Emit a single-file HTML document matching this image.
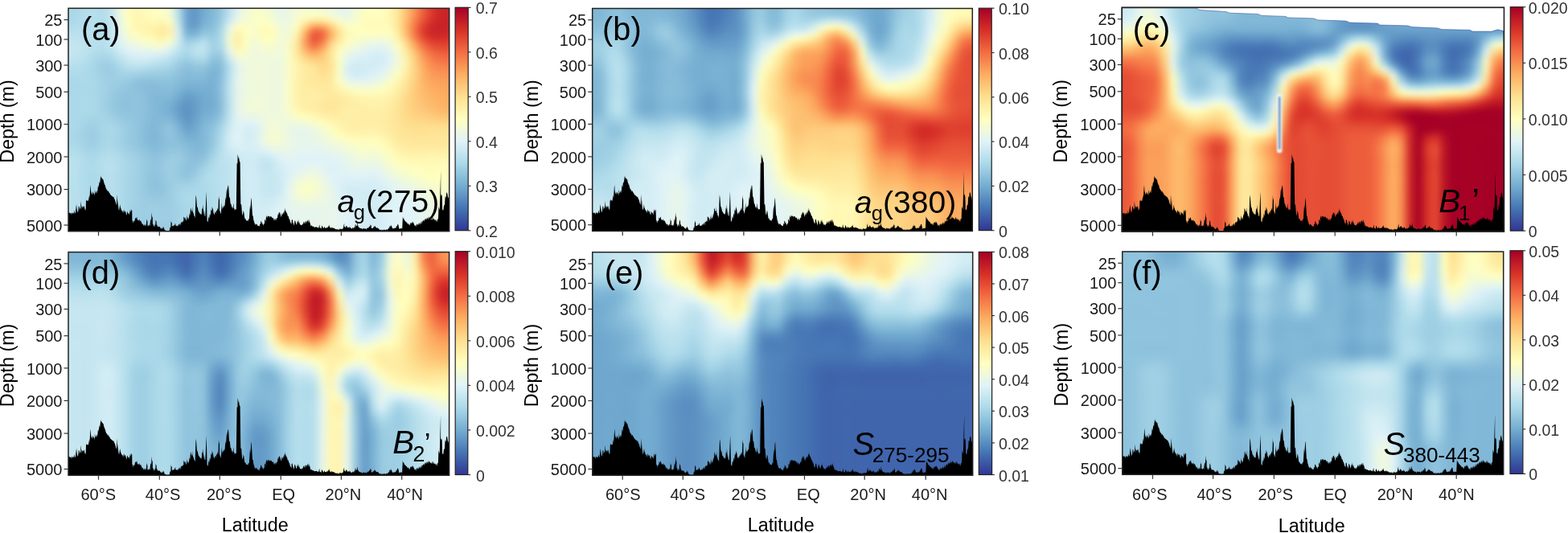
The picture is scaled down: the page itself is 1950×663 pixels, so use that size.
<!DOCTYPE html><html><head><meta charset="utf-8"><style>html,body{margin:0;padding:0;background:#fff;}body{position:relative;width:1950px;height:663px;overflow:hidden}svg{display:block;position:absolute;left:0;top:0}.hm{position:absolute;overflow:hidden}.hm>div{position:absolute;filter:blur(3.0px)}.hm>div>div{width:100%}text{font-family:"Liberation Sans",Arial,sans-serif}</style></head><body><div class="hm" style="left:85.0px;top:10.3px;width:473.7px;height:277.4px"><div style="left:-10px;top:-10px;width:493.7px;height:297.4px"><div style="height:7.43px;background:linear-gradient(90deg,#abd9e9 0.0%,#a9d7e8 2.1%,#abd9e9 4.3%,#b5deec 6.4%,#b7dfed 8.5%,#b2dceb 10.6%,#c3e5f0 12.8%,#eaf7e6 14.9%,#fffebe 17.0%,#fff7b3 19.1%,#fffab8 21.3%,#ffffbf 23.4%,#feffc0 25.5%,#f3fad5 27.7%,#b7dfec 29.8%,#6aa1cb 31.9%,#6197c5 34.0%,#75aed1 36.2%,#81b7d7 38.3%,#95c8df 40.4%,#c0e3ef 42.6%,#e5f5ee 44.7%,#f3fad5 46.8%,#f9fdca 48.9%,#f9fdca 51.1%,#f1fad8 53.2%,#e8f6e9 55.3%,#ebf7e4 57.4%,#f5fbd2 59.6%,#fbfdc7 61.7%,#fbfec6 63.8%,#fafdc9 66.0%,#f4fbd3 68.1%,#e9f7e7 70.2%,#e7f6ea 72.3%,#f5fbd1 74.5%,#fffdbd 76.6%,#fffebe 78.7%,#ffffbf 80.9%,#fff7b2 83.0%,#fee597 85.1%,#fdbe70 87.2%,#f88b51 89.4%,#eb5a3a 91.5%,#da362a 93.6%,#cc2527 95.7%,#c82227 97.9%,#cb2427 100.0%)"></div><div style="height:7.43px;background:linear-gradient(90deg,#aad8e9 0.0%,#a8d7e8 2.1%,#abd9e9 4.3%,#b5deec 6.4%,#b7dfed 8.5%,#b2dceb 10.6%,#c3e5f0 12.8%,#eaf7e5 14.9%,#fffebd 17.0%,#fff7b4 19.1%,#fffbb9 21.3%,#fdfec2 23.4%,#fdfec4 25.5%,#f1fad9 27.7%,#b5deec 29.8%,#6aa1cb 31.9%,#6197c5 34.0%,#74add1 36.2%,#80b7d6 38.3%,#94c7df 40.4%,#bde2ee 42.6%,#e3f4f3 44.7%,#f2fad7 46.8%,#f9fdca 48.9%,#f8fccc 51.1%,#f0f9db 53.2%,#e8f6ea 55.3%,#ebf7e5 57.4%,#f4fbd3 59.6%,#f7fcce 61.7%,#f4fbd2 63.8%,#f3fad5 66.0%,#eff9dd 68.1%,#e6f5ee 70.2%,#e5f5ee 72.3%,#f4fbd2 74.5%,#fffebd 76.6%,#ffffbe 78.7%,#ffffbf 80.9%,#fff7b2 83.0%,#fee597 85.1%,#fdc071 87.2%,#f98e52 89.4%,#ec5d3b 91.5%,#db382b 93.6%,#cc2627 95.7%,#c92227 97.9%,#cb2527 100.0%)"></div><div style="height:7.43px;background:linear-gradient(90deg,#abd9e9 0.0%,#a9d7e8 2.1%,#abd9e9 4.3%,#b5deec 6.4%,#b7dfed 8.5%,#b2dceb 10.6%,#c3e5f0 12.8%,#eaf7e6 14.9%,#fffebe 17.0%,#fff7b3 19.1%,#fffab8 21.3%,#ffffbf 23.4%,#ffffc0 25.5%,#f3fad5 27.7%,#b7dfec 29.8%,#6aa1cb 31.9%,#6197c5 34.0%,#75aed1 36.2%,#81b7d7 38.3%,#95c8e0 40.4%,#c0e3ef 42.6%,#e5f5ee 44.7%,#f3fad5 46.8%,#f9fdca 48.9%,#f9fdca 51.1%,#f1fad8 53.2%,#e8f6e9 55.3%,#ebf7e4 57.4%,#f5fbd2 59.6%,#fbfdc7 61.7%,#fbfec6 63.8%,#fafdc9 66.0%,#f4fbd3 68.1%,#e9f7e7 70.2%,#e8f6ea 72.3%,#f5fbd1 74.5%,#fffdbd 76.6%,#fffebe 78.7%,#ffffbf 80.9%,#fff7b2 83.0%,#fee597 85.1%,#fdbe70 87.2%,#f88b51 89.4%,#eb5a3a 91.5%,#da362a 93.6%,#cc2527 95.7%,#c82227 97.9%,#cb2427 100.0%)"></div><div style="height:7.43px;background:linear-gradient(90deg,#aedaea 0.0%,#acdae9 2.1%,#aedbea 4.3%,#b6deec 6.4%,#b7dfec 8.5%,#b1dceb 10.6%,#c2e4ef 12.8%,#e8f6e9 14.9%,#ffffc0 17.0%,#fff6b2 19.1%,#fff7b2 21.3%,#fffab7 23.4%,#fff6b2 25.5%,#fdfec2 27.7%,#c0e3ef 29.8%,#6aa1cb 31.9%,#6297c6 34.0%,#79b1d3 36.2%,#83b9d8 38.3%,#9bcce2 40.4%,#d0ebf4 42.6%,#f0f9db 44.7%,#f6fccf 46.8%,#fafdc9 48.9%,#fdfec2 51.1%,#f7fccd 53.2%,#ecf8e2 55.3%,#ecf7e3 57.4%,#f9fdca 59.6%,#fff2ab 61.7%,#fee395 63.8%,#fee496 66.0%,#fff2ab 68.1%,#fafdc9 70.2%,#f1fad9 72.3%,#f9fdca 74.5%,#fffcbb 76.6%,#fffcbb 78.7%,#fffdbc 80.9%,#fff7b3 83.0%,#fee597 85.1%,#fdb96c 87.2%,#f67d4b 89.4%,#e44c34 91.5%,#d42d27 93.6%,#c92327 95.7%,#c72127 97.9%,#c92227 100.0%)"></div><div style="height:7.43px;background:linear-gradient(90deg,#b3ddeb 0.0%,#b2dceb 2.1%,#b3ddeb 4.3%,#b8dfed 6.4%,#b7dfec 8.5%,#b1dceb 10.6%,#c1e4ef 12.8%,#e6f5ed 14.9%,#fcfec4 17.0%,#fff6b2 19.1%,#fff4ae 21.3%,#fff3ad 23.4%,#feeca2 25.5%,#fff5b0 27.7%,#cce9f2 29.8%,#6da5cd 31.9%,#679dc9 34.0%,#82b8d7 36.2%,#88bdda 38.3%,#a2d2e5 40.4%,#e4f5f0 42.6%,#ffffbf 44.7%,#fbfec6 46.8%,#fafdc9 48.9%,#fffbb9 51.1%,#ffffbf 53.2%,#f0f9da 55.3%,#edf8e0 57.4%,#ffffbe 59.6%,#fed485 61.7%,#fa9c59 63.8%,#fb9f5a 66.0%,#fecb7c 68.1%,#feefa7 70.2%,#fdfec2 72.3%,#fdfec2 74.5%,#fffcba 76.6%,#fffbb9 78.7%,#fffdbb 80.9%,#fff9b7 83.0%,#fee69a 85.1%,#fdb567 87.2%,#f46f44 89.4%,#dd3c2c 91.5%,#cc2627 93.6%,#c82127 95.7%,#c72127 97.9%,#c72127 100.0%)"></div><div style="height:7.43px;background:linear-gradient(90deg,#b9e0ed 0.0%,#b9e0ed 2.1%,#b9e0ed 4.3%,#bae1ed 6.4%,#b7dfec 8.5%,#b3ddeb 10.6%,#c1e4ef 12.8%,#e3f4f2 14.9%,#f7fccd 17.0%,#fffbb9 19.1%,#fff6b1 21.3%,#fff2ab 23.4%,#feea9f 25.5%,#fff2ac 27.7%,#d3edf4 29.8%,#79b1d3 31.9%,#77b0d2 34.0%,#94c7df 36.2%,#90c3dd 38.3%,#a9d8e8 40.4%,#f0f9db 42.6%,#fff2ac 44.7%,#feffc0 46.8%,#f8fccd 48.9%,#fffab7 51.1%,#fffbb9 53.2%,#f3fad5 55.3%,#f0f9da 57.4%,#fff6b2 59.6%,#fdb164 61.7%,#eb5a3a 63.8%,#f0653f 66.0%,#fdaf62 68.1%,#fee495 70.2%,#fff9b6 72.3%,#feffc0 74.5%,#feffc0 76.6%,#ffffc0 78.7%,#fdfec3 80.9%,#ffffbf 83.0%,#feeba1 85.1%,#fdb96b 87.2%,#f46f44 89.4%,#db392b 91.5%,#cc2627 93.6%,#cc2527 95.7%,#cc2627 97.9%,#cc2527 100.0%)"></div><div style="height:7.43px;background:linear-gradient(90deg,#c0e3ef 0.0%,#c1e4ef 2.1%,#c0e3ef 4.3%,#bde2ee 6.4%,#b8dfed 8.5%,#b5deec 10.6%,#c2e4f0 12.8%,#e1f3f7 14.9%,#f0f9da 17.0%,#f9fdcb 19.1%,#feffc0 21.3%,#fffab7 23.4%,#fff4af 25.5%,#fffebd 27.7%,#d1ecf4 29.8%,#90c4dd 31.9%,#97c9e0 34.0%,#addaea 36.2%,#9acce2 38.3%,#acdae9 40.4%,#f4fbd2 42.6%,#feeda4 44.7%,#ffffc0 46.8%,#f3fad4 48.9%,#ffffbf 51.1%,#fffebe 53.2%,#f3fad6 55.3%,#f4fbd3 57.4%,#feeea5 59.6%,#fb9e5a 61.7%,#e54e35 63.8%,#f26941 66.0%,#fdba6d 68.1%,#fee89c 70.2%,#fffbb9 72.3%,#fafdc9 74.5%,#f6fbd0 76.6%,#f4fbd4 78.7%,#f2fad6 80.9%,#f6fccf 83.0%,#fff4ae 85.1%,#fec87a 87.2%,#f7834d 89.4%,#e44b33 91.5%,#d83328 93.6%,#d73027 95.7%,#d73127 97.9%,#d73127 100.0%)"></div><div style="height:7.43px;background:linear-gradient(90deg,#c5e6f0 0.0%,#c6e6f1 2.1%,#c4e5f0 4.3%,#bfe3ef 6.4%,#b8dfed 8.5%,#b5deec 10.6%,#c1e4ef 12.8%,#daf0f6 14.9%,#e8f6ea 17.0%,#ecf8e2 19.1%,#f1fad9 21.3%,#f7fcce 23.4%,#f8fccd 25.5%,#edf8e1 27.7%,#c8e7f1 29.8%,#a6d5e7 31.9%,#b4deec 34.0%,#c0e3ef 36.2%,#a2d1e5 38.3%,#aad8e8 40.4%,#f1fad8 42.6%,#fff0a8 44.7%,#fcfec5 46.8%,#eff9dd 48.9%,#f8fccc 51.1%,#f9fdca 53.2%,#f0f9da 55.3%,#f7fccd 57.4%,#fee89d 59.6%,#fba25c 61.7%,#f16740 63.8%,#f98f53 66.0%,#fed787 68.1%,#fff5af 70.2%,#fbfdc7 72.3%,#f2fad8 74.5%,#ebf7e4 76.6%,#e7f6ec 78.7%,#e6f5ed 80.9%,#ecf8e1 83.0%,#fffebd 85.1%,#fedd8d 87.2%,#fba25c 89.4%,#f26841 91.5%,#e44c34 93.6%,#e14430 95.7%,#e04430 97.9%,#e14430 100.0%)"></div><div style="height:7.43px;background:linear-gradient(90deg,#c5e6f0 0.0%,#c6e6f1 2.1%,#c4e5f0 4.3%,#bde2ee 6.4%,#b4deec 8.5%,#b0dcea 10.6%,#bae0ed 12.8%,#cfebf3 14.9%,#dff2f8 17.0%,#e2f4f4 19.1%,#e5f5ef 21.3%,#e8f6ea 23.4%,#e5f5ef 25.5%,#d7eff5 27.7%,#bae1ed 29.8%,#abd9e9 31.9%,#bde2ee 34.0%,#c3e5f0 36.2%,#9fd0e4 38.3%,#a1d1e5 40.4%,#e7f6eb 42.6%,#fffab8 44.7%,#f8fccc 46.8%,#edf8e0 48.9%,#f3fad6 51.1%,#f3fad5 53.2%,#eef8de 55.3%,#f9fdc9 57.4%,#fee89d 59.6%,#fdb76a 61.7%,#fa9556 63.8%,#fdb567 66.0%,#fee598 68.1%,#fffebe 70.2%,#f0f9db 72.3%,#e8f6ea 74.5%,#e2f4f4 76.6%,#dbf1f7 78.7%,#daf0f6 80.9%,#e4f5f0 83.0%,#f8fccc 85.1%,#fee99d 87.2%,#fdba6c 89.4%,#f7844e 91.5%,#f0643f 93.6%,#ea593a 95.7%,#e95739 97.9%,#ea5839 100.0%)"></div><div style="height:7.43px;background:linear-gradient(90deg,#c0e3ef 0.0%,#c1e4ef 2.1%,#c0e3ef 4.3%,#b8e0ed 6.4%,#aedbea 8.5%,#a7d6e7 10.6%,#addaea 12.8%,#c0e3ef 14.9%,#d0ebf3 17.0%,#d6eef5 19.1%,#d7eff6 21.3%,#d4edf5 23.4%,#ceeaf3 25.5%,#c0e3ef 27.7%,#abd9e9 29.8%,#a1d1e4 31.9%,#b0dcea 34.0%,#b4deec 36.2%,#94c7df 38.3%,#93c6df 40.4%,#d3edf4 42.6%,#f5fbd2 44.7%,#f3fad5 46.8%,#eef8df 48.9%,#f0f9da 51.1%,#eff9dc 53.2%,#edf8df 55.3%,#fafdc9 57.4%,#feeda3 59.6%,#fed283 61.7%,#fdc072 63.8%,#fec87a 66.0%,#fee598 68.1%,#fcfec4 70.2%,#e5f5ee 72.3%,#ddf1f7 74.5%,#daf0f6 76.6%,#d4edf5 78.7%,#d3edf4 80.9%,#e0f3f8 83.0%,#f2fad6 85.1%,#fff0a8 87.2%,#fec879 89.4%,#fa9857 91.5%,#f57748 93.6%,#f36b42 95.7%,#f26941 97.9%,#f36a42 100.0%)"></div><div style="height:7.43px;background:linear-gradient(90deg,#b9e0ed 0.0%,#bae1ed 2.1%,#b9e0ed 4.3%,#b3ddeb 6.4%,#a9d7e8 8.5%,#9fcfe4 10.6%,#a1d1e5 12.8%,#b1dceb 14.9%,#c1e4ef 17.0%,#c8e7f1 19.1%,#c6e6f1 21.3%,#bee2ee 23.4%,#b8dfed 25.5%,#b0dbea 27.7%,#9dcee3 29.8%,#92c5de 31.9%,#9ccde3 34.0%,#a0d0e4 36.2%,#87bdd9 38.3%,#88bdda 40.4%,#bee2ee 42.6%,#e8f6e9 44.7%,#eff9dc 46.8%,#f0f9db 48.9%,#f0f9da 51.1%,#eef8df 53.2%,#edf8e0 55.3%,#f9fdca 57.4%,#fff2ab 59.6%,#fee698 61.7%,#fedd8e 63.8%,#fed484 66.0%,#fee192 68.1%,#fcfec5 70.2%,#dcf1f7 72.3%,#d1ecf4 74.5%,#d4edf5 76.6%,#d3ecf4 78.7%,#d4edf5 80.9%,#e0f3f8 83.0%,#f2fad7 85.1%,#fff2ab 87.2%,#fece80 89.4%,#fca55d 91.5%,#f8874f 93.6%,#f67b4a 95.7%,#f67949 97.9%,#f67b49 100.0%)"></div><div style="height:7.43px;background:linear-gradient(90deg,#b3ddeb 0.0%,#b3ddeb 2.1%,#b3ddeb 4.3%,#afdbea 6.4%,#a7d6e7 8.5%,#9dcde3 10.6%,#9ccde2 12.8%,#a8d6e7 14.9%,#b2ddeb 17.0%,#b5deec 19.1%,#b1dceb 21.3%,#aad8e9 23.4%,#a7d6e7 25.5%,#a2d2e5 27.7%,#94c6df 29.8%,#89beda 31.9%,#8fc2dd 34.0%,#90c3dd 36.2%,#7fb5d6 38.3%,#84bad8 40.4%,#b6deec 42.6%,#e3f4f2 44.7%,#eef8de 46.8%,#f1f9da 48.9%,#f0f9da 51.1%,#edf8df 53.2%,#edf8e0 55.3%,#f9fdca 57.4%,#fff4ae 59.6%,#feeca2 61.7%,#fee79a 63.8%,#fedb8b 66.0%,#fee292 68.1%,#fbfdc7 70.2%,#d6eef5 72.3%,#cce9f2 74.5%,#d2ecf4 76.6%,#d5edf5 78.7%,#daf0f6 80.9%,#e6f5ed 83.0%,#f7fccd 85.1%,#fff0a8 87.2%,#fed081 89.4%,#fdac60 91.5%,#f99254 93.6%,#f88950 95.7%,#f88850 97.9%,#f88950 100.0%)"></div><div style="height:7.43px;background:linear-gradient(90deg,#aedaea 0.0%,#aedaea 2.1%,#aedaea 4.3%,#addaea 6.4%,#a8d7e8 8.5%,#9fcfe4 10.6%,#9ccde2 12.8%,#a2d1e5 14.9%,#a4d3e6 17.0%,#a0d0e4 19.1%,#9bcce2 21.3%,#99cbe1 23.4%,#99cbe1 25.5%,#97c9e0 27.7%,#8dc1dc 29.8%,#85bbd9 31.9%,#88bdda 34.0%,#87bcd9 36.2%,#7ab2d4 38.3%,#86bbd9 40.4%,#b9e0ed 42.6%,#e4f5f0 44.7%,#eef9de 46.8%,#f0f9da 48.9%,#f0f9da 51.1%,#edf8df 53.2%,#edf8e0 55.3%,#f9fdc9 57.4%,#fff3ad 59.6%,#feeba1 61.7%,#fee89c 63.8%,#fee091 66.0%,#fee598 68.1%,#fafdc8 70.2%,#dbf1f7 72.3%,#d0ebf4 74.5%,#d6eef5 76.6%,#dbf1f7 78.7%,#e4f4f1 80.9%,#f0f9db 83.0%,#fffebe 85.1%,#feeba0 87.2%,#fecf80 89.4%,#fdb063 91.5%,#fa9b58 93.6%,#fa9656 95.7%,#fa9555 97.9%,#fa9556 100.0%)"></div><div style="height:7.43px;background:linear-gradient(90deg,#abd9e9 0.0%,#aad8e9 2.1%,#abd9e9 4.3%,#acdae9 6.4%,#aad8e8 8.5%,#a2d2e5 10.6%,#9dcee3 12.8%,#9dcee3 14.9%,#99cbe1 17.0%,#91c4dd 19.1%,#8cc0db 21.3%,#8dc1dc 23.4%,#90c3dd 25.5%,#8fc3dd 27.7%,#88bdda 29.8%,#81b7d7 31.9%,#82b8d7 34.0%,#80b7d6 36.2%,#78b0d3 38.3%,#89beda 40.4%,#bee2ee 42.6%,#e7f6ec 44.7%,#eff9dd 46.8%,#f0f9db 48.9%,#f0f9da 51.1%,#eef8df 53.2%,#edf8e0 55.3%,#fafdc9 57.4%,#fff2ab 59.6%,#feea9f 61.7%,#fee89d 63.8%,#fee496 66.0%,#fee99d 68.1%,#feffc1 70.2%,#e7f6eb 72.3%,#e1f3f6 74.5%,#e3f4f3 76.6%,#e6f5ed 78.7%,#edf8e0 80.9%,#fafdc9 83.0%,#fff6b1 85.1%,#fee598 87.2%,#fecc7d 89.4%,#fdb366 91.5%,#fca35c 93.6%,#fb9f5a 95.7%,#fb9f5a 97.9%,#fb9f5a 100.0%)"></div><div style="height:7.43px;background:linear-gradient(90deg,#aad8e9 0.0%,#aad8e8 2.1%,#aad8e9 4.3%,#acd9e9 6.4%,#aad8e9 8.5%,#a3d3e6 10.6%,#9ccde3 12.8%,#98cae1 14.9%,#93c6df 17.0%,#8dc1dc 19.1%,#88bdda 21.3%,#86bcd9 23.4%,#89beda 25.5%,#8abfdb 27.7%,#81b8d7 29.8%,#77b0d2 31.9%,#79b1d3 34.0%,#7bb2d4 36.2%,#77afd2 38.3%,#8abfdb 40.4%,#c0e3ef 42.6%,#e7f6eb 44.7%,#eef9de 46.8%,#eff9dc 48.9%,#f0f9da 51.1%,#eef8df 53.2%,#edf8e0 55.3%,#fafdc8 57.4%,#fff2ab 59.6%,#feeba1 61.7%,#feeba1 63.8%,#fee89d 66.0%,#feea9f 68.1%,#fff7b3 70.2%,#f8fccc 72.3%,#f2fad8 74.5%,#f1fad9 76.6%,#f3fad5 78.7%,#f9fdcb 80.9%,#fffcbb 83.0%,#fff0a8 85.1%,#fee192 87.2%,#feca7b 89.4%,#fdb769 91.5%,#fdab60 93.6%,#fca75e 95.7%,#fca65d 97.9%,#fca75e 100.0%)"></div><div style="height:7.43px;background:linear-gradient(90deg,#abd9e9 0.0%,#aad8e9 2.1%,#abd9e9 4.3%,#acd9e9 6.4%,#aad8e9 8.5%,#a3d3e6 10.6%,#9bcce2 12.8%,#94c6df 14.9%,#90c4dd 17.0%,#8fc3dd 19.1%,#8abeda 21.3%,#83b9d8 23.4%,#85bad8 25.5%,#86bbd9 27.7%,#79b1d3 29.8%,#6da5cd 31.9%,#70a8cf 34.0%,#76afd2 36.2%,#75aed2 38.3%,#8abfdb 40.4%,#bfe3ef 42.6%,#e6f5ec 44.7%,#eef8de 46.8%,#f0f9db 48.9%,#f0f9da 51.1%,#edf8df 53.2%,#edf8e0 55.3%,#fafdc8 57.4%,#fff2ab 59.6%,#feeda3 61.7%,#feefa6 63.8%,#feeca2 66.0%,#fee99d 68.1%,#feeea5 70.2%,#fff6b1 72.3%,#fffbba 74.5%,#fffebd 76.6%,#fffdbc 78.7%,#fffbb9 80.9%,#fff6b1 83.0%,#feeba1 85.1%,#fedd8d 87.2%,#fec97a 89.4%,#fdbb6d 91.5%,#fdb264 93.6%,#fdac60 95.7%,#fdab60 97.9%,#fdac60 100.0%)"></div><div style="height:7.43px;background:linear-gradient(90deg,#abd9e9 0.0%,#abd9e9 2.1%,#abd9e9 4.3%,#acdae9 6.4%,#aad9e9 8.5%,#a3d3e6 10.6%,#99cae1 12.8%,#90c4dd 14.9%,#8fc2dd 17.0%,#91c4de 19.1%,#8cc0dc 21.3%,#83b9d7 23.4%,#81b7d7 25.5%,#7fb6d6 27.7%,#70a9cf 29.8%,#649ac7 31.9%,#6aa1cb 34.0%,#73acd0 36.2%,#74acd1 38.3%,#88bdda 40.4%,#bee2ee 42.6%,#e6f5ed 44.7%,#eff9dc 46.8%,#f1fad9 48.9%,#f1f9d9 51.1%,#edf8df 53.2%,#edf8e0 55.3%,#fafdc8 57.4%,#fff2ab 59.6%,#feeda4 61.7%,#feefa7 63.8%,#feeba1 66.0%,#fee79a 68.1%,#fee99d 70.2%,#feeea5 72.3%,#fff1ab 74.5%,#fff4ae 76.6%,#fff4af 78.7%,#fff4ae 80.9%,#fff1a9 83.0%,#fee89c 85.1%,#fed989 87.2%,#fec97a 89.4%,#fdbe70 91.5%,#fdb668 93.6%,#fdb062 95.7%,#fdae61 97.9%,#fdaf62 100.0%)"></div><div style="height:7.43px;background:linear-gradient(90deg,#abd9e9 0.0%,#abd9e9 2.1%,#abd9e9 4.3%,#addaea 6.4%,#abd9e9 8.5%,#a3d2e5 10.6%,#98c9e1 12.8%,#8fc3dd 14.9%,#8ec2dc 17.0%,#91c4de 19.1%,#8dc1dc 21.3%,#83b9d8 23.4%,#7eb5d5 25.5%,#78b0d3 27.7%,#69a0ca 29.8%,#5f94c4 31.9%,#679ec9 34.0%,#72abd0 36.2%,#73abd0 38.3%,#86bcd9 40.4%,#bde2ee 42.6%,#e7f6ec 44.7%,#f1f9d9 46.8%,#f2fad6 48.9%,#f1fad9 51.1%,#edf8df 53.2%,#edf8e0 55.3%,#fafdc9 57.4%,#fff3ad 59.6%,#feeda4 61.7%,#feeda4 63.8%,#fee99e 66.0%,#fee598 68.1%,#fee89d 70.2%,#feeda4 72.3%,#feefa7 74.5%,#fff0a8 76.6%,#fff1a9 78.7%,#fff0a9 80.9%,#feeda4 83.0%,#fee598 85.1%,#fed788 87.2%,#feca7b 89.4%,#fdc274 91.5%,#fdba6c 93.6%,#fdb365 95.7%,#fdb164 97.9%,#fdb265 100.0%)"></div><div style="height:7.43px;background:linear-gradient(90deg,#abd9e9 0.0%,#abd9e9 2.1%,#abd9e9 4.3%,#acdae9 6.4%,#aad9e9 8.5%,#a3d3e6 10.6%,#99cbe1 12.8%,#91c4de 14.9%,#8fc2dd 17.0%,#90c4dd 19.1%,#8cc0dc 21.3%,#84bad8 23.4%,#7eb5d5 25.5%,#76aed2 27.7%,#669dc9 29.8%,#5c91c2 31.9%,#679ec9 34.0%,#74add1 36.2%,#75aed1 38.3%,#88bdda 40.4%,#bee2ee 42.6%,#e6f5ec 44.7%,#eff9dc 46.8%,#f1f9d9 48.9%,#f0f9da 51.1%,#eef8de 53.2%,#eef8df 55.3%,#f8fccd 57.4%,#fff8b4 59.6%,#fff1aa 61.7%,#feefa6 63.8%,#feea9f 66.0%,#fee79b 68.1%,#feeba1 70.2%,#fff0a8 72.3%,#fff0a8 74.5%,#feefa7 76.6%,#fff0a8 78.7%,#feefa7 80.9%,#feeba1 83.0%,#fee495 85.1%,#fed788 87.2%,#fecd7e 89.4%,#fec779 91.5%,#fdc072 93.6%,#fdb96c 95.7%,#fdb86a 97.9%,#fdb96b 100.0%)"></div><div style="height:7.43px;background:linear-gradient(90deg,#abd9e9 0.0%,#abd9e9 2.1%,#abd9e9 4.3%,#a9d8e8 6.4%,#a7d6e7 8.5%,#a4d4e6 10.6%,#9fcfe4 12.8%,#97c9e0 14.9%,#92c5de 17.0%,#91c4de 19.1%,#8bc0db 21.3%,#83b9d8 23.4%,#82b8d7 25.5%,#7db4d5 27.7%,#6ba2cb 29.8%,#5e93c3 31.9%,#69a0ca 34.0%,#79b1d3 36.2%,#7cb4d5 38.3%,#90c3dd 40.4%,#c2e4ef 42.6%,#e5f5ef 44.7%,#e9f6e8 46.8%,#eaf7e6 48.9%,#eef8df 51.1%,#eff9dc 53.2%,#eff9dd 55.3%,#f3fad5 57.4%,#fcfec5 59.6%,#fffdbb 61.7%,#fff8b5 63.8%,#fff2ab 66.0%,#feeea5 68.1%,#feeea5 70.2%,#feefa7 72.3%,#feefa7 74.5%,#feefa7 76.6%,#feefa7 78.7%,#feeea5 80.9%,#feea9f 83.0%,#fee395 85.1%,#feda8a 87.2%,#fed384 89.4%,#fed081 91.5%,#fecb7c 93.6%,#fdc678 95.7%,#fdc577 97.9%,#fdc677 100.0%)"></div><div style="height:7.43px;background:linear-gradient(90deg,#abd9e9 0.0%,#addae9 2.1%,#abd9e9 4.3%,#a4d4e6 6.4%,#a2d2e5 8.5%,#a6d5e7 10.6%,#a6d5e7 12.8%,#9ecfe3 14.9%,#97c9e0 17.0%,#92c5de 19.1%,#8abfdb 21.3%,#82b8d7 23.4%,#87bcd9 25.5%,#89beda 27.7%,#74add1 29.8%,#6398c6 31.9%,#6ca4cc 34.0%,#7fb6d6 36.2%,#87bcd9 38.3%,#9bcce2 40.4%,#c8e7f1 42.6%,#e2f4f4 44.7%,#e0f3f8 46.8%,#e1f3f7 48.9%,#ebf7e4 51.1%,#f1fad9 53.2%,#f0f9db 55.3%,#eef9de 57.4%,#eff9dc 59.6%,#f3fad6 61.7%,#f8fccb 63.8%,#fffebe 66.0%,#fff7b3 68.1%,#fff1aa 70.2%,#feeea5 72.3%,#feeea5 74.5%,#feefa6 76.6%,#feefa7 78.7%,#feeda4 80.9%,#fee99e 83.0%,#fee496 85.1%,#fede8e 87.2%,#feda8a 89.4%,#fed98a 91.5%,#fed888 93.6%,#fed686 95.7%,#fed586 97.9%,#fed586 100.0%)"></div><div style="height:7.43px;background:linear-gradient(90deg,#abd9e9 0.0%,#addae9 2.1%,#aad8e9 4.3%,#a0d0e4 6.4%,#9dcee3 8.5%,#a7d6e7 10.6%,#abd9e9 12.8%,#a3d3e5 14.9%,#9acbe1 17.0%,#93c6df 19.1%,#89bdda 21.3%,#81b7d7 23.4%,#8abeda 25.5%,#92c5de 27.7%,#7eb5d6 29.8%,#6aa1cb 31.9%,#70a9cf 34.0%,#83b9d8 36.2%,#8ec2dc 38.3%,#a5d5e7 40.4%,#ceeaf3 42.6%,#e1f3f6 44.7%,#d5eef5 46.8%,#d7eef5 48.9%,#eaf7e6 51.1%,#f3fbd4 53.2%,#f1fad8 55.3%,#ebf7e3 57.4%,#e7f6eb 59.6%,#e8f6e9 61.7%,#eef8df 63.8%,#f5fbd1 66.0%,#feffc1 68.1%,#fff6b2 70.2%,#fff0a8 72.3%,#feefa7 74.5%,#fff0a9 76.6%,#fff1aa 78.7%,#feefa7 80.9%,#feeaa0 83.0%,#fee598 85.1%,#fee192 87.2%,#fee090 89.4%,#fee091 91.5%,#fee191 93.6%,#fee191 95.7%,#fee191 97.9%,#fee191 100.0%)"></div><div style="height:7.43px;background:linear-gradient(90deg,#aad8e8 0.0%,#acd9e9 2.1%,#a9d7e8 4.3%,#9ecfe4 6.4%,#9bcde2 8.5%,#a6d5e7 10.6%,#abd9e9 12.8%,#a3d3e6 14.9%,#99cbe1 17.0%,#92c5de 19.1%,#88bdda 21.3%,#80b7d6 23.4%,#88bdda 25.5%,#92c5de 27.7%,#85bad8 29.8%,#73acd0 31.9%,#75aed2 34.0%,#84b9d8 36.2%,#91c4de 38.3%,#acd9e9 40.4%,#d3edf4 42.6%,#e1f4f6 44.7%,#d2ecf4 46.8%,#d5eef5 48.9%,#ecf7e3 51.1%,#f6fccf 53.2%,#f3fad5 55.3%,#ecf7e3 57.4%,#e6f5ed 59.6%,#e5f5ee 61.7%,#e9f7e7 63.8%,#f0f9db 66.0%,#f8fccc 68.1%,#fffebd 70.2%,#fff7b3 72.3%,#fff5b0 74.5%,#fff5b0 76.6%,#fff6b1 78.7%,#fff3ad 80.9%,#feeda4 83.0%,#fee79b 85.1%,#fee495 87.2%,#fee394 89.4%,#fee395 91.5%,#fee496 93.6%,#fee497 95.7%,#fee497 97.9%,#fee497 100.0%)"></div><div style="height:7.43px;background:linear-gradient(90deg,#aad8e8 0.0%,#acd9e9 2.1%,#a9d7e8 4.3%,#9fd0e4 6.4%,#9ccde3 8.5%,#a6d5e7 10.6%,#aad8e9 12.8%,#a2d2e5 14.9%,#99cae1 17.0%,#92c5de 19.1%,#88bdda 21.3%,#81b7d6 23.4%,#86bcd9 25.5%,#8fc3dd 27.7%,#89beda 29.8%,#7db4d5 31.9%,#7bb3d4 34.0%,#83b9d7 36.2%,#92c5de 38.3%,#b0dbea 40.4%,#d5edf5 42.6%,#e1f3f6 44.7%,#d4edf5 46.8%,#d7eff6 48.9%,#ecf8e2 51.1%,#f6fbd0 53.2%,#f3fad6 55.3%,#ecf8e1 57.4%,#e8f6ea 59.6%,#e6f6ec 61.7%,#e8f6e9 63.8%,#edf8e0 66.0%,#f2fad6 68.1%,#f8fccc 70.2%,#fdfec3 72.3%,#fffdbc 74.5%,#fffcba 76.6%,#fffdbb 78.7%,#fffab7 80.9%,#fff1aa 83.0%,#feea9f 85.1%,#fee69a 87.2%,#fee598 89.4%,#fee699 91.5%,#fee699 93.6%,#fee699 95.7%,#fee69a 97.9%,#fee699 100.0%)"></div><div style="height:7.43px;background:linear-gradient(90deg,#addaea 0.0%,#afdbea 2.1%,#acdae9 4.3%,#a3d3e6 6.4%,#a0d0e4 8.5%,#a9d7e8 10.6%,#acdae9 12.8%,#a4d4e6 14.9%,#9bcce2 17.0%,#95c7df 19.1%,#8cc0db 21.3%,#84bad8 23.4%,#88bdda 25.5%,#90c4dd 27.7%,#8fc3dd 29.8%,#87bcd9 31.9%,#80b6d6 34.0%,#83b9d8 36.2%,#96c8e0 38.3%,#b4ddeb 40.4%,#d1ecf4 42.6%,#ddf1f7 44.7%,#d5eef5 46.8%,#d8eff6 48.9%,#e6f5ed 51.1%,#eef8de 53.2%,#eef8de 55.3%,#ebf7e4 57.4%,#e8f6ea 59.6%,#e6f5ee 61.7%,#e6f5ed 63.8%,#e9f6e8 66.0%,#edf8e1 68.1%,#f0f9db 70.2%,#f4fbd3 72.3%,#fafdc9 74.5%,#fcfec5 76.6%,#fbfdc7 78.7%,#feffc0 80.9%,#fff6b2 83.0%,#feeea6 85.1%,#feeba0 87.2%,#feea9f 89.4%,#feea9f 91.5%,#feeaa0 93.6%,#feea9f 95.7%,#feea9f 97.9%,#feea9f 100.0%)"></div><div style="height:7.43px;background:linear-gradient(90deg,#b3ddeb 0.0%,#b4deec 2.1%,#b2dceb 4.3%,#a9d7e8 6.4%,#a6d5e7 8.5%,#aedbea 10.6%,#b2dceb 12.8%,#aad8e9 14.9%,#a1d1e5 17.0%,#9bcce2 19.1%,#92c5de 21.3%,#8abfdb 23.4%,#8dc1dc 25.5%,#96c8e0 27.7%,#95c8e0 29.8%,#8dc1dc 31.9%,#84bad8 34.0%,#87bdd9 36.2%,#9dcee3 38.3%,#b8dfed 40.4%,#cae8f2 42.6%,#d2ecf4 44.7%,#d4edf5 46.8%,#d4edf5 48.9%,#d8eff6 51.1%,#e1f3f6 53.2%,#e6f5ec 55.3%,#e7f6eb 57.4%,#e4f5f0 59.6%,#e2f4f4 61.7%,#e2f4f4 63.8%,#e4f4f1 66.0%,#e6f5ed 68.1%,#e9f6e7 70.2%,#eef8df 72.3%,#f4fbd4 74.5%,#f6fccf 76.6%,#f5fbd1 78.7%,#f8fccb 80.9%,#fffcbb 83.0%,#fff4af 85.1%,#fff0a9 87.2%,#fff0a8 89.4%,#fff0a9 91.5%,#fff1a9 93.6%,#fff0a9 95.7%,#fff0a8 97.9%,#fff0a9 100.0%)"></div><div style="height:7.43px;background:linear-gradient(90deg,#b8dfed 0.0%,#b9e0ed 2.1%,#b7dfec 4.3%,#aedaea 6.4%,#abd9e9 8.5%,#b4ddeb 10.6%,#b7dfec 12.8%,#b0dbea 14.9%,#a7d5e7 17.0%,#a0d0e4 19.1%,#97c9e0 21.3%,#8fc3dd 23.4%,#93c6df 25.5%,#9ccde2 27.7%,#9acbe1 29.8%,#90c3dd 31.9%,#89beda 34.0%,#8fc3dd 36.2%,#a6d5e7 38.3%,#bbe1ed 40.4%,#c3e5f0 42.6%,#c9e8f2 44.7%,#d2ecf4 46.8%,#d0ebf4 48.9%,#c8e7f1 51.1%,#cdeaf3 53.2%,#def2f7 55.3%,#e3f4f3 57.4%,#e1f3f7 59.6%,#dff3f8 61.7%,#e0f3f8 63.8%,#e0f3f8 66.0%,#e1f3f7 68.1%,#e4f5f1 70.2%,#e9f7e7 72.3%,#eff9dd 74.5%,#f0f9da 76.6%,#eff9dc 78.7%,#f3fad6 80.9%,#fcfec5 83.0%,#fffab8 85.1%,#fff7b3 87.2%,#fff6b1 89.4%,#fff6b2 91.5%,#fff7b2 93.6%,#fff6b2 95.7%,#fff6b2 97.9%,#fff6b2 100.0%)"></div><div style="height:7.43px;background:linear-gradient(90deg,#bae0ed 0.0%,#bbe1ee 2.1%,#b9e0ed 4.3%,#b0dbea 6.4%,#addaea 8.5%,#b6deec 10.6%,#b9e0ed 12.8%,#b2dceb 14.9%,#a9d7e8 17.0%,#a2d2e5 19.1%,#99cae1 21.3%,#91c4de 23.4%,#96c8e0 25.5%,#9fcfe4 27.7%,#99cbe1 29.8%,#8fc2dd 31.9%,#8ec2dd 34.0%,#9acce2 36.2%,#addaea 38.3%,#bbe1ee 40.4%,#bfe3ef 42.6%,#c6e6f1 44.7%,#d1ecf4 46.8%,#cfebf3 48.9%,#c2e4f0 51.1%,#c4e5f0 53.2%,#d5eef5 55.3%,#dff2f8 57.4%,#dff3f8 59.6%,#e1f4f5 61.7%,#e3f4f3 63.8%,#e0f3f7 66.0%,#ddf1f7 68.1%,#e1f3f6 70.2%,#e6f5ed 72.3%,#eaf7e6 74.5%,#eaf7e5 76.6%,#e9f7e7 78.7%,#edf8e0 80.9%,#f6fccf 83.0%,#fefec2 85.1%,#fffdbc 87.2%,#fffbb9 89.4%,#fffab8 91.5%,#fffab8 93.6%,#fffbb8 95.7%,#fffbb9 97.9%,#fffbb8 100.0%)"></div><div style="height:7.43px;background:linear-gradient(90deg,#b9e0ed 0.0%,#bbe1ee 2.1%,#b8e0ed 4.3%,#afdbea 6.4%,#addae9 8.5%,#b5deec 10.6%,#b9e0ed 12.8%,#b1dceb 14.9%,#a8d7e8 17.0%,#a2d1e5 19.1%,#98cae1 21.3%,#91c4de 23.4%,#96c8e0 25.5%,#9ecfe3 27.7%,#97c9e0 29.8%,#8dc1dc 31.9%,#95c7df 34.0%,#a6d5e7 36.2%,#b2ddeb 38.3%,#bae0ed 40.4%,#bfe3ef 42.6%,#c7e7f1 44.7%,#d1ecf4 46.8%,#d0ebf3 48.9%,#c5e6f0 51.1%,#c5e6f0 53.2%,#d1ecf4 55.3%,#dcf1f7 57.4%,#e2f4f5 59.6%,#e7f6eb 61.7%,#eaf7e7 63.8%,#e4f5f0 66.0%,#ddf1f7 68.1%,#dff2f8 70.2%,#e3f4f2 72.3%,#e5f5ef 74.5%,#e4f5f1 76.6%,#e3f4f3 78.7%,#e7f6eb 80.9%,#f0f9da 83.0%,#f8fccc 85.1%,#fbfdc6 87.2%,#feffc0 89.4%,#fffdbc 91.5%,#fffcbb 93.6%,#fffdbc 95.7%,#fffdbd 97.9%,#fffdbc 100.0%)"></div><div style="height:7.43px;background:linear-gradient(90deg,#b8dfed 0.0%,#bae0ed 2.1%,#b7dfed 4.3%,#aedbea 6.4%,#acd9e9 8.5%,#b4ddec 10.6%,#b8dfed 12.8%,#b0dbea 14.9%,#a7d6e7 17.0%,#a0d1e4 19.1%,#97c9e0 21.3%,#8fc3dd 23.4%,#94c7df 25.5%,#9dcee3 27.7%,#97c9e0 29.8%,#91c4dd 31.9%,#9ccde2 34.0%,#addaea 36.2%,#b5deec 38.3%,#b9e0ed 40.4%,#c0e3ef 42.6%,#c9e8f1 44.7%,#d2ecf4 46.8%,#d1ecf4 48.9%,#c8e7f1 51.1%,#c6e6f1 53.2%,#ceeaf3 55.3%,#dcf1f7 57.4%,#e7f6eb 59.6%,#eff9dc 61.7%,#f1fad9 63.8%,#e9f7e7 66.0%,#e0f3f8 68.1%,#ddf1f7 70.2%,#dff3f8 72.3%,#e0f3f8 74.5%,#def2f7 76.6%,#dcf1f7 78.7%,#e2f4f5 80.9%,#ebf7e5 83.0%,#f1fad8 85.1%,#f5fbd1 87.2%,#f9fdca 89.4%,#fefec2 91.5%,#ffffbf 93.6%,#ffffc0 95.7%,#feffc0 97.9%,#ffffc0 100.0%)"></div><div style="height:7.43px;background:linear-gradient(90deg,#b8dfed 0.0%,#bae0ed 2.1%,#b7dfec 4.3%,#aedbea 6.4%,#abd9e9 8.5%,#b4ddeb 10.6%,#b8dfed 12.8%,#b0dbea 14.9%,#a7d6e7 17.0%,#a0d0e4 19.1%,#97c9e0 21.3%,#8ec2dc 23.4%,#92c5de 25.5%,#9ccde2 27.7%,#9ccde3 29.8%,#9bcce2 31.9%,#a3d3e6 34.0%,#aedbea 36.2%,#b4deec 38.3%,#b9e0ed 40.4%,#c0e3ef 42.6%,#c9e8f2 44.7%,#d2ecf4 46.8%,#d1ecf4 48.9%,#c9e8f1 51.1%,#c5e6f0 53.2%,#cce9f2 55.3%,#e0f3f8 57.4%,#eff9dd 59.6%,#f7fcce 61.7%,#f7fccf 63.8%,#eef8df 66.0%,#e3f4f2 68.1%,#dbf1f7 70.2%,#d8eff6 72.3%,#d8eff6 74.5%,#d8eff6 76.6%,#d6eef5 78.7%,#dbf1f7 80.9%,#e4f5f0 83.0%,#eaf7e5 85.1%,#eff9dd 87.2%,#f3fad5 89.4%,#f8fccc 91.5%,#fbfdc7 93.6%,#fcfec5 95.7%,#fcfec4 97.9%,#fcfec5 100.0%)"></div><div style="height:7.43px;background:linear-gradient(90deg,#b8dfed 0.0%,#bae0ed 2.1%,#b7dfed 4.3%,#aedbea 6.4%,#acd9e9 8.5%,#b4ddec 10.6%,#b8dfed 12.8%,#b0dbea 14.9%,#a7d6e7 17.0%,#a0d1e4 19.1%,#97c9e0 21.3%,#8fc2dd 23.4%,#91c5de 25.5%,#9bcde2 27.7%,#a3d3e6 29.8%,#a7d6e7 31.9%,#a9d7e8 34.0%,#acdae9 36.2%,#b2ddeb 38.3%,#b9e0ed 40.4%,#c0e3ef 42.6%,#c9e8f1 44.7%,#d1ecf4 46.8%,#d1ecf4 48.9%,#c8e7f1 51.1%,#c3e5f0 53.2%,#cbe9f2 55.3%,#e3f4f3 57.4%,#f4fbd3 59.6%,#fbfec6 61.7%,#f9fccb 63.8%,#f0f9da 66.0%,#e6f5ec 68.1%,#dbf1f7 70.2%,#d3ecf4 72.3%,#d3ecf4 74.5%,#d4edf5 76.6%,#d3edf4 78.7%,#d6eef5 80.9%,#dff2f8 83.0%,#e5f5f0 85.1%,#e9f6e8 87.2%,#edf8e0 89.4%,#f1fad8 91.5%,#f6fbd0 93.6%,#f9fdcb 95.7%,#f9fdc9 97.9%,#f9fdca 100.0%)"></div><div style="height:7.43px;background:linear-gradient(90deg,#b8e0ed 0.0%,#bae0ed 2.1%,#b8dfed 4.3%,#afdbea 6.4%,#acd9e9 8.5%,#b4deec 10.6%,#b8dfed 12.8%,#b0dceb 14.9%,#a7d6e7 17.0%,#a0d0e4 19.1%,#99cae1 21.3%,#92c5de 23.4%,#93c6df 25.5%,#9ccde2 27.7%,#a6d5e7 29.8%,#addaea 31.9%,#acd9e9 34.0%,#abd9e9 36.2%,#b1dceb 38.3%,#bae0ed 40.4%,#c0e3ef 42.6%,#c8e7f1 44.7%,#d1ecf4 46.8%,#d1ecf4 48.9%,#cae8f2 51.1%,#c6e6f1 53.2%,#cfebf3 55.3%,#e4f5f0 57.4%,#f4fbd4 59.6%,#f9fdca 61.7%,#f6fbd0 63.8%,#f0f9db 66.0%,#e8f6e9 68.1%,#def2f7 70.2%,#d3edf4 72.3%,#d1ecf4 74.5%,#d2ecf4 76.6%,#d1ecf4 78.7%,#d4edf5 80.9%,#dbf0f6 83.0%,#e1f3f6 85.1%,#e4f5f0 87.2%,#e8f6ea 89.4%,#ecf8e2 91.5%,#f1fad9 93.6%,#f5fbd1 95.7%,#f6fccf 97.9%,#f5fbd1 100.0%)"></div><div style="height:7.43px;background:linear-gradient(90deg,#b8e0ed 0.0%,#bae0ed 2.1%,#b8dfed 4.3%,#afdbea 6.4%,#acd9e9 8.5%,#b4deec 10.6%,#b8dfed 12.8%,#b1dceb 14.9%,#a7d6e7 17.0%,#a0d0e4 19.1%,#9bcce2 21.3%,#98cae1 23.4%,#98cae1 25.5%,#9ccde2 27.7%,#a6d5e7 29.8%,#addaea 31.9%,#acdae9 34.0%,#abd9e9 36.2%,#b1dceb 38.3%,#bae0ed 40.4%,#c0e4ef 42.6%,#c8e7f1 44.7%,#d0ebf4 46.8%,#d2ecf4 48.9%,#ceeaf3 51.1%,#ceeaf3 53.2%,#d6eef5 55.3%,#e4f5f0 57.4%,#eef8de 59.6%,#f1fad9 61.7%,#eff9dd 63.8%,#ecf8e2 66.0%,#e8f6e9 68.1%,#e1f4f5 70.2%,#d8eff6 72.3%,#d4edf4 74.5%,#d2ecf4 76.6%,#d1ecf4 78.7%,#d4edf5 80.9%,#dbf1f7 83.0%,#e0f3f8 85.1%,#e1f4f5 87.2%,#e4f5f0 89.4%,#e9f6e8 91.5%,#eef8df 93.6%,#f2fad7 95.7%,#f3fad5 97.9%,#f2fad7 100.0%)"></div><div style="height:7.43px;background:linear-gradient(90deg,#b8dfed 0.0%,#bae0ed 2.1%,#b8dfed 4.3%,#afdbea 6.4%,#acd9e9 8.5%,#b4ddec 10.6%,#b8dfed 12.8%,#b1dceb 14.9%,#a6d5e7 17.0%,#9fcfe4 19.1%,#9ccde3 21.3%,#9dcee3 23.4%,#9ccde2 25.5%,#9dcde3 27.7%,#a4d3e6 29.8%,#abd9e9 31.9%,#abd9e9 34.0%,#abd9e9 36.2%,#b1dceb 38.3%,#bae0ed 40.4%,#c1e4ef 42.6%,#c8e7f1 44.7%,#d0ebf4 46.8%,#d3edf4 48.9%,#d2ecf4 51.1%,#d4edf5 53.2%,#dcf1f7 55.3%,#e4f4f1 57.4%,#e8f6e9 59.6%,#e9f7e7 61.7%,#e8f6e8 63.8%,#e9f6e8 66.0%,#e8f6ea 68.1%,#e4f5f1 70.2%,#def2f7 72.3%,#d6eef5 74.5%,#d2ecf4 76.6%,#d1ebf4 78.7%,#d5eef5 80.9%,#ddf2f7 83.0%,#e0f3f7 85.1%,#e0f3f8 87.2%,#e2f4f5 89.4%,#e7f6ec 91.5%,#ecf8e2 93.6%,#f0f9db 95.7%,#f0f9da 97.9%,#f0f9db 100.0%)"></div><div style="height:7.43px;background:linear-gradient(90deg,#b8dfed 0.0%,#bae0ed 2.1%,#b8dfed 4.3%,#afdbea 6.4%,#acd9e9 8.5%,#b4ddec 10.6%,#b8dfed 12.8%,#b1dceb 14.9%,#a6d5e7 17.0%,#9fcfe4 19.1%,#9dcee3 21.3%,#9fcfe4 23.4%,#9dcee3 25.5%,#9dcee3 27.7%,#a3d2e5 29.8%,#aad8e9 31.9%,#abd9e9 34.0%,#abd9e9 36.2%,#b2dceb 38.3%,#bae0ed 40.4%,#c1e4ef 42.6%,#c8e7f1 44.7%,#d0ebf3 46.8%,#d4edf4 48.9%,#d3edf4 51.1%,#d7eff5 53.2%,#dff2f8 55.3%,#e3f4f2 57.4%,#e6f5ee 59.6%,#e6f5ed 61.7%,#e6f5ed 63.8%,#e7f6eb 66.0%,#e8f6ea 68.1%,#e5f5ef 70.2%,#e0f3f8 72.3%,#d8eff6 74.5%,#d2ecf4 76.6%,#d1ebf4 78.7%,#d6eef5 80.9%,#def2f7 83.0%,#e1f3f7 85.1%,#dff3f8 87.2%,#e1f3f6 89.4%,#e6f5ed 91.5%,#ebf7e3 93.6%,#eff9dd 95.7%,#eff9dc 97.9%,#eff9dd 100.0%)"></div><div style="height:7.43px;background:linear-gradient(90deg,#b8dfed 0.0%,#bae0ed 2.1%,#b8dfed 4.3%,#afdbea 6.4%,#acd9e9 8.5%,#b4ddec 10.6%,#b8dfed 12.8%,#b1dceb 14.9%,#a6d5e7 17.0%,#9fcfe4 19.1%,#9dcee3 21.3%,#9ecfe3 23.4%,#9dcee3 25.5%,#9dcee3 27.7%,#a3d3e6 29.8%,#aad8e9 31.9%,#abd9e9 34.0%,#abd9e9 36.2%,#b2dceb 38.3%,#bae0ed 40.4%,#c1e4ef 42.6%,#c8e7f1 44.7%,#d0ebf3 46.8%,#d3edf4 48.9%,#d3edf4 51.1%,#d6eef5 53.2%,#def2f7 55.3%,#e3f4f2 57.4%,#e6f5ed 59.6%,#e7f6ec 61.7%,#e7f6ec 63.8%,#e8f6ea 66.0%,#e8f6ea 68.1%,#e5f5f0 70.2%,#e0f3f8 72.3%,#d7eff6 74.5%,#d2ecf4 76.6%,#d1ebf4 78.7%,#d6eef5 80.9%,#def2f7 83.0%,#e0f3f7 85.1%,#dff3f8 87.2%,#e1f4f6 89.4%,#e6f5ed 91.5%,#ebf7e3 93.6%,#eff9dd 95.7%,#f0f9db 97.9%,#eff9dc 100.0%)"></div><div style="height:7.43px;background:linear-gradient(90deg,#b8dfed 0.0%,#bae0ed 2.1%,#b8dfed 4.3%,#afdbea 6.4%,#acd9e9 8.5%,#b4ddec 10.6%,#b8dfed 12.8%,#b1dceb 14.9%,#a6d5e7 17.0%,#9fcfe4 19.1%,#9dcde3 21.3%,#9dcee3 23.4%,#9ccde3 25.5%,#9dcde3 27.7%,#a3d3e6 29.8%,#abd9e9 31.9%,#abd9e9 34.0%,#abd9e9 36.2%,#b1dceb 38.3%,#bae0ed 40.4%,#c1e4ef 42.6%,#c8e7f1 44.7%,#d0ebf3 46.8%,#d3edf4 48.9%,#d2ecf4 51.1%,#d5eef5 53.2%,#ddf1f7 55.3%,#e4f4f1 57.4%,#e8f6ea 59.6%,#e8f6e9 61.7%,#e8f6e9 63.8%,#e8f6e9 66.0%,#e8f6ea 68.1%,#e4f5f0 70.2%,#def2f8 72.3%,#d7eef5 74.5%,#d2ecf4 76.6%,#d1ebf4 78.7%,#d5eef5 80.9%,#ddf2f7 83.0%,#e0f3f7 85.1%,#e0f3f8 87.2%,#e2f4f5 89.4%,#e7f6ec 91.5%,#ecf8e2 93.6%,#eff9dc 95.7%,#f0f9da 97.9%,#f0f9db 100.0%)"></div><div style="height:7.43px;background:linear-gradient(90deg,#b8dfed 0.0%,#bae0ed 2.1%,#b8dfed 4.3%,#afdbea 6.4%,#acd9e9 8.5%,#b4ddec 10.6%,#b8dfed 12.8%,#b1dceb 14.9%,#a6d5e7 17.0%,#9fcfe4 19.1%,#9ccde3 21.3%,#9dcee3 23.4%,#9ccde2 25.5%,#9dcde3 27.7%,#a4d3e6 29.8%,#abd9e9 31.9%,#abd9e9 34.0%,#abd9e9 36.2%,#b1dceb 38.3%,#bae0ed 40.4%,#c1e4ef 42.6%,#c8e7f1 44.7%,#d0ebf4 46.8%,#d3edf4 48.9%,#d2ecf4 51.1%,#d5edf5 53.2%,#ddf1f7 55.3%,#e4f4f1 57.4%,#e8f6ea 59.6%,#e9f6e8 61.7%,#e8f6e9 63.8%,#e8f6e8 66.0%,#e8f6ea 68.1%,#e4f5f1 70.2%,#def2f7 72.3%,#d7eef5 74.5%,#d2ecf4 76.6%,#d1ebf4 78.7%,#d5eef5 80.9%,#ddf2f7 83.0%,#e0f3f7 85.1%,#e0f3f8 87.2%,#e2f4f5 89.4%,#e7f6ec 91.5%,#ecf8e2 93.6%,#eff9dc 95.7%,#f0f9da 97.9%,#f0f9db 100.0%)"></div><div style="height:7.43px;background:linear-gradient(90deg,#b8dfed 0.0%,#bae0ed 2.1%,#b8dfed 4.3%,#afdbea 6.4%,#acd9e9 8.5%,#b4ddec 10.6%,#b8dfed 12.8%,#b1dceb 14.9%,#a6d5e7 17.0%,#9fcfe4 19.1%,#9dcde3 21.3%,#9dcee3 23.4%,#9ccde3 25.5%,#9dcde3 27.7%,#a3d3e6 29.8%,#abd9e9 31.9%,#abd9e9 34.0%,#abd9e9 36.2%,#b1dceb 38.3%,#bae0ed 40.4%,#c1e4ef 42.6%,#c8e7f1 44.7%,#d0ebf3 46.8%,#d3edf4 48.9%,#d2ecf4 51.1%,#d5eef5 53.2%,#ddf1f7 55.3%,#e4f4f1 57.4%,#e8f6ea 59.6%,#e8f6e9 61.7%,#e8f6e9 63.8%,#e8f6e9 66.0%,#e8f6ea 68.1%,#e4f5f0 70.2%,#def2f8 72.3%,#d7eef5 74.5%,#d2ecf4 76.6%,#d1ebf4 78.7%,#d5eef5 80.9%,#ddf2f7 83.0%,#e0f3f7 85.1%,#e0f3f8 87.2%,#e2f4f5 89.4%,#e7f6ec 91.5%,#ecf8e2 93.6%,#eff9dc 95.7%,#f0f9da 97.9%,#f0f9db 100.0%)"></div></div></div><div class="hm" style="left:736.7px;top:10.5px;width:472.6px;height:276.9px"><div style="left:-10px;top:-10px;width:492.6px;height:296.9px"><div style="height:7.42px;background:linear-gradient(90deg,#81b8d7 0.0%,#80b6d6 2.1%,#82b8d7 4.3%,#8bc0db 6.4%,#8fc2dd 8.5%,#87bcd9 10.6%,#80b6d6 12.8%,#80b7d6 14.9%,#82b8d7 17.0%,#82b8d7 19.1%,#7eb5d5 21.3%,#77afd2 23.4%,#6ca4cc 25.5%,#5f94c4 27.7%,#4f81ba 29.8%,#4575b4 31.9%,#4879b6 34.0%,#5183bb 36.2%,#5a8ec1 38.3%,#6ea6cd 40.4%,#90c4dd 42.6%,#9bcde2 44.7%,#87bcd9 46.8%,#87bcd9 48.9%,#a2d2e5 51.1%,#acdae9 53.2%,#a0d0e4 55.3%,#98cae1 57.4%,#98cae1 59.6%,#98cae1 61.7%,#96c9e0 63.8%,#93c6df 66.0%,#8cc0dc 68.1%,#7fb6d6 70.2%,#72abd0 72.3%,#6fa7ce 74.5%,#79b1d3 76.6%,#91c4de 78.7%,#a1d1e5 80.9%,#a6d5e7 83.0%,#b6deec 85.1%,#d4edf5 87.2%,#ecf8e1 89.4%,#fcfec4 91.5%,#fffab8 93.6%,#fff9b6 95.7%,#fff9b6 97.9%,#fff9b6 100.0%)"></div><div style="height:7.42px;background:linear-gradient(90deg,#81b7d7 0.0%,#7fb6d6 2.1%,#82b8d7 4.3%,#8bbfdb 6.4%,#8ec2dc 8.5%,#85bbd9 10.6%,#7fb6d6 12.8%,#80b7d6 14.9%,#82b8d7 17.0%,#80b6d6 19.1%,#7cb3d4 21.3%,#76aed2 23.4%,#6ca3cc 25.5%,#5e93c4 27.7%,#4f80ba 29.8%,#4574b4 31.9%,#4778b6 34.0%,#5083bb 36.2%,#5a8ec1 38.3%,#6ea6cd 40.4%,#90c4dd 42.6%,#9bcce2 44.7%,#87bcd9 46.8%,#86bcd9 48.9%,#a1d1e5 51.1%,#acd9e9 53.2%,#9fcfe4 55.3%,#94c6df 57.4%,#90c3dd 59.6%,#8cc1dc 61.7%,#8abeda 63.8%,#8abfdb 66.0%,#87bcd9 68.1%,#7db4d5 70.2%,#72abd0 72.3%,#6fa7ce 74.5%,#7ab1d3 76.6%,#91c4dd 78.7%,#a0d0e4 80.9%,#a6d5e7 83.0%,#b6deec 85.1%,#d3edf4 87.2%,#ecf8e2 89.4%,#fcfec5 91.5%,#fffcba 93.6%,#fffcba 95.7%,#fffcbb 97.9%,#fffcba 100.0%)"></div><div style="height:7.42px;background:linear-gradient(90deg,#81b8d7 0.0%,#80b6d6 2.1%,#82b8d7 4.3%,#8bc0db 6.4%,#8fc2dd 8.5%,#87bcd9 10.6%,#80b6d6 12.8%,#80b7d6 14.9%,#82b8d7 17.0%,#82b8d7 19.1%,#7eb5d5 21.3%,#77afd2 23.4%,#6ca4cc 25.5%,#5f94c4 27.7%,#4f81ba 29.8%,#4575b4 31.9%,#4879b6 34.0%,#5183bb 36.2%,#5a8ec1 38.3%,#6ea6cd 40.4%,#90c4dd 42.6%,#9bcde2 44.7%,#87bcd9 46.8%,#87bcd9 48.9%,#a2d2e5 51.1%,#acdae9 53.2%,#a0d0e4 55.3%,#98cae1 57.4%,#98cae1 59.6%,#98cae1 61.7%,#96c9e0 63.8%,#93c6df 66.0%,#8cc0dc 68.1%,#7fb6d6 70.2%,#72abd0 72.3%,#6fa7ce 74.5%,#79b1d3 76.6%,#91c4de 78.7%,#a1d1e5 80.9%,#a6d5e7 83.0%,#b6deec 85.1%,#d4edf5 87.2%,#ecf8e1 89.4%,#fcfec4 91.5%,#fffab8 93.6%,#fff9b6 95.7%,#fff9b6 97.9%,#fff9b6 100.0%)"></div><div style="height:7.42px;background:linear-gradient(90deg,#84bad8 0.0%,#83b9d7 2.1%,#85bbd8 4.3%,#8ec2dc 6.4%,#92c5de 8.5%,#8cc0dc 10.6%,#84bad8 12.8%,#81b8d7 14.9%,#85bbd8 17.0%,#8bbfdb 19.1%,#87bcd9 21.3%,#7bb2d4 23.4%,#6ea6cd 25.5%,#6197c5 27.7%,#5184bc 29.8%,#4777b5 31.9%,#4b7cb8 34.0%,#5487bd 36.2%,#5a8fc1 38.3%,#6da5cd 40.4%,#92c5de 42.6%,#9fcfe4 44.7%,#8abfdb 46.8%,#89beda 48.9%,#a5d5e7 51.1%,#b1dceb 53.2%,#a8d7e8 55.3%,#acd9e9 57.4%,#bee2ee 59.6%,#ceeaf3 61.7%,#d1ebf4 63.8%,#c0e3ef 66.0%,#a4d3e6 68.1%,#88bdda 70.2%,#74add1 72.3%,#6da5cd 74.5%,#79b1d3 76.6%,#95c7df 78.7%,#a5d4e6 80.9%,#a6d5e7 83.0%,#b5deec 85.1%,#d6eef5 87.2%,#eef8de 89.4%,#feffc0 91.5%,#fff3ac 93.6%,#feeba1 95.7%,#fee99e 97.9%,#feeba0 100.0%)"></div><div style="height:7.42px;background:linear-gradient(90deg,#8abeda 0.0%,#88bdda 2.1%,#8abfdb 4.3%,#93c6de 6.4%,#98cae1 8.5%,#94c6df 10.6%,#89beda 12.8%,#82b8d7 14.9%,#88bdda 17.0%,#96c8e0 19.1%,#94c6df 21.3%,#81b7d7 23.4%,#71aacf 25.5%,#669cc8 27.7%,#5689be 29.8%,#4b7cb8 31.9%,#5082bb 34.0%,#588cc0 36.2%,#5c90c2 38.3%,#6da4cc 40.4%,#94c7df 42.6%,#a5d4e6 44.7%,#92c5de 46.8%,#93c6de 48.9%,#b2dceb 51.1%,#bfe3ef 53.2%,#bce1ee 55.3%,#ceeaf3 57.4%,#edf8e1 59.6%,#fffcba 61.7%,#fff6b1 63.8%,#f5fbd2 66.0%,#cce9f2 68.1%,#9acbe2 70.2%,#77afd2 72.3%,#6ca3cc 74.5%,#79b1d3 76.6%,#99cbe1 78.7%,#aad8e8 80.9%,#a7d6e7 83.0%,#b6deec 85.1%,#daf0f6 87.2%,#f1fad8 89.4%,#fffbb9 91.5%,#fee69a 93.6%,#fecf80 95.7%,#fec97a 97.9%,#fecd7f 100.0%)"></div><div style="height:7.42px;background:linear-gradient(90deg,#91c4de 0.0%,#8fc3dd 2.1%,#91c4de 4.3%,#9acbe2 6.4%,#9ecfe3 8.5%,#98c9e1 10.6%,#8abfdb 12.8%,#80b7d6 14.9%,#88bdda 17.0%,#9acbe1 19.1%,#9acce2 21.3%,#89bdda 23.4%,#78b0d3 25.5%,#6ca3cc 27.7%,#5c91c2 29.8%,#5285bc 31.9%,#578abf 34.0%,#5e92c3 36.2%,#5f93c4 38.3%,#6ea6cd 40.4%,#98cae1 42.6%,#aedaea 44.7%,#a3d2e5 46.8%,#aad8e9 48.9%,#cce9f2 51.1%,#dff3f8 53.2%,#e2f4f4 55.3%,#f1fad9 57.4%,#fff1aa 59.6%,#fece7f 61.7%,#fdbd6f 63.8%,#fee191 66.0%,#f2fad6 68.1%,#b4ddeb 70.2%,#7cb4d5 72.3%,#6da4cd 74.5%,#7db4d5 76.6%,#9ecfe3 78.7%,#addaea 80.9%,#a9d7e8 83.0%,#b8dfed 85.1%,#e0f3f8 87.2%,#f6fbd0 89.4%,#fff4ae 91.5%,#fed384 93.6%,#fdaa5f 95.7%,#fb9e5a 97.9%,#fca75e 100.0%)"></div><div style="height:7.42px;background:linear-gradient(90deg,#99cae1 0.0%,#97c9e0 2.1%,#99cbe1 4.3%,#a2d2e5 6.4%,#a3d3e6 8.5%,#96c8e0 10.6%,#86bbd9 12.8%,#7cb4d5 14.9%,#82b8d7 17.0%,#91c4de 19.1%,#97c9e0 21.3%,#8fc3dd 23.4%,#81b8d7 25.5%,#72aad0 27.7%,#649ac7 29.8%,#5c90c2 31.9%,#5f93c4 34.0%,#6398c6 36.2%,#6399c7 38.3%,#72abd0 40.4%,#9dcee3 42.6%,#bae0ed 44.7%,#bde2ee 46.8%,#d0ebf3 48.9%,#edf8df 51.1%,#fdfec2 53.2%,#fffab7 55.3%,#feeea5 57.4%,#fed585 59.6%,#fdab60 61.7%,#f98e52 63.8%,#fdad60 66.0%,#feeba0 68.1%,#d4edf5 70.2%,#85bbd9 72.3%,#72aad0 74.5%,#84bad8 76.6%,#a2d2e5 78.7%,#aedaea 80.9%,#abd9e9 83.0%,#bde2ee 85.1%,#e4f5f0 87.2%,#fcfec4 89.4%,#feea9f 91.5%,#fdbc6e 93.6%,#f7854e 95.7%,#f57748 97.9%,#f7814c 100.0%)"></div><div style="height:7.42px;background:linear-gradient(90deg,#9fcfe4 0.0%,#9dcee3 2.1%,#a0d0e4 4.3%,#a9d8e8 6.4%,#a8d7e8 8.5%,#94c7df 10.6%,#80b6d6 12.8%,#78b0d3 14.9%,#7bb3d4 17.0%,#85bbd8 19.1%,#8fc3dd 21.3%,#93c6de 23.4%,#89beda 25.5%,#77b0d3 27.7%,#6ba3cc 29.8%,#669dc8 31.9%,#679dc9 34.0%,#689fc9 36.2%,#689fca 38.3%,#79b1d3 40.4%,#a4d3e6 42.6%,#c8e7f1 44.7%,#dcf1f7 46.8%,#eff9dd 48.9%,#fff6b1 51.1%,#fee293 53.2%,#fed283 55.3%,#fec97a 57.4%,#fdbb6d 59.6%,#fa9857 61.7%,#f57647 63.8%,#f67e4b 66.0%,#fdc375 68.1%,#ecf8e2 70.2%,#94c7df 72.3%,#7db4d5 74.5%,#8fc3dd 76.6%,#a4d4e6 78.7%,#addaea 80.9%,#afdbea 83.0%,#c5e6f0 85.1%,#eaf7e6 87.2%,#fff9b6 89.4%,#fedd8d 91.5%,#fca55d 93.6%,#f36a42 95.7%,#ed5d3c 97.9%,#f16740 100.0%)"></div><div style="height:7.42px;background:linear-gradient(90deg,#a0d0e4 0.0%,#9dcee3 2.1%,#a1d1e4 4.3%,#aedaea 6.4%,#aedbea 8.5%,#96c9e0 10.6%,#7fb6d6 12.8%,#76afd2 14.9%,#77afd2 17.0%,#7eb5d5 19.1%,#89beda 21.3%,#91c5de 23.4%,#8abfdb 25.5%,#7ab2d4 27.7%,#71a9cf 29.8%,#6ea6cd 31.9%,#6ea6cd 34.0%,#6da5cd 36.2%,#6ea6cd 38.3%,#81b7d6 40.4%,#aedaea 42.6%,#d8eff6 44.7%,#edf8e0 46.8%,#fffcbb 48.9%,#fee293 51.1%,#fdc173 53.2%,#fdb063 55.3%,#fdad60 57.4%,#fca95f 59.6%,#f88c51 61.7%,#f26841 63.8%,#f0643f 66.0%,#fca55d 68.1%,#fdfec3 70.2%,#acdae9 72.3%,#90c4dd 74.5%,#9bcce2 76.6%,#a6d5e7 78.7%,#acdae9 80.9%,#b2ddeb 83.0%,#cdeaf3 85.1%,#f1f9da 87.2%,#feefa7 89.4%,#fec87a 91.5%,#f88d52 93.6%,#eb5b3b 95.7%,#e65035 97.9%,#ea5839 100.0%)"></div><div style="height:7.42px;background:linear-gradient(90deg,#9bcce2 0.0%,#97c9e0 2.1%,#9ccde3 4.3%,#b0dbea 6.4%,#b5deec 8.5%,#9ecee3 10.6%,#83b9d8 12.8%,#77b0d2 14.9%,#77afd2 17.0%,#7eb5d5 19.1%,#87bcd9 21.3%,#8cc0dc 23.4%,#86bbd9 25.5%,#7ab2d3 27.7%,#74acd1 29.8%,#73acd0 31.9%,#73acd1 34.0%,#72abd0 36.2%,#72abd0 38.3%,#87bcd9 40.4%,#b9e0ed 42.6%,#e5f5ee 44.7%,#f9fdca 46.8%,#fff0a8 48.9%,#fed283 51.1%,#fdb466 53.2%,#fba25b 55.3%,#fba05b 57.4%,#fb9c59 59.6%,#f67e4b 61.7%,#ec5c3b 63.8%,#eb5b3b 66.0%,#fa9857 68.1%,#fff4ae 70.2%,#cbe8f2 72.3%,#a8d7e8 74.5%,#a7d6e7 76.6%,#aad8e9 78.7%,#aedbea 80.9%,#b8dfed 83.0%,#d7eef5 85.1%,#f8fccb 87.2%,#fee597 89.4%,#fdb467 91.5%,#f67a49 93.6%,#e85337 95.7%,#e44b33 97.9%,#e75136 100.0%)"></div><div style="height:7.42px;background:linear-gradient(90deg,#94c6df 0.0%,#8fc2dd 2.1%,#95c8e0 4.3%,#afdbea 6.4%,#bae0ed 8.5%,#a5d4e6 10.6%,#89beda 12.8%,#79b1d3 14.9%,#78b0d3 17.0%,#81b7d7 19.1%,#87bcd9 21.3%,#87bcd9 23.4%,#80b7d6 25.5%,#78b0d3 27.7%,#75aed1 29.8%,#76afd2 31.9%,#78b0d3 34.0%,#76afd2 36.2%,#75add1 38.3%,#8cc0db 40.4%,#c4e5f0 42.6%,#eff9dd 44.7%,#fffbb9 46.8%,#fee89c 48.9%,#fec97a 51.1%,#fdaf62 53.2%,#fba05b 55.3%,#fb9d59 57.4%,#f99455 59.6%,#f57145 61.7%,#e75136 63.8%,#ea5739 66.0%,#f99354 68.1%,#fee89c 70.2%,#e6f5ed 72.3%,#c1e4ef 74.5%,#b4ddeb 76.6%,#b3ddeb 78.7%,#b8dfed 80.9%,#c4e5f0 83.0%,#e2f4f4 85.1%,#fffdbc 87.2%,#fed787 89.4%,#fb9e5a 91.5%,#f36b42 93.6%,#e65036 95.7%,#e44b33 97.9%,#e64f35 100.0%)"></div><div style="height:7.42px;background:linear-gradient(90deg,#8dc1dc 0.0%,#87bcd9 2.1%,#8fc2dd 4.3%,#addaea 6.4%,#bce1ee 8.5%,#a8d7e8 10.6%,#8bbfdb 12.8%,#79b1d3 14.9%,#78b1d3 17.0%,#82b8d7 19.1%,#87bcd9 21.3%,#84bad8 23.4%,#7db4d5 25.5%,#77afd2 27.7%,#76aed2 29.8%,#78b0d3 31.9%,#7ab2d4 34.0%,#77b0d2 36.2%,#75add1 38.3%,#8ec2dc 40.4%,#cce9f2 42.6%,#f7fcce 44.7%,#fff3ad 46.8%,#fee191 48.9%,#fdc173 51.1%,#fca95e 53.2%,#fa9a58 55.3%,#fa9756 57.4%,#f88c51 59.6%,#f26841 61.7%,#e24832 63.8%,#e65036 66.0%,#f8884f 68.1%,#fed98a 70.2%,#f6fccf 72.3%,#d6eef5 74.5%,#c2e4f0 76.6%,#c4e5f0 78.7%,#cce9f2 80.9%,#d9f0f6 83.0%,#edf8df 85.1%,#fff4ae 87.2%,#fec97a 89.4%,#f88d52 91.5%,#ef623e 93.6%,#e64f35 95.7%,#e44c34 97.9%,#e54e35 100.0%)"></div><div style="height:7.42px;background:linear-gradient(90deg,#87bcd9 0.0%,#81b7d7 2.1%,#8abeda 4.3%,#abd9e9 6.4%,#bce1ee 8.5%,#a8d7e8 10.6%,#8abedb 12.8%,#79b1d3 14.9%,#78b0d3 17.0%,#81b8d7 19.1%,#87bcd9 21.3%,#85bad8 23.4%,#7eb5d5 25.5%,#77afd2 27.7%,#76aed2 29.8%,#78b0d3 31.9%,#7ab2d4 34.0%,#77afd2 36.2%,#73acd0 38.3%,#8ec2dc 40.4%,#d2ecf4 42.6%,#fdfec3 44.7%,#feeca2 46.8%,#fed889 48.9%,#fdbb6d 51.1%,#fba25b 53.2%,#f99254 55.3%,#f98f53 57.4%,#f7864f 59.6%,#ef633e 61.7%,#df422f 63.8%,#e24832 66.0%,#f67949 68.1%,#fdc678 70.2%,#fff9b7 72.3%,#e6f6ec 74.5%,#d5eef5 76.6%,#dbf1f7 78.7%,#e5f5f0 80.9%,#ecf8e2 83.0%,#fbfdc6 85.1%,#feeaa0 87.2%,#fdbd6f 89.4%,#f7804c 91.5%,#ec5c3b 93.6%,#e64f35 95.7%,#e54d34 97.9%,#e54e35 100.0%)"></div><div style="height:7.42px;background:linear-gradient(90deg,#84bad8 0.0%,#7eb5d5 2.1%,#87bcd9 4.3%,#a9d7e8 6.4%,#bbe1ee 8.5%,#a7d6e7 10.6%,#89beda 12.8%,#79b1d3 14.9%,#78b1d3 17.0%,#81b7d7 19.1%,#87bcd9 21.3%,#86bcd9 23.4%,#80b6d6 25.5%,#78b0d3 27.7%,#75aed1 29.8%,#76afd2 31.9%,#79b1d3 34.0%,#76afd2 36.2%,#72abd0 38.3%,#8fc2dd 40.4%,#d8eff6 42.6%,#fffcba 44.7%,#fee89c 46.8%,#fed485 48.9%,#fdb96b 51.1%,#fba05a 53.2%,#f99053 55.3%,#f88c51 57.4%,#f7814c 59.6%,#ee603d 61.7%,#df412f 63.8%,#e14530 66.0%,#f46f44 68.1%,#fdb668 70.2%,#feeba1 72.3%,#f6fbd0 74.5%,#e9f7e7 76.6%,#edf8e0 78.7%,#f5fbd1 80.9%,#fdfec3 83.0%,#fff5b0 85.1%,#fee090 87.2%,#fdb164 89.4%,#f57647 91.5%,#e95739 93.6%,#e64f35 95.7%,#e54e35 97.9%,#e54e35 100.0%)"></div><div style="height:7.42px;background:linear-gradient(90deg,#84bad8 0.0%,#7eb5d5 2.1%,#87bcd9 4.3%,#a8d7e8 6.4%,#bae0ed 8.5%,#a6d5e7 10.6%,#89beda 12.8%,#7ab2d4 14.9%,#79b1d3 17.0%,#82b8d7 19.1%,#88bdda 21.3%,#87bcd9 23.4%,#81b8d7 25.5%,#79b1d3 27.7%,#73acd0 29.8%,#72aad0 31.9%,#76afd2 34.0%,#77afd2 36.2%,#73abd0 38.3%,#90c3dd 40.4%,#ddf2f7 42.6%,#fff8b4 44.7%,#fee699 46.8%,#fed585 48.9%,#fdbb6d 51.1%,#fca75e 53.2%,#fa9b58 55.3%,#f99154 57.4%,#f7804c 59.6%,#ee5f3d 61.7%,#e14531 63.8%,#e34933 66.0%,#f46c43 68.1%,#fca85e 70.2%,#feda8b 72.3%,#fff5af 74.5%,#fdfec2 76.6%,#feffc0 78.7%,#fffab7 80.9%,#fff3ac 83.0%,#fee89b 85.1%,#fed081 87.2%,#fba35c 89.4%,#f46c43 91.5%,#e75337 93.6%,#e54e35 95.7%,#e54e35 97.9%,#e54e35 100.0%)"></div><div style="height:7.42px;background:linear-gradient(90deg,#85bad8 0.0%,#7eb5d5 2.1%,#87bcd9 4.3%,#a9d7e8 6.4%,#bae0ed 8.5%,#a7d5e7 10.6%,#8abeda 12.8%,#7ab2d4 14.9%,#79b1d3 17.0%,#82b8d7 19.1%,#88bdda 21.3%,#87bcd9 23.4%,#82b8d7 25.5%,#79b1d3 27.7%,#70a8cf 29.8%,#6da4cd 31.9%,#73acd0 34.0%,#77afd2 36.2%,#73abd0 38.3%,#91c4dd 40.4%,#e0f3f7 42.6%,#fff6b1 44.7%,#fee699 46.8%,#fed787 48.9%,#fdbf71 51.1%,#fdb164 53.2%,#fcaa5f 55.3%,#fa9c59 57.4%,#f7814c 59.6%,#ee613e 61.7%,#e44c34 63.8%,#e75136 66.0%,#f46e43 68.1%,#fa9957 70.2%,#fdc072 72.3%,#fedc8c 74.5%,#fee89c 76.6%,#feeba1 78.7%,#fee99e 80.9%,#fee496 83.0%,#fed788 85.1%,#fdc071 87.2%,#fa9656 89.4%,#f16640 91.5%,#e65136 93.6%,#e54e35 95.7%,#e54e35 97.9%,#e54e35 100.0%)"></div><div style="height:7.42px;background:linear-gradient(90deg,#84bad8 0.0%,#7db4d5 2.1%,#86bcd9 4.3%,#aad9e9 6.4%,#bde2ee 8.5%,#a7d6e7 10.6%,#88bdda 12.8%,#77afd2 14.9%,#77afd2 17.0%,#80b7d6 19.1%,#86bbd9 21.3%,#84bad8 23.4%,#7fb6d6 25.5%,#77afd2 27.7%,#6da4cd 29.8%,#699fca 31.9%,#70a9cf 34.0%,#75aed2 36.2%,#71a9cf 38.3%,#8ec2dc 40.4%,#dff3f8 42.6%,#fff5b0 44.7%,#fee597 46.8%,#fed788 48.9%,#fdc476 51.1%,#fdb96c 53.2%,#fdb567 55.3%,#fca65d 57.4%,#f8874f 59.6%,#f16640 61.7%,#e75236 63.8%,#ea5839 66.0%,#f46e44 68.1%,#f88950 70.2%,#fba15b 72.3%,#fdb466 74.5%,#fdc173 76.6%,#feca7b 78.7%,#fecd7f 80.9%,#feca7b 83.0%,#fdc173 85.1%,#fdb164 87.2%,#f88c51 89.4%,#f0653f 91.5%,#e75237 93.6%,#e64f35 95.7%,#e64f35 97.9%,#e64f35 100.0%)"></div><div style="height:7.42px;background:linear-gradient(90deg,#82b8d7 0.0%,#7bb2d4 2.1%,#85bbd8 4.3%,#acdae9 6.4%,#c0e3ef 8.5%,#a8d7e8 10.6%,#85bbd9 12.8%,#74add1 14.9%,#74add1 17.0%,#7eb5d5 19.1%,#83b9d8 21.3%,#81b7d7 23.4%,#7bb3d4 25.5%,#74add1 27.7%,#6ba2cb 29.8%,#679dc9 31.9%,#6fa7ce 34.0%,#74add1 36.2%,#6fa7ce 38.3%,#8bbfdb 40.4%,#daf0f6 42.6%,#fff7b3 44.7%,#fee496 46.8%,#fed686 48.9%,#fec879 51.1%,#fdbf71 53.2%,#fdba6c 55.3%,#fdad61 57.4%,#f99254 59.6%,#f46f44 61.7%,#ea593a 63.8%,#ed5e3c 66.0%,#f47044 68.1%,#f67a49 70.2%,#f67f4b 72.3%,#f7854e 74.5%,#f98f53 76.6%,#fa9b58 78.7%,#fca55d 80.9%,#fcaa5f 83.0%,#fca95f 85.1%,#fb9f5a 87.2%,#f7854e 89.4%,#f16640 91.5%,#e95538 93.6%,#e65136 95.7%,#e65036 97.9%,#e65036 100.0%)"></div><div style="height:7.42px;background:linear-gradient(90deg,#84bad8 0.0%,#7db4d5 2.1%,#86bcd9 4.3%,#aad8e9 6.4%,#bde2ee 8.5%,#a7d6e7 10.6%,#88bdda 12.8%,#77b0d2 14.9%,#77afd2 17.0%,#80b7d6 19.1%,#86bbd9 21.3%,#84bad8 23.4%,#7fb6d6 25.5%,#77afd2 27.7%,#6da5cd 29.8%,#6aa0cb 31.9%,#70a9cf 34.0%,#76aed2 36.2%,#72abd0 38.3%,#8dc1dc 40.4%,#d6eef5 42.6%,#fffbb9 44.7%,#fee699 46.8%,#fed888 48.9%,#fecb7c 51.1%,#fdc374 53.2%,#fdbc6e 55.3%,#fdb366 57.4%,#fba05b 59.6%,#f7814c 61.7%,#f26941 63.8%,#f46e43 66.0%,#f67a49 68.1%,#f57748 70.2%,#f36c42 72.3%,#ef643f 74.5%,#ef643f 76.6%,#f46c43 78.7%,#f57848 80.9%,#f7814c 83.0%,#f8864f 85.1%,#f7854e 87.2%,#f57748 89.4%,#ef633e 91.5%,#e95538 93.6%,#e64f35 95.7%,#e54e35 97.9%,#e64f35 100.0%)"></div><div style="height:7.42px;background:linear-gradient(90deg,#8bc0db 0.0%,#87bcd9 2.1%,#8dc1dc 4.3%,#a2d2e5 6.4%,#afdbea 8.5%,#a5d4e6 10.6%,#93c5de 12.8%,#86bcd9 14.9%,#84bad8 17.0%,#8bbfdb 19.1%,#91c4de 21.3%,#92c5de 23.4%,#8fc2dd 25.5%,#86bbd9 27.7%,#79b1d3 29.8%,#72abd0 31.9%,#78b0d3 34.0%,#7fb6d6 36.2%,#81b7d6 38.3%,#9acbe2 40.4%,#d8eff6 42.6%,#fdfec2 44.7%,#feeea5 46.8%,#fee090 48.9%,#fecd7e 51.1%,#fdc274 53.2%,#fdbf71 55.3%,#fdbb6d 57.4%,#fdb164 59.6%,#fa9c59 61.7%,#f88b51 63.8%,#f98f53 66.0%,#fa9555 68.1%,#f88950 70.2%,#f47045 72.3%,#ea593a 74.5%,#e54e35 76.6%,#e85438 78.7%,#ec5b3b 80.9%,#ed5d3c 83.0%,#ee603d 85.1%,#ef623e 87.2%,#ed5f3d 89.4%,#e95739 91.5%,#e64f35 93.6%,#e34a33 95.7%,#e34932 97.9%,#e34933 100.0%)"></div><div style="height:7.42px;background:linear-gradient(90deg,#96c8e0 0.0%,#96c8e0 2.1%,#96c8e0 4.3%,#98cae1 6.4%,#9ccde2 8.5%,#a2d2e5 10.6%,#a2d2e5 12.8%,#9ccde3 14.9%,#99cae1 17.0%,#9bcce2 19.1%,#a2d1e5 21.3%,#a7d6e7 23.4%,#a6d5e7 25.5%,#9ccde2 27.7%,#8cc0db 29.8%,#81b7d7 31.9%,#85bbd9 34.0%,#8fc3dd 36.2%,#96c8e0 38.3%,#aedbea 40.4%,#ddf2f7 42.6%,#f7fccd 44.7%,#fff8b4 46.8%,#fee89c 48.9%,#fed081 51.1%,#fdc173 53.2%,#fdc274 55.3%,#fdc374 57.4%,#fdbe70 59.6%,#fdb769 61.7%,#fdb265 63.8%,#fdb567 66.0%,#fdb567 68.1%,#fca65d 70.2%,#f7854e 72.3%,#ed5e3c 74.5%,#e34933 76.6%,#e54d34 78.7%,#e54e35 80.9%,#e04430 83.0%,#dd3e2d 85.1%,#df402f 87.2%,#e14531 89.4%,#e24731 91.5%,#e14531 93.6%,#e0422f 95.7%,#df422f 97.9%,#e0422f 100.0%)"></div><div style="height:7.42px;background:linear-gradient(90deg,#9ecfe3 0.0%,#a1d1e4 2.1%,#9dcee3 4.3%,#92c5de 6.4%,#90c4dd 8.5%,#a1d1e5 10.6%,#afdbea 12.8%,#b0dbea 14.9%,#acdae9 17.0%,#acd9e9 19.1%,#b2dceb 21.3%,#bae0ed 23.4%,#bae0ed 25.5%,#b0dceb 27.7%,#9fd0e4 29.8%,#93c6de 31.9%,#96c8e0 34.0%,#a1d1e5 36.2%,#acd9e9 38.3%,#c1e4ef 40.4%,#e3f4f3 42.6%,#f4fbd4 44.7%,#feffc1 46.8%,#feefa7 48.9%,#fed384 51.1%,#fdc173 53.2%,#fdc677 55.3%,#feca7b 57.4%,#fec97a 59.6%,#fec87a 61.7%,#feca7b 63.8%,#fecc7d 66.0%,#fec97b 68.1%,#fdbb6d 70.2%,#fa9957 72.3%,#f16740 74.5%,#e44b33 76.6%,#e54d35 78.7%,#e44b33 80.9%,#da372a 83.0%,#d22b27 85.1%,#d32c27 87.2%,#d93429 89.4%,#dd3d2d 91.5%,#df402f 93.6%,#de3f2e 95.7%,#de3f2e 97.9%,#de3f2e 100.0%)"></div><div style="height:7.42px;background:linear-gradient(90deg,#a0d0e4 0.0%,#a3d2e5 2.1%,#9fd0e4 4.3%,#93c6de 6.4%,#92c5de 8.5%,#a5d4e6 10.6%,#b6dfec 12.8%,#bbe1ee 14.9%,#b9e0ed 17.0%,#b8dfed 19.1%,#bee2ee 21.3%,#c6e6f1 23.4%,#c7e7f1 25.5%,#bee2ee 27.7%,#afdbea 29.8%,#a4d4e6 31.9%,#a8d7e8 34.0%,#b2ddeb 36.2%,#bce1ee 38.3%,#cdeaf3 40.4%,#e6f5ee 42.6%,#f2fad6 44.7%,#fafdc8 46.8%,#fff3ad 48.9%,#fed888 51.1%,#fdc577 53.2%,#feca7b 55.3%,#fecf80 57.4%,#fecf80 59.6%,#fed081 61.7%,#fed383 63.8%,#fed585 66.0%,#fed182 68.1%,#fdc375 70.2%,#fba25b 72.3%,#f36c42 74.5%,#e54e35 76.6%,#e65036 78.7%,#e54d34 80.9%,#db382b 83.0%,#d22b27 85.1%,#d32c27 87.2%,#d93529 89.4%,#df402e 91.5%,#e14430 93.6%,#e04330 95.7%,#e04330 97.9%,#e04330 100.0%)"></div><div style="height:7.42px;background:linear-gradient(90deg,#9ecfe4 0.0%,#a0d0e4 2.1%,#9ecfe3 4.3%,#98cae1 6.4%,#9bcce2 8.5%,#abd9e9 10.6%,#bbe1ed 12.8%,#c2e4ef 14.9%,#c2e4ef 17.0%,#c1e4ef 19.1%,#c6e6f1 21.3%,#ceeaf3 23.4%,#ceeaf3 25.5%,#c5e6f0 27.7%,#b9e0ed 29.8%,#b3ddeb 31.9%,#b8dfed 34.0%,#c0e3ef 36.2%,#c7e7f1 38.3%,#d4edf5 40.4%,#e7f6eb 42.6%,#f2fad6 44.7%,#f9fdca 46.8%,#fff5b0 48.9%,#fedd8d 51.1%,#fecb7c 53.2%,#fecf80 55.3%,#fed384 57.4%,#fed283 59.6%,#fed283 61.7%,#fed384 63.8%,#fed686 66.0%,#fed384 68.1%,#fdc576 70.2%,#fca55d 72.3%,#f57145 74.5%,#e85438 76.6%,#e95739 78.7%,#e85438 80.9%,#df412f 83.0%,#d93429 85.1%,#da362a 87.2%,#de3f2e 89.4%,#e34932 91.5%,#e44c34 93.6%,#e44b33 95.7%,#e44a33 97.9%,#e44b33 100.0%)"></div><div style="height:7.42px;background:linear-gradient(90deg,#9ccde3 0.0%,#9ccde3 2.1%,#9ccde3 4.3%,#9dcee3 6.4%,#a3d3e6 8.5%,#b1dceb 10.6%,#bfe3ef 12.8%,#c7e7f1 14.9%,#c8e7f1 17.0%,#c7e7f1 19.1%,#cdeaf3 21.3%,#d5eef5 23.4%,#d3edf4 25.5%,#c9e8f1 27.7%,#bfe3ef 29.8%,#bce1ee 31.9%,#c3e5f0 34.0%,#cae8f2 36.2%,#cdeaf3 38.3%,#d7eff5 40.4%,#e7f6eb 42.6%,#f1fad9 44.7%,#f7fccd 46.8%,#fff8b4 48.9%,#fee191 51.1%,#fed081 53.2%,#fed485 55.3%,#fed888 57.4%,#fed687 59.6%,#fed485 61.7%,#fed485 63.8%,#fed787 66.0%,#fed485 68.1%,#fdc678 70.2%,#fca95f 72.3%,#f67b49 74.5%,#ef623e 76.6%,#f0643f 78.7%,#ee613d 80.9%,#e54d34 83.0%,#df402f 85.1%,#e04330 87.2%,#e44a33 89.4%,#e75136 91.5%,#e85337 93.6%,#e75236 95.7%,#e75136 97.9%,#e75236 100.0%)"></div><div style="height:7.42px;background:linear-gradient(90deg,#9bcde2 0.0%,#9bcce2 2.1%,#9ccde2 4.3%,#9fd0e4 6.4%,#a9d7e8 8.5%,#b7dfed 10.6%,#c5e6f0 12.8%,#cdeaf3 14.9%,#ceeaf3 17.0%,#cce9f2 19.1%,#d2ecf4 21.3%,#dbf1f7 23.4%,#d7eff5 25.5%,#c9e8f2 27.7%,#c0e4ef 29.8%,#c1e4ef 31.9%,#c9e8f2 34.0%,#d0ebf3 36.2%,#d1ebf4 38.3%,#d7eef5 40.4%,#e5f5ef 42.6%,#eef8de 44.7%,#f4fbd3 46.8%,#fffab8 48.9%,#fee395 51.1%,#fed485 53.2%,#fed989 55.3%,#fedd8d 57.4%,#fedb8b 59.6%,#fed989 61.7%,#fed989 63.8%,#fedc8c 66.0%,#fed989 68.1%,#feca7b 70.2%,#fdaf62 72.3%,#f88950 74.5%,#f57547 76.6%,#f67948 78.7%,#f57145 80.9%,#ea593a 83.0%,#e44b33 85.1%,#e54d34 87.2%,#e85337 89.4%,#e95739 91.5%,#ea5739 93.6%,#e95739 95.7%,#e95639 97.9%,#e95739 100.0%)"></div><div style="height:7.42px;background:linear-gradient(90deg,#9dcee3 0.0%,#9ccde2 2.1%,#9dcee3 4.3%,#a2d2e5 6.4%,#addaea 8.5%,#bce1ee 10.6%,#c9e8f2 12.8%,#d1ecf4 14.9%,#d2ecf4 17.0%,#d0ebf4 19.1%,#d7eff6 21.3%,#e0f3f8 23.4%,#d8eff6 25.5%,#c8e7f1 27.7%,#c1e4ef 29.8%,#c4e6f0 31.9%,#cdeaf3 34.0%,#d3ecf4 36.2%,#d1ecf4 38.3%,#d5eef5 40.4%,#e2f4f4 42.6%,#eaf7e5 44.7%,#f1f9d9 46.8%,#fffdbd 48.9%,#fee79a 51.1%,#fed98a 53.2%,#fedd8d 55.3%,#fee191 57.4%,#fee090 59.6%,#fede8e 61.7%,#fedf8f 63.8%,#fee192 66.0%,#fedf8f 68.1%,#fece7f 70.2%,#fdb568 72.3%,#fa9757 74.5%,#f88a50 76.6%,#f88d52 78.7%,#f7834d 80.9%,#f16640 83.0%,#e95639 85.1%,#eb5a3a 87.2%,#ec5d3c 89.4%,#ec5d3c 91.5%,#ec5c3b 93.6%,#ec5c3b 95.7%,#ec5d3b 97.9%,#ec5d3b 100.0%)"></div><div style="height:7.42px;background:linear-gradient(90deg,#a1d1e5 0.0%,#a0d0e4 2.1%,#a1d1e5 4.3%,#a8d6e8 6.4%,#b2ddeb 8.5%,#bee2ee 10.6%,#c9e8f2 12.8%,#d1ecf4 14.9%,#d5edf5 17.0%,#d6eef5 19.1%,#dcf1f7 21.3%,#e1f3f7 23.4%,#d7eef5 25.5%,#c6e6f1 27.7%,#c2e4f0 29.8%,#c9e8f2 31.9%,#d1ecf4 34.0%,#d3edf4 36.2%,#d1ebf4 38.3%,#d3edf4 40.4%,#dff2f8 42.6%,#e7f6ec 44.7%,#edf8df 46.8%,#fdfec2 48.9%,#feeba0 51.1%,#fedf8f 53.2%,#fee191 55.3%,#fee394 57.4%,#fee293 59.6%,#fee293 61.7%,#fee394 63.8%,#fee597 66.0%,#fee294 68.1%,#fed384 70.2%,#fdbb6d 72.3%,#fca35c 74.5%,#fa9957 76.6%,#fb9c59 78.7%,#f99254 80.9%,#f57647 83.0%,#f16740 85.1%,#f36a42 87.2%,#f36b42 89.4%,#f16640 91.5%,#f0653f 93.6%,#f06640 95.7%,#f16640 97.9%,#f16640 100.0%)"></div><div style="height:7.42px;background:linear-gradient(90deg,#a6d5e7 0.0%,#a5d4e6 2.1%,#a7d6e7 4.3%,#aedbea 6.4%,#b7dfed 8.5%,#c0e3ef 10.6%,#c8e7f1 12.8%,#d0ebf3 14.9%,#d6eef5 17.0%,#dbf0f7 19.1%,#e0f3f8 21.3%,#e1f3f7 23.4%,#d5edf5 25.5%,#c5e6f0 27.7%,#c5e6f0 29.8%,#cfebf3 31.9%,#d4edf5 34.0%,#d3edf4 36.2%,#d0ebf4 38.3%,#d2ecf4 40.4%,#dbf1f7 42.6%,#e3f4f2 44.7%,#ebf7e4 46.8%,#fafdc9 48.9%,#fff0a9 51.1%,#fee597 53.2%,#fee495 55.3%,#fee597 57.4%,#fee597 59.6%,#fee597 61.7%,#fee598 63.8%,#fee79b 66.0%,#fee598 68.1%,#fed787 70.2%,#fdc072 72.3%,#fdad61 74.5%,#fca45d 76.6%,#fca75e 78.7%,#fb9e5a 80.9%,#f8874f 83.0%,#f67c4a 85.1%,#f67e4b 87.2%,#f67c4a 89.4%,#f57346 91.5%,#f47044 93.6%,#f57245 95.7%,#f57245 97.9%,#f57245 100.0%)"></div><div style="height:7.42px;background:linear-gradient(90deg,#acd9e9 0.0%,#abd9e9 2.1%,#acdae9 4.3%,#b2ddeb 6.4%,#bae1ed 8.5%,#c2e4ef 10.6%,#c8e7f1 12.8%,#cfebf3 14.9%,#d6eef5 17.0%,#def2f7 19.1%,#e2f4f4 21.3%,#e2f4f5 23.4%,#d6eef5 25.5%,#c7e7f1 27.7%,#c9e8f2 29.8%,#d3edf4 31.9%,#d5eef5 34.0%,#d3ecf4 36.2%,#d2ecf4 38.3%,#d4edf5 40.4%,#daf0f6 42.6%,#e1f4f5 44.7%,#e8f6e8 46.8%,#f6fbd0 48.9%,#fff7b3 51.1%,#feeca2 53.2%,#fee99e 55.3%,#fee99d 57.4%,#fee99d 59.6%,#fee89c 61.7%,#fee89c 63.8%,#feea9f 66.0%,#fee89c 68.1%,#fedb8b 70.2%,#fdc476 72.3%,#fdb467 74.5%,#fdaf62 76.6%,#fdb164 78.7%,#fdaa5f 80.9%,#fa9756 83.0%,#f98e52 85.1%,#f99053 87.2%,#f88c51 89.4%,#f7814c 91.5%,#f67e4b 93.6%,#f77f4c 95.7%,#f7804c 97.9%,#f7804c 100.0%)"></div><div style="height:7.42px;background:linear-gradient(90deg,#b1dceb 0.0%,#b1dceb 2.1%,#b1dceb 4.3%,#b3ddeb 6.4%,#bae1ed 8.5%,#c5e6f0 10.6%,#cdeaf3 12.8%,#d0ebf4 14.9%,#d5eef5 17.0%,#def2f7 19.1%,#e3f4f2 21.3%,#e4f5f0 23.4%,#dbf1f7 25.5%,#cde9f2 27.7%,#cde9f2 29.8%,#d4edf5 31.9%,#d4edf5 34.0%,#d3ecf4 36.2%,#d5eef5 38.3%,#d9f0f6 40.4%,#dcf1f7 42.6%,#e1f3f7 44.7%,#e7f6ec 46.8%,#f2fad7 48.9%,#ffffbe 51.1%,#fff5b0 53.2%,#fff1ab 55.3%,#fff0a8 57.4%,#feefa6 59.6%,#feeca3 61.7%,#feeba1 63.8%,#feeda3 66.0%,#feeba0 68.1%,#fedf8f 70.2%,#fec97a 72.3%,#fdbc6e 74.5%,#fdb96c 76.6%,#fdbb6e 78.7%,#fdb567 80.9%,#fca45c 83.0%,#fa9b58 85.1%,#fb9d59 87.2%,#fa9957 89.4%,#f98f52 91.5%,#f88b51 93.6%,#f88d52 95.7%,#f88d52 97.9%,#f88d52 100.0%)"></div><div style="height:7.42px;background:linear-gradient(90deg,#b6deec 0.0%,#b6deec 2.1%,#b5deec 4.3%,#b4ddec 6.4%,#bae0ed 8.5%,#c9e8f1 10.6%,#d3ecf4 12.8%,#d3ecf4 14.9%,#d4edf5 17.0%,#dcf1f7 19.1%,#e4f5f1 21.3%,#e7f6eb 23.4%,#e1f3f6 25.5%,#d2ecf4 27.7%,#cfebf3 29.8%,#d3edf4 31.9%,#d3edf4 34.0%,#d3edf4 36.2%,#d9f0f6 38.3%,#dff2f8 40.4%,#dff3f8 42.6%,#e0f3f7 44.7%,#e5f5ef 46.8%,#eef8df 48.9%,#f8fccc 51.1%,#ffffbf 53.2%,#fffbb9 55.3%,#fff9b5 57.4%,#fff5b0 59.6%,#fff1a9 61.7%,#feeea5 63.8%,#feefa7 66.0%,#feeea5 68.1%,#fee293 70.2%,#fece7f 72.3%,#fdc476 74.5%,#fdc375 76.6%,#fdc577 78.7%,#fdbe70 80.9%,#fdaf62 83.0%,#fca65d 85.1%,#fca85e 87.2%,#fca45c 89.4%,#fa9a58 91.5%,#fa9756 93.6%,#fa9957 95.7%,#fa9957 97.9%,#fa9957 100.0%)"></div><div style="height:7.42px;background:linear-gradient(90deg,#bbe1ee 0.0%,#bce1ee 2.1%,#bbe1ed 4.3%,#b8dfed 6.4%,#bce2ee 8.5%,#cce9f2 10.6%,#d6eef5 12.8%,#d4edf5 14.9%,#d4edf5 17.0%,#dbf1f7 19.1%,#e4f5f0 21.3%,#e9f6e8 23.4%,#e4f4f1 25.5%,#d6eef5 27.7%,#d0ebf4 29.8%,#d2ecf4 31.9%,#d2ecf4 34.0%,#d3edf4 36.2%,#dbf1f7 38.3%,#e1f3f6 40.4%,#e1f3f7 42.6%,#e0f3f7 44.7%,#e3f4f2 46.8%,#e9f6e7 48.9%,#f0f9da 51.1%,#f6fbd0 53.2%,#fafdc9 55.3%,#feffc1 57.4%,#fffbb9 59.6%,#fff5af 61.7%,#fff1aa 63.8%,#fff3ac 66.0%,#fff1aa 68.1%,#fee598 70.2%,#fed484 72.3%,#fecb7c 74.5%,#fecb7d 76.6%,#fecd7e 78.7%,#fdc678 80.9%,#fdb86a 83.0%,#fdb265 85.1%,#fdb466 87.2%,#fdaf62 89.4%,#fca45c 91.5%,#fba05b 93.6%,#fba25c 95.7%,#fba35c 97.9%,#fba25c 100.0%)"></div><div style="height:7.42px;background:linear-gradient(90deg,#c1e4ef 0.0%,#c2e4ef 2.1%,#c1e4ef 4.3%,#bee2ee 6.4%,#c2e4ef 8.5%,#ceeaf3 10.6%,#d5eef5 12.8%,#d4edf5 14.9%,#d4edf5 17.0%,#dbf1f7 19.1%,#e4f5f0 21.3%,#e9f6e8 23.4%,#e4f4f1 25.5%,#d6eef5 27.7%,#d1ebf4 29.8%,#d2ecf4 31.9%,#d2ecf4 34.0%,#d3edf4 36.2%,#dbf1f7 38.3%,#e1f3f6 40.4%,#e1f3f6 42.6%,#e0f3f8 44.7%,#e1f3f6 46.8%,#e5f5ef 48.9%,#eaf7e5 51.1%,#eff9dd 53.2%,#f3fad6 55.3%,#f8fccb 57.4%,#fffebe 59.6%,#fff8b4 61.7%,#fff5af 63.8%,#fff6b2 66.0%,#fff4af 68.1%,#fee89d 70.2%,#fed989 72.3%,#fed182 74.5%,#fed182 76.6%,#fed283 78.7%,#fecd7e 80.9%,#fdc173 83.0%,#fdbd6f 85.1%,#fdbf71 87.2%,#fdb86b 89.4%,#fdac60 91.5%,#fca65e 93.6%,#fca95f 95.7%,#fcaa5f 97.9%,#fca95f 100.0%)"></div><div style="height:7.42px;background:linear-gradient(90deg,#c5e6f0 0.0%,#c5e6f0 2.1%,#c5e6f0 4.3%,#c3e5f0 6.4%,#c6e6f1 8.5%,#cfeaf3 10.6%,#d4edf5 12.8%,#d3edf4 14.9%,#d4edf5 17.0%,#dcf1f7 19.1%,#e4f5f0 21.3%,#e8f6e9 23.4%,#e3f4f3 25.5%,#d5edf5 27.7%,#d0ebf3 29.8%,#d3ecf4 31.9%,#d2ecf4 34.0%,#d3edf4 36.2%,#daf0f6 38.3%,#e1f3f7 40.4%,#e1f3f6 42.6%,#dff3f8 44.7%,#dff2f8 46.8%,#e2f4f5 48.9%,#e6f5ed 51.1%,#eaf7e5 53.2%,#eef8de 55.3%,#f5fbd1 57.4%,#fefec2 59.6%,#fffab7 61.7%,#fff7b3 63.8%,#fff9b5 66.0%,#fff7b2 68.1%,#feeba0 70.2%,#fedd8d 72.3%,#fed485 74.5%,#fed484 76.6%,#fed585 78.7%,#fed182 80.9%,#fec87a 83.0%,#fdc678 85.1%,#fec879 87.2%,#fdbf71 89.4%,#fdb063 91.5%,#fcaa5f 93.6%,#fdad61 95.7%,#fdae61 97.9%,#fdae61 100.0%)"></div><div style="height:7.42px;background:linear-gradient(90deg,#c7e7f1 0.0%,#c7e7f1 2.1%,#c7e6f1 4.3%,#c6e6f1 6.4%,#c8e7f1 8.5%,#cfebf3 10.6%,#d3edf4 12.8%,#d3ecf4 14.9%,#d4edf5 17.0%,#dcf1f7 19.1%,#e4f5f0 21.3%,#e8f6e9 23.4%,#e2f4f3 25.5%,#d4edf5 27.7%,#d0ebf3 29.8%,#d3edf4 31.9%,#d2ecf4 34.0%,#d3edf4 36.2%,#daf0f6 38.3%,#e0f3f7 40.4%,#e1f3f7 42.6%,#dff3f8 44.7%,#def2f7 46.8%,#e1f3f7 48.9%,#e5f5ef 51.1%,#e9f6e8 53.2%,#edf8e1 55.3%,#f4fbd3 57.4%,#fdfec3 59.6%,#fffab8 61.7%,#fff8b4 63.8%,#fffab7 66.0%,#fff8b4 68.1%,#feeca2 70.2%,#fede8e 72.3%,#fed586 74.5%,#fed485 76.6%,#fed586 78.7%,#fed283 80.9%,#fecb7c 83.0%,#feca7b 85.1%,#fecb7c 87.2%,#fdc173 89.4%,#fdb164 91.5%,#fdab60 93.6%,#fdae61 95.7%,#fdb062 97.9%,#fdaf62 100.0%)"></div><div style="height:7.42px;background:linear-gradient(90deg,#c6e6f1 0.0%,#c7e7f1 2.1%,#c6e6f1 4.3%,#c5e6f0 6.4%,#c8e7f1 8.5%,#cfebf3 10.6%,#d3edf4 12.8%,#d3ecf4 14.9%,#d4edf5 17.0%,#dcf1f7 19.1%,#e4f5f0 21.3%,#e8f6e9 23.4%,#e3f4f3 25.5%,#d4edf5 27.7%,#d0ebf3 29.8%,#d3ecf4 31.9%,#d2ecf4 34.0%,#d3edf4 36.2%,#daf0f6 38.3%,#e0f3f7 40.4%,#e1f3f7 42.6%,#dff3f8 44.7%,#def2f7 46.8%,#e1f3f6 48.9%,#e5f5ee 51.1%,#e9f7e7 53.2%,#edf8e0 55.3%,#f4fbd3 57.4%,#fdfec2 59.6%,#fffab8 61.7%,#fff8b4 63.8%,#fff9b6 66.0%,#fff7b3 68.1%,#feeba1 70.2%,#fede8e 72.3%,#fed586 74.5%,#fed485 76.6%,#fed586 78.7%,#fed282 80.9%,#feca7c 83.0%,#fec97a 85.1%,#feca7b 87.2%,#fdc072 89.4%,#fdb164 91.5%,#fdab60 93.6%,#fdae61 95.7%,#fdaf62 97.9%,#fdae61 100.0%)"></div><div style="height:7.42px;background:linear-gradient(90deg,#c5e6f0 0.0%,#c6e6f1 2.1%,#c5e6f0 4.3%,#c4e5f0 6.4%,#c7e7f1 8.5%,#cfebf3 10.6%,#d4edf4 12.8%,#d3edf4 14.9%,#d4edf5 17.0%,#dcf1f7 19.1%,#e4f5f0 21.3%,#e8f6e9 23.4%,#e3f4f3 25.5%,#d5edf5 27.7%,#d0ebf3 29.8%,#d3ecf4 31.9%,#d2ecf4 34.0%,#d3edf4 36.2%,#daf0f6 38.3%,#e0f3f7 40.4%,#e1f3f6 42.6%,#dff3f8 44.7%,#dff2f8 46.8%,#e1f4f5 48.9%,#e6f5ed 51.1%,#eaf7e6 53.2%,#eef8df 55.3%,#f5fbd2 57.4%,#fdfec2 59.6%,#fffab7 61.7%,#fff7b3 63.8%,#fff9b6 66.0%,#fff7b3 68.1%,#feeba1 70.2%,#fedd8d 72.3%,#fed485 74.5%,#fed484 76.6%,#fed585 78.7%,#fed182 80.9%,#fec97a 83.0%,#fec779 85.1%,#fec87a 87.2%,#fdbf71 89.4%,#fdb063 91.5%,#fcaa5f 93.6%,#fdae61 95.7%,#fdaf62 97.9%,#fdae61 100.0%)"></div><div style="height:7.42px;background:linear-gradient(90deg,#c5e6f0 0.0%,#c6e6f1 2.1%,#c5e6f0 4.3%,#c4e5f0 6.4%,#c6e6f1 8.5%,#cfeaf3 10.6%,#d4edf5 12.8%,#d3edf4 14.9%,#d4edf5 17.0%,#dcf1f7 19.1%,#e4f5f0 21.3%,#e8f6e9 23.4%,#e3f4f3 25.5%,#d5edf5 27.7%,#d0ebf3 29.8%,#d3ecf4 31.9%,#d2ecf4 34.0%,#d3edf4 36.2%,#daf0f6 38.3%,#e1f3f7 40.4%,#e1f3f6 42.6%,#dff3f8 44.7%,#dff2f8 46.8%,#e2f4f5 48.9%,#e6f5ed 51.1%,#eaf7e5 53.2%,#eef8de 55.3%,#f5fbd2 57.4%,#fefec2 59.6%,#fffab7 61.7%,#fff7b3 63.8%,#fff9b6 66.0%,#fff7b3 68.1%,#feeba1 70.2%,#fedd8d 72.3%,#fed485 74.5%,#fed484 76.6%,#fed585 78.7%,#fed182 80.9%,#fec97a 83.0%,#fdc778 85.1%,#fec879 87.2%,#fdbf71 89.4%,#fdb063 91.5%,#fcaa5f 93.6%,#fdad61 95.7%,#fdae61 97.9%,#fdae61 100.0%)"></div><div style="height:7.42px;background:linear-gradient(90deg,#c5e6f0 0.0%,#c6e6f1 2.1%,#c5e6f0 4.3%,#c4e5f0 6.4%,#c7e7f1 8.5%,#cfebf3 10.6%,#d4edf4 12.8%,#d3edf4 14.9%,#d4edf5 17.0%,#dcf1f7 19.1%,#e4f5f0 21.3%,#e8f6e9 23.4%,#e3f4f3 25.5%,#d5edf5 27.7%,#d0ebf3 29.8%,#d3ecf4 31.9%,#d2ecf4 34.0%,#d3edf4 36.2%,#daf0f6 38.3%,#e0f3f7 40.4%,#e1f3f6 42.6%,#dff3f8 44.7%,#dff2f8 46.8%,#e1f4f5 48.9%,#e6f5ed 51.1%,#eaf7e6 53.2%,#eef8df 55.3%,#f5fbd2 57.4%,#fdfec2 59.6%,#fffab7 61.7%,#fff7b3 63.8%,#fff9b6 66.0%,#fff7b3 68.1%,#feeba1 70.2%,#fedd8d 72.3%,#fed485 74.5%,#fed484 76.6%,#fed585 78.7%,#fed182 80.9%,#fec97a 83.0%,#fec779 85.1%,#fec87a 87.2%,#fdbf71 89.4%,#fdb063 91.5%,#fcaa5f 93.6%,#fdae61 95.7%,#fdaf62 97.9%,#fdae61 100.0%)"></div></div></div><div class="hm" style="left:1395.3px;top:9.4px;width:475.1px;height:278.6px"><div style="left:-10px;top:-10px;width:495.1px;height:298.6px"><div style="height:7.47px;background:linear-gradient(90deg,#d2ecf4 0.0%,#cdeaf3 2.1%,#d3edf4 4.3%,#e6f5ec 6.4%,#eff9dc 8.5%,#e9f6e8 10.6%,#d4edf5 12.8%,#b6deec 14.9%,#a4d4e6 17.0%,#9fd0e4 19.1%,#99cbe1 21.3%,#91c4de 23.4%,#90c3dd 25.5%,#91c4dd 27.7%,#8abfdb 29.8%,#82b8d7 31.9%,#80b7d6 34.0%,#82b8d7 36.2%,#82b8d7 38.3%,#82b8d7 40.4%,#82b8d7 42.6%,#82b8d7 44.7%,#81b8d7 46.8%,#82b9d7 48.9%,#83b9d7 51.1%,#7cb3d4 53.2%,#72aacf 55.3%,#6ea6cd 57.4%,#70a9cf 59.6%,#72aad0 61.7%,#71a9cf 63.8%,#70a9cf 66.0%,#70a8ce 68.1%,#6fa8ce 70.2%,#6fa7ce 72.3%,#6fa7ce 74.5%,#6fa7ce 76.6%,#6fa7ce 78.7%,#6fa7ce 80.9%,#6fa7ce 83.0%,#6fa7ce 85.1%,#6fa7ce 87.2%,#6fa7ce 89.4%,#6fa8ce 91.5%,#70a9cf 93.6%,#71aacf 95.7%,#71aacf 97.9%,#71aacf 100.0%)"></div><div style="height:7.47px;background:linear-gradient(90deg,#cfebf3 0.0%,#cbe9f2 2.1%,#d1ecf4 4.3%,#e5f5ef 6.4%,#eef8de 8.5%,#e7f6ea 10.6%,#d2ecf4 12.8%,#b5deec 14.9%,#a4d4e6 17.0%,#9fd0e4 19.1%,#99cbe1 21.3%,#91c4de 23.4%,#90c4dd 25.5%,#92c5de 27.7%,#8bbfdb 29.8%,#82b8d7 31.9%,#80b7d6 34.0%,#82b8d7 36.2%,#82b8d7 38.3%,#82b8d7 40.4%,#82b8d7 42.6%,#82b8d7 44.7%,#82b8d7 46.8%,#82b8d7 48.9%,#82b8d7 51.1%,#7bb2d4 53.2%,#71aacf 55.3%,#70a8ce 57.4%,#73acd0 59.6%,#75aed1 61.7%,#74add1 63.8%,#72abd0 66.0%,#70a9cf 68.1%,#6fa8ce 70.2%,#6fa7ce 72.3%,#6fa7ce 74.5%,#6fa7ce 76.6%,#6fa7ce 78.7%,#6fa8ce 80.9%,#6fa7ce 83.0%,#6fa7ce 85.1%,#6fa7ce 87.2%,#6fa7ce 89.4%,#70a8ce 91.5%,#72aad0 93.6%,#74add1 95.7%,#75aed1 97.9%,#74add1 100.0%)"></div><div style="height:7.47px;background:linear-gradient(90deg,#d2ecf4 0.0%,#cdeaf3 2.1%,#d3edf4 4.3%,#e6f6ec 6.4%,#eff9dc 8.5%,#e9f6e7 10.6%,#d4edf5 12.8%,#b6dfec 14.9%,#a4d4e6 17.0%,#9fd0e4 19.1%,#99cbe1 21.3%,#91c4de 23.4%,#90c3dd 25.5%,#91c4dd 27.7%,#8abfdb 29.8%,#82b8d7 31.9%,#80b7d6 34.0%,#82b8d7 36.2%,#82b8d7 38.3%,#82b8d7 40.4%,#82b8d7 42.6%,#82b8d7 44.7%,#81b8d7 46.8%,#82b9d7 48.9%,#83b9d7 51.1%,#7cb3d4 53.2%,#72aacf 55.3%,#6ea6cd 57.4%,#70a9cf 59.6%,#72aacf 61.7%,#71a9cf 63.8%,#70a8cf 66.0%,#70a8ce 68.1%,#6fa8ce 70.2%,#6fa7ce 72.3%,#6fa7ce 74.5%,#6fa7ce 76.6%,#6fa7ce 78.7%,#6fa7ce 80.9%,#6fa7ce 83.0%,#6fa7ce 85.1%,#6fa7ce 87.2%,#6fa7ce 89.4%,#6fa8ce 91.5%,#70a8cf 93.6%,#71a9cf 95.7%,#71aacf 97.9%,#71a9cf 100.0%)"></div><div style="height:7.47px;background:linear-gradient(90deg,#ddf1f7 0.0%,#d8eff6 2.1%,#def2f8 4.3%,#edf8e0 6.4%,#f6fccf 8.5%,#f1f9da 10.6%,#dff3f8 12.8%,#bce1ee 14.9%,#a5d4e6 17.0%,#9ecee3 19.1%,#98c9e1 21.3%,#90c3dd 23.4%,#8cc0dc 25.5%,#8bc0db 27.7%,#87bcd9 29.8%,#82b8d7 31.9%,#81b7d7 34.0%,#82b8d7 36.2%,#82b8d7 38.3%,#82b8d7 40.4%,#81b7d7 42.6%,#80b7d6 44.7%,#80b6d6 46.8%,#84bad8 48.9%,#88bdda 51.1%,#81b7d7 53.2%,#71aacf 55.3%,#689fca 57.4%,#659bc8 59.6%,#6499c7 61.7%,#649ac7 63.8%,#689fca 66.0%,#6da4cc 68.1%,#6fa7ce 70.2%,#6fa8ce 72.3%,#70a8ce 74.5%,#70a8ce 76.6%,#6fa7ce 78.7%,#6fa7ce 80.9%,#6fa8ce 83.0%,#70a8ce 85.1%,#70a8ce 87.2%,#70a8ce 89.4%,#6ea6cd 91.5%,#69a0ca 93.6%,#6399c7 95.7%,#6298c6 97.9%,#6399c7 100.0%)"></div><div style="height:7.47px;background:linear-gradient(90deg,#eaf7e6 0.0%,#e7f6ea 2.1%,#ebf7e4 4.3%,#f8fccb 6.4%,#fffcba 8.5%,#fdfec2 10.6%,#ebf7e5 12.8%,#c6e6f1 14.9%,#a6d5e7 17.0%,#9acbe2 19.1%,#93c6de 21.3%,#8cc0db 23.4%,#85bbd9 25.5%,#81b7d7 27.7%,#7fb6d6 29.8%,#7eb5d5 31.9%,#7eb5d5 34.0%,#7eb5d5 36.2%,#7eb5d5 38.3%,#7eb5d5 40.4%,#7db4d5 42.6%,#7bb3d4 44.7%,#7bb2d4 46.8%,#82b8d7 48.9%,#8abfdb 51.1%,#83b9d8 53.2%,#70a8ce 55.3%,#6399c6 57.4%,#5d92c3 59.6%,#5b8fc1 61.7%,#5c90c2 63.8%,#6298c6 66.0%,#69a0ca 68.1%,#6ca4cc 70.2%,#6ea5cd 72.3%,#6ea6cd 74.5%,#6ea6cd 76.6%,#6da4cd 78.7%,#6da4cc 80.9%,#6ea5cd 83.0%,#6ea6cd 85.1%,#6ea6ce 87.2%,#6ea6cd 89.4%,#6ca3cc 91.5%,#6499c7 93.6%,#5b8fc1 95.7%,#598cc0 97.9%,#5a8ec1 100.0%)"></div><div style="height:7.47px;background:linear-gradient(90deg,#fafdc8 0.0%,#f8fccc 2.1%,#fbfdc6 4.3%,#fff6b1 6.4%,#feeba1 8.5%,#fff0a9 10.6%,#f8fccc 12.8%,#d3edf4 14.9%,#a8d7e8 17.0%,#92c5de 19.1%,#88bdda 21.3%,#82b8d7 23.4%,#7ab1d3 25.5%,#72abd0 27.7%,#70a9cf 29.8%,#71aacf 31.9%,#72aad0 34.0%,#72aad0 36.2%,#71aacf 38.3%,#72aad0 40.4%,#73abd0 42.6%,#72aad0 44.7%,#70a8cf 46.8%,#75aed1 48.9%,#7eb5d5 51.1%,#79b1d3 53.2%,#6ba2cb 55.3%,#679ec9 57.4%,#6ca4cc 59.6%,#6fa7ce 61.7%,#6ea6cd 63.8%,#6ba2cb 66.0%,#689fca 68.1%,#679ec9 70.2%,#679dc9 72.3%,#669dc9 74.5%,#679dc9 76.6%,#679ec9 78.7%,#679ec9 80.9%,#679dc9 83.0%,#669dc9 85.1%,#669dc9 87.2%,#669dc9 89.4%,#679ec9 91.5%,#6ba2cb 93.6%,#6ea6cd 95.7%,#6fa7ce 97.9%,#6ea6ce 100.0%)"></div><div style="height:7.47px;background:linear-gradient(90deg,#fff0a9 0.0%,#fff3ac 2.1%,#feefa7 4.3%,#fee394 6.4%,#fed586 8.5%,#fedf8f 10.6%,#fff8b4 12.8%,#e1f3f6 14.9%,#aad8e9 17.0%,#88bdda 19.1%,#79b1d3 21.3%,#73acd0 23.4%,#6ca3cc 25.5%,#6399c7 27.7%,#5e93c4 29.8%,#5e92c3 31.9%,#5f93c4 34.0%,#5f94c4 36.2%,#5e92c3 38.3%,#5f94c4 40.4%,#649ac7 42.6%,#659bc8 44.7%,#6197c6 46.8%,#6297c6 48.9%,#669cc8 51.1%,#649ac7 53.2%,#649ac7 55.3%,#7bb3d4 57.4%,#a2d2e5 59.6%,#b4ddec 61.7%,#abd9e9 63.8%,#8cc0db 66.0%,#6ca4cc 68.1%,#5e93c4 70.2%,#5a8ec1 72.3%,#578bbf 74.5%,#598dc1 76.6%,#5e93c4 78.7%,#5f94c4 80.9%,#5a8fc1 83.0%,#578bbf 85.1%,#578bbf 87.2%,#588cc0 89.4%,#6398c6 91.5%,#87bcd9 93.6%,#b0dceb 95.7%,#bae1ed 97.9%,#b3ddeb 100.0%)"></div><div style="height:7.47px;background:linear-gradient(90deg,#fed889 0.0%,#fedc8c 2.1%,#fed787 4.3%,#fdc577 6.4%,#fdb96b 8.5%,#fdc576 10.6%,#feeba1 12.8%,#e7f6eb 14.9%,#a9d8e8 17.0%,#7fb6d6 19.1%,#6ea6ce 21.3%,#6aa1cb 23.4%,#6298c6 25.5%,#568abf 27.7%,#4e80ba 29.8%,#4b7cb8 31.9%,#4b7cb8 34.0%,#4c7db8 36.2%,#4a7bb7 38.3%,#4c7eb9 40.4%,#5487bd 42.6%,#578bbf 44.7%,#5487bd 46.8%,#5386bd 48.9%,#578abf 51.1%,#5a8dc1 53.2%,#689fca 55.3%,#a0d0e4 57.4%,#e4f5f1 59.6%,#f8fccc 61.7%,#edf8df 63.8%,#b6deec 66.0%,#70a9cf 68.1%,#5486bd 70.2%,#4b7cb8 72.3%,#4778b5 74.5%,#4d7eb9 76.6%,#588cc0 78.7%,#5a8ec1 80.9%,#4f81ba 83.0%,#4778b6 85.1%,#4879b6 87.2%,#4b7db8 89.4%,#6298c6 91.5%,#b0dbea 93.6%,#f4fbd3 95.7%,#fffebd 97.9%,#f8fccd 100.0%)"></div><div style="height:7.47px;background:linear-gradient(90deg,#fdb669 0.0%,#fdb86b 2.1%,#fdb668 4.3%,#fcaa5f 6.4%,#fba05b 8.5%,#fdaf62 10.6%,#fee192 12.8%,#e9f6e8 14.9%,#a4d4e6 17.0%,#7eb5d5 19.1%,#71aacf 21.3%,#6da5cd 23.4%,#6298c6 25.5%,#5284bc 27.7%,#4878b6 29.8%,#4473b3 31.9%,#4471b2 34.0%,#4370b1 36.2%,#436fb1 38.3%,#4472b3 40.4%,#4879b6 42.6%,#4c7eb9 44.7%,#5082bb 46.8%,#598dc0 48.9%,#679dc9 51.1%,#70a8ce 53.2%,#85bbd9 55.3%,#cce9f2 57.4%,#fff6b1 59.6%,#feda8a 61.7%,#feeca2 63.8%,#d7eef5 66.0%,#72aad0 68.1%,#497ab6 70.2%,#426cb0 72.3%,#416aae 74.5%,#4878b6 76.6%,#5c90c2 78.7%,#5e92c3 80.9%,#4b7cb7 83.0%,#426db0 85.1%,#4471b2 87.2%,#497ab7 89.4%,#6ba3cc 91.5%,#d7eff5 93.6%,#fee293 95.7%,#fec97a 97.9%,#fedc8c 100.0%)"></div><div style="height:7.47px;background:linear-gradient(90deg,#f99154 0.0%,#f99254 2.1%,#f99154 4.3%,#f99053 6.4%,#f98e52 8.5%,#fa9a58 10.6%,#fed788 12.8%,#e6f5ec 14.9%,#9ecee3 17.0%,#84bad8 19.1%,#81b7d7 21.3%,#7eb5d5 23.4%,#6da4cd 25.5%,#588cc0 27.7%,#4d7eb9 29.8%,#4879b6 31.9%,#4473b3 34.0%,#436fb1 36.2%,#4472b2 38.3%,#4575b4 40.4%,#4777b5 42.6%,#4d7fb9 44.7%,#5d91c3 46.8%,#79b1d3 48.9%,#9ecfe3 51.1%,#addaea 53.2%,#bbe1ed 55.3%,#eff9dc 57.4%,#fed989 59.6%,#fdb063 61.7%,#fecf80 63.8%,#e9f6e8 66.0%,#78b0d3 68.1%,#4777b5 70.2%,#4066ac 72.3%,#4065ac 74.5%,#4a7bb7 76.6%,#669cc8 78.7%,#689fca 80.9%,#4e7fb9 83.0%,#426caf 85.1%,#4575b4 87.2%,#5385bc 89.4%,#7eb5d5 91.5%,#edf8e0 93.6%,#fdba6c 95.7%,#fa9857 97.9%,#fdb265 100.0%)"></div><div style="height:7.47px;background:linear-gradient(90deg,#f57145 0.0%,#f47044 2.1%,#f57245 4.3%,#f67b4a 6.4%,#f7804c 8.5%,#f88a50 10.6%,#fece7f 12.8%,#e6f5ed 14.9%,#9bcde2 17.0%,#8cc0db 19.1%,#91c4de 21.3%,#90c3dd 23.4%,#7fb6d6 25.5%,#689ec9 27.7%,#598dc0 29.8%,#5082bb 31.9%,#4879b6 34.0%,#4574b4 36.2%,#4979b6 38.3%,#5082bb 40.4%,#588cc0 42.6%,#679ec9 44.7%,#85bbd9 46.8%,#b6dfec 48.9%,#e3f4f3 51.1%,#e9f6e7 53.2%,#e7f6eb 55.3%,#fff9b7 57.4%,#fdbd6f 59.6%,#f99355 61.7%,#fdb86b 63.8%,#fbfdc6 66.0%,#9ccde2 68.1%,#5a8ec1 70.2%,#436db0 72.3%,#4066ad 74.5%,#4d7fb9 76.6%,#6da4cc 78.7%,#6fa7ce 80.9%,#5183bb 83.0%,#436fb1 85.1%,#4a7bb7 87.2%,#5d92c3 89.4%,#91c4de 91.5%,#fbfec6 93.6%,#fb9d59 95.7%,#f57747 97.9%,#f99254 100.0%)"></div><div style="height:7.47px;background:linear-gradient(90deg,#ec5d3c 0.0%,#eb5b3b 2.1%,#ed5e3c 4.3%,#f36a42 6.4%,#f57145 8.5%,#f67b4a 10.6%,#fdc274 12.8%,#edf8e1 14.9%,#a4d3e6 17.0%,#91c5de 19.1%,#96c8e0 21.3%,#99cbe1 23.4%,#93c6df 25.5%,#81b8d7 27.7%,#689fca 29.8%,#5385bc 31.9%,#4979b6 34.0%,#4879b6 36.2%,#4e7fb9 38.3%,#6095c4 40.4%,#82b8d7 42.6%,#addaea 44.7%,#d4edf5 46.8%,#f3fbd4 48.9%,#fff5b0 51.1%,#fffab7 53.2%,#f7fccd 55.3%,#feeea6 57.4%,#fdad60 59.6%,#f7854e 61.7%,#fca75e 63.8%,#fee497 66.0%,#e6f6ec 68.1%,#91c4de 70.2%,#5386bd 72.3%,#426baf 74.5%,#4a7bb7 76.6%,#679ec9 78.7%,#6ba2cb 80.9%,#5082bb 83.0%,#4370b1 85.1%,#4c7db8 87.2%,#6297c6 89.4%,#9dcde3 91.5%,#fff9b7 93.6%,#f7864f 95.7%,#ee603d 97.9%,#f67b4a 100.0%)"></div><div style="height:7.47px;background:linear-gradient(90deg,#e75237 0.0%,#e65036 2.1%,#e85337 4.3%,#ed5e3c 6.4%,#f0653f 8.5%,#f47044 10.6%,#fdb769 12.8%,#f7fcce 14.9%,#b2ddeb 17.0%,#94c7df 19.1%,#92c5de 21.3%,#9acbe1 23.4%,#a4d3e6 25.5%,#9ecfe3 27.7%,#77afd2 29.8%,#5184bc 31.9%,#4778b5 34.0%,#4c7db8 36.2%,#5285bc 38.3%,#71aacf 40.4%,#bee2ee 42.6%,#f6fccf 44.7%,#feeea6 46.8%,#fedc8c 48.9%,#fed383 51.1%,#feeba1 53.2%,#fcfec4 55.3%,#feeba0 57.4%,#fba15b 59.6%,#f7814c 61.7%,#fa9756 63.8%,#fdaf62 66.0%,#fedf8f 68.1%,#def2f7 70.2%,#73acd0 72.3%,#4a7bb7 74.5%,#4c7eb9 76.6%,#6298c6 78.7%,#689ec9 80.9%,#5689be 83.0%,#4b7db8 85.1%,#5487be 87.2%,#6ca3cc 89.4%,#acd9e9 91.5%,#fff0a9 93.6%,#f57446 95.7%,#e65036 97.9%,#f36a42 100.0%)"></div><div style="height:7.47px;background:linear-gradient(90deg,#e54e35 0.0%,#e54c34 2.1%,#e64f35 4.3%,#ea5839 6.4%,#ed5e3c 8.5%,#f26941 10.6%,#fdaf62 12.8%,#ffffbe 14.9%,#bfe3ef 17.0%,#96c8e0 19.1%,#8dc1dc 21.3%,#97c9e0 23.4%,#addaea 25.5%,#b1dceb 27.7%,#83b9d8 29.8%,#5385bc 31.9%,#4a7bb7 34.0%,#5385bc 36.2%,#598dc1 38.3%,#87bcd9 40.4%,#eaf7e5 42.6%,#fed889 44.7%,#fdae61 46.8%,#fba05a 48.9%,#fdb265 51.1%,#fee395 53.2%,#ffffbf 55.3%,#fee89c 57.4%,#fa9a58 59.6%,#f67e4b 61.7%,#f88c51 63.8%,#f67c4a 66.0%,#fa9857 68.1%,#fff9b7 70.2%,#a3d2e5 72.3%,#6aa1cb 74.5%,#659bc8 76.6%,#72abd0 78.7%,#7bb2d4 80.9%,#73acd1 83.0%,#6fa7ce 85.1%,#76afd2 87.2%,#91c4de 89.4%,#d1ecf4 91.5%,#fee191 93.6%,#f0653f 95.7%,#e14530 97.9%,#ec5c3b 100.0%)"></div><div style="height:7.47px;background:linear-gradient(90deg,#e54e35 0.0%,#e44c34 2.1%,#e64f35 4.3%,#ea5739 6.4%,#ed5d3c 8.5%,#f26841 10.6%,#fdab5f 12.8%,#fffab8 14.9%,#c7e7f1 17.0%,#9acce2 19.1%,#8ec2dc 21.3%,#99cae1 23.4%,#b0dceb 25.5%,#b7dfec 27.7%,#8cc0db 29.8%,#5b90c2 31.9%,#5386bd 34.0%,#5d91c3 36.2%,#669cc8 38.3%,#9ccde3 40.4%,#fefec2 42.6%,#fdb063 44.7%,#f57748 46.8%,#f57446 48.9%,#fa9b58 51.1%,#feda8a 53.2%,#fff8b4 55.3%,#fee293 57.4%,#f99254 59.6%,#f57748 61.7%,#f7834d 63.8%,#f46f44 66.0%,#f77f4b 68.1%,#fee395 70.2%,#daf0f6 72.3%,#abd9e9 74.5%,#a4d3e6 76.6%,#acd9e9 78.7%,#b5deec 80.9%,#bbe1ee 83.0%,#bde2ee 85.1%,#c3e5f0 87.2%,#dbf1f7 89.4%,#feffc0 91.5%,#fdb96b 93.6%,#e85437 95.7%,#dc3c2c 97.9%,#e54d34 100.0%)"></div><div style="height:7.47px;background:linear-gradient(90deg,#e64f35 0.0%,#e54d34 2.1%,#e64f35 4.3%,#ea5839 6.4%,#ed5f3d 8.5%,#f36b42 10.6%,#fdab5f 12.8%,#fff7b3 14.9%,#d1ecf4 17.0%,#a7d6e7 19.1%,#9bcce2 21.3%,#a6d5e7 23.4%,#bae0ed 25.5%,#bfe3ef 27.7%,#99cbe1 29.8%,#6ba2cb 31.9%,#6095c4 34.0%,#669cc8 36.2%,#73acd1 38.3%,#b2dceb 40.4%,#fff4ae 42.6%,#fa9656 44.7%,#ec5d3b 46.8%,#ed5e3c 48.9%,#f88a51 51.1%,#fecb7c 53.2%,#feeba0 55.3%,#fed081 57.4%,#f7834d 59.6%,#f26941 61.7%,#f57647 63.8%,#f57145 66.0%,#f7814c 68.1%,#feca7b 70.2%,#fffab8 72.3%,#f4fbd4 74.5%,#f1fad9 76.6%,#f1fad8 78.7%,#f7fcce 80.9%,#ffffbf 83.0%,#fffbb8 85.1%,#fff8b4 87.2%,#feeba0 89.4%,#fdc677 91.5%,#f67e4b 93.6%,#de3f2e 95.7%,#d73027 97.9%,#dc3b2c 100.0%)"></div><div style="height:7.47px;background:linear-gradient(90deg,#e54d35 0.0%,#e44c34 2.1%,#e54e35 4.3%,#e95538 6.4%,#ed5e3c 8.5%,#f47044 10.6%,#fdab60 12.8%,#fff0a8 14.9%,#e5f5f0 17.0%,#c1e4ef 19.1%,#b9e0ed 21.3%,#c6e6f1 23.4%,#d8eff6 25.5%,#d9eff6 27.7%,#b5deec 29.8%,#83b9d8 31.9%,#6aa2cb 34.0%,#6aa1cb 36.2%,#81b7d7 38.3%,#c9e8f1 40.4%,#fee79b 42.6%,#f7824d 44.7%,#e44b33 46.8%,#e44c34 48.9%,#f57547 51.1%,#fdb265 53.2%,#fed081 55.3%,#fdb265 57.4%,#f36a42 59.6%,#e85337 61.7%,#ee603d 63.8%,#f16740 66.0%,#f57547 68.1%,#fb9c59 70.2%,#fdbd6f 72.3%,#fdc778 74.5%,#feca7c 76.6%,#fecf80 78.7%,#feca7b 80.9%,#fdbb6d 83.0%,#fdb265 85.1%,#fdac60 87.2%,#fa9556 89.4%,#f46d43 91.5%,#e04430 93.6%,#ce2827 95.7%,#c92227 97.9%,#cd2627 100.0%)"></div><div style="height:7.47px;background:linear-gradient(90deg,#e44b33 0.0%,#e44b33 2.1%,#e44b34 4.3%,#e65036 6.4%,#ec5c3b 8.5%,#f57647 10.6%,#fdac60 12.8%,#fee496 14.9%,#f9fdca 17.0%,#e5f5ef 19.1%,#e2f4f4 21.3%,#ecf8e2 23.4%,#f6fccf 25.5%,#f5fbd1 27.7%,#dcf1f7 29.8%,#a2d2e5 31.9%,#75aed1 34.0%,#6ba2cb 36.2%,#8bc0db 38.3%,#e0f3f8 40.4%,#fed586 42.6%,#f36b42 44.7%,#dc3b2c 46.8%,#dd3c2c 48.9%,#ec5b3b 51.1%,#f88950 53.2%,#fca55d 55.3%,#f7854e 57.4%,#e54d34 59.6%,#dc392b 61.7%,#e14430 63.8%,#e54d35 66.0%,#e75237 68.1%,#ea5839 70.2%,#eb5b3b 72.3%,#eb5a3a 74.5%,#ed5f3d 76.6%,#f26941 78.7%,#f36a42 80.9%,#ed5f3c 83.0%,#e85538 85.1%,#e54c34 87.2%,#dd3c2d 89.4%,#cf2827 91.5%,#c01a27 93.6%,#b81226 95.7%,#b61126 97.9%,#b71226 100.0%)"></div><div style="height:7.47px;background:linear-gradient(90deg,#e54d34 0.0%,#e54d34 2.1%,#e54d35 4.3%,#e75136 6.4%,#ee613d 8.5%,#f7814c 10.6%,#fdac60 12.8%,#fed182 14.9%,#feeea5 17.0%,#feffc1 19.1%,#fcfec4 21.3%,#fff7b3 23.4%,#feeda4 25.5%,#fff0a8 27.7%,#f5fbd2 29.8%,#c3e5f0 31.9%,#88bdda 34.0%,#72aad0 36.2%,#97c9e0 38.3%,#ebf7e3 40.4%,#fdc072 42.6%,#e95739 44.7%,#d83228 46.8%,#d93329 48.9%,#e24631 51.1%,#ef633e 53.2%,#f57547 55.3%,#ed5f3d 57.4%,#da372a 59.6%,#d12b27 61.7%,#d73127 63.8%,#da372a 66.0%,#d83328 68.1%,#ce2727 70.2%,#c11b27 72.3%,#b91426 74.5%,#ba1426 76.6%,#c21c27 78.7%,#c82127 80.9%,#c62027 83.0%,#c11b27 85.1%,#ba1426 87.2%,#b10c26 89.4%,#aa0526 91.5%,#a70226 93.6%,#a70226 95.7%,#a70226 97.9%,#a70226 100.0%)"></div><div style="height:7.47px;background:linear-gradient(90deg,#ea5839 0.0%,#ea5739 2.1%,#ea593a 4.3%,#ee613e 6.4%,#f57547 8.5%,#f99354 10.6%,#fdad61 12.8%,#fdbe70 14.9%,#fed687 17.0%,#feea9f 19.1%,#feeda3 21.3%,#fee495 23.4%,#feda8b 25.5%,#fee292 27.7%,#fff9b6 29.8%,#e2f4f4 31.9%,#a8d7e8 34.0%,#8bc0db 36.2%,#a9d7e8 38.3%,#f3fbd4 40.4%,#fdb063 42.6%,#e34932 44.7%,#d93329 46.8%,#db392b 48.9%,#dd3d2d 51.1%,#e44b34 53.2%,#eb593a 55.3%,#e54e35 57.4%,#da352a 59.6%,#d52e27 61.7%,#d83128 63.8%,#d83228 66.0%,#d32c27 68.1%,#c72027 70.2%,#b61026 72.3%,#a50026 74.5%,#a50026 76.6%,#a50026 78.7%,#a50026 80.9%,#aa0526 83.0%,#a90426 85.1%,#a50026 87.2%,#a50026 89.4%,#a50026 91.5%,#a50026 93.6%,#a50026 95.7%,#a50026 97.9%,#a50026 100.0%)"></div><div style="height:7.47px;background:linear-gradient(90deg,#f16640 0.0%,#ef633e 2.1%,#f16740 4.3%,#f67948 6.4%,#f99153 8.5%,#fca55d 10.6%,#fdae61 12.8%,#fdb164 14.9%,#fdbf71 17.0%,#fed585 19.1%,#feda8b 21.3%,#fed081 23.4%,#feca7b 25.5%,#fed485 27.7%,#feeda4 29.8%,#f3fbd4 31.9%,#d0ebf4 34.0%,#b5deec 36.2%,#c5e6f0 38.3%,#fdfec4 40.4%,#fba15b 42.6%,#df422f 44.7%,#dd3c2d 46.8%,#e14631 48.9%,#de3f2e 51.1%,#df412f 53.2%,#e54e35 55.3%,#e54d34 57.4%,#e0422f 59.6%,#de3f2e 61.7%,#df412f 63.8%,#de3e2d 66.0%,#dc3a2b 68.1%,#da362a 70.2%,#ce2727 72.3%,#b00b26 74.5%,#a50026 76.6%,#a50026 78.7%,#a50026 80.9%,#a50026 83.0%,#a50026 85.1%,#a50026 87.2%,#a50026 89.4%,#a50026 91.5%,#a50026 93.6%,#a50026 95.7%,#a50026 97.9%,#a50026 100.0%)"></div><div style="height:7.47px;background:linear-gradient(90deg,#f46d43 0.0%,#f26941 2.1%,#f46f44 4.3%,#f88a51 6.4%,#fca55d 8.5%,#fdae61 10.6%,#fdac60 12.8%,#fcaa5f 14.9%,#fdb366 17.0%,#fdc173 19.1%,#fdc274 21.3%,#fdb96b 23.4%,#fdb366 25.5%,#fdbe70 27.7%,#fee191 29.8%,#fffcba 31.9%,#eef9dd 34.0%,#e5f5ef 36.2%,#eaf7e6 38.3%,#fff1aa 40.4%,#f99053 42.6%,#df402e 44.7%,#e14531 46.8%,#e75136 48.9%,#e14430 51.1%,#df412f 53.2%,#e44b34 55.3%,#e75236 57.4%,#e75136 59.6%,#e75136 61.7%,#e75136 63.8%,#e64f35 66.0%,#e85437 68.1%,#ed5f3d 70.2%,#e65035 72.3%,#c31c27 74.5%,#a50026 76.6%,#a50026 78.7%,#aa0526 80.9%,#a70226 83.0%,#a50026 85.1%,#a50026 87.2%,#a60126 89.4%,#a60126 91.5%,#a60126 93.6%,#a50026 95.7%,#a50026 97.9%,#a50026 100.0%)"></div><div style="height:7.47px;background:linear-gradient(90deg,#f26a42 0.0%,#f0643f 2.1%,#f46c43 4.3%,#f88d52 6.4%,#fca95f 8.5%,#fdab60 10.6%,#fca85e 12.8%,#fdad60 14.9%,#fdb365 17.0%,#fdb466 19.1%,#fcaa5f 21.3%,#fa9656 23.4%,#f8874f 25.5%,#f99455 27.7%,#fec879 29.8%,#fff0a9 31.9%,#fffcba 34.0%,#fff9b7 36.2%,#fff2ab 38.3%,#fed283 40.4%,#f67c4a 42.6%,#e04330 44.7%,#e34933 46.8%,#e85437 48.9%,#e34a33 51.1%,#e14531 53.2%,#e44b34 55.3%,#e85437 57.4%,#eb593a 59.6%,#eb5a3a 61.7%,#eb5a3a 63.8%,#ed5f3c 66.0%,#f46f44 68.1%,#f8884f 70.2%,#f57245 72.3%,#cb2527 74.5%,#a50026 76.6%,#ba1426 78.7%,#c62027 80.9%,#b00b26 83.0%,#a50026 85.1%,#a50026 87.2%,#a90426 89.4%,#a80326 91.5%,#a60126 93.6%,#a60126 95.7%,#a60126 97.9%,#a60126 100.0%)"></div><div style="height:7.47px;background:linear-gradient(90deg,#ee613e 0.0%,#eb5b3b 2.1%,#f0643f 4.3%,#f8884f 6.4%,#fca45c 8.5%,#fba25c 10.6%,#fca45c 12.8%,#fdb365 14.9%,#fdb86a 17.0%,#fdac60 19.1%,#f99254 21.3%,#f57245 23.4%,#eb5a3a 25.5%,#f0653f 27.7%,#fdb063 29.8%,#fee99d 31.9%,#feeea5 34.0%,#fedf8f 36.2%,#fec97b 38.3%,#fca75e 40.4%,#f36b42 42.6%,#e24832 44.7%,#e34a33 46.8%,#e75236 48.9%,#e54e35 51.1%,#e44b33 53.2%,#e54c34 55.3%,#e85438 57.4%,#ec5c3b 59.6%,#ec5d3c 61.7%,#ec5d3c 63.8%,#f26a41 66.0%,#f8874f 68.1%,#fca85e 70.2%,#f88a50 72.3%,#cd2627 74.5%,#a60126 76.6%,#d12a27 78.7%,#de3e2d 80.9%,#b81326 83.0%,#a50026 85.1%,#a50026 87.2%,#a80326 89.4%,#a60126 91.5%,#a50026 93.6%,#a50026 95.7%,#a60126 97.9%,#a50026 100.0%)"></div><div style="height:7.47px;background:linear-gradient(90deg,#ec5c3b 0.0%,#e95538 2.1%,#ed5e3c 4.3%,#f7844e 6.4%,#fb9f5a 8.5%,#fb9d59 10.6%,#fba15b 12.8%,#fdb669 14.9%,#fdbb6e 17.0%,#fca95f 19.1%,#f7854e 21.3%,#ee613d 23.4%,#e04330 25.5%,#e54d34 27.7%,#fba15b 29.8%,#fee698 31.9%,#fee79b 34.0%,#feca7b 36.2%,#fdae61 38.3%,#f88b51 40.4%,#ef623e 42.6%,#e44a33 44.7%,#e34a33 46.8%,#e65036 48.9%,#e65136 51.1%,#e54e35 53.2%,#e54d34 55.3%,#e85438 57.4%,#ed5d3c 59.6%,#ec5d3c 61.7%,#ed5d3c 63.8%,#f46f44 66.0%,#f99455 68.1%,#fdb568 70.2%,#f99455 72.3%,#cc2627 74.5%,#a60126 76.6%,#db382b 78.7%,#e75136 80.9%,#bd1726 83.0%,#a50026 85.1%,#a50026 87.2%,#a80326 89.4%,#a50026 91.5%,#a50026 93.6%,#a50026 95.7%,#a50026 97.9%,#a50026 100.0%)"></div><div style="height:7.47px;background:linear-gradient(90deg,#ec5c3b 0.0%,#e95538 2.1%,#ed5e3c 4.3%,#f7844d 6.4%,#fb9f5a 8.5%,#fb9c59 10.6%,#fba15b 12.8%,#fdb669 14.9%,#fdbc6e 17.0%,#fca95f 19.1%,#f7854e 21.3%,#ee603d 23.4%,#e0422f 25.5%,#e44c34 27.7%,#fba15b 29.8%,#fee598 31.9%,#fee79b 34.0%,#fec97a 36.2%,#fdad60 38.3%,#f88a50 40.4%,#ef623e 42.6%,#e44a33 44.7%,#e34a33 46.8%,#e65035 48.9%,#e65136 51.1%,#e54e35 53.2%,#e54d34 55.3%,#e85438 57.4%,#ed5d3c 59.6%,#ec5d3c 61.7%,#ed5d3c 63.8%,#f46f44 66.0%,#f99455 68.1%,#fdb568 70.2%,#f99555 72.3%,#cc2627 74.5%,#a60126 76.6%,#db382b 78.7%,#e75236 80.9%,#bd1726 83.0%,#a50026 85.1%,#a50026 87.2%,#a80326 89.4%,#a50026 91.5%,#a50026 93.6%,#a50026 95.7%,#a50026 97.9%,#a50026 100.0%)"></div><div style="height:7.47px;background:linear-gradient(90deg,#ed5e3c 0.0%,#e95739 2.1%,#ee603d 4.3%,#f7854e 6.4%,#fba15b 8.5%,#fb9e5a 10.6%,#fba25b 12.8%,#fdb568 14.9%,#fdba6c 17.0%,#fcaa5f 19.1%,#f88950 21.3%,#f16640 23.4%,#e44a33 25.5%,#e85438 27.7%,#fca65d 29.8%,#fee79a 31.9%,#fee99e 34.0%,#fed081 36.2%,#fdb669 38.3%,#f99455 40.4%,#f0653f 42.6%,#e34a33 44.7%,#e34a33 46.8%,#e65036 48.9%,#e65036 51.1%,#e54d34 53.2%,#e54d34 55.3%,#e85438 57.4%,#ec5d3c 59.6%,#ec5d3c 61.7%,#ec5d3c 63.8%,#f46d43 66.0%,#f99053 68.1%,#fdb164 70.2%,#f99154 72.3%,#cc2627 74.5%,#a60126 76.6%,#d83328 78.7%,#e44b34 80.9%,#bc1626 83.0%,#a50026 85.1%,#a50026 87.2%,#a80326 89.4%,#a60126 91.5%,#a50026 93.6%,#a50026 95.7%,#a50026 97.9%,#a50026 100.0%)"></div><div style="height:7.47px;background:linear-gradient(90deg,#ed5e3c 0.0%,#ea5839 2.1%,#ee613d 4.3%,#f7864e 6.4%,#fba15b 8.5%,#fb9f5a 10.6%,#fba25c 12.8%,#fdb467 14.9%,#fdba6c 17.0%,#fdab5f 19.1%,#f88b51 21.3%,#f26941 23.4%,#e54e35 25.5%,#ea583a 27.7%,#fca95f 29.8%,#fee79b 31.9%,#feea9f 34.0%,#fed484 36.2%,#fdbb6d 38.3%,#fa9857 40.4%,#f16640 42.6%,#e34932 44.7%,#e34a33 46.8%,#e75136 48.9%,#e65035 51.1%,#e54d34 53.2%,#e54d34 55.3%,#e85438 57.4%,#ec5d3c 59.6%,#ec5d3c 61.7%,#ec5d3c 63.8%,#f46c43 66.0%,#f98e52 68.1%,#fdaf62 70.2%,#f98f53 72.3%,#cc2627 74.5%,#a60126 76.6%,#d73127 78.7%,#e24832 80.9%,#bb1526 83.0%,#a50026 85.1%,#a50026 87.2%,#a80326 89.4%,#a60126 91.5%,#a50026 93.6%,#a50026 95.7%,#a50026 97.9%,#a50026 100.0%)"></div><div style="height:7.47px;background:linear-gradient(90deg,#ed5e3c 0.0%,#ea5839 2.1%,#ee613d 4.3%,#f7864e 6.4%,#fba15b 8.5%,#fb9f5a 10.6%,#fba25c 12.8%,#fdb567 14.9%,#fdba6c 17.0%,#fcaa5f 19.1%,#f88b51 21.3%,#f26841 23.4%,#e54d34 25.5%,#ea5739 27.7%,#fca85e 29.8%,#fee79b 31.9%,#feea9f 34.0%,#fed384 36.2%,#fdba6c 38.3%,#fa9756 40.4%,#f16640 42.6%,#e34933 44.7%,#e34a33 46.8%,#e65136 48.9%,#e65036 51.1%,#e54d34 53.2%,#e54d34 55.3%,#e85438 57.4%,#ec5d3c 59.6%,#ec5d3c 61.7%,#ec5d3c 63.8%,#f46d43 66.0%,#f98e52 68.1%,#fdb063 70.2%,#f99053 72.3%,#cc2627 74.5%,#a60126 76.6%,#d83128 78.7%,#e34932 80.9%,#bb1526 83.0%,#a50026 85.1%,#a50026 87.2%,#a80326 89.4%,#a60126 91.5%,#a50026 93.6%,#a50026 95.7%,#a50026 97.9%,#a50026 100.0%)"></div><div style="height:7.47px;background:linear-gradient(90deg,#ed5e3c 0.0%,#ea5739 2.1%,#ee603d 4.3%,#f7854e 6.4%,#fba15b 8.5%,#fb9f5a 10.6%,#fba25b 12.8%,#fdb568 14.9%,#fdba6c 17.0%,#fcaa5f 19.1%,#f88a50 21.3%,#f16740 23.4%,#e44b33 25.5%,#e95538 27.7%,#fca75e 29.8%,#fee79a 31.9%,#fee99e 34.0%,#fed182 36.2%,#fdb76a 38.3%,#f99555 40.4%,#f0653f 42.6%,#e34933 44.7%,#e34a33 46.8%,#e65036 48.9%,#e65036 51.1%,#e54d34 53.2%,#e54d34 55.3%,#e85438 57.4%,#ec5d3c 59.6%,#ec5d3c 61.7%,#ec5d3c 63.8%,#f46d43 66.0%,#f98f53 68.1%,#fdb164 70.2%,#f99153 72.3%,#cc2627 74.5%,#a60126 76.6%,#d83328 78.7%,#e44b33 80.9%,#bb1626 83.0%,#a50026 85.1%,#a50026 87.2%,#a80326 89.4%,#a60126 91.5%,#a50026 93.6%,#a50026 95.7%,#a50026 97.9%,#a50026 100.0%)"></div><div style="height:7.47px;background:linear-gradient(90deg,#ed5e3c 0.0%,#ea5739 2.1%,#ee603d 4.3%,#f7854e 6.4%,#fba15b 8.5%,#fb9e5a 10.6%,#fba25b 12.8%,#fdb568 14.9%,#fdba6c 17.0%,#fcaa5f 19.1%,#f88950 21.3%,#f16640 23.4%,#e44b33 25.5%,#e85538 27.7%,#fca65d 29.8%,#fee79a 31.9%,#fee99e 34.0%,#fed081 36.2%,#fdb769 38.3%,#f99455 40.4%,#f0653f 42.6%,#e34933 44.7%,#e34a33 46.8%,#e65036 48.9%,#e65036 51.1%,#e54d34 53.2%,#e54d34 55.3%,#e85438 57.4%,#ec5d3c 59.6%,#ec5d3c 61.7%,#ec5d3c 63.8%,#f46d43 66.0%,#f99053 68.1%,#fdb164 70.2%,#f99154 72.3%,#cc2627 74.5%,#a60126 76.6%,#d83328 78.7%,#e44b33 80.9%,#bc1626 83.0%,#a50026 85.1%,#a50026 87.2%,#a80326 89.4%,#a60126 91.5%,#a50026 93.6%,#a50026 95.7%,#a50026 97.9%,#a50026 100.0%)"></div><div style="height:7.47px;background:linear-gradient(90deg,#ed5e3c 0.0%,#ea5739 2.1%,#ee603d 4.3%,#f7854e 6.4%,#fba15b 8.5%,#fb9f5a 10.6%,#fba25b 12.8%,#fdb568 14.9%,#fdba6c 17.0%,#fcaa5f 19.1%,#f88a50 21.3%,#f16740 23.4%,#e44b33 25.5%,#e95538 27.7%,#fca75e 29.8%,#fee79a 31.9%,#fee99e 34.0%,#fed182 36.2%,#fdb76a 38.3%,#f99555 40.4%,#f0653f 42.6%,#e34933 44.7%,#e34a33 46.8%,#e65036 48.9%,#e65036 51.1%,#e54d34 53.2%,#e54d34 55.3%,#e85438 57.4%,#ec5d3c 59.6%,#ec5d3c 61.7%,#ec5d3c 63.8%,#f46d43 66.0%,#f98f53 68.1%,#fdb164 70.2%,#f99153 72.3%,#cc2627 74.5%,#a60126 76.6%,#d83328 78.7%,#e44b33 80.9%,#bb1626 83.0%,#a50026 85.1%,#a50026 87.2%,#a80326 89.4%,#a60126 91.5%,#a50026 93.6%,#a50026 95.7%,#a50026 97.9%,#a50026 100.0%)"></div><div style="height:7.47px;background:linear-gradient(90deg,#ed5e3c 0.0%,#ea5739 2.1%,#ee603d 4.3%,#f7854e 6.4%,#fba15b 8.5%,#fb9f5a 10.6%,#fba25b 12.8%,#fdb567 14.9%,#fdba6c 17.0%,#fcaa5f 19.1%,#f88a50 21.3%,#f16740 23.4%,#e44c34 25.5%,#e95638 27.7%,#fca75e 29.8%,#fee79a 31.9%,#fee99e 34.0%,#fed182 36.2%,#fdb86a 38.3%,#fa9556 40.4%,#f0653f 42.6%,#e34933 44.7%,#e34a33 46.8%,#e65036 48.9%,#e65036 51.1%,#e54d34 53.2%,#e54d34 55.3%,#e85438 57.4%,#ec5d3c 59.6%,#ec5d3c 61.7%,#ec5d3c 63.8%,#f46d43 66.0%,#f98f53 68.1%,#fdb164 70.2%,#f99053 72.3%,#cc2627 74.5%,#a60126 76.6%,#d83228 78.7%,#e34a33 80.9%,#bb1526 83.0%,#a50026 85.1%,#a50026 87.2%,#a80326 89.4%,#a60126 91.5%,#a50026 93.6%,#a50026 95.7%,#a50026 97.9%,#a50026 100.0%)"></div><div style="height:7.47px;background:linear-gradient(90deg,#ed5e3c 0.0%,#ea5739 2.1%,#ee603d 4.3%,#f7854e 6.4%,#fba15b 8.5%,#fb9f5a 10.6%,#fba25b 12.8%,#fdb567 14.9%,#fdba6c 17.0%,#fcaa5f 19.1%,#f88a50 21.3%,#f16740 23.4%,#e44c34 25.5%,#e95638 27.7%,#fca75e 29.8%,#fee79a 31.9%,#fee99e 34.0%,#fed182 36.2%,#fdb86a 38.3%,#fa9556 40.4%,#f0653f 42.6%,#e34933 44.7%,#e34a33 46.8%,#e65036 48.9%,#e65036 51.1%,#e54d34 53.2%,#e54d34 55.3%,#e85438 57.4%,#ec5d3c 59.6%,#ec5d3c 61.7%,#ec5d3c 63.8%,#f46d43 66.0%,#f98f53 68.1%,#fdb164 70.2%,#f99053 72.3%,#cc2627 74.5%,#a60126 76.6%,#d83228 78.7%,#e34a33 80.9%,#bb1526 83.0%,#a50026 85.1%,#a50026 87.2%,#a80326 89.4%,#a60126 91.5%,#a50026 93.6%,#a50026 95.7%,#a50026 97.9%,#a50026 100.0%)"></div><div style="height:7.47px;background:linear-gradient(90deg,#ed5e3c 0.0%,#ea5739 2.1%,#ee603d 4.3%,#f7854e 6.4%,#fba15b 8.5%,#fb9f5a 10.6%,#fba25b 12.8%,#fdb568 14.9%,#fdba6c 17.0%,#fcaa5f 19.1%,#f88a50 21.3%,#f16740 23.4%,#e44b34 25.5%,#e95538 27.7%,#fca75e 29.8%,#fee79a 31.9%,#fee99e 34.0%,#fed182 36.2%,#fdb86a 38.3%,#fa9555 40.4%,#f0653f 42.6%,#e34933 44.7%,#e34a33 46.8%,#e65036 48.9%,#e65036 51.1%,#e54d34 53.2%,#e54d34 55.3%,#e85438 57.4%,#ec5d3c 59.6%,#ec5d3c 61.7%,#ec5d3c 63.8%,#f46d43 66.0%,#f98f53 68.1%,#fdb164 70.2%,#f99053 72.3%,#cc2627 74.5%,#a60126 76.6%,#d83228 78.7%,#e44a33 80.9%,#bb1526 83.0%,#a50026 85.1%,#a50026 87.2%,#a80326 89.4%,#a60126 91.5%,#a50026 93.6%,#a50026 95.7%,#a50026 97.9%,#a50026 100.0%)"></div><div style="height:7.47px;background:linear-gradient(90deg,#ed5e3c 0.0%,#ea5739 2.1%,#ee603d 4.3%,#f7854e 6.4%,#fba15b 8.5%,#fb9f5a 10.6%,#fba25b 12.8%,#fdb568 14.9%,#fdba6c 17.0%,#fcaa5f 19.1%,#f88a50 21.3%,#f16740 23.4%,#e44b34 25.5%,#e95538 27.7%,#fca75e 29.8%,#fee79a 31.9%,#fee99e 34.0%,#fed182 36.2%,#fdb86a 38.3%,#fa9555 40.4%,#f0653f 42.6%,#e34933 44.7%,#e34a33 46.8%,#e65036 48.9%,#e65036 51.1%,#e54d34 53.2%,#e54d34 55.3%,#e85438 57.4%,#ec5d3c 59.6%,#ec5d3c 61.7%,#ec5d3c 63.8%,#f46d43 66.0%,#f98f53 68.1%,#fdb164 70.2%,#f99153 72.3%,#cc2627 74.5%,#a60126 76.6%,#d83228 78.7%,#e44a33 80.9%,#bb1526 83.0%,#a50026 85.1%,#a50026 87.2%,#a80326 89.4%,#a60126 91.5%,#a50026 93.6%,#a50026 95.7%,#a50026 97.9%,#a50026 100.0%)"></div><div style="height:7.47px;background:linear-gradient(90deg,#ed5e3c 0.0%,#ea5739 2.1%,#ee603d 4.3%,#f7854e 6.4%,#fba15b 8.5%,#fb9f5a 10.6%,#fba25b 12.8%,#fdb568 14.9%,#fdba6c 17.0%,#fcaa5f 19.1%,#f88a50 21.3%,#f16740 23.4%,#e44b34 25.5%,#e95538 27.7%,#fca75e 29.8%,#fee79a 31.9%,#fee99e 34.0%,#fed182 36.2%,#fdb86a 38.3%,#fa9555 40.4%,#f0653f 42.6%,#e34933 44.7%,#e34a33 46.8%,#e65036 48.9%,#e65036 51.1%,#e54d34 53.2%,#e54d34 55.3%,#e85438 57.4%,#ec5d3c 59.6%,#ec5d3c 61.7%,#ec5d3c 63.8%,#f46d43 66.0%,#f98f53 68.1%,#fdb164 70.2%,#f99153 72.3%,#cc2627 74.5%,#a60126 76.6%,#d83228 78.7%,#e44a33 80.9%,#bb1526 83.0%,#a50026 85.1%,#a50026 87.2%,#a80326 89.4%,#a60126 91.5%,#a50026 93.6%,#a50026 95.7%,#a50026 97.9%,#a50026 100.0%)"></div><div style="height:7.47px;background:linear-gradient(90deg,#ed5e3c 0.0%,#ea5739 2.1%,#ee603d 4.3%,#f7854e 6.4%,#fba15b 8.5%,#fb9f5a 10.6%,#fba25b 12.8%,#fdb568 14.9%,#fdba6c 17.0%,#fcaa5f 19.1%,#f88a50 21.3%,#f16740 23.4%,#e44b34 25.5%,#e95538 27.7%,#fca75e 29.8%,#fee79a 31.9%,#fee99e 34.0%,#fed182 36.2%,#fdb86a 38.3%,#fa9555 40.4%,#f0653f 42.6%,#e34933 44.7%,#e34a33 46.8%,#e65036 48.9%,#e65036 51.1%,#e54d34 53.2%,#e54d34 55.3%,#e85438 57.4%,#ec5d3c 59.6%,#ec5d3c 61.7%,#ec5d3c 63.8%,#f46d43 66.0%,#f98f53 68.1%,#fdb164 70.2%,#f99053 72.3%,#cc2627 74.5%,#a60126 76.6%,#d83228 78.7%,#e44a33 80.9%,#bb1526 83.0%,#a50026 85.1%,#a50026 87.2%,#a80326 89.4%,#a60126 91.5%,#a50026 93.6%,#a50026 95.7%,#a50026 97.9%,#a50026 100.0%)"></div><div style="height:7.47px;background:linear-gradient(90deg,#ed5e3c 0.0%,#ea5739 2.1%,#ee603d 4.3%,#f7854e 6.4%,#fba15b 8.5%,#fb9f5a 10.6%,#fba25b 12.8%,#fdb568 14.9%,#fdba6c 17.0%,#fcaa5f 19.1%,#f88a50 21.3%,#f16740 23.4%,#e44b34 25.5%,#e95538 27.7%,#fca75e 29.8%,#fee79a 31.9%,#fee99e 34.0%,#fed182 36.2%,#fdb86a 38.3%,#fa9555 40.4%,#f0653f 42.6%,#e34933 44.7%,#e34a33 46.8%,#e65036 48.9%,#e65036 51.1%,#e54d34 53.2%,#e54d34 55.3%,#e85438 57.4%,#ec5d3c 59.6%,#ec5d3c 61.7%,#ec5d3c 63.8%,#f46d43 66.0%,#f98f53 68.1%,#fdb164 70.2%,#f99053 72.3%,#cc2627 74.5%,#a60126 76.6%,#d83228 78.7%,#e44a33 80.9%,#bb1526 83.0%,#a50026 85.1%,#a50026 87.2%,#a80326 89.4%,#a60126 91.5%,#a50026 93.6%,#a50026 95.7%,#a50026 97.9%,#a50026 100.0%)"></div><div style="height:7.47px;background:linear-gradient(90deg,#ed5e3c 0.0%,#ea5739 2.1%,#ee603d 4.3%,#f7854e 6.4%,#fba15b 8.5%,#fb9f5a 10.6%,#fba25b 12.8%,#fdb568 14.9%,#fdba6c 17.0%,#fcaa5f 19.1%,#f88a50 21.3%,#f16740 23.4%,#e44b34 25.5%,#e95538 27.7%,#fca75e 29.8%,#fee79a 31.9%,#fee99e 34.0%,#fed182 36.2%,#fdb86a 38.3%,#fa9555 40.4%,#f0653f 42.6%,#e34933 44.7%,#e34a33 46.8%,#e65036 48.9%,#e65036 51.1%,#e54d34 53.2%,#e54d34 55.3%,#e85438 57.4%,#ec5d3c 59.6%,#ec5d3c 61.7%,#ec5d3c 63.8%,#f46d43 66.0%,#f98f53 68.1%,#fdb164 70.2%,#f99053 72.3%,#cc2627 74.5%,#a60126 76.6%,#d83228 78.7%,#e44a33 80.9%,#bb1526 83.0%,#a50026 85.1%,#a50026 87.2%,#a80326 89.4%,#a60126 91.5%,#a50026 93.6%,#a50026 95.7%,#a50026 97.9%,#a50026 100.0%)"></div></div></div><div class="hm" style="left:85.0px;top:313.6px;width:473.6px;height:277.6px"><div style="left:-10px;top:-10px;width:493.6px;height:297.6px"><div style="height:7.44px;background:linear-gradient(90deg,#81b7d7 0.0%,#81b7d7 2.1%,#81b7d7 4.3%,#80b7d6 6.4%,#81b8d7 8.5%,#83b9d8 10.6%,#7eb5d5 12.8%,#6fa7ce 14.9%,#6096c5 17.0%,#5487bd 19.1%,#4b7cb8 21.3%,#4576b4 23.4%,#4676b4 25.5%,#4575b4 27.7%,#426aaf 29.8%,#4065ac 31.9%,#4777b5 34.0%,#5082bb 36.2%,#4472b3 38.3%,#4065ac 40.4%,#4575b4 42.6%,#5487bd 44.7%,#5e93c4 46.8%,#73acd0 48.9%,#94c7df 51.1%,#9ecfe3 53.2%,#91c4de 55.3%,#88bdda 57.4%,#89bdda 59.6%,#8abfdb 61.7%,#89beda 63.8%,#81b7d7 66.0%,#6fa7ce 68.1%,#598cc0 70.2%,#6196c5 72.3%,#95c8df 74.5%,#a7d6e7 76.6%,#81b7d7 78.7%,#9acce2 80.9%,#eff9dd 83.0%,#fefec2 85.1%,#ecf8e2 87.2%,#feefa6 89.4%,#f7804c 91.5%,#ed5f3d 93.6%,#f88b51 95.7%,#fa9a58 97.9%,#f98f53 100.0%)"></div><div style="height:7.44px;background:linear-gradient(90deg,#80b6d6 0.0%,#80b6d6 2.1%,#7fb6d6 4.3%,#7fb6d6 6.4%,#80b7d6 8.5%,#82b8d7 10.6%,#7cb3d4 12.8%,#6da4cd 14.9%,#5e93c4 17.0%,#5386bd 19.1%,#4a7bb7 21.3%,#4575b4 23.4%,#4575b4 25.5%,#4574b3 27.7%,#4169ae 29.8%,#4065ac 31.9%,#4677b5 34.0%,#4f82ba 36.2%,#4472b2 38.3%,#4065ac 40.4%,#4575b4 42.6%,#5486bd 44.7%,#5d92c3 46.8%,#72abd0 48.9%,#93c6df 51.1%,#9dcee3 53.2%,#8dc1dc 55.3%,#81b7d7 57.4%,#7eb5d5 59.6%,#7eb5d5 61.7%,#7db4d5 63.8%,#76afd2 66.0%,#679ec9 68.1%,#5588be 70.2%,#6095c4 72.3%,#95c8df 74.5%,#a7d6e7 76.6%,#80b7d6 78.7%,#99cbe1 80.9%,#eef8de 83.0%,#fdfec3 85.1%,#ebf7e3 87.2%,#feeea6 89.4%,#f67d4a 91.5%,#ed5e3c 93.6%,#f98e52 95.7%,#fb9e5a 97.9%,#f99354 100.0%)"></div><div style="height:7.44px;background:linear-gradient(90deg,#81b7d7 0.0%,#81b8d7 2.1%,#81b7d7 4.3%,#80b7d6 6.4%,#81b8d7 8.5%,#83b9d8 10.6%,#7eb5d5 12.8%,#6fa7ce 14.9%,#6096c5 17.0%,#5487bd 19.1%,#4b7cb8 21.3%,#4576b4 23.4%,#4676b4 25.5%,#4575b4 27.7%,#426aaf 29.8%,#4065ac 31.9%,#4777b5 34.0%,#5082bb 36.2%,#4472b3 38.3%,#4065ac 40.4%,#4575b4 42.6%,#5487bd 44.7%,#5e93c4 46.8%,#73acd0 48.9%,#94c7df 51.1%,#9ecfe3 53.2%,#91c4de 55.3%,#88bdda 57.4%,#89beda 59.6%,#8bbfdb 61.7%,#89beda 63.8%,#81b8d7 66.0%,#6fa7ce 68.1%,#598dc0 70.2%,#6196c5 72.3%,#95c8df 74.5%,#a7d6e7 76.6%,#81b7d7 78.7%,#9acce2 80.9%,#eff9dd 83.0%,#fefec2 85.1%,#ecf8e2 87.2%,#feefa6 89.4%,#f7804c 91.5%,#ed5f3d 93.6%,#f88b51 95.7%,#fa9a58 97.9%,#f98f53 100.0%)"></div><div style="height:7.44px;background:linear-gradient(90deg,#88bdda 0.0%,#88bdda 2.1%,#88bdda 4.3%,#87bdd9 6.4%,#88bdda 8.5%,#89beda 10.6%,#85bbd9 12.8%,#7ab2d3 14.9%,#6ba2cb 17.0%,#5b90c2 19.1%,#4e7fb9 21.3%,#4676b5 23.4%,#4879b6 25.5%,#4a7bb7 27.7%,#436eb1 29.8%,#4065ac 31.9%,#4879b6 34.0%,#5486bd 36.2%,#4575b4 38.3%,#4065ac 40.4%,#4676b5 42.6%,#578bbf 44.7%,#6399c6 46.8%,#78b0d3 48.9%,#97c9e0 51.1%,#a5d5e7 53.2%,#a4d4e6 55.3%,#acdae9 57.4%,#bce1ee 59.6%,#c5e6f0 61.7%,#c3e5f0 63.8%,#b6deec 66.0%,#98c9e0 68.1%,#6ca4cc 70.2%,#679dc9 72.3%,#96c8e0 74.5%,#a8d7e8 76.6%,#85bbd8 78.7%,#a0d0e4 80.9%,#f2fad8 83.0%,#fffdbc 85.1%,#eff9dc 87.2%,#fff1aa 89.4%,#f99053 91.5%,#f0643f 93.6%,#f67c4a 95.7%,#f7864f 97.9%,#f67f4b 100.0%)"></div><div style="height:7.44px;background:linear-gradient(90deg,#93c6de 0.0%,#93c6de 2.1%,#93c6de 4.3%,#93c6de 6.4%,#93c6df 8.5%,#94c6df 10.6%,#92c5de 12.8%,#8abfdb 14.9%,#7ab2d4 17.0%,#669dc9 19.1%,#5487bd 21.3%,#4a7bb7 23.4%,#4e80ba 25.5%,#5386bd 27.7%,#4778b5 29.8%,#426aaf 31.9%,#4c7db8 34.0%,#588cc0 36.2%,#497ab7 38.3%,#416aaf 40.4%,#4a7bb7 42.6%,#5c91c2 44.7%,#699fca 46.8%,#7eb5d5 48.9%,#9ecfe3 51.1%,#b6deec 53.2%,#c7e7f1 55.3%,#e2f4f4 57.4%,#f6fccf 59.6%,#fffcbb 61.7%,#fffcbb 63.8%,#f7fccf 66.0%,#d7eff6 68.1%,#90c3dd 70.2%,#72aacf 72.3%,#9acbe2 74.5%,#addae9 76.6%,#8bc0db 78.7%,#a6d5e7 80.9%,#f5fbd2 83.0%,#fff8b5 85.1%,#f4fbd4 87.2%,#fff4ae 89.4%,#fca55d 91.5%,#f26941 93.6%,#f0653f 95.7%,#f16740 97.9%,#f06540 100.0%)"></div><div style="height:7.44px;background:linear-gradient(90deg,#9fd0e4 0.0%,#9fd0e4 2.1%,#9fd0e4 4.3%,#9fcfe4 6.4%,#9fd0e4 8.5%,#a0d0e4 10.6%,#9ecfe3 12.8%,#98cae1 14.9%,#89beda 17.0%,#73abd0 19.1%,#5f94c4 21.3%,#5386bd 23.4%,#588bc0 25.5%,#5f94c4 27.7%,#5386bd 29.8%,#4778b5 31.9%,#5285bc 34.0%,#5d92c3 36.2%,#5183bb 38.3%,#4778b5 40.4%,#5385bc 42.6%,#6197c5 44.7%,#6ba2cb 46.8%,#81b7d7 48.9%,#a9d8e8 51.1%,#d1ecf4 53.2%,#edf8e0 55.3%,#fff8b4 57.4%,#fede8e 59.6%,#fdc173 61.7%,#fdba6c 63.8%,#fecf80 66.0%,#fffbb9 68.1%,#b9e0ed 70.2%,#84bad8 72.3%,#a6d5e7 74.5%,#b7dfec 76.6%,#90c4dd 78.7%,#a7d6e7 80.9%,#f5fbd1 83.0%,#fff5b0 85.1%,#f8fccb 87.2%,#fff5b0 89.4%,#fdb467 91.5%,#f26a41 93.6%,#e44c34 95.7%,#e24731 97.9%,#e44a33 100.0%)"></div><div style="height:7.44px;background:linear-gradient(90deg,#abd9e9 0.0%,#abd9e9 2.1%,#abd9e9 4.3%,#aad8e9 6.4%,#abd9e9 8.5%,#acd9e9 10.6%,#a9d7e8 12.8%,#9ecfe3 14.9%,#90c4dd 17.0%,#7fb6d6 19.1%,#6ea6cd 21.3%,#6399c7 23.4%,#669cc8 25.5%,#6ca3cc 27.7%,#649ac7 29.8%,#598dc0 31.9%,#5c90c2 34.0%,#6196c5 36.2%,#5c90c2 38.3%,#5a8dc1 40.4%,#6196c5 42.6%,#669dc9 44.7%,#69a0ca 46.8%,#82b8d7 48.9%,#b9e0ed 51.1%,#eef8df 53.2%,#fff0a8 55.3%,#fed182 57.4%,#fdb164 59.6%,#f7844e 61.7%,#f26941 63.8%,#f7824d 66.0%,#fed485 68.1%,#dff3f8 70.2%,#9ccde2 72.3%,#bbe1ee 74.5%,#c7e7f1 76.6%,#93c6de 78.7%,#a0d0e4 80.9%,#f2fad7 83.0%,#fff5af 85.1%,#fcfec5 87.2%,#fff4af 89.4%,#fdb76a 91.5%,#f0643f 93.6%,#da3529 95.7%,#d42d27 97.9%,#d83328 100.0%)"></div><div style="height:7.44px;background:linear-gradient(90deg,#b4ddec 0.0%,#b4deec 2.1%,#b4ddec 4.3%,#b3ddeb 6.4%,#b5deec 8.5%,#b6dfec 10.6%,#b1dceb 12.8%,#a2d2e5 14.9%,#95c7df 17.0%,#8cc0db 19.1%,#81b8d7 21.3%,#78b0d3 23.4%,#77afd2 25.5%,#7ab2d4 27.7%,#75aed2 29.8%,#6da4cc 31.9%,#669dc9 34.0%,#659bc8 36.2%,#689fca 38.3%,#6da5cd 40.4%,#70a8ce 42.6%,#6da5cd 44.7%,#6da5cd 46.8%,#8abfdb 48.9%,#cde9f3 51.1%,#fffbb9 53.2%,#fecb7d 55.3%,#fca95f 57.4%,#f98f53 59.6%,#ed5d3c 61.7%,#d93329 63.8%,#e14631 66.0%,#fca85e 68.1%,#f3fbd4 70.2%,#b5deec 72.3%,#cfebf3 74.5%,#d3edf4 76.6%,#93c6de 78.7%,#97c9e0 80.9%,#edf8e1 83.0%,#fff6b2 85.1%,#feffc1 87.2%,#fff2ab 89.4%,#fdb568 91.5%,#ec5d3b 93.6%,#d02927 95.7%,#c62027 97.9%,#cd2627 100.0%)"></div><div style="height:7.44px;background:linear-gradient(90deg,#bce1ee 0.0%,#bce1ee 2.1%,#bce1ee 4.3%,#bbe1ee 6.4%,#bce2ee 8.5%,#bee3ee 10.6%,#b8dfed 12.8%,#a9d8e8 14.9%,#9dcee3 17.0%,#98cae1 19.1%,#93c6df 21.3%,#8dc1dc 23.4%,#8bbfdb 25.5%,#89beda 27.7%,#84bad8 29.8%,#7bb2d4 31.9%,#70a9cf 34.0%,#6da4cc 36.2%,#73acd1 38.3%,#7bb3d4 40.4%,#7bb3d4 42.6%,#7ab2d4 44.7%,#83b9d7 46.8%,#a5d4e6 48.9%,#e1f4f6 51.1%,#feefa6 53.2%,#fdb567 55.3%,#f98f53 57.4%,#f67d4a 59.6%,#e34933 61.7%,#c31d27 63.8%,#cf2827 66.0%,#f7854e 68.1%,#fffab7 70.2%,#cbe9f2 72.3%,#d9f0f6 74.5%,#d4edf5 76.6%,#91c4de 78.7%,#93c6de 80.9%,#e9f6e8 83.0%,#fff9b6 85.1%,#ffffbf 87.2%,#feefa6 89.4%,#fdb264 91.5%,#eb5a3a 93.6%,#ce2727 95.7%,#c41e27 97.9%,#cb2527 100.0%)"></div><div style="height:7.44px;background:linear-gradient(90deg,#c2e4ef 0.0%,#c2e4ef 2.1%,#c2e4ef 4.3%,#c1e4ef 6.4%,#c2e4f0 8.5%,#c4e5f0 10.6%,#bfe3ef 12.8%,#b3ddeb 14.9%,#a9d7e8 17.0%,#a4d3e6 19.1%,#a1d1e5 21.3%,#9fcfe4 23.4%,#9ccde2 25.5%,#96c8e0 27.7%,#8cc0dc 29.8%,#81b7d7 31.9%,#79b1d3 34.0%,#77afd2 36.2%,#7db4d5 38.3%,#81b7d7 40.4%,#81b7d7 42.6%,#8bc0db 44.7%,#a8d6e8 46.8%,#cbe9f2 48.9%,#edf8e0 51.1%,#feeca2 53.2%,#fdb568 55.3%,#f88d52 57.4%,#f57446 59.6%,#df412f 61.7%,#be1826 63.8%,#c82127 66.0%,#f57547 68.1%,#feeda4 70.2%,#def2f7 72.3%,#d9eff6 74.5%,#c9e8f2 76.6%,#90c3dd 78.7%,#97c9e0 80.9%,#e7f6ec 83.0%,#fffcba 85.1%,#fffebd 87.2%,#feeca2 89.4%,#fdb063 91.5%,#ed5e3c 93.6%,#d62f27 95.7%,#ce2727 97.9%,#d42d27 100.0%)"></div><div style="height:7.44px;background:linear-gradient(90deg,#c5e6f0 0.0%,#c5e6f0 2.1%,#c5e6f0 4.3%,#c5e6f0 6.4%,#c5e6f0 8.5%,#c6e6f1 10.6%,#c4e5f0 12.8%,#bce1ee 14.9%,#b3ddeb 17.0%,#acd9e9 19.1%,#a9d8e8 21.3%,#aad8e9 23.4%,#a7d6e7 25.5%,#9fcfe4 27.7%,#90c3dd 29.8%,#82b8d7 31.9%,#7fb5d6 34.0%,#81b7d7 36.2%,#82b9d7 38.3%,#81b8d7 40.4%,#82b9d7 42.6%,#99cbe1 44.7%,#c6e6f1 46.8%,#e6f5ee 48.9%,#f5fbd1 51.1%,#feeda4 53.2%,#fdbc6e 55.3%,#f99354 57.4%,#f57547 59.6%,#df402e 61.7%,#bf1927 63.8%,#cb2427 66.0%,#f57245 68.1%,#fee496 70.2%,#e8f6e9 72.3%,#d5eef5 74.5%,#bce2ee 76.6%,#91c4de 78.7%,#9fd0e4 80.9%,#e6f5ec 83.0%,#fffebd 85.1%,#fffbb9 87.2%,#fee89c 89.4%,#fdaf62 91.5%,#f16740 93.6%,#de3f2e 95.7%,#da362a 97.9%,#dd3c2d 100.0%)"></div><div style="height:7.44px;background:linear-gradient(90deg,#c6e6f1 0.0%,#c6e6f1 2.1%,#c6e6f1 4.3%,#c6e6f1 6.4%,#c7e6f1 8.5%,#c7e7f1 10.6%,#c5e6f0 12.8%,#bfe3ef 14.9%,#b7dfec 17.0%,#afdbea 19.1%,#acdae9 21.3%,#aedaea 23.4%,#abd9e9 25.5%,#a2d1e5 27.7%,#90c4dd 29.8%,#82b8d7 31.9%,#81b7d6 34.0%,#84bad8 36.2%,#84bad8 38.3%,#81b8d7 40.4%,#84b9d8 42.6%,#9ecee3 44.7%,#cdeaf3 46.8%,#e9f7e7 48.9%,#f6fbd0 51.1%,#feeda4 53.2%,#fdba6d 55.3%,#fa9555 57.4%,#f67d4a 59.6%,#e14531 61.7%,#bf1927 63.8%,#ce2727 66.0%,#f57647 68.1%,#fede8e 70.2%,#f1f9d9 72.3%,#d6eef5 74.5%,#b7dfec 76.6%,#97c9e0 78.7%,#aad8e9 80.9%,#e7f6eb 83.0%,#fffebe 85.1%,#fff7b3 87.2%,#fee496 89.4%,#fdb164 91.5%,#f57346 93.6%,#e65035 95.7%,#e24832 97.9%,#e54d35 100.0%)"></div><div style="height:7.44px;background:linear-gradient(90deg,#c6e6f1 0.0%,#c6e6f1 2.1%,#c6e6f1 4.3%,#c6e6f1 6.4%,#c6e6f1 8.5%,#c7e7f1 10.6%,#c5e6f0 12.8%,#bee3ee 14.9%,#b6deec 17.0%,#aedaea 19.1%,#acd9e9 21.3%,#addaea 23.4%,#aad9e9 25.5%,#a1d1e5 27.7%,#90c3dd 29.8%,#82b8d7 31.9%,#80b7d6 34.0%,#84b9d8 36.2%,#84b9d8 38.3%,#82b8d7 40.4%,#85bad8 42.6%,#9bcce2 44.7%,#c2e4f0 46.8%,#e1f3f6 48.9%,#f1f9d9 51.1%,#feeca3 53.2%,#fdb366 55.3%,#f99355 57.4%,#f88950 59.6%,#e64f35 61.7%,#c21c27 63.8%,#d52e27 66.0%,#f7814c 68.1%,#fedc8c 70.2%,#f7fcce 72.3%,#daf0f6 74.5%,#b9e0ed 76.6%,#a3d3e6 78.7%,#b7dfec 80.9%,#e9f6e8 83.0%,#fffdbc 85.1%,#fff1aa 87.2%,#fedf8f 89.4%,#fdb466 91.5%,#f7814c 93.6%,#ee603d 95.7%,#eb593a 97.9%,#ed5e3c 100.0%)"></div><div style="height:7.44px;background:linear-gradient(90deg,#c5e6f0 0.0%,#c5e6f0 2.1%,#c5e6f0 4.3%,#c5e6f0 6.4%,#c6e6f1 8.5%,#c7e6f1 10.6%,#c4e5f0 12.8%,#bde2ee 14.9%,#b4ddeb 17.0%,#acdae9 19.1%,#aad8e9 21.3%,#abd9e9 23.4%,#a8d7e8 25.5%,#9fd0e4 27.7%,#90c3dd 29.8%,#82b8d7 31.9%,#7fb6d6 34.0%,#82b8d7 36.2%,#82b8d7 38.3%,#82b8d7 40.4%,#86bbd9 42.6%,#96c9e0 44.7%,#b3ddeb 46.8%,#cdeaf3 48.9%,#e8f6ea 51.1%,#feefa7 53.2%,#fdb063 55.3%,#f99355 57.4%,#fa9555 59.6%,#ed5e3c 61.7%,#cf2827 63.8%,#df412f 66.0%,#fa9656 68.1%,#fee090 70.2%,#fafdc9 72.3%,#def2f7 74.5%,#bfe3ef 76.6%,#b4ddec 78.7%,#c8e7f1 80.9%,#ecf7e3 83.0%,#fffcba 85.1%,#feeca3 87.2%,#fed889 89.4%,#fdb769 91.5%,#f98f53 93.6%,#f57245 95.7%,#f36c42 97.9%,#f47044 100.0%)"></div><div style="height:7.44px;background:linear-gradient(90deg,#c5e6f0 0.0%,#c5e6f0 2.1%,#c5e6f0 4.3%,#c5e6f0 6.4%,#c6e6f1 8.5%,#c7e7f1 10.6%,#c4e5f0 12.8%,#bce2ee 14.9%,#b3ddeb 17.0%,#acd9e9 19.1%,#aad8e8 21.3%,#aad8e9 23.4%,#a8d7e8 25.5%,#9fd0e4 27.7%,#90c3dd 29.8%,#82b9d7 31.9%,#80b6d6 34.0%,#81b8d7 36.2%,#81b7d7 38.3%,#81b8d7 40.4%,#87bcd9 42.6%,#94c7df 44.7%,#a9d7e8 46.8%,#bde2ee 48.9%,#ddf1f7 51.1%,#fff7b2 53.2%,#fdb76a 55.3%,#fa9b58 57.4%,#fba15b 59.6%,#f57546 61.7%,#e24732 63.8%,#f0643f 66.0%,#fdb264 68.1%,#fee79a 70.2%,#f9fdca 72.3%,#dff3f8 74.5%,#c7e7f1 76.6%,#c9e8f1 78.7%,#ddf2f7 80.9%,#f0f9da 83.0%,#fffbb9 85.1%,#fee99e 87.2%,#fed484 89.4%,#fdba6c 91.5%,#fb9d59 93.6%,#f7854e 95.7%,#f7804c 97.9%,#f7844d 100.0%)"></div><div style="height:7.44px;background:linear-gradient(90deg,#c5e6f0 0.0%,#c5e6f0 2.1%,#c5e6f0 4.3%,#c5e6f0 6.4%,#c6e6f1 8.5%,#c7e7f1 10.6%,#c4e5f0 12.8%,#bde2ee 14.9%,#b4ddeb 17.0%,#acdae9 19.1%,#aad8e9 21.3%,#abd9e9 23.4%,#a8d7e8 25.5%,#a0d0e4 27.7%,#90c3dd 29.8%,#82b9d7 31.9%,#80b7d6 34.0%,#82b8d7 36.2%,#81b7d7 38.3%,#81b8d7 40.4%,#88bdda 42.6%,#94c6df 44.7%,#a4d3e6 46.8%,#b3ddeb 48.9%,#cfeaf3 51.1%,#fdfec3 53.2%,#fec97b 55.3%,#fdae61 57.4%,#fdb164 59.6%,#f99455 61.7%,#f57446 63.8%,#f99254 66.0%,#feca7b 68.1%,#feeda4 70.2%,#f9fdc9 72.3%,#e3f4f2 74.5%,#d5eef5 76.6%,#e1f3f7 78.7%,#ecf8e2 80.9%,#f7fccf 83.0%,#fff9b6 85.1%,#fee79a 87.2%,#fed182 89.4%,#fdbd6f 91.5%,#fca95f 93.6%,#fa9756 95.7%,#f99355 97.9%,#fa9656 100.0%)"></div><div style="height:7.44px;background:linear-gradient(90deg,#c6e6f1 0.0%,#c6e6f1 2.1%,#c6e6f1 4.3%,#c5e6f0 6.4%,#c6e6f1 8.5%,#c6e6f1 10.6%,#c4e5f0 12.8%,#bde2ee 14.9%,#b4deec 17.0%,#addaea 19.1%,#abd9e9 21.3%,#abd9e9 23.4%,#a9d7e8 25.5%,#9fcfe4 27.7%,#8fc3dd 29.8%,#82b8d7 31.9%,#7fb6d6 34.0%,#82b8d7 36.2%,#82b8d7 38.3%,#84bad8 40.4%,#89beda 42.6%,#94c6df 44.7%,#a2d2e5 46.8%,#b0dceb 48.9%,#c8e7f1 51.1%,#f3fad6 53.2%,#fee395 55.3%,#feca7c 57.4%,#feca7b 59.6%,#fdb86b 61.7%,#fca75e 63.8%,#fdbc6e 66.0%,#fedf8f 68.1%,#feefa7 70.2%,#fffebe 72.3%,#eef8df 74.5%,#e7f6eb 76.6%,#f1f9d9 78.7%,#fafdc8 80.9%,#feffc0 83.0%,#fff6b1 85.1%,#fee598 87.2%,#fed182 89.4%,#fdc072 91.5%,#fdb164 93.6%,#fca55d 95.7%,#fba25c 97.9%,#fca45d 100.0%)"></div><div style="height:7.44px;background:linear-gradient(90deg,#c6e6f1 0.0%,#c6e6f1 2.1%,#c6e6f1 4.3%,#c5e6f0 6.4%,#c6e6f1 8.5%,#c6e6f1 10.6%,#c3e5f0 12.8%,#bce2ee 14.9%,#b5deec 17.0%,#aedbea 19.1%,#acd9e9 21.3%,#acd9e9 23.4%,#a8d7e8 25.5%,#9ecfe3 27.7%,#8ec2dd 29.8%,#81b7d7 31.9%,#7eb5d5 34.0%,#81b7d7 36.2%,#84bad8 38.3%,#86bcd9 40.4%,#8abfdb 42.6%,#93c6df 44.7%,#a2d2e5 46.8%,#b1dceb 48.9%,#c6e6f1 51.1%,#e9f6e8 53.2%,#fff9b5 55.3%,#feeba0 57.4%,#fee79b 59.6%,#fedc8c 61.7%,#fecf80 63.8%,#fedb8c 66.0%,#fee99e 68.1%,#feeea5 70.2%,#fff4af 72.3%,#fcfec4 74.5%,#f7fcce 76.6%,#fffebe 78.7%,#fff7b4 80.9%,#fff7b3 83.0%,#fff1aa 85.1%,#fee496 87.2%,#fed283 89.4%,#fdc375 91.5%,#fdb86a 93.6%,#fdb063 95.7%,#fdae61 97.9%,#fdaf62 100.0%)"></div><div style="height:7.44px;background:linear-gradient(90deg,#c6e6f1 0.0%,#c6e6f1 2.1%,#c5e6f0 4.3%,#c5e6f0 6.4%,#c6e6f1 8.5%,#c6e6f1 10.6%,#c4e5f0 12.8%,#bde2ee 14.9%,#b4deec 17.0%,#addaea 19.1%,#abd9e9 21.3%,#abd9e9 23.4%,#a8d7e8 25.5%,#9fcfe4 27.7%,#8fc3dd 29.8%,#82b8d7 31.9%,#7fb6d6 34.0%,#81b8d7 36.2%,#82b8d7 38.3%,#84b9d8 40.4%,#89beda 42.6%,#94c6df 44.7%,#a3d3e5 46.8%,#b1dceb 48.9%,#bfe3ef 51.1%,#d9f0f6 53.2%,#eff9dd 55.3%,#fafdc8 57.4%,#fffdbc 59.6%,#fff4ae 61.7%,#feeca3 63.8%,#feeda3 66.0%,#feefa7 68.1%,#feeda4 70.2%,#fff0a9 72.3%,#fffbb9 74.5%,#fffebe 76.6%,#fff5b0 78.7%,#feefa7 80.9%,#fff0a9 83.0%,#feeda4 85.1%,#fee495 87.2%,#fed586 89.4%,#fec87a 91.5%,#fdbf71 93.6%,#fdb96b 95.7%,#fdb86a 97.9%,#fdb96b 100.0%)"></div><div style="height:7.44px;background:linear-gradient(90deg,#c5e6f0 0.0%,#c6e6f1 2.1%,#c5e6f0 4.3%,#c5e6f0 6.4%,#c6e6f1 8.5%,#c9e8f2 10.6%,#c8e7f1 12.8%,#bfe3ef 14.9%,#b3ddeb 17.0%,#a9d7e8 19.1%,#a7d6e7 21.3%,#aad8e9 23.4%,#abd9e9 25.5%,#a3d3e6 27.7%,#93c6df 29.8%,#86bbd9 31.9%,#85bbd8 34.0%,#85bbd9 36.2%,#7cb3d4 38.3%,#77b0d3 40.4%,#83b9d8 42.6%,#95c7df 44.7%,#a4d3e6 46.8%,#aad8e8 48.9%,#addae9 51.1%,#bbe1ee 53.2%,#d4edf5 55.3%,#e6f5ed 57.4%,#eef9dd 59.6%,#f5fbd0 61.7%,#fdfec2 63.8%,#fff7b3 66.0%,#fff0a9 68.1%,#fff1ab 70.2%,#fffab7 72.3%,#fafdc8 74.5%,#fafdc8 76.6%,#fff6b2 78.7%,#feeda4 80.9%,#feeda4 83.0%,#feeca1 85.1%,#fee497 87.2%,#feda8b 89.4%,#fed081 91.5%,#fec97a 93.6%,#fdc577 95.7%,#fdc476 97.9%,#fdc576 100.0%)"></div><div style="height:7.44px;background:linear-gradient(90deg,#c5e6f0 0.0%,#c6e6f1 2.1%,#c5e6f0 4.3%,#c4e5f0 6.4%,#c7e7f1 8.5%,#ceeaf3 10.6%,#cdeaf3 12.8%,#c1e4ef 14.9%,#b0dceb 17.0%,#a3d3e6 19.1%,#a2d2e5 21.3%,#a9d7e8 23.4%,#aedaea 25.5%,#a9d7e8 27.7%,#99cbe1 29.8%,#8cc0db 31.9%,#8ec2dc 34.0%,#8abfdb 36.2%,#72abd0 38.3%,#689fca 40.4%,#7bb3d4 42.6%,#97c9e0 44.7%,#a3d3e6 46.8%,#9ecfe4 48.9%,#94c7df 51.1%,#9bcce2 53.2%,#b5deec 55.3%,#cfebf3 57.4%,#e0f3f7 59.6%,#e4f5f1 61.7%,#ebf7e3 63.8%,#fffebe 66.0%,#fff0a8 68.1%,#fffab8 70.2%,#f0f9db 72.3%,#e5f5ee 74.5%,#ebf7e4 76.6%,#feffc1 78.7%,#fff1aa 80.9%,#feeea5 83.0%,#feeca2 85.1%,#fee79a 87.2%,#fee091 89.4%,#fed989 91.5%,#fed485 93.6%,#fed384 95.7%,#fed384 97.9%,#fed384 100.0%)"></div><div style="height:7.44px;background:linear-gradient(90deg,#c5e6f0 0.0%,#c6e6f1 2.1%,#c5e6f0 4.3%,#c3e5f0 6.4%,#c7e7f1 8.5%,#d1ecf4 10.6%,#d1ecf4 12.8%,#c3e5f0 14.9%,#afdbea 17.0%,#9fd0e4 19.1%,#9ecfe3 21.3%,#a8d7e8 23.4%,#b0dbea 25.5%,#addaea 27.7%,#9dcee3 29.8%,#90c3dd 31.9%,#95c7df 34.0%,#8ec2dc 36.2%,#6ba2cb 38.3%,#5b90c2 40.4%,#75aed1 42.6%,#98cae1 44.7%,#a1d1e5 46.8%,#94c7df 48.9%,#82b8d7 51.1%,#84bad8 53.2%,#9ecee3 55.3%,#bce1ee 57.4%,#cfebf3 59.6%,#cfebf3 61.7%,#daf0f6 63.8%,#fafdc8 66.0%,#fff0a8 68.1%,#f8fccc 70.2%,#d3edf4 72.3%,#c3e5f0 74.5%,#d7eef5 76.6%,#f1f9d9 78.7%,#fffbb9 80.9%,#fff2ac 83.0%,#feeea5 85.1%,#feea9f 87.2%,#fee698 89.4%,#fee292 91.5%,#fee191 93.6%,#fee192 95.7%,#fee293 97.9%,#fee292 100.0%)"></div><div style="height:7.44px;background:linear-gradient(90deg,#c5e6f0 0.0%,#c6e6f1 2.1%,#c5e6f0 4.3%,#c3e5f0 6.4%,#c7e7f1 8.5%,#d2ecf4 10.6%,#d2ecf4 12.8%,#c3e5f0 14.9%,#aedbea 17.0%,#9ecfe4 19.1%,#9dcee3 21.3%,#a8d6e8 23.4%,#b0dcea 25.5%,#aedbea 27.7%,#9ecfe3 29.8%,#91c4de 31.9%,#97c9e0 34.0%,#8fc2dd 36.2%,#679dc9 38.3%,#5588be 40.4%,#73abd0 42.6%,#98cae1 44.7%,#9ecee3 46.8%,#8fc3dd 48.9%,#7eb5d5 51.1%,#7db4d5 53.2%,#90c4dd 55.3%,#aedaea 57.4%,#c2e4ef 59.6%,#bde2ee 61.7%,#c6e6f1 63.8%,#f5fbd2 66.0%,#fff3ac 68.1%,#ecf8e2 70.2%,#b1dceb 72.3%,#a7d6e7 74.5%,#c2e4ef 76.6%,#e3f4f2 78.7%,#f6fccf 80.9%,#fffab8 83.0%,#fff3ad 85.1%,#fff0a8 87.2%,#feeca2 89.4%,#fee99d 91.5%,#fee99d 93.6%,#feeaa0 95.7%,#feeba1 97.9%,#feeba0 100.0%)"></div><div style="height:7.44px;background:linear-gradient(90deg,#c5e6f0 0.0%,#c6e6f1 2.1%,#c5e6f0 4.3%,#c3e5f0 6.4%,#c7e7f1 8.5%,#d1ecf4 10.6%,#d1ecf4 12.8%,#c3e5f0 14.9%,#afdbea 17.0%,#9fd0e4 19.1%,#9ecfe3 21.3%,#a8d7e8 23.4%,#b0dbea 25.5%,#addaea 27.7%,#9dcee3 29.8%,#90c3dd 31.9%,#96c8e0 34.0%,#8ec2dc 36.2%,#649ac7 38.3%,#5285bc 40.4%,#72abd0 42.6%,#97c9e0 44.7%,#99cbe1 46.8%,#8cc0db 48.9%,#81b8d7 51.1%,#7fb6d6 53.2%,#8abfdb 55.3%,#a5d4e6 57.4%,#bae0ed 59.6%,#b3ddeb 61.7%,#b9e0ed 63.8%,#eff9dc 66.0%,#fff6b2 68.1%,#e6f5ed 70.2%,#a0d1e4 72.3%,#95c8df 74.5%,#b0dbea 76.6%,#d2ecf4 78.7%,#ebf7e4 80.9%,#f9fdc9 83.0%,#fffcbb 85.1%,#fff9b6 87.2%,#fff6b1 89.4%,#fff2ab 91.5%,#fff1aa 93.6%,#fff3ad 95.7%,#fff3ad 97.9%,#fff3ad 100.0%)"></div><div style="height:7.44px;background:linear-gradient(90deg,#c5e6f0 0.0%,#c6e6f1 2.1%,#c5e6f0 4.3%,#c4e5f0 6.4%,#c7e7f1 8.5%,#d0ebf4 10.6%,#d1ebf4 12.8%,#c3e5f0 14.9%,#afdbea 17.0%,#a0d0e4 19.1%,#9fcfe4 21.3%,#a8d7e8 23.4%,#afdbea 25.5%,#addae9 27.7%,#9ccde2 29.8%,#8fc3dd 31.9%,#95c8e0 34.0%,#8dc1dc 36.2%,#6399c6 38.3%,#5184bc 40.4%,#73abd0 42.6%,#96c8e0 44.7%,#94c7df 46.8%,#89beda 48.9%,#84bad8 51.1%,#83b9d8 53.2%,#89beda 55.3%,#a1d1e4 57.4%,#b6deec 59.6%,#afdbea 61.7%,#b3ddeb 63.8%,#ebf7e4 66.0%,#fff8b4 68.1%,#ebf7e3 70.2%,#abd9e9 72.3%,#8bc0db 74.5%,#9bcce2 76.6%,#c6e6f1 78.7%,#e6f5ee 80.9%,#edf8e0 83.0%,#f1f9d9 85.1%,#f5fbd1 87.2%,#fafdc8 89.4%,#ffffbf 91.5%,#fffcbb 93.6%,#fffbba 95.7%,#fffbb9 97.9%,#fffbba 100.0%)"></div><div style="height:7.44px;background:linear-gradient(90deg,#c5e6f0 0.0%,#c6e6f1 2.1%,#c5e6f0 4.3%,#c4e5f0 6.4%,#c7e7f1 8.5%,#d0ebf4 10.6%,#d1ebf4 12.8%,#c3e5f0 14.9%,#afdbea 17.0%,#a0d0e4 19.1%,#9fcfe4 21.3%,#a8d7e8 23.4%,#afdbea 25.5%,#addae9 27.7%,#9ccde2 29.8%,#8fc3dd 31.9%,#96c8e0 34.0%,#8dc1dc 36.2%,#6298c6 38.3%,#5183bb 40.4%,#73acd0 42.6%,#96c8e0 44.7%,#90c3dd 46.8%,#84bad8 48.9%,#84bad8 51.1%,#84bad8 53.2%,#89beda 55.3%,#a0d0e4 57.4%,#b6deec 59.6%,#b0dbea 61.7%,#b3ddeb 63.8%,#e8f6e9 66.0%,#fff8b4 68.1%,#fafdc8 70.2%,#cae8f2 72.3%,#88bdda 74.5%,#83b9d7 76.6%,#c1e4ef 78.7%,#e6f5ee 80.9%,#e0f3f8 83.0%,#d8eff6 85.1%,#e1f3f6 87.2%,#e9f6e8 89.4%,#eff9dd 91.5%,#f5fbd1 93.6%,#fafdc8 95.7%,#fbfdc6 97.9%,#fafdc8 100.0%)"></div><div style="height:7.44px;background:linear-gradient(90deg,#c5e6f0 0.0%,#c6e6f1 2.1%,#c5e6f0 4.3%,#c4e5f0 6.4%,#c7e7f1 8.5%,#d0ebf4 10.6%,#d1ecf4 12.8%,#c3e5f0 14.9%,#afdbea 17.0%,#a0d0e4 19.1%,#9fcfe4 21.3%,#a8d7e8 23.4%,#b0dbea 25.5%,#addaea 27.7%,#9ccde3 29.8%,#90c3dd 31.9%,#96c8e0 34.0%,#8dc1dc 36.2%,#6398c6 38.3%,#5284bc 40.4%,#74add1 42.6%,#95c7df 44.7%,#8cc0db 46.8%,#7fb6d6 48.9%,#81b7d6 51.1%,#84b9d8 53.2%,#8abfdb 55.3%,#a1d1e5 57.4%,#b7dfec 59.6%,#b3ddeb 61.7%,#b6deec 63.8%,#e6f5ed 66.0%,#fff6b2 68.1%,#fff5b0 70.2%,#e5f5ef 72.3%,#88bdda 74.5%,#70a8ce 76.6%,#bbe1ee 78.7%,#e4f5f0 80.9%,#cbe9f2 83.0%,#b6dfec 85.1%,#c3e5f0 87.2%,#d3edf4 89.4%,#e0f3f8 91.5%,#e9f6e7 93.6%,#f1f9d9 95.7%,#f2fad6 97.9%,#f1fad9 100.0%)"></div><div style="height:7.44px;background:linear-gradient(90deg,#c5e6f0 0.0%,#c6e6f1 2.1%,#c5e6f0 4.3%,#c4e5f0 6.4%,#c7e7f1 8.5%,#d1ebf4 10.6%,#d1ecf4 12.8%,#c3e5f0 14.9%,#afdbea 17.0%,#a0d0e4 19.1%,#9ecfe4 21.3%,#a8d7e8 23.4%,#b0dbea 25.5%,#addaea 27.7%,#9dcde3 29.8%,#90c3dd 31.9%,#96c8e0 34.0%,#8dc1dc 36.2%,#659bc8 38.3%,#5588be 40.4%,#76afd2 42.6%,#94c6df 44.7%,#88bdda 46.8%,#7ab2d3 48.9%,#7cb3d4 51.1%,#81b7d7 53.2%,#8abfdb 55.3%,#a2d1e5 57.4%,#b7dfec 59.6%,#b4ddeb 61.7%,#b7dfec 63.8%,#e6f5ee 66.0%,#fff6b1 68.1%,#feefa7 70.2%,#ecf8e2 72.3%,#8abfdb 74.5%,#689fca 76.6%,#afdbea 78.7%,#d9f0f6 80.9%,#bae0ed 83.0%,#a3d2e5 85.1%,#b0dbea 87.2%,#c1e4ef 89.4%,#cfebf3 91.5%,#def2f8 93.6%,#e6f5ec 95.7%,#e8f6e9 97.9%,#e7f6eb 100.0%)"></div><div style="height:7.44px;background:linear-gradient(90deg,#c5e6f0 0.0%,#c6e6f1 2.1%,#c5e6f0 4.3%,#c4e5f0 6.4%,#c7e7f1 8.5%,#d1ebf4 10.6%,#d1ecf4 12.8%,#c3e5f0 14.9%,#afdbea 17.0%,#a0d0e4 19.1%,#9fcfe4 21.3%,#a8d7e8 23.4%,#b0dbea 25.5%,#addaea 27.7%,#9dcee3 29.8%,#90c3dd 31.9%,#95c7df 34.0%,#8ec1dc 36.2%,#689fca 38.3%,#5a8ec1 40.4%,#79b1d3 42.6%,#92c5de 44.7%,#84bad8 46.8%,#74add1 48.9%,#76aed2 51.1%,#7db4d5 53.2%,#89beda 55.3%,#a2d2e5 57.4%,#b7dfec 59.6%,#b3ddeb 61.7%,#b6dfec 63.8%,#e6f5ed 66.0%,#fff6b1 68.1%,#fff1aa 70.2%,#eaf7e5 72.3%,#8dc1dc 74.5%,#679dc9 76.6%,#9ecee3 78.7%,#c3e5f0 80.9%,#addaea 83.0%,#9ccde2 85.1%,#a7d6e7 87.2%,#b8e0ed 89.4%,#c6e6f1 91.5%,#d3ecf4 93.6%,#dbf1f7 95.7%,#ddf2f7 97.9%,#dcf1f7 100.0%)"></div><div style="height:7.44px;background:linear-gradient(90deg,#c5e6f0 0.0%,#c6e6f1 2.1%,#c5e6f0 4.3%,#c4e5f0 6.4%,#c7e7f1 8.5%,#d0ebf4 10.6%,#d1ecf4 12.8%,#c3e5f0 14.9%,#afdbea 17.0%,#a0d0e4 19.1%,#9fcfe4 21.3%,#a8d7e8 23.4%,#b0dbea 25.5%,#addaea 27.7%,#9dcee3 29.8%,#90c3dd 31.9%,#94c7df 34.0%,#8ec2dc 36.2%,#6ba3cc 38.3%,#5f94c4 40.4%,#7cb3d4 42.6%,#91c4de 44.7%,#7fb6d6 46.8%,#6fa7ce 48.9%,#70a8ce 51.1%,#79b1d3 53.2%,#88bdda 55.3%,#a2d2e5 57.4%,#b7dfec 59.6%,#b2ddeb 61.7%,#b6deec 63.8%,#e6f5ec 66.0%,#fff6b2 68.1%,#fff5b0 70.2%,#e7f6eb 72.3%,#8fc3dd 74.5%,#679ec9 76.6%,#8dc1dc 78.7%,#aedbea 80.9%,#a4d3e6 83.0%,#9bcce2 85.1%,#a5d4e6 87.2%,#b5deec 89.4%,#c2e4f0 91.5%,#cce9f2 93.6%,#d1ecf4 95.7%,#d2ecf4 97.9%,#d2ecf4 100.0%)"></div><div style="height:7.44px;background:linear-gradient(90deg,#c5e6f0 0.0%,#c6e6f1 2.1%,#c5e6f0 4.3%,#c4e5f0 6.4%,#c7e7f1 8.5%,#d0ebf4 10.6%,#d1ecf4 12.8%,#c3e5f0 14.9%,#afdbea 17.0%,#a0d0e4 19.1%,#9fcfe4 21.3%,#a8d7e8 23.4%,#afdbea 25.5%,#addae9 27.7%,#9dcee3 29.8%,#90c3dd 31.9%,#93c6df 34.0%,#8ec2dc 36.2%,#6ea6cd 38.3%,#6399c7 40.4%,#7eb5d6 42.6%,#90c3dd 44.7%,#7bb2d4 46.8%,#69a0ca 48.9%,#6aa1cb 51.1%,#74add1 53.2%,#87bcd9 55.3%,#a3d3e6 57.4%,#b7dfec 59.6%,#b2dceb 61.7%,#b6deec 63.8%,#e7f6ec 66.0%,#fff6b2 68.1%,#fff6b1 70.2%,#e6f5ec 72.3%,#91c4de 74.5%,#669dc9 76.6%,#82b8d7 78.7%,#a1d1e5 80.9%,#9fd0e4 83.0%,#9ccde3 85.1%,#a5d4e7 87.2%,#b4ddeb 89.4%,#c2e4ef 91.5%,#cbe9f2 93.6%,#cfebf3 95.7%,#d0ebf3 97.9%,#cfebf3 100.0%)"></div><div style="height:7.44px;background:linear-gradient(90deg,#c5e6f0 0.0%,#c6e6f1 2.1%,#c5e6f0 4.3%,#c4e5f0 6.4%,#c7e7f1 8.5%,#d0ebf4 10.6%,#d1ecf4 12.8%,#c3e5f0 14.9%,#afdbea 17.0%,#a0d0e4 19.1%,#9fcfe4 21.3%,#a8d7e8 23.4%,#afdbea 25.5%,#addae9 27.7%,#9dcee3 29.8%,#90c3dd 31.9%,#93c6de 34.0%,#8ec2dc 36.2%,#71aacf 38.3%,#679ec9 40.4%,#81b7d7 42.6%,#8fc2dd 44.7%,#77afd2 46.8%,#649ac7 48.9%,#659bc8 51.1%,#71aacf 53.2%,#87bcd9 55.3%,#a4d3e6 57.4%,#b7dfed 59.6%,#b2dceb 61.7%,#b6deec 63.8%,#e7f6ec 66.0%,#fff6b2 68.1%,#fff5b0 70.2%,#e7f6eb 72.3%,#92c5de 74.5%,#659bc8 76.6%,#7bb3d4 78.7%,#9acce2 80.9%,#9ecfe3 83.0%,#9ecfe3 85.1%,#a6d5e7 87.2%,#b4ddec 89.4%,#c2e4f0 91.5%,#cce9f2 93.6%,#d1ecf4 95.7%,#d2ecf4 97.9%,#d2ecf4 100.0%)"></div><div style="height:7.44px;background:linear-gradient(90deg,#c5e6f0 0.0%,#c6e6f1 2.1%,#c5e6f0 4.3%,#c4e5f0 6.4%,#c7e7f1 8.5%,#d1ebf4 10.6%,#d1ecf4 12.8%,#c3e5f0 14.9%,#afdbea 17.0%,#a0d0e4 19.1%,#9fcfe4 21.3%,#a8d7e8 23.4%,#afdbea 25.5%,#addae9 27.7%,#9dcee3 29.8%,#90c3dd 31.9%,#92c5de 34.0%,#8ec2dc 36.2%,#74add1 38.3%,#6ca4cc 40.4%,#84bad8 42.6%,#8ec2dc 44.7%,#75add1 46.8%,#6297c6 48.9%,#6399c6 51.1%,#70a8ce 53.2%,#86bcd9 55.3%,#a4d3e6 57.4%,#b7dfed 59.6%,#b2dceb 61.7%,#b6deec 63.8%,#e7f6ec 66.0%,#fff6b2 68.1%,#fff5af 70.2%,#e8f6e9 72.3%,#93c6de 74.5%,#6499c7 76.6%,#78b1d3 78.7%,#98cae1 80.9%,#9ecee3 83.0%,#9fcfe4 85.1%,#a7d6e7 87.2%,#b4deec 89.4%,#c3e5f0 91.5%,#ceeaf3 93.6%,#d3edf4 95.7%,#d4edf5 97.9%,#d3edf4 100.0%)"></div><div style="height:7.44px;background:linear-gradient(90deg,#c5e6f0 0.0%,#c6e6f1 2.1%,#c5e6f0 4.3%,#c4e5f0 6.4%,#c7e7f1 8.5%,#d1ebf4 10.6%,#d1ecf4 12.8%,#c3e5f0 14.9%,#afdbea 17.0%,#a0d0e4 19.1%,#9fcfe4 21.3%,#a8d7e8 23.4%,#afdbea 25.5%,#addae9 27.7%,#9dcee3 29.8%,#90c3dd 31.9%,#91c4de 34.0%,#8ec2dd 36.2%,#79b1d3 38.3%,#71aacf 40.4%,#86bcd9 42.6%,#8dc1dc 44.7%,#74add1 46.8%,#6297c6 48.9%,#6399c6 51.1%,#70a8ce 53.2%,#86bcd9 55.3%,#a4d3e6 57.4%,#b7dfed 59.6%,#b2dceb 61.7%,#b6deec 63.8%,#e7f6ec 66.0%,#fff6b2 68.1%,#fff5af 70.2%,#e8f6e9 72.3%,#93c6de 74.5%,#6399c7 76.6%,#78b0d3 78.7%,#98cae1 80.9%,#9ecee3 83.0%,#9fcfe4 85.1%,#a7d6e7 87.2%,#b4deec 89.4%,#c3e5f0 91.5%,#ceeaf3 93.6%,#d3edf4 95.7%,#d4edf5 97.9%,#d4edf4 100.0%)"></div><div style="height:7.44px;background:linear-gradient(90deg,#c5e6f0 0.0%,#c6e6f1 2.1%,#c5e6f0 4.3%,#c4e5f0 6.4%,#c7e7f1 8.5%,#d0ebf4 10.6%,#d1ecf4 12.8%,#c3e5f0 14.9%,#afdbea 17.0%,#a0d0e4 19.1%,#9fcfe4 21.3%,#a8d7e8 23.4%,#afdbea 25.5%,#addae9 27.7%,#9ecee3 29.8%,#90c3dd 31.9%,#91c4de 34.0%,#8fc2dd 36.2%,#7cb3d4 38.3%,#75aed1 40.4%,#88bdda 42.6%,#8dc1dc 44.7%,#74add1 46.8%,#6399c6 48.9%,#649ac7 51.1%,#70a8cf 53.2%,#87bcd9 55.3%,#a4d3e6 57.4%,#b7dfed 59.6%,#b2dceb 61.7%,#b6deec 63.8%,#e7f6ec 66.0%,#fff6b2 68.1%,#fff5b0 70.2%,#e8f6ea 72.3%,#93c6de 74.5%,#649ac7 76.6%,#79b1d3 78.7%,#98cae1 80.9%,#9ecee3 83.0%,#9fcfe4 85.1%,#a7d6e7 87.2%,#b4ddec 89.4%,#c3e5f0 91.5%,#cdeaf3 93.6%,#d3ecf4 95.7%,#d4edf4 97.9%,#d3edf4 100.0%)"></div><div style="height:7.44px;background:linear-gradient(90deg,#c5e6f0 0.0%,#c6e6f1 2.1%,#c5e6f0 4.3%,#c4e5f0 6.4%,#c7e7f1 8.5%,#d0ebf4 10.6%,#d1ecf4 12.8%,#c3e5f0 14.9%,#afdbea 17.0%,#a0d0e4 19.1%,#9fcfe4 21.3%,#a8d7e8 23.4%,#afdbea 25.5%,#addae9 27.7%,#9ecee3 29.8%,#90c3dd 31.9%,#91c4dd 34.0%,#8fc2dd 36.2%,#7db4d5 38.3%,#76afd2 40.4%,#89bdda 42.6%,#8dc1dc 44.7%,#74add1 46.8%,#6399c7 48.9%,#649ac7 51.1%,#70a9cf 53.2%,#87bcd9 55.3%,#a4d3e6 57.4%,#b7dfed 59.6%,#b2dceb 61.7%,#b6deec 63.8%,#e7f6ec 66.0%,#fff6b2 68.1%,#fff5b0 70.2%,#e8f6ea 72.3%,#93c5de 74.5%,#649ac7 76.6%,#7ab2d4 78.7%,#99cbe1 80.9%,#9ecee3 83.0%,#9ecfe4 85.1%,#a7d5e7 87.2%,#b4ddec 89.4%,#c3e5f0 91.5%,#cdeaf3 93.6%,#d2ecf4 95.7%,#d3edf4 97.9%,#d3ecf4 100.0%)"></div><div style="height:7.44px;background:linear-gradient(90deg,#c5e6f0 0.0%,#c6e6f1 2.1%,#c5e6f0 4.3%,#c4e5f0 6.4%,#c7e7f1 8.5%,#d0ebf4 10.6%,#d1ecf4 12.8%,#c3e5f0 14.9%,#afdbea 17.0%,#a0d0e4 19.1%,#9fcfe4 21.3%,#a8d7e8 23.4%,#afdbea 25.5%,#addae9 27.7%,#9ecee3 29.8%,#90c3dd 31.9%,#91c4dd 34.0%,#8fc2dd 36.2%,#7cb4d5 38.3%,#76afd2 40.4%,#88bdda 42.6%,#8dc1dc 44.7%,#74add1 46.8%,#6399c7 48.9%,#649ac7 51.1%,#70a9cf 53.2%,#87bcd9 55.3%,#a4d3e6 57.4%,#b7dfed 59.6%,#b2dceb 61.7%,#b6deec 63.8%,#e7f6ec 66.0%,#fff6b2 68.1%,#fff5b0 70.2%,#e8f6ea 72.3%,#93c5de 74.5%,#649ac7 76.6%,#7ab2d3 78.7%,#99cae1 80.9%,#9ecee3 83.0%,#9ecfe4 85.1%,#a7d5e7 87.2%,#b4ddec 89.4%,#c3e5f0 91.5%,#cdeaf3 93.6%,#d2ecf4 95.7%,#d3edf4 97.9%,#d3ecf4 100.0%)"></div><div style="height:7.44px;background:linear-gradient(90deg,#c5e6f0 0.0%,#c6e6f1 2.1%,#c5e6f0 4.3%,#c4e5f0 6.4%,#c7e7f1 8.5%,#d0ebf4 10.6%,#d1ecf4 12.8%,#c3e5f0 14.9%,#afdbea 17.0%,#a0d0e4 19.1%,#9fcfe4 21.3%,#a8d7e8 23.4%,#afdbea 25.5%,#addae9 27.7%,#9ecee3 29.8%,#90c3dd 31.9%,#91c4de 34.0%,#8fc2dd 36.2%,#7cb3d4 38.3%,#75aed2 40.4%,#88bdda 42.6%,#8dc1dc 44.7%,#74add1 46.8%,#6399c6 48.9%,#649ac7 51.1%,#70a8cf 53.2%,#87bcd9 55.3%,#a4d3e6 57.4%,#b7dfed 59.6%,#b2dceb 61.7%,#b6deec 63.8%,#e7f6ec 66.0%,#fff6b2 68.1%,#fff5b0 70.2%,#e8f6ea 72.3%,#93c5de 74.5%,#649ac7 76.6%,#79b1d3 78.7%,#99cae1 80.9%,#9ecee3 83.0%,#9fcfe4 85.1%,#a7d6e7 87.2%,#b4ddec 89.4%,#c3e5f0 91.5%,#cdeaf3 93.6%,#d2ecf4 95.7%,#d4edf4 97.9%,#d3edf4 100.0%)"></div><div style="height:7.44px;background:linear-gradient(90deg,#c5e6f0 0.0%,#c6e6f1 2.1%,#c5e6f0 4.3%,#c4e5f0 6.4%,#c7e7f1 8.5%,#d0ebf4 10.6%,#d1ecf4 12.8%,#c3e5f0 14.9%,#afdbea 17.0%,#a0d0e4 19.1%,#9fcfe4 21.3%,#a8d7e8 23.4%,#afdbea 25.5%,#addae9 27.7%,#9ecee3 29.8%,#90c3dd 31.9%,#91c4de 34.0%,#8fc2dd 36.2%,#7cb3d4 38.3%,#75aed1 40.4%,#88bdda 42.6%,#8dc1dc 44.7%,#74add1 46.8%,#6399c6 48.9%,#649ac7 51.1%,#70a8cf 53.2%,#87bcd9 55.3%,#a4d3e6 57.4%,#b7dfed 59.6%,#b2dceb 61.7%,#b6deec 63.8%,#e7f6ec 66.0%,#fff6b2 68.1%,#fff5b0 70.2%,#e8f6ea 72.3%,#93c6de 74.5%,#649ac7 76.6%,#79b1d3 78.7%,#99cae1 80.9%,#9ecee3 83.0%,#9fcfe4 85.1%,#a7d6e7 87.2%,#b4ddec 89.4%,#c3e5f0 91.5%,#cdeaf3 93.6%,#d3ecf4 95.7%,#d4edf4 97.9%,#d3edf4 100.0%)"></div><div style="height:7.44px;background:linear-gradient(90deg,#c5e6f0 0.0%,#c6e6f1 2.1%,#c5e6f0 4.3%,#c4e5f0 6.4%,#c7e7f1 8.5%,#d0ebf4 10.6%,#d1ecf4 12.8%,#c3e5f0 14.9%,#afdbea 17.0%,#a0d0e4 19.1%,#9fcfe4 21.3%,#a8d7e8 23.4%,#afdbea 25.5%,#addae9 27.7%,#9ecee3 29.8%,#90c3dd 31.9%,#91c4de 34.0%,#8fc2dd 36.2%,#7cb3d4 38.3%,#75aed2 40.4%,#88bdda 42.6%,#8dc1dc 44.7%,#74add1 46.8%,#6399c6 48.9%,#649ac7 51.1%,#70a8cf 53.2%,#87bcd9 55.3%,#a4d3e6 57.4%,#b7dfed 59.6%,#b2dceb 61.7%,#b6deec 63.8%,#e7f6ec 66.0%,#fff6b2 68.1%,#fff5b0 70.2%,#e8f6ea 72.3%,#93c5de 74.5%,#649ac7 76.6%,#79b1d3 78.7%,#99cae1 80.9%,#9ecee3 83.0%,#9fcfe4 85.1%,#a7d6e7 87.2%,#b4ddec 89.4%,#c3e5f0 91.5%,#cdeaf3 93.6%,#d2ecf4 95.7%,#d4edf4 97.9%,#d3edf4 100.0%)"></div></div></div><div class="hm" style="left:736.8px;top:313.7px;width:472.9px;height:277.5px"><div style="left:-10px;top:-10px;width:492.9px;height:297.5px"><div style="height:7.44px;background:linear-gradient(90deg,#b8e0ed 0.0%,#b7dfec 2.1%,#b9e0ed 4.3%,#c0e3ef 6.4%,#c6e6f1 8.5%,#c6e6f1 10.6%,#c5e6f0 12.8%,#cae8f2 14.9%,#def2f7 17.0%,#f0f9da 19.1%,#ffffbe 21.3%,#fff3ad 23.4%,#fee496 25.5%,#fdb86a 27.7%,#e95638 29.8%,#be1826 31.9%,#d32c27 34.0%,#e44c34 36.2%,#d22b27 38.3%,#de3e2e 40.4%,#fdc173 42.6%,#fff3ad 44.7%,#feda8b 46.8%,#feca7c 48.9%,#feeca2 51.1%,#fffbb8 53.2%,#fff3ac 55.3%,#fee99e 57.4%,#fee699 59.6%,#fee99d 61.7%,#fee79b 63.8%,#fed687 66.0%,#fdc678 68.1%,#fed283 70.2%,#fee091 72.3%,#fee090 74.5%,#fee294 76.6%,#feefa6 78.7%,#fffbb9 80.9%,#fbfec6 83.0%,#f3fad5 85.1%,#eaf7e5 87.2%,#e5f5f0 89.4%,#e1f3f6 91.5%,#daf0f6 93.6%,#d4edf5 95.7%,#d2ecf4 97.9%,#d3edf4 100.0%)"></div><div style="height:7.44px;background:linear-gradient(90deg,#b9e0ed 0.0%,#b7dfec 2.1%,#b9e0ed 4.3%,#c1e4ef 6.4%,#c6e6f1 8.5%,#c5e6f0 10.6%,#c4e5f0 12.8%,#cae8f2 14.9%,#def2f7 17.0%,#f1f9d9 19.1%,#ffffbf 21.3%,#fff3ad 23.4%,#fee395 25.5%,#fdb568 27.7%,#e85337 29.8%,#bc1626 31.9%,#d02a27 34.0%,#e24732 36.2%,#cf2827 38.3%,#dd3d2d 40.4%,#fdc173 42.6%,#fff4ae 44.7%,#fedb8b 46.8%,#feca7b 48.9%,#feeba0 51.1%,#fff9b6 53.2%,#fff1aa 55.3%,#fee79b 57.4%,#fee395 59.6%,#fee699 61.7%,#fee598 63.8%,#fed485 66.0%,#fdc476 68.1%,#fed081 70.2%,#fee090 72.3%,#fee091 74.5%,#fee395 76.6%,#feeea6 78.7%,#fffab7 80.9%,#fcfec4 83.0%,#f4fbd4 85.1%,#ebf7e4 87.2%,#e5f5ef 89.4%,#e1f3f6 91.5%,#dbf0f6 93.6%,#d4edf5 95.7%,#d3edf4 97.9%,#d4edf5 100.0%)"></div><div style="height:7.44px;background:linear-gradient(90deg,#b8e0ed 0.0%,#b7dfec 2.1%,#b9e0ed 4.3%,#c0e3ef 6.4%,#c6e6f1 8.5%,#c6e6f1 10.6%,#c5e6f0 12.8%,#cae8f2 14.9%,#def2f7 17.0%,#f0f9da 19.1%,#ffffbe 21.3%,#fff3ad 23.4%,#fee496 25.5%,#fdb86a 27.7%,#e95638 29.8%,#be1826 31.9%,#d32c27 34.0%,#e44c34 36.2%,#d22b27 38.3%,#de3e2e 40.4%,#fdc173 42.6%,#fff3ad 44.7%,#feda8b 46.8%,#feca7c 48.9%,#feeca2 51.1%,#fffbb8 53.2%,#fff3ac 55.3%,#fee99e 57.4%,#fee699 59.6%,#fee99d 61.7%,#fee79b 63.8%,#fed687 66.0%,#fdc678 68.1%,#fed283 70.2%,#fee091 72.3%,#fee090 74.5%,#fee294 76.6%,#feefa6 78.7%,#fffbb9 80.9%,#fbfec6 83.0%,#f3fad5 85.1%,#eaf7e5 87.2%,#e5f5f0 89.4%,#e1f3f6 91.5%,#daf0f6 93.6%,#d4edf5 95.7%,#d2ecf4 97.9%,#d3edf4 100.0%)"></div><div style="height:7.44px;background:linear-gradient(90deg,#b7dfec 0.0%,#b6deec 2.1%,#b8dfed 4.3%,#bfe3ef 6.4%,#c6e6f1 8.5%,#c8e7f1 10.6%,#c8e7f1 12.8%,#cce9f2 14.9%,#def2f7 17.0%,#f0f9db 19.1%,#ffffbf 21.3%,#fff3ad 23.4%,#fee79b 25.5%,#fdc475 27.7%,#ef623e 29.8%,#c61f27 31.9%,#dc3b2c 34.0%,#ef623e 36.2%,#dd3c2d 38.3%,#e24732 40.4%,#fdc274 42.6%,#fff1aa 44.7%,#fed787 46.8%,#fecd7e 48.9%,#fff4ae 51.1%,#fbfdc7 53.2%,#fff9b5 55.3%,#fff1aa 57.4%,#fff3ac 59.6%,#fff6b1 61.7%,#fff1aa 63.8%,#fee191 66.0%,#fece7f 68.1%,#feda8a 70.2%,#fee395 72.3%,#fedc8d 74.5%,#fedf8f 76.6%,#fff1aa 78.7%,#fdfec2 80.9%,#f6fccf 83.0%,#f0f9da 85.1%,#e8f6e9 87.2%,#e3f4f2 89.4%,#e0f3f8 91.5%,#d8eff6 93.6%,#cfebf3 95.7%,#cdeaf3 97.9%,#cfebf3 100.0%)"></div><div style="height:7.44px;background:linear-gradient(90deg,#b3ddeb 0.0%,#b1dceb 2.1%,#b3ddeb 4.3%,#bbe1ed 6.4%,#c3e5f0 8.5%,#c8e7f1 10.6%,#cae8f2 12.8%,#ceeaf3 14.9%,#ddf1f7 17.0%,#edf8df 19.1%,#fdfec2 21.3%,#fff4af 23.4%,#feeda4 25.5%,#fed787 27.7%,#f67b49 29.8%,#d73027 31.9%,#ea593a 34.0%,#f88850 36.2%,#ec5c3b 38.3%,#eb5b3b 40.4%,#fec97a 42.6%,#fff2ac 44.7%,#fed98a 46.8%,#fed889 48.9%,#fdfec3 51.1%,#ecf8e1 53.2%,#fafdc9 55.3%,#ffffc0 57.4%,#f7fccf 59.6%,#f3fad6 61.7%,#fbfdc7 63.8%,#feeea6 66.0%,#fee090 68.1%,#fee69a 70.2%,#feeaa0 72.3%,#fedd8d 74.5%,#fedd8d 76.6%,#fff6b2 78.7%,#f3fbd4 80.9%,#eff9dd 83.0%,#ebf7e3 85.1%,#e5f5ef 87.2%,#e1f3f7 89.4%,#dcf1f7 91.5%,#d1ecf4 93.6%,#c6e6f1 95.7%,#c3e5f0 97.9%,#c5e6f0 100.0%)"></div><div style="height:7.44px;background:linear-gradient(90deg,#a9d7e8 0.0%,#a8d7e8 2.1%,#a9d8e8 4.3%,#afdbea 6.4%,#b8dfed 8.5%,#bfe3ef 10.6%,#c6e6f1 12.8%,#cde9f3 14.9%,#d9f0f6 17.0%,#e8f6e9 19.1%,#f7fccd 21.3%,#fffbb8 23.4%,#fff6b2 25.5%,#fee89c 27.7%,#fb9f5a 29.8%,#e95639 31.9%,#f7834d 34.0%,#fdb366 36.2%,#f7864f 38.3%,#f67e4b 40.4%,#fedc8c 42.6%,#fffcba 44.7%,#fee99d 46.8%,#feeca3 48.9%,#eaf7e6 51.1%,#d6eef5 53.2%,#e9f6e8 55.3%,#ebf7e4 57.4%,#ddf2f7 59.6%,#d3edf4 61.7%,#e2f4f4 63.8%,#fafdc8 66.0%,#fff3ad 68.1%,#fff8b4 70.2%,#fff9b5 72.3%,#fee79b 74.5%,#fee598 76.6%,#fdfec2 78.7%,#e8f6ea 80.9%,#e6f5ed 83.0%,#e6f5ed 85.1%,#e1f3f6 87.2%,#dbf1f7 89.4%,#d3edf4 91.5%,#c5e6f0 93.6%,#b6deec 95.7%,#b3ddeb 97.9%,#b5deec 100.0%)"></div><div style="height:7.44px;background:linear-gradient(90deg,#99cbe1 0.0%,#99cbe1 2.1%,#9acbe1 4.3%,#9ccde2 6.4%,#a2d2e5 8.5%,#acdae9 10.6%,#b9e0ed 12.8%,#c7e7f1 14.9%,#d4edf5 17.0%,#e1f3f7 19.1%,#ecf8e2 21.3%,#f8fccc 23.4%,#fdfec3 25.5%,#fff5b0 27.7%,#fdc476 29.8%,#f98f53 31.9%,#fdb467 34.0%,#fed485 36.2%,#fdb467 38.3%,#fdb163 40.4%,#fff2ab 42.6%,#eef8de 44.7%,#fbfdc7 46.8%,#f6fbd0 48.9%,#cbe9f2 51.1%,#b6deec 53.2%,#cce9f2 55.3%,#cce9f2 57.4%,#b5deec 59.6%,#a6d5e7 61.7%,#b2dceb 63.8%,#dbf1f7 66.0%,#f1fad9 68.1%,#eff9dc 70.2%,#f0f9da 72.3%,#fffbb9 74.5%,#fff7b3 76.6%,#eef8de 78.7%,#d9eff6 80.9%,#dbf1f7 83.0%,#e1f3f7 85.1%,#ddf1f7 87.2%,#d4edf4 89.4%,#c6e6f1 91.5%,#b2dceb 93.6%,#a0d0e4 95.7%,#9ccde2 97.9%,#9fcfe4 100.0%)"></div><div style="height:7.44px;background:linear-gradient(90deg,#89beda 0.0%,#89beda 2.1%,#89beda 4.3%,#88bdda 6.4%,#8bc0db 8.5%,#97c9e0 10.6%,#abd9e9 12.8%,#c0e3ef 14.9%,#cdeaf3 17.0%,#d4edf5 19.1%,#e1f3f6 21.3%,#ebf7e3 23.4%,#f1fad9 25.5%,#fcfec5 27.7%,#fee69a 29.8%,#fec879 31.9%,#fedb8c 34.0%,#fee99e 36.2%,#fed485 38.3%,#fed889 40.4%,#f6fbd0 42.6%,#cfebf3 44.7%,#d9f0f6 46.8%,#d2ecf4 48.9%,#a8d7e8 51.1%,#99cbe1 53.2%,#a9d8e8 55.3%,#a9d7e8 57.4%,#93c6df 59.6%,#80b6d6 61.7%,#84bad8 63.8%,#abd9e9 66.0%,#ceeaf3 68.1%,#d1ecf4 70.2%,#d7eff5 72.3%,#ecf8e2 74.5%,#f1f9d9 76.6%,#ddf2f7 78.7%,#c8e7f1 80.9%,#d0ebf3 83.0%,#daf0f6 85.1%,#d8eff6 87.2%,#cce9f2 89.4%,#b7dfec 91.5%,#9ecfe3 93.6%,#8bbfdb 95.7%,#86bcd9 97.9%,#8abeda 100.0%)"></div><div style="height:7.44px;background:linear-gradient(90deg,#7db4d5 0.0%,#7db4d5 2.1%,#7cb4d5 4.3%,#7bb3d4 6.4%,#7fb6d6 8.5%,#8dc1dc 10.6%,#a3d2e5 12.8%,#bae0ed 14.9%,#c8e7f1 17.0%,#cdeaf3 19.1%,#d7eef5 21.3%,#e2f4f5 23.4%,#e6f5ed 25.5%,#edf8e1 27.7%,#fffebd 29.8%,#feeea5 31.9%,#fff1aa 34.0%,#fff3ad 36.2%,#fee597 38.3%,#feeca2 40.4%,#e4f4f1 42.6%,#addaea 44.7%,#b2dceb 46.8%,#b0dbea 48.9%,#91c5de 51.1%,#85bbd9 53.2%,#90c3dd 55.3%,#8fc2dd 57.4%,#7eb5d5 59.6%,#6ba2cc 61.7%,#69a0ca 63.8%,#85bbd9 66.0%,#a8d7e8 68.1%,#b4ddec 70.2%,#bfe3ef 72.3%,#d6eef5 74.5%,#ddf2f7 76.6%,#cbe8f2 78.7%,#c0e3ef 80.9%,#cbe9f2 83.0%,#d5eef5 85.1%,#d4edf5 87.2%,#c5e6f0 89.4%,#acdae9 91.5%,#91c4de 93.6%,#7eb5d6 95.7%,#7ab2d4 97.9%,#7db4d5 100.0%)"></div><div style="height:7.44px;background:linear-gradient(90deg,#76afd2 0.0%,#76afd2 2.1%,#76afd2 4.3%,#78b0d3 6.4%,#7fb6d6 8.5%,#8ec2dc 10.6%,#a2d2e5 12.8%,#b5deec 14.9%,#c4e5f0 17.0%,#cdeaf3 19.1%,#d5eef5 21.3%,#daf0f6 23.4%,#d9f0f6 25.5%,#dcf1f7 27.7%,#ebf7e4 29.8%,#fafdc9 31.9%,#ffffc0 34.0%,#fff9b5 36.2%,#feea9f 38.3%,#fff5b0 40.4%,#d2ecf4 42.6%,#97c9e0 44.7%,#9ecee3 46.8%,#a1d1e4 48.9%,#87bcd9 51.1%,#7bb2d4 53.2%,#81b7d7 55.3%,#80b7d6 57.4%,#73acd1 59.6%,#659bc8 61.7%,#6196c5 63.8%,#70a9cf 66.0%,#8dc1dc 68.1%,#a3d2e5 70.2%,#b5deec 72.3%,#c5e6f0 74.5%,#c9e8f1 76.6%,#c0e3ef 78.7%,#bfe3ef 80.9%,#c9e8f2 83.0%,#d1ecf4 85.1%,#ceeaf3 87.2%,#bde2ee 89.4%,#a3d3e6 91.5%,#8bbfdb 93.6%,#7ab2d4 95.7%,#77afd2 97.9%,#79b1d3 100.0%)"></div><div style="height:7.44px;background:linear-gradient(90deg,#74add1 0.0%,#73acd1 2.1%,#74add1 4.3%,#7ab1d3 6.4%,#84bad8 8.5%,#93c6de 10.6%,#a2d2e5 12.8%,#b1dceb 14.9%,#c0e3ef 17.0%,#ceeaf3 19.1%,#d6eef5 21.3%,#d6eef5 23.4%,#cce9f2 25.5%,#c7e7f1 27.7%,#d7eef5 29.8%,#e9f7e7 31.9%,#f4fbd3 34.0%,#fffdbc 36.2%,#feeea6 38.3%,#fffcbb 40.4%,#c2e5f0 42.6%,#89beda 44.7%,#95c7df 46.8%,#9bcce2 48.9%,#80b7d6 51.1%,#71aacf 53.2%,#75aed1 55.3%,#75add1 57.4%,#6ca3cc 59.6%,#6297c6 61.7%,#5d92c3 63.8%,#659bc8 66.0%,#78b1d3 68.1%,#97c9e0 70.2%,#afdbea 72.3%,#bae0ed 74.5%,#bae0ed 76.6%,#b8e0ed 78.7%,#bce1ee 80.9%,#c5e6f0 83.0%,#c8e7f1 85.1%,#c1e4ef 87.2%,#afdbea 89.4%,#97c9e0 91.5%,#83b9d7 93.6%,#76afd2 95.7%,#74acd1 97.9%,#75aed2 100.0%)"></div><div style="height:7.44px;background:linear-gradient(90deg,#74add1 0.0%,#73acd0 2.1%,#74add1 4.3%,#7cb3d4 6.4%,#87bcd9 8.5%,#93c6df 10.6%,#a0d0e4 12.8%,#addae9 14.9%,#bce1ee 17.0%,#cce9f2 19.1%,#d4edf5 21.3%,#d1ecf4 23.4%,#c5e6f0 25.5%,#bde2ee 27.7%,#c8e7f1 29.8%,#dff3f8 31.9%,#edf8e1 34.0%,#fafdc8 36.2%,#fff8b5 38.3%,#f6fbd0 40.4%,#b3ddeb 42.6%,#80b6d6 44.7%,#90c3dd 46.8%,#94c7df 48.9%,#74add1 51.1%,#649ac7 53.2%,#689fca 55.3%,#679ec9 57.4%,#5f94c4 59.6%,#588cc0 61.7%,#5689be 63.8%,#598dc0 66.0%,#689fca 68.1%,#88bdda 70.2%,#a5d4e6 72.3%,#addaea 74.5%,#acdae9 76.6%,#addaea 78.7%,#b2dceb 80.9%,#b7dfed 83.0%,#b6deec 85.1%,#aad8e9 87.2%,#97c9e0 89.4%,#83b9d8 91.5%,#73acd1 93.6%,#6ba3cc 95.7%,#6aa1cb 97.9%,#6ba2cb 100.0%)"></div><div style="height:7.44px;background:linear-gradient(90deg,#74add1 0.0%,#73acd0 2.1%,#75aed1 4.3%,#7db4d5 6.4%,#86bcd9 8.5%,#8fc3dd 10.6%,#9acbe1 12.8%,#a7d6e7 14.9%,#b7dfec 17.0%,#c7e7f1 19.1%,#cfeaf3 21.3%,#cce9f2 23.4%,#c1e4ef 25.5%,#b9e0ed 27.7%,#c2e4f0 29.8%,#d6eef5 31.9%,#e6f5ed 34.0%,#f1fad9 36.2%,#f7fccd 38.3%,#e6f5ec 40.4%,#a2d2e5 42.6%,#78b0d3 44.7%,#88bdda 46.8%,#88bdda 48.9%,#669dc8 51.1%,#5588be 53.2%,#598dc1 55.3%,#598cc0 57.4%,#5082bb 59.6%,#4c7db8 61.7%,#4c7db8 63.8%,#4e80ba 66.0%,#5b8fc1 68.1%,#78b0d3 70.2%,#95c7df 72.3%,#9dcee3 74.5%,#9dcee3 76.6%,#9dcee3 78.7%,#a1d1e4 80.9%,#a4d3e6 83.0%,#9ecee3 85.1%,#8ec2dd 87.2%,#7cb4d5 89.4%,#6da4cc 91.5%,#6298c6 93.6%,#5c91c2 95.7%,#5b8fc2 97.9%,#5c90c2 100.0%)"></div><div style="height:7.44px;background:linear-gradient(90deg,#74add1 0.0%,#73acd0 2.1%,#74add1 4.3%,#7bb3d4 6.4%,#83b9d7 8.5%,#89beda 10.6%,#92c5de 12.8%,#a1d1e5 14.9%,#b2dceb 17.0%,#c0e3ef 19.1%,#c8e7f1 21.3%,#c7e7f1 23.4%,#bee2ee 25.5%,#b8dfed 27.7%,#c0e3ef 29.8%,#d1ecf4 31.9%,#e0f3f8 34.0%,#e7f6ec 36.2%,#e9f7e7 38.3%,#d3edf4 40.4%,#92c5de 42.6%,#6fa7ce 44.7%,#7ab2d4 46.8%,#77b0d3 48.9%,#5a8ec1 51.1%,#4a7bb7 53.2%,#4e80ba 55.3%,#4d7eb9 57.4%,#4575b4 59.6%,#4471b2 61.7%,#4574b3 63.8%,#4676b5 66.0%,#5082bb 68.1%,#69a0ca 70.2%,#82b8d7 72.3%,#8cc0db 74.5%,#8dc1dc 76.6%,#8cc0dc 78.7%,#8dc1dc 80.9%,#8ec2dc 83.0%,#87bcd9 85.1%,#77afd2 87.2%,#689fca 89.4%,#5d91c3 91.5%,#5487bd 93.6%,#4f81ba 95.7%,#4e80ba 97.9%,#4f81ba 100.0%)"></div><div style="height:7.44px;background:linear-gradient(90deg,#72abd0 0.0%,#71aacf 2.1%,#72abd0 4.3%,#77afd2 6.4%,#7db4d5 8.5%,#82b8d7 10.6%,#8cc0db 12.8%,#9bcce2 14.9%,#addae9 17.0%,#bbe1ed 19.1%,#c2e4f0 21.3%,#c1e4ef 23.4%,#b9e0ed 25.5%,#b3ddeb 27.7%,#bce1ee 29.8%,#cce9f2 31.9%,#d5eef5 34.0%,#dbf0f7 36.2%,#dcf1f7 38.3%,#c2e4ef 40.4%,#86bcd9 42.6%,#6399c7 44.7%,#679dc9 46.8%,#669cc8 48.9%,#5285bc 51.1%,#4778b6 53.2%,#497ab6 55.3%,#4778b5 57.4%,#4471b2 59.6%,#436fb1 61.7%,#4471b2 63.8%,#4472b2 66.0%,#497ab7 68.1%,#5d91c3 70.2%,#70a9cf 72.3%,#7ab2d4 74.5%,#7cb4d5 76.6%,#7cb3d4 78.7%,#7cb3d4 80.9%,#7cb3d5 83.0%,#76aed2 85.1%,#6aa2cb 87.2%,#5f94c4 89.4%,#5689be 91.5%,#4e7fb9 93.6%,#4879b6 95.7%,#4777b5 97.9%,#4878b6 100.0%)"></div><div style="height:7.44px;background:linear-gradient(90deg,#70a8cf 0.0%,#70a8ce 2.1%,#70a8cf 4.3%,#73acd0 6.4%,#77afd2 8.5%,#7db4d5 10.6%,#87bcd9 12.8%,#96c8e0 14.9%,#a8d6e8 17.0%,#b6deec 19.1%,#bee2ee 21.3%,#bce1ee 23.4%,#b3ddeb 25.5%,#addaea 27.7%,#b8dfed 29.8%,#c7e7f1 31.9%,#cce9f2 34.0%,#cce9f2 36.2%,#cdeaf3 38.3%,#b6deec 40.4%,#7db4d5 42.6%,#588cc0 44.7%,#5588be 46.8%,#5689bf 48.9%,#4f81ba 51.1%,#497ab7 53.2%,#4878b6 55.3%,#4676b5 57.4%,#4473b3 59.6%,#4473b3 61.7%,#4574b3 63.8%,#4472b2 66.0%,#4676b5 68.1%,#5487bd 70.2%,#6399c7 72.3%,#6ca3cc 74.5%,#6ea6cd 76.6%,#6ea6cd 78.7%,#6ea6cd 80.9%,#6ea6ce 83.0%,#6ba2cb 85.1%,#6398c6 87.2%,#5b8fc1 89.4%,#5386bd 91.5%,#4c7db8 93.6%,#4676b4 95.7%,#4574b3 97.9%,#4575b4 100.0%)"></div><div style="height:7.44px;background:linear-gradient(90deg,#6fa7ce 0.0%,#6fa7ce 2.1%,#6fa7ce 4.3%,#71a9cf 6.4%,#74add1 8.5%,#7bb3d4 10.6%,#86bbd9 12.8%,#93c6df 14.9%,#a3d3e6 17.0%,#b2dceb 19.1%,#bae0ed 21.3%,#b9e0ed 23.4%,#afdbea 25.5%,#a8d7e8 27.7%,#b3ddeb 29.8%,#c3e5f0 31.9%,#c4e5f0 34.0%,#c0e3ef 36.2%,#c0e3ef 38.3%,#acd9e9 40.4%,#77afd2 42.6%,#5386bd 44.7%,#4c7db8 46.8%,#4e80ba 48.9%,#4d7fb9 51.1%,#4b7cb8 53.2%,#4879b6 55.3%,#4677b5 57.4%,#4676b5 59.6%,#4777b5 61.7%,#4676b5 63.8%,#4473b3 66.0%,#4575b4 68.1%,#4f81ba 70.2%,#5b8fc2 72.3%,#6297c6 74.5%,#6499c7 76.6%,#6399c7 78.7%,#649ac7 80.9%,#649ac7 83.0%,#6197c5 85.1%,#5b8fc1 87.2%,#5588be 89.4%,#5183bb 91.5%,#4b7cb8 93.6%,#4676b4 95.7%,#4574b4 97.9%,#4575b4 100.0%)"></div><div style="height:7.44px;background:linear-gradient(90deg,#6fa7ce 0.0%,#6fa7ce 2.1%,#6fa7ce 4.3%,#71a9cf 6.4%,#75aed1 8.5%,#7db4d5 10.6%,#86bcd9 12.8%,#91c4dd 14.9%,#9ecfe3 17.0%,#addaea 19.1%,#b6deec 21.3%,#b5deec 23.4%,#abd9e9 25.5%,#a4d3e6 27.7%,#afdbea 29.8%,#bfe3ef 31.9%,#bde2ee 34.0%,#b6deec 36.2%,#b4deec 38.3%,#a1d1e5 40.4%,#73acd1 42.6%,#5486bd 44.7%,#4c7eb8 46.8%,#4e7fb9 48.9%,#4d7fb9 51.1%,#4b7cb8 53.2%,#4879b6 55.3%,#4777b5 57.4%,#4777b5 59.6%,#4778b6 61.7%,#4777b5 63.8%,#4575b4 66.0%,#4676b5 68.1%,#4e80ba 70.2%,#578abf 72.3%,#5a8ec1 74.5%,#5b8fc1 76.6%,#5b8fc1 78.7%,#5b90c2 80.9%,#5c91c2 83.0%,#588cc0 85.1%,#5184bc 87.2%,#4d7fb9 89.4%,#4c7db8 91.5%,#497ab7 93.6%,#4676b5 95.7%,#4676b4 97.9%,#4676b5 100.0%)"></div><div style="height:7.44px;background:linear-gradient(90deg,#6fa7ce 0.0%,#6fa7ce 2.1%,#6fa7ce 4.3%,#71a9cf 6.4%,#76aed2 8.5%,#7db4d5 10.6%,#85bad8 12.8%,#8bc0db 14.9%,#98c9e1 17.0%,#a7d6e7 19.1%,#b0dcea 21.3%,#afdbea 23.4%,#a4d4e6 25.5%,#9ecee3 27.7%,#aad8e9 29.8%,#b9e0ed 31.9%,#b6deec 34.0%,#acdae9 36.2%,#aad8e8 38.3%,#99cbe1 40.4%,#71aacf 42.6%,#568abf 44.7%,#5082bb 46.8%,#5082bb 48.9%,#4e7fb9 51.1%,#4b7cb7 53.2%,#4879b6 55.3%,#4677b5 57.4%,#4676b4 59.6%,#4676b4 61.7%,#4676b4 63.8%,#4574b3 66.0%,#4676b4 68.1%,#4c7eb9 70.2%,#5285bc 72.3%,#5386bd 74.5%,#5284bc 76.6%,#5284bc 78.7%,#5386bd 80.9%,#5486bd 83.0%,#4f81ba 85.1%,#4879b6 87.2%,#4575b4 89.4%,#4676b4 91.5%,#4676b5 93.6%,#4576b4 95.7%,#4575b4 97.9%,#4575b4 100.0%)"></div><div style="height:7.44px;background:linear-gradient(90deg,#6fa8ce 0.0%,#6fa7ce 2.1%,#6fa8ce 4.3%,#71a9cf 6.4%,#74add1 8.5%,#79b1d3 10.6%,#7eb5d5 12.8%,#82b8d7 14.9%,#8ec1dc 17.0%,#9fcfe4 19.1%,#a7d6e7 21.3%,#a2d2e5 23.4%,#98cae1 25.5%,#95c7df 27.7%,#a3d2e5 29.8%,#b1dceb 31.9%,#acd9e9 34.0%,#a1d1e5 36.2%,#a0d1e4 38.3%,#93c6df 40.4%,#70a8cf 42.6%,#588bbf 44.7%,#5285bc 46.8%,#5183bb 48.9%,#4d7fb9 51.1%,#497ab7 53.2%,#4777b5 55.3%,#4574b3 57.4%,#4471b2 59.6%,#4370b2 61.7%,#4470b2 63.8%,#4370b1 66.0%,#4471b2 68.1%,#4677b5 70.2%,#4a7bb7 72.3%,#4a7ab7 74.5%,#4879b6 76.6%,#4878b6 78.7%,#497ab6 80.9%,#497ab7 83.0%,#4676b5 85.1%,#436fb1 87.2%,#426db0 89.4%,#436eb1 91.5%,#4370b2 93.6%,#4471b2 95.7%,#4471b2 97.9%,#4471b2 100.0%)"></div><div style="height:7.44px;background:linear-gradient(90deg,#6fa8ce 0.0%,#6fa7ce 2.1%,#6fa8ce 4.3%,#70a8ce 6.4%,#71aacf 8.5%,#73acd1 10.6%,#74add1 12.8%,#76afd2 14.9%,#82b9d7 17.0%,#94c7df 19.1%,#9acbe2 21.3%,#92c5de 23.4%,#89beda 25.5%,#8abeda 27.7%,#99cbe1 29.8%,#a7d6e7 31.9%,#a0d1e4 34.0%,#97c9e0 36.2%,#99cae1 38.3%,#8fc3dd 40.4%,#6fa7ce 42.6%,#588bbf 44.7%,#5284bc 46.8%,#5083bb 48.9%,#4c7eb8 51.1%,#4879b6 53.2%,#4575b4 55.3%,#4370b1 57.4%,#426aaf 59.6%,#4169ae 61.7%,#416aae 63.8%,#416aae 66.0%,#416aaf 68.1%,#426cb0 70.2%,#436eb0 72.3%,#436db0 74.5%,#426db0 76.6%,#426cb0 78.7%,#426db0 80.9%,#426db0 83.0%,#426baf 85.1%,#4168ae 87.2%,#4167ad 89.4%,#4168ae 91.5%,#4169ae 93.6%,#416aae 95.7%,#416aae 97.9%,#416aae 100.0%)"></div><div style="height:7.44px;background:linear-gradient(90deg,#6fa7ce 0.0%,#6fa7ce 2.1%,#6fa7ce 4.3%,#6fa7ce 6.4%,#6fa7ce 8.5%,#6fa7ce 10.6%,#6ea6ce 12.8%,#70a8ce 14.9%,#7ab2d4 17.0%,#8abfdb 19.1%,#8dc1dc 21.3%,#82b9d7 23.4%,#7bb2d4 25.5%,#7eb5d5 27.7%,#8ec2dc 29.8%,#9bcce2 31.9%,#96c8e0 34.0%,#8ec2dc 36.2%,#92c5de 38.3%,#8bbfdb 40.4%,#6ea5cd 42.6%,#578bbf 44.7%,#5184bc 46.8%,#5082bb 48.9%,#4c7db8 51.1%,#4878b6 53.2%,#4574b3 55.3%,#426cb0 57.4%,#4066ac 59.6%,#3f64ab 61.7%,#4065ac 63.8%,#4065ac 66.0%,#4065ac 68.1%,#4064ac 70.2%,#4064ac 72.3%,#4064ac 74.5%,#4064ac 76.6%,#4064ac 78.7%,#4064ac 80.9%,#4064ac 83.0%,#4065ac 85.1%,#4065ac 87.2%,#4065ac 89.4%,#4065ac 91.5%,#4065ac 93.6%,#4065ac 95.7%,#4065ac 97.9%,#4065ac 100.0%)"></div><div style="height:7.44px;background:linear-gradient(90deg,#6fa7ce 0.0%,#6fa7ce 2.1%,#6fa7ce 4.3%,#6fa7ce 6.4%,#6fa7ce 8.5%,#6ea6cd 10.6%,#6da5cd 12.8%,#6fa7ce 14.9%,#76afd2 17.0%,#81b7d7 19.1%,#80b7d6 21.3%,#76afd2 23.4%,#70a8ce 25.5%,#73acd0 27.7%,#82b8d7 29.8%,#90c3dd 31.9%,#8dc1dc 34.0%,#89bdda 36.2%,#8cc0dc 38.3%,#85bbd9 40.4%,#6ca3cc 42.6%,#588bbf 44.7%,#5184bc 46.8%,#4f81ba 48.9%,#4b7cb8 51.1%,#4778b6 53.2%,#4473b3 55.3%,#426caf 57.4%,#4065ac 59.6%,#3f62ab 61.7%,#3f64ab 63.8%,#4064ac 66.0%,#3f63ab 68.1%,#3f63ab 70.2%,#3f62ab 72.3%,#3f62ab 74.5%,#3f63ab 76.6%,#3f63ab 78.7%,#3f62ab 80.9%,#3f62ab 83.0%,#3f63ab 85.1%,#4064ac 87.2%,#4064ac 89.4%,#4064ac 91.5%,#4064ac 93.6%,#3f64ab 95.7%,#3f64ab 97.9%,#3f64ab 100.0%)"></div><div style="height:7.44px;background:linear-gradient(90deg,#6fa7ce 0.0%,#6fa7ce 2.1%,#6fa7ce 4.3%,#6fa7ce 6.4%,#6fa7ce 8.5%,#6ea6ce 10.6%,#6fa7ce 12.8%,#71aacf 14.9%,#75aed2 17.0%,#79b1d3 19.1%,#75aed2 21.3%,#6ea5cd 23.4%,#689fca 25.5%,#6ba2cb 27.7%,#77b0d2 29.8%,#85bbd9 31.9%,#87bcd9 34.0%,#84bad8 36.2%,#87bcd9 38.3%,#81b7d6 40.4%,#6aa1cb 42.6%,#588cc0 44.7%,#5284bc 46.8%,#4f81ba 48.9%,#4b7db8 51.1%,#4878b6 53.2%,#4574b3 55.3%,#426cb0 57.4%,#4066ac 59.6%,#3f63ab 61.7%,#4065ac 63.8%,#4065ac 66.0%,#4065ac 68.1%,#4064ac 70.2%,#4064ac 72.3%,#4064ac 74.5%,#4064ac 76.6%,#4064ac 78.7%,#4064ac 80.9%,#4064ac 83.0%,#4064ac 85.1%,#4065ac 87.2%,#4065ac 89.4%,#4065ac 91.5%,#4065ac 93.6%,#4065ac 95.7%,#4065ac 97.9%,#4065ac 100.0%)"></div><div style="height:7.44px;background:linear-gradient(90deg,#6fa7ce 0.0%,#6fa7ce 2.1%,#6fa7ce 4.3%,#6fa8ce 6.4%,#6fa7ce 8.5%,#6fa7ce 10.6%,#70a9cf 12.8%,#73acd1 14.9%,#75aed1 17.0%,#72abd0 19.1%,#6da5cd 21.3%,#679dc9 23.4%,#6298c6 25.5%,#6499c7 27.7%,#70a8ce 29.8%,#7eb5d5 31.9%,#80b7d6 34.0%,#7fb6d6 36.2%,#83b9d8 38.3%,#7eb5d5 40.4%,#6aa1cb 42.6%,#588cc0 44.7%,#5285bc 46.8%,#4f81ba 48.9%,#4b7db8 51.1%,#4878b6 53.2%,#4574b3 55.3%,#426db0 57.4%,#4066ad 59.6%,#4064ac 61.7%,#4066ac 63.8%,#4066ad 66.0%,#4066ac 68.1%,#4066ac 70.2%,#4066ad 72.3%,#4066ad 74.5%,#4066ad 76.6%,#4066ad 78.7%,#4066ad 80.9%,#4066ad 83.0%,#4066ac 85.1%,#4065ac 87.2%,#4065ac 89.4%,#4065ac 91.5%,#4066ac 93.6%,#4066ac 95.7%,#4066ac 97.9%,#4066ac 100.0%)"></div><div style="height:7.44px;background:linear-gradient(90deg,#6fa7ce 0.0%,#6fa7ce 2.1%,#6fa7ce 4.3%,#70a8ce 6.4%,#6fa7ce 8.5%,#6fa7ce 10.6%,#71a9cf 12.8%,#74add1 14.9%,#74acd1 17.0%,#6ea6cd 19.1%,#689ec9 21.3%,#6297c6 23.4%,#5d92c3 25.5%,#5e93c4 27.7%,#6ba3cc 29.8%,#79b1d3 31.9%,#7ab2d4 34.0%,#79b1d3 36.2%,#81b7d7 38.3%,#7eb5d6 40.4%,#6aa1cb 42.6%,#588cc0 44.7%,#5285bc 46.8%,#4f81ba 48.9%,#4b7db8 51.1%,#4878b6 53.2%,#4574b3 55.3%,#426db0 57.4%,#4066ad 59.6%,#4065ac 61.7%,#4066ac 63.8%,#4066ad 66.0%,#4066ac 68.1%,#4066ad 70.2%,#4066ad 72.3%,#4066ad 74.5%,#4066ad 76.6%,#4066ad 78.7%,#4066ad 80.9%,#4066ad 83.0%,#4066ad 85.1%,#4066ac 87.2%,#4065ac 89.4%,#4066ac 91.5%,#4066ac 93.6%,#4066ac 95.7%,#4066ac 97.9%,#4066ac 100.0%)"></div><div style="height:7.44px;background:linear-gradient(90deg,#6fa7ce 0.0%,#6fa7ce 2.1%,#6fa7ce 4.3%,#70a8ce 6.4%,#6fa7ce 8.5%,#6fa7ce 10.6%,#70a9cf 12.8%,#74add1 14.9%,#73abd0 17.0%,#6ca3cc 19.1%,#649ac7 21.3%,#5e93c4 23.4%,#5a8ec1 25.5%,#5b90c2 27.7%,#689fca 29.8%,#74add1 31.9%,#75aed1 34.0%,#75aed1 36.2%,#80b6d6 38.3%,#7fb6d6 40.4%,#6ba2cb 42.6%,#588cc0 44.7%,#5285bc 46.8%,#4f81ba 48.9%,#4b7db8 51.1%,#4878b6 53.2%,#4574b3 55.3%,#426db0 57.4%,#4066ad 59.6%,#4064ac 61.7%,#4065ac 63.8%,#4066ac 66.0%,#4065ac 68.1%,#4065ac 70.2%,#4065ac 72.3%,#4065ac 74.5%,#4065ac 76.6%,#4065ac 78.7%,#4065ac 80.9%,#4065ac 83.0%,#4065ac 85.1%,#4065ac 87.2%,#4065ac 89.4%,#4065ac 91.5%,#4065ac 93.6%,#4065ac 95.7%,#4065ac 97.9%,#4065ac 100.0%)"></div><div style="height:7.44px;background:linear-gradient(90deg,#6fa7ce 0.0%,#6fa7ce 2.1%,#6fa7ce 4.3%,#6fa8ce 6.4%,#6fa7ce 8.5%,#6ea6ce 10.6%,#70a9cf 12.8%,#74add1 14.9%,#72abd0 17.0%,#6ba2cb 19.1%,#6399c7 21.3%,#5d92c3 23.4%,#598dc0 25.5%,#5b8fc1 27.7%,#659bc8 29.8%,#70a8ce 31.9%,#71aacf 34.0%,#73acd1 36.2%,#80b6d6 38.3%,#80b7d6 40.4%,#6ba2cb 42.6%,#588cc0 44.7%,#5284bc 46.8%,#4f81ba 48.9%,#4b7db8 51.1%,#4878b6 53.2%,#4574b3 55.3%,#426db0 57.4%,#4066ad 59.6%,#4064ac 61.7%,#4065ac 63.8%,#4065ac 66.0%,#4065ac 68.1%,#4065ac 70.2%,#4065ac 72.3%,#4065ac 74.5%,#4065ac 76.6%,#4065ac 78.7%,#4065ac 80.9%,#4065ac 83.0%,#4065ac 85.1%,#4065ac 87.2%,#4065ac 89.4%,#4065ac 91.5%,#4065ac 93.6%,#4065ac 95.7%,#4065ac 97.9%,#4065ac 100.0%)"></div><div style="height:7.44px;background:linear-gradient(90deg,#6fa7ce 0.0%,#6fa7ce 2.1%,#6fa7ce 4.3%,#6fa8ce 6.4%,#6fa7ce 8.5%,#6ea6ce 10.6%,#70a9cf 12.8%,#74add1 14.9%,#72abd0 17.0%,#6ba2cc 19.1%,#6399c7 21.3%,#5d92c3 23.4%,#5a8ec1 25.5%,#5b8fc2 27.7%,#6398c6 29.8%,#6ba2cb 31.9%,#6fa7ce 34.0%,#74add1 36.2%,#80b7d6 38.3%,#80b6d6 40.4%,#6ba2cb 42.6%,#588cc0 44.7%,#5284bc 46.8%,#4f81ba 48.9%,#4b7db8 51.1%,#4878b6 53.2%,#4574b3 55.3%,#426db0 57.4%,#4066ad 59.6%,#4064ac 61.7%,#4065ac 63.8%,#4065ac 66.0%,#4065ac 68.1%,#4065ac 70.2%,#4065ac 72.3%,#4065ac 74.5%,#4065ac 76.6%,#4065ac 78.7%,#4065ac 80.9%,#4065ac 83.0%,#4065ac 85.1%,#4065ac 87.2%,#4065ac 89.4%,#4065ac 91.5%,#4065ac 93.6%,#4065ac 95.7%,#4065ac 97.9%,#4065ac 100.0%)"></div><div style="height:7.44px;background:linear-gradient(90deg,#6fa7ce 0.0%,#6fa7ce 2.1%,#6fa7ce 4.3%,#70a8ce 6.4%,#6fa7ce 8.5%,#6fa7ce 10.6%,#70a9cf 12.8%,#74add1 14.9%,#73abd0 17.0%,#6ca3cc 19.1%,#649ac7 21.3%,#5e93c3 23.4%,#5b8fc2 25.5%,#5c90c2 27.7%,#6196c5 29.8%,#689ec9 31.9%,#6da5cd 34.0%,#75aed1 36.2%,#81b7d7 38.3%,#7fb6d6 40.4%,#6aa1cb 42.6%,#588cc0 44.7%,#5285bc 46.8%,#4f81ba 48.9%,#4b7db8 51.1%,#4878b6 53.2%,#4574b3 55.3%,#426db0 57.4%,#4066ad 59.6%,#4064ac 61.7%,#4065ac 63.8%,#4066ac 66.0%,#4065ac 68.1%,#4065ac 70.2%,#4065ac 72.3%,#4065ac 74.5%,#4065ac 76.6%,#4065ac 78.7%,#4065ac 80.9%,#4065ac 83.0%,#4065ac 85.1%,#4065ac 87.2%,#4065ac 89.4%,#4065ac 91.5%,#4065ac 93.6%,#4065ac 95.7%,#4065ac 97.9%,#4065ac 100.0%)"></div><div style="height:7.44px;background:linear-gradient(90deg,#6fa7ce 0.0%,#6fa7ce 2.1%,#6fa7ce 4.3%,#70a8ce 6.4%,#6fa7ce 8.5%,#6fa7ce 10.6%,#70a9cf 12.8%,#74add1 14.9%,#73abd0 17.0%,#6ca3cc 19.1%,#649ac7 21.3%,#5e93c3 23.4%,#5b8fc2 25.5%,#5c91c2 27.7%,#6196c5 29.8%,#679dc9 31.9%,#6da4cd 34.0%,#75aed2 36.2%,#81b8d7 38.3%,#7fb6d6 40.4%,#6aa1cb 42.6%,#588cc0 44.7%,#5285bc 46.8%,#4f81ba 48.9%,#4b7db8 51.1%,#4878b6 53.2%,#4574b3 55.3%,#426db0 57.4%,#4066ad 59.6%,#4064ac 61.7%,#4065ac 63.8%,#4066ac 66.0%,#4065ac 68.1%,#4065ac 70.2%,#4065ac 72.3%,#4065ac 74.5%,#4065ac 76.6%,#4065ac 78.7%,#4065ac 80.9%,#4065ac 83.0%,#4065ac 85.1%,#4065ac 87.2%,#4065ac 89.4%,#4065ac 91.5%,#4065ac 93.6%,#4065ac 95.7%,#4065ac 97.9%,#4065ac 100.0%)"></div><div style="height:7.44px;background:linear-gradient(90deg,#6fa7ce 0.0%,#6fa7ce 2.1%,#6fa7ce 4.3%,#70a8ce 6.4%,#6fa7ce 8.5%,#6fa7ce 10.6%,#70a9cf 12.8%,#74add1 14.9%,#73abd0 17.0%,#6ca3cc 19.1%,#649ac7 21.3%,#5e93c3 23.4%,#5b8fc2 25.5%,#5c90c2 27.7%,#6196c5 29.8%,#689ec9 31.9%,#6da5cd 34.0%,#75aed1 36.2%,#81b8d7 38.3%,#7fb6d6 40.4%,#6aa1cb 42.6%,#588cc0 44.7%,#5285bc 46.8%,#4f81ba 48.9%,#4b7db8 51.1%,#4878b6 53.2%,#4574b3 55.3%,#426db0 57.4%,#4066ad 59.6%,#4064ac 61.7%,#4065ac 63.8%,#4066ac 66.0%,#4065ac 68.1%,#4065ac 70.2%,#4065ac 72.3%,#4065ac 74.5%,#4065ac 76.6%,#4065ac 78.7%,#4065ac 80.9%,#4065ac 83.0%,#4065ac 85.1%,#4065ac 87.2%,#4065ac 89.4%,#4065ac 91.5%,#4065ac 93.6%,#4065ac 95.7%,#4065ac 97.9%,#4065ac 100.0%)"></div><div style="height:7.44px;background:linear-gradient(90deg,#6fa7ce 0.0%,#6fa7ce 2.1%,#6fa7ce 4.3%,#70a8ce 6.4%,#6fa7ce 8.5%,#6fa6ce 10.6%,#70a9cf 12.8%,#74add1 14.9%,#72abd0 17.0%,#6ca3cc 19.1%,#649ac7 21.3%,#5e92c3 23.4%,#5b8fc1 25.5%,#5c90c2 27.7%,#6197c5 29.8%,#689fca 31.9%,#6da5cd 34.0%,#75aed1 36.2%,#81b7d7 38.3%,#7fb6d6 40.4%,#6aa1cb 42.6%,#588cc0 44.7%,#5285bc 46.8%,#4f81ba 48.9%,#4b7db8 51.1%,#4878b6 53.2%,#4574b3 55.3%,#426db0 57.4%,#4066ad 59.6%,#4064ac 61.7%,#4065ac 63.8%,#4066ac 66.0%,#4065ac 68.1%,#4065ac 70.2%,#4065ac 72.3%,#4065ac 74.5%,#4065ac 76.6%,#4065ac 78.7%,#4065ac 80.9%,#4065ac 83.0%,#4065ac 85.1%,#4065ac 87.2%,#4065ac 89.4%,#4065ac 91.5%,#4065ac 93.6%,#4065ac 95.7%,#4065ac 97.9%,#4065ac 100.0%)"></div><div style="height:7.44px;background:linear-gradient(90deg,#6fa7ce 0.0%,#6fa7ce 2.1%,#6fa7ce 4.3%,#70a8ce 6.4%,#6fa7ce 8.5%,#6fa6ce 10.6%,#70a9cf 12.8%,#74add1 14.9%,#72abd0 17.0%,#6ca3cc 19.1%,#649ac7 21.3%,#5e92c3 23.4%,#5b8fc1 25.5%,#5c90c2 27.7%,#6197c5 29.8%,#689fca 31.9%,#6da5cd 34.0%,#75aed1 36.2%,#81b7d7 38.3%,#7fb6d6 40.4%,#6aa1cb 42.6%,#588cc0 44.7%,#5285bc 46.8%,#4f81ba 48.9%,#4b7db8 51.1%,#4878b6 53.2%,#4574b3 55.3%,#426db0 57.4%,#4066ad 59.6%,#4064ac 61.7%,#4065ac 63.8%,#4066ac 66.0%,#4065ac 68.1%,#4065ac 70.2%,#4065ac 72.3%,#4065ac 74.5%,#4065ac 76.6%,#4065ac 78.7%,#4065ac 80.9%,#4065ac 83.0%,#4065ac 85.1%,#4065ac 87.2%,#4065ac 89.4%,#4065ac 91.5%,#4065ac 93.6%,#4065ac 95.7%,#4065ac 97.9%,#4065ac 100.0%)"></div><div style="height:7.44px;background:linear-gradient(90deg,#6fa7ce 0.0%,#6fa7ce 2.1%,#6fa7ce 4.3%,#70a8ce 6.4%,#6fa7ce 8.5%,#6fa6ce 10.6%,#70a9cf 12.8%,#74add1 14.9%,#73abd0 17.0%,#6ca3cc 19.1%,#649ac7 21.3%,#5e92c3 23.4%,#5b8fc1 25.5%,#5c90c2 27.7%,#6197c5 29.8%,#689fca 31.9%,#6da5cd 34.0%,#75aed1 36.2%,#81b7d7 38.3%,#7fb6d6 40.4%,#6aa1cb 42.6%,#588cc0 44.7%,#5285bc 46.8%,#4f81ba 48.9%,#4b7db8 51.1%,#4878b6 53.2%,#4574b3 55.3%,#426db0 57.4%,#4066ad 59.6%,#4064ac 61.7%,#4065ac 63.8%,#4066ac 66.0%,#4065ac 68.1%,#4065ac 70.2%,#4065ac 72.3%,#4065ac 74.5%,#4065ac 76.6%,#4065ac 78.7%,#4065ac 80.9%,#4065ac 83.0%,#4065ac 85.1%,#4065ac 87.2%,#4065ac 89.4%,#4065ac 91.5%,#4065ac 93.6%,#4065ac 95.7%,#4065ac 97.9%,#4065ac 100.0%)"></div><div style="height:7.44px;background:linear-gradient(90deg,#6fa7ce 0.0%,#6fa7ce 2.1%,#6fa7ce 4.3%,#70a8ce 6.4%,#6fa7ce 8.5%,#6fa7ce 10.6%,#70a9cf 12.8%,#74add1 14.9%,#73abd0 17.0%,#6ca3cc 19.1%,#649ac7 21.3%,#5e92c3 23.4%,#5b8fc1 25.5%,#5c90c2 27.7%,#6197c5 29.8%,#689fca 31.9%,#6da5cd 34.0%,#75aed1 36.2%,#81b7d7 38.3%,#7fb6d6 40.4%,#6aa1cb 42.6%,#588cc0 44.7%,#5285bc 46.8%,#4f81ba 48.9%,#4b7db8 51.1%,#4878b6 53.2%,#4574b3 55.3%,#426db0 57.4%,#4066ad 59.6%,#4064ac 61.7%,#4065ac 63.8%,#4066ac 66.0%,#4065ac 68.1%,#4065ac 70.2%,#4065ac 72.3%,#4065ac 74.5%,#4065ac 76.6%,#4065ac 78.7%,#4065ac 80.9%,#4065ac 83.0%,#4065ac 85.1%,#4065ac 87.2%,#4065ac 89.4%,#4065ac 91.5%,#4065ac 93.6%,#4065ac 95.7%,#4065ac 97.9%,#4065ac 100.0%)"></div><div style="height:7.44px;background:linear-gradient(90deg,#6fa7ce 0.0%,#6fa7ce 2.1%,#6fa7ce 4.3%,#70a8ce 6.4%,#6fa7ce 8.5%,#6fa7ce 10.6%,#70a9cf 12.8%,#74add1 14.9%,#73abd0 17.0%,#6ca3cc 19.1%,#649ac7 21.3%,#5e92c3 23.4%,#5b8fc1 25.5%,#5c90c2 27.7%,#6197c5 29.8%,#689fca 31.9%,#6da5cd 34.0%,#75aed1 36.2%,#81b7d7 38.3%,#7fb6d6 40.4%,#6aa1cb 42.6%,#588cc0 44.7%,#5285bc 46.8%,#4f81ba 48.9%,#4b7db8 51.1%,#4878b6 53.2%,#4574b3 55.3%,#426db0 57.4%,#4066ad 59.6%,#4064ac 61.7%,#4065ac 63.8%,#4066ac 66.0%,#4065ac 68.1%,#4065ac 70.2%,#4065ac 72.3%,#4065ac 74.5%,#4065ac 76.6%,#4065ac 78.7%,#4065ac 80.9%,#4065ac 83.0%,#4065ac 85.1%,#4065ac 87.2%,#4065ac 89.4%,#4065ac 91.5%,#4065ac 93.6%,#4065ac 95.7%,#4065ac 97.9%,#4065ac 100.0%)"></div><div style="height:7.44px;background:linear-gradient(90deg,#6fa7ce 0.0%,#6fa7ce 2.1%,#6fa7ce 4.3%,#70a8ce 6.4%,#6fa7ce 8.5%,#6fa6ce 10.6%,#70a9cf 12.8%,#74add1 14.9%,#73abd0 17.0%,#6ca3cc 19.1%,#649ac7 21.3%,#5e92c3 23.4%,#5b8fc1 25.5%,#5c90c2 27.7%,#6197c5 29.8%,#689fca 31.9%,#6da5cd 34.0%,#75aed1 36.2%,#81b7d7 38.3%,#7fb6d6 40.4%,#6aa1cb 42.6%,#588cc0 44.7%,#5285bc 46.8%,#4f81ba 48.9%,#4b7db8 51.1%,#4878b6 53.2%,#4574b3 55.3%,#426db0 57.4%,#4066ad 59.6%,#4064ac 61.7%,#4065ac 63.8%,#4066ac 66.0%,#4065ac 68.1%,#4065ac 70.2%,#4065ac 72.3%,#4065ac 74.5%,#4065ac 76.6%,#4065ac 78.7%,#4065ac 80.9%,#4065ac 83.0%,#4065ac 85.1%,#4065ac 87.2%,#4065ac 89.4%,#4065ac 91.5%,#4065ac 93.6%,#4065ac 95.7%,#4065ac 97.9%,#4065ac 100.0%)"></div><div style="height:7.44px;background:linear-gradient(90deg,#6fa7ce 0.0%,#6fa7ce 2.1%,#6fa7ce 4.3%,#70a8ce 6.4%,#6fa7ce 8.5%,#6fa6ce 10.6%,#70a9cf 12.8%,#74add1 14.9%,#73abd0 17.0%,#6ca3cc 19.1%,#649ac7 21.3%,#5e92c3 23.4%,#5b8fc1 25.5%,#5c90c2 27.7%,#6197c5 29.8%,#689fca 31.9%,#6da5cd 34.0%,#75aed1 36.2%,#81b7d7 38.3%,#7fb6d6 40.4%,#6aa1cb 42.6%,#588cc0 44.7%,#5285bc 46.8%,#4f81ba 48.9%,#4b7db8 51.1%,#4878b6 53.2%,#4574b3 55.3%,#426db0 57.4%,#4066ad 59.6%,#4064ac 61.7%,#4065ac 63.8%,#4066ac 66.0%,#4065ac 68.1%,#4065ac 70.2%,#4065ac 72.3%,#4065ac 74.5%,#4065ac 76.6%,#4065ac 78.7%,#4065ac 80.9%,#4065ac 83.0%,#4065ac 85.1%,#4065ac 87.2%,#4065ac 89.4%,#4065ac 91.5%,#4065ac 93.6%,#4065ac 95.7%,#4065ac 97.9%,#4065ac 100.0%)"></div><div style="height:7.44px;background:linear-gradient(90deg,#6fa7ce 0.0%,#6fa7ce 2.1%,#6fa7ce 4.3%,#70a8ce 6.4%,#6fa7ce 8.5%,#6fa6ce 10.6%,#70a9cf 12.8%,#74add1 14.9%,#73abd0 17.0%,#6ca3cc 19.1%,#649ac7 21.3%,#5e92c3 23.4%,#5b8fc1 25.5%,#5c90c2 27.7%,#6197c5 29.8%,#689fca 31.9%,#6da5cd 34.0%,#75aed1 36.2%,#81b7d7 38.3%,#7fb6d6 40.4%,#6aa1cb 42.6%,#588cc0 44.7%,#5285bc 46.8%,#4f81ba 48.9%,#4b7db8 51.1%,#4878b6 53.2%,#4574b3 55.3%,#426db0 57.4%,#4066ad 59.6%,#4064ac 61.7%,#4065ac 63.8%,#4066ac 66.0%,#4065ac 68.1%,#4065ac 70.2%,#4065ac 72.3%,#4065ac 74.5%,#4065ac 76.6%,#4065ac 78.7%,#4065ac 80.9%,#4065ac 83.0%,#4065ac 85.1%,#4065ac 87.2%,#4065ac 89.4%,#4065ac 91.5%,#4065ac 93.6%,#4065ac 95.7%,#4065ac 97.9%,#4065ac 100.0%)"></div></div></div><div class="hm" style="left:1395.8px;top:313.0px;width:473.9px;height:277.3px"><div style="left:-10px;top:-10px;width:493.9px;height:297.3px"><div style="height:7.43px;background:linear-gradient(90deg,#90c3dd 0.0%,#8fc3dd 2.1%,#90c3dd 4.3%,#91c5de 6.4%,#8ec2dc 8.5%,#83b9d7 10.6%,#79b1d3 12.8%,#78b0d3 14.9%,#81b7d7 17.0%,#91c4de 19.1%,#a2d2e5 21.3%,#b1dceb 23.4%,#b8dfed 25.5%,#abd9e9 27.7%,#7bb3d4 29.8%,#578bbf 31.9%,#6096c5 34.0%,#7cb4d5 36.2%,#87bcd9 38.3%,#75aed2 40.4%,#588cc0 42.6%,#4a7ab7 44.7%,#5689bf 46.8%,#6aa2cb 48.9%,#7bb3d4 51.1%,#88bdda 53.2%,#87bcd9 55.3%,#6ea5cd 57.4%,#5386bd 59.6%,#5385bd 61.7%,#5c91c2 63.8%,#5487bd 66.0%,#5284bc 68.1%,#75aed1 70.2%,#c7e7f1 72.3%,#fff9b5 74.5%,#fff8b4 76.6%,#c7e7f1 78.7%,#b8e0ed 80.9%,#fffebd 83.0%,#fedf8f 85.1%,#feefa7 87.2%,#feffc1 89.4%,#fdfec2 91.5%,#fff5b0 93.6%,#fee89c 95.7%,#fee597 97.9%,#fee79b 100.0%)"></div><div style="height:7.43px;background:linear-gradient(90deg,#90c3dd 0.0%,#8fc3dd 2.1%,#90c3dd 4.3%,#92c5de 6.4%,#8ec2dc 8.5%,#82b8d7 10.6%,#78b0d3 12.8%,#77afd2 14.9%,#80b7d6 17.0%,#91c4de 19.1%,#a3d3e6 21.3%,#b2dceb 23.4%,#b9e0ed 25.5%,#aad9e9 27.7%,#7ab2d4 29.8%,#5589be 31.9%,#5e92c3 34.0%,#79b1d3 36.2%,#84b9d8 38.3%,#73acd0 40.4%,#5689be 42.6%,#4777b5 44.7%,#5386bd 46.8%,#689fc9 48.9%,#7bb2d4 51.1%,#89bdda 53.2%,#88bdda 55.3%,#6da5cd 57.4%,#5385bc 59.6%,#5285bc 61.7%,#5c90c2 63.8%,#5487bd 66.0%,#5285bc 68.1%,#74add1 70.2%,#c6e6f1 72.3%,#fff9b6 74.5%,#fff8b4 76.6%,#c7e7f1 78.7%,#b8e0ed 80.9%,#fffebd 83.0%,#fedf8f 85.1%,#feefa7 87.2%,#feffc1 89.4%,#fdfec2 91.5%,#fff5af 93.6%,#fee79b 95.7%,#fee496 97.9%,#fee69a 100.0%)"></div><div style="height:7.43px;background:linear-gradient(90deg,#90c3dd 0.0%,#8fc3dd 2.1%,#90c3dd 4.3%,#91c5de 6.4%,#8ec2dc 8.5%,#83b9d7 10.6%,#79b1d3 12.8%,#78b0d3 14.9%,#81b7d7 17.0%,#91c4de 19.1%,#a2d2e5 21.3%,#b1dceb 23.4%,#b8dfed 25.5%,#abd9e9 27.7%,#7bb3d4 29.8%,#578bbf 31.9%,#6096c5 34.0%,#7cb4d5 36.2%,#87bcd9 38.3%,#75aed2 40.4%,#588cc0 42.6%,#4a7ab7 44.7%,#5689bf 46.8%,#6aa2cb 48.9%,#7bb3d4 51.1%,#88bdda 53.2%,#87bcd9 55.3%,#6ea5cd 57.4%,#5386bd 59.6%,#5385bd 61.7%,#5c91c2 63.8%,#5487bd 66.0%,#5284bc 68.1%,#75aed1 70.2%,#c7e7f1 72.3%,#fff9b5 74.5%,#fff8b4 76.6%,#c7e7f1 78.7%,#b8e0ed 80.9%,#fffebd 83.0%,#fedf8f 85.1%,#feefa7 87.2%,#feffc1 89.4%,#fdfec2 91.5%,#fff5b0 93.6%,#fee89c 95.7%,#fee597 97.9%,#fee79b 100.0%)"></div><div style="height:7.43px;background:linear-gradient(90deg,#90c3dd 0.0%,#8fc3dd 2.1%,#90c3dd 4.3%,#91c4de 6.4%,#8ec2dc 8.5%,#86bcd9 10.6%,#80b7d6 12.8%,#7fb6d6 14.9%,#85bbd9 17.0%,#90c4dd 19.1%,#9dcee3 21.3%,#aad9e9 23.4%,#b5deec 25.5%,#addaea 27.7%,#82b8d7 29.8%,#6095c5 31.9%,#6ca4cc 34.0%,#8cc0dc 36.2%,#94c7df 38.3%,#80b7d6 40.4%,#6197c5 42.6%,#5689be 44.7%,#659cc8 46.8%,#77afd2 48.9%,#7fb6d6 51.1%,#86bcd9 53.2%,#87bcd9 55.3%,#6fa7ce 57.4%,#5588be 59.6%,#5589be 61.7%,#5e93c4 63.8%,#5386bd 66.0%,#4f81ba 68.1%,#76afd2 70.2%,#cde9f2 72.3%,#fff7b3 74.5%,#fff8b4 76.6%,#c7e7f1 78.7%,#b8dfed 80.9%,#ffffbe 83.0%,#fee191 85.1%,#fff1aa 87.2%,#fdfec3 89.4%,#fdfec4 91.5%,#fff7b3 93.6%,#feeda3 95.7%,#feea9f 97.9%,#feeca2 100.0%)"></div><div style="height:7.43px;background:linear-gradient(90deg,#90c3dd 0.0%,#8fc3dd 2.1%,#90c3dd 4.3%,#90c3dd 6.4%,#8fc3dd 8.5%,#8cc0db 10.6%,#89beda 12.8%,#89beda 14.9%,#8bc0db 17.0%,#8fc3dd 19.1%,#96c8e0 21.3%,#a1d1e5 23.4%,#afdbea 25.5%,#aedbea 27.7%,#8abfdb 29.8%,#6ca4cc 31.9%,#7eb5d6 34.0%,#a1d1e5 36.2%,#a6d5e7 38.3%,#8fc3dd 40.4%,#6fa7ce 42.6%,#689fca 44.7%,#7db5d5 46.8%,#8bc0db 48.9%,#84bad8 51.1%,#83b9d8 53.2%,#85bbd9 55.3%,#71a9cf 57.4%,#598cc0 59.6%,#5b8fc1 61.7%,#6398c6 63.8%,#5386bd 66.0%,#4e80ba 68.1%,#7ab2d4 70.2%,#d2ecf4 72.3%,#fff7b2 74.5%,#fffab7 76.6%,#c5e6f0 78.7%,#b8dfed 80.9%,#fefec2 83.0%,#fee496 85.1%,#fff4af 87.2%,#fafdc7 89.4%,#fafdc8 91.5%,#fffcbb 93.6%,#fff5b0 95.7%,#fff3ad 97.9%,#fff5af 100.0%)"></div><div style="height:7.43px;background:linear-gradient(90deg,#8fc3dd 0.0%,#90c3dd 2.1%,#8fc3dd 4.3%,#8fc3dd 6.4%,#90c3dd 8.5%,#90c3dd 10.6%,#90c4dd 12.8%,#90c4dd 14.9%,#90c3dd 17.0%,#8fc3dd 19.1%,#91c4dd 21.3%,#98cae1 23.4%,#a8d7e8 25.5%,#addaea 27.7%,#8fc3dd 29.8%,#75aed2 31.9%,#8bc0db 34.0%,#aedaea 36.2%,#afdbea 38.3%,#98cae1 40.4%,#7cb3d4 42.6%,#7bb3d4 44.7%,#97c9e0 46.8%,#9ecfe4 48.9%,#89beda 51.1%,#80b7d6 53.2%,#84bad8 55.3%,#74acd1 57.4%,#5f94c4 59.6%,#6398c6 61.7%,#6aa1cb 63.8%,#598dc0 66.0%,#5385bd 68.1%,#80b7d6 70.2%,#d4edf5 72.3%,#fffcbb 74.5%,#fdfec3 76.6%,#c2e4ef 78.7%,#b8dfed 80.9%,#fafdc8 83.0%,#feea9f 85.1%,#fff9b6 87.2%,#f7fcce 89.4%,#f5fbd0 91.5%,#f9fdca 93.6%,#fcfec4 95.7%,#fdfec2 97.9%,#fdfec3 100.0%)"></div><div style="height:7.43px;background:linear-gradient(90deg,#8fc3dd 0.0%,#90c3dd 2.1%,#8fc3dd 4.3%,#8fc3dd 6.4%,#90c3dd 8.5%,#91c4de 10.6%,#92c5de 12.8%,#92c5de 14.9%,#91c4de 17.0%,#8fc3dd 19.1%,#8ec2dc 21.3%,#92c5de 23.4%,#a1d1e4 25.5%,#a7d6e7 27.7%,#8ec2dc 29.8%,#77b0d2 31.9%,#8dc1dc 34.0%,#abd9e9 36.2%,#abd9e9 38.3%,#96c8e0 40.4%,#83b9d8 42.6%,#8bbfdb 44.7%,#a8d7e8 46.8%,#aad8e9 48.9%,#8cc0dc 51.1%,#7eb5d5 53.2%,#82b9d7 55.3%,#78b0d3 57.4%,#699fca 59.6%,#6da5cd 61.7%,#74add1 63.8%,#659bc8 66.0%,#5f94c4 68.1%,#88bdda 70.2%,#ceeaf3 72.3%,#f5fbd1 74.5%,#f0f9db 76.6%,#bce1ee 78.7%,#b9e0ed 80.9%,#f4fbd3 83.0%,#fff3ac 85.1%,#ffffbf 87.2%,#f2fad7 89.4%,#eef8df 91.5%,#edf8e0 93.6%,#edf8e0 95.7%,#edf8e0 97.9%,#edf8e0 100.0%)"></div><div style="height:7.43px;background:linear-gradient(90deg,#8fc3dd 0.0%,#90c3dd 2.1%,#8fc3dd 4.3%,#8fc3dd 6.4%,#90c3dd 8.5%,#90c3dd 10.6%,#90c4dd 12.8%,#90c4dd 14.9%,#90c4dd 17.0%,#90c3dd 19.1%,#8ec1dc 21.3%,#8ec2dd 23.4%,#9bcce2 25.5%,#a1d1e5 27.7%,#8abfdb 29.8%,#75aed1 31.9%,#88bdda 34.0%,#a2d2e5 36.2%,#a0d0e4 38.3%,#8fc3dd 40.4%,#86bcd9 42.6%,#95c7df 44.7%,#b1dceb 46.8%,#b0dbea 48.9%,#8ec2dc 51.1%,#7db4d5 53.2%,#81b8d7 55.3%,#7cb3d4 57.4%,#71aacf 59.6%,#77afd2 61.7%,#7eb5d5 63.8%,#72aad0 66.0%,#6ea6cd 68.1%,#90c3dd 70.2%,#c4e5f0 72.3%,#e6f5ec 74.5%,#e1f4f5 76.6%,#b5deec 78.7%,#b8dfed 80.9%,#eef8df 83.0%,#fffdbb 85.1%,#f8fccc 87.2%,#ecf8e2 89.4%,#e5f5ee 91.5%,#e1f3f6 93.6%,#ddf2f7 95.7%,#dcf1f7 97.9%,#ddf1f7 100.0%)"></div><div style="height:7.43px;background:linear-gradient(90deg,#90c3dd 0.0%,#8fc3dd 2.1%,#90c3dd 4.3%,#90c3dd 6.4%,#8fc3dd 8.5%,#8fc3dd 10.6%,#8fc3dd 12.8%,#8fc2dd 14.9%,#90c3dd 17.0%,#90c4dd 19.1%,#8ec1dc 21.3%,#8dc1dc 23.4%,#98cae1 25.5%,#9ecfe3 27.7%,#88bdda 29.8%,#74add1 31.9%,#85bad8 34.0%,#9dcde3 36.2%,#9acbe1 38.3%,#8cc0db 40.4%,#88bdda 42.6%,#99cbe1 44.7%,#b5deec 46.8%,#b1dceb 48.9%,#8ec2dc 51.1%,#7cb3d5 53.2%,#81b7d7 55.3%,#7eb5d5 57.4%,#76afd2 59.6%,#7cb3d4 61.7%,#84bad8 63.8%,#7cb4d5 66.0%,#7ab2d4 68.1%,#94c7df 70.2%,#bbe1ee 72.3%,#d8eff6 74.5%,#d1ecf4 76.6%,#aedbea 78.7%,#b5deec 80.9%,#e7f6eb 83.0%,#f8fccc 85.1%,#f0f9da 87.2%,#e5f5ef 89.4%,#ddf1f7 91.5%,#d3edf4 93.6%,#cce9f2 95.7%,#cbe8f2 97.9%,#cce9f2 100.0%)"></div><div style="height:7.43px;background:linear-gradient(90deg,#90c3dd 0.0%,#8fc3dd 2.1%,#90c3dd 4.3%,#90c3dd 6.4%,#90c3dd 8.5%,#8fc3dd 10.6%,#8fc3dd 12.8%,#8fc2dd 14.9%,#90c3dd 17.0%,#90c4dd 19.1%,#8ec1dc 21.3%,#8dc1dc 23.4%,#98cae1 25.5%,#9fcfe4 27.7%,#89beda 29.8%,#75aed1 31.9%,#86bbd9 34.0%,#9dcee3 36.2%,#9acbe2 38.3%,#8dc1dc 40.4%,#8abeda 42.6%,#9acbe2 44.7%,#b3ddeb 46.8%,#afdbea 48.9%,#8ec1dc 51.1%,#7cb4d5 53.2%,#81b7d7 55.3%,#7eb5d6 57.4%,#77afd2 59.6%,#7cb3d4 61.7%,#84bad8 63.8%,#80b7d6 66.0%,#80b7d6 68.1%,#95c7df 70.2%,#b4deec 72.3%,#ceeaf3 74.5%,#c7e7f1 76.6%,#a8d7e8 78.7%,#aedaea 80.9%,#e0f3f8 83.0%,#eff9dc 85.1%,#e7f6ea 87.2%,#dcf1f7 89.4%,#d4edf4 91.5%,#cbe9f2 93.6%,#c3e5f0 95.7%,#c1e4ef 97.9%,#c3e5f0 100.0%)"></div><div style="height:7.43px;background:linear-gradient(90deg,#8fc3dd 0.0%,#90c3dd 2.1%,#8fc3dd 4.3%,#8fc3dd 6.4%,#90c3dd 8.5%,#90c3dd 10.6%,#8fc3dd 12.8%,#8fc3dd 14.9%,#90c3dd 17.0%,#90c4dd 19.1%,#8ec1dc 21.3%,#8dc1dc 23.4%,#99cae1 25.5%,#9fd0e4 27.7%,#89beda 29.8%,#74add1 31.9%,#86bbd9 34.0%,#9ecfe4 36.2%,#9bcce2 38.3%,#8dc1dc 40.4%,#89beda 42.6%,#96c8e0 44.7%,#abd9e9 46.8%,#a7d6e7 48.9%,#8bc0db 51.1%,#7eb5d5 53.2%,#81b8d7 55.3%,#7db5d5 57.4%,#75aed1 59.6%,#79b1d3 61.7%,#82b8d7 63.8%,#81b7d7 66.0%,#82b8d7 68.1%,#94c7df 70.2%,#b0dcea 72.3%,#c7e7f1 74.5%,#c1e4ef 76.6%,#a3d3e6 78.7%,#a7d6e7 80.9%,#d3edf4 83.0%,#e5f5ef 85.1%,#dcf1f7 87.2%,#ceeaf3 89.4%,#c9e8f1 91.5%,#c2e4ef 93.6%,#bbe1ed 95.7%,#b9e0ed 97.9%,#bae0ed 100.0%)"></div><div style="height:7.43px;background:linear-gradient(90deg,#8fc3dd 0.0%,#90c3dd 2.1%,#8fc3dd 4.3%,#8fc3dd 6.4%,#8fc3dd 8.5%,#90c3dd 10.6%,#90c3dd 12.8%,#8fc3dd 14.9%,#90c3dd 17.0%,#90c3dd 19.1%,#8ec2dc 21.3%,#8ec2dc 23.4%,#98cae1 25.5%,#9ccde2 27.7%,#85bad8 29.8%,#71a9cf 31.9%,#83b9d7 34.0%,#9bcce2 36.2%,#98cae1 38.3%,#8abfdb 40.4%,#87bcd9 42.6%,#8fc3dd 44.7%,#9ccde3 46.8%,#99cbe1 48.9%,#88bdda 51.1%,#7fb6d6 53.2%,#82b8d7 55.3%,#7cb4d5 57.4%,#74acd1 59.6%,#78b0d3 61.7%,#80b7d6 63.8%,#80b7d6 66.0%,#82b8d7 68.1%,#95c7df 70.2%,#aedaea 72.3%,#bfe3ef 74.5%,#b8e0ed 76.6%,#a1d1e4 78.7%,#a2d2e5 80.9%,#c2e4f0 83.0%,#d2ecf4 85.1%,#c9e8f1 87.2%,#bfe3ef 89.4%,#bae0ed 91.5%,#b3ddeb 93.6%,#acdae9 95.7%,#abd9e9 97.9%,#acd9e9 100.0%)"></div><div style="height:7.43px;background:linear-gradient(90deg,#8fc3dd 0.0%,#90c3dd 2.1%,#8fc3dd 4.3%,#8fc3dd 6.4%,#8fc3dd 8.5%,#8fc3dd 10.6%,#8fc3dd 12.8%,#8fc3dd 14.9%,#90c3dd 17.0%,#90c3dd 19.1%,#8ec2dc 21.3%,#8ec2dc 23.4%,#95c8e0 25.5%,#96c8e0 27.7%,#7eb5d5 29.8%,#6ca3cc 31.9%,#7db4d5 34.0%,#95c7df 36.2%,#91c4de 38.3%,#84bad8 40.4%,#82b9d7 42.6%,#87bcd9 44.7%,#8cc0dc 46.8%,#8abfdb 48.9%,#83b9d8 51.1%,#81b8d7 53.2%,#82b9d7 55.3%,#7cb3d4 57.4%,#73acd1 59.6%,#78b0d3 61.7%,#81b7d6 63.8%,#7fb6d6 66.0%,#82b8d7 68.1%,#97c9e0 70.2%,#addaea 72.3%,#b6deec 74.5%,#afdbea 76.6%,#a0d0e4 78.7%,#a0d0e4 80.9%,#b1dceb 83.0%,#bbe1ee 85.1%,#b7dfec 87.2%,#b0dbea 89.4%,#aad8e8 91.5%,#a2d2e5 93.6%,#9bcce2 95.7%,#99cbe1 97.9%,#9bcce2 100.0%)"></div><div style="height:7.43px;background:linear-gradient(90deg,#90c3dd 0.0%,#8fc3dd 2.1%,#90c3dd 4.3%,#90c3dd 6.4%,#90c3dd 8.5%,#90c3dd 10.6%,#8fc3dd 12.8%,#8fc3dd 14.9%,#90c3dd 17.0%,#90c3dd 19.1%,#8fc2dd 21.3%,#8ec2dd 23.4%,#94c6df 25.5%,#92c5de 27.7%,#79b1d3 29.8%,#689ec9 31.9%,#78b0d3 34.0%,#90c3dd 36.2%,#8cc0db 38.3%,#80b6d6 40.4%,#7fb6d6 42.6%,#82b8d7 44.7%,#81b8d7 46.8%,#80b7d6 48.9%,#81b7d7 51.1%,#83b9d8 53.2%,#83b9d8 55.3%,#7cb3d4 57.4%,#74add1 59.6%,#7ab1d3 61.7%,#82b8d7 63.8%,#80b6d6 66.0%,#82b9d7 68.1%,#98cae1 70.2%,#addaea 72.3%,#afdbea 74.5%,#a7d6e7 76.6%,#9fcfe4 78.7%,#9fcfe4 80.9%,#a6d5e7 83.0%,#abd9e9 85.1%,#abd9e9 87.2%,#a6d5e7 89.4%,#9ecfe3 91.5%,#95c7df 93.6%,#8fc2dd 95.7%,#8dc1dc 97.9%,#8ec2dc 100.0%)"></div><div style="height:7.43px;background:linear-gradient(90deg,#90c3dd 0.0%,#8fc3dd 2.1%,#90c3dd 4.3%,#90c3dd 6.4%,#90c3dd 8.5%,#90c3dd 10.6%,#90c3dd 12.8%,#8fc3dd 14.9%,#90c3dd 17.0%,#90c3dd 19.1%,#8fc2dd 21.3%,#8fc2dd 23.4%,#93c6df 25.5%,#91c4dd 27.7%,#78b0d3 29.8%,#679dc9 31.9%,#77afd2 34.0%,#8ec2dd 36.2%,#8abfdb 38.3%,#7eb5d6 40.4%,#7eb5d5 42.6%,#81b7d6 44.7%,#7fb6d6 46.8%,#7eb5d6 48.9%,#81b7d7 51.1%,#84bad8 53.2%,#84bad8 55.3%,#7db4d5 57.4%,#76afd2 59.6%,#7bb3d4 61.7%,#83b9d8 63.8%,#81b8d7 66.0%,#84bad8 68.1%,#9acbe1 70.2%,#addaea 72.3%,#addaea 74.5%,#a5d4e6 76.6%,#9ecfe3 78.7%,#9ecfe3 80.9%,#a3d2e5 83.0%,#a7d6e7 85.1%,#a8d6e8 87.2%,#a3d3e6 89.4%,#9bcce2 91.5%,#92c5de 93.6%,#8cc0db 95.7%,#8abfdb 97.9%,#8bc0db 100.0%)"></div><div style="height:7.43px;background:linear-gradient(90deg,#90c3dd 0.0%,#8fc3dd 2.1%,#90c3dd 4.3%,#90c3dd 6.4%,#90c3dd 8.5%,#90c3dd 10.6%,#90c3dd 12.8%,#8fc3dd 14.9%,#90c3dd 17.0%,#90c3dd 19.1%,#8fc2dd 21.3%,#8fc2dd 23.4%,#94c6df 25.5%,#91c5de 27.7%,#79b1d3 29.8%,#689ec9 31.9%,#78b0d3 34.0%,#8fc3dd 36.2%,#8bc0db 38.3%,#7fb6d6 40.4%,#7fb6d6 42.6%,#82b8d7 44.7%,#81b8d7 46.8%,#80b7d6 48.9%,#81b8d7 51.1%,#84bad8 53.2%,#84bad8 55.3%,#7db4d5 57.4%,#76aed2 59.6%,#7bb2d4 61.7%,#83b9d8 63.8%,#81b8d7 66.0%,#84bad8 68.1%,#99cbe1 70.2%,#addaea 72.3%,#aedbea 74.5%,#a6d5e7 76.6%,#9ecfe4 78.7%,#9ecfe3 80.9%,#a5d4e6 83.0%,#aad8e9 85.1%,#aad8e9 87.2%,#a5d4e6 89.4%,#9dcee3 91.5%,#94c7df 93.6%,#8ec2dc 95.7%,#8dc1dc 97.9%,#8ec2dc 100.0%)"></div><div style="height:7.43px;background:linear-gradient(90deg,#8fc3dd 0.0%,#90c3dd 2.1%,#8fc3dd 4.3%,#8fc3dd 6.4%,#8fc3dd 8.5%,#8fc3dd 10.6%,#8fc3dd 12.8%,#8fc3dd 14.9%,#90c3dd 17.0%,#90c3dd 19.1%,#8ec2dd 21.3%,#8ec2dd 23.4%,#94c7df 25.5%,#92c5de 27.7%,#7ab2d4 29.8%,#699fca 31.9%,#79b1d3 34.0%,#91c4de 36.2%,#8dc1dc 38.3%,#81b7d7 40.4%,#80b7d6 42.6%,#83b9d7 44.7%,#83b9d7 46.8%,#81b8d7 48.9%,#80b7d6 51.1%,#82b8d7 53.2%,#82b8d7 55.3%,#7ab2d4 57.4%,#72aad0 59.6%,#76afd2 61.7%,#7fb6d6 63.8%,#7db4d5 66.0%,#80b6d6 68.1%,#97c9e0 70.2%,#aedaea 72.3%,#b2ddeb 74.5%,#abd9e9 76.6%,#a0d0e4 78.7%,#9fd0e4 80.9%,#a9d8e8 83.0%,#b0dbea 85.1%,#afdbea 87.2%,#a9d8e8 89.4%,#a1d1e5 91.5%,#98cae1 93.6%,#91c4de 95.7%,#90c3dd 97.9%,#91c4de 100.0%)"></div><div style="height:7.43px;background:linear-gradient(90deg,#8fc3dd 0.0%,#90c3dd 2.1%,#8fc3dd 4.3%,#8fc2dd 6.4%,#8ec2dc 8.5%,#8ec2dc 10.6%,#8ec2dc 12.8%,#8fc3dd 14.9%,#90c3dd 17.0%,#90c3dd 19.1%,#8ec2dd 21.3%,#8ec2dc 23.4%,#94c7df 25.5%,#92c5de 27.7%,#7ab2d3 29.8%,#699fca 31.9%,#7ab1d3 34.0%,#92c5de 36.2%,#8ec2dc 38.3%,#82b8d7 40.4%,#81b7d7 42.6%,#83b9d7 44.7%,#82b8d7 46.8%,#80b7d6 48.9%,#7fb6d6 51.1%,#80b6d6 53.2%,#7fb6d6 55.3%,#76afd2 57.4%,#6ea6cd 59.6%,#72abd0 61.7%,#7ab2d4 63.8%,#78b0d3 66.0%,#7bb3d4 68.1%,#94c7df 70.2%,#aedaea 72.3%,#b5deec 74.5%,#aedbea 76.6%,#a2d2e5 78.7%,#a0d1e4 80.9%,#acd9e9 83.0%,#b3ddeb 85.1%,#b2dceb 87.2%,#acd9e9 89.4%,#a3d3e6 91.5%,#9acbe1 93.6%,#92c5de 95.7%,#91c4de 97.9%,#92c5de 100.0%)"></div><div style="height:7.43px;background:linear-gradient(90deg,#8fc3dd 0.0%,#90c3dd 2.1%,#8fc3dd 4.3%,#8fc3dd 6.4%,#8fc3dd 8.5%,#8fc3dd 10.6%,#8fc3dd 12.8%,#8fc3dd 14.9%,#90c3dd 17.0%,#90c3dd 19.1%,#8ec2dd 21.3%,#8ec2dd 23.4%,#94c6df 25.5%,#92c5de 27.7%,#79b1d3 29.8%,#689fca 31.9%,#79b1d3 34.0%,#91c4de 36.2%,#8dc1dc 38.3%,#81b7d7 40.4%,#80b7d6 42.6%,#82b9d7 44.7%,#82b8d7 46.8%,#81b7d7 48.9%,#80b7d6 51.1%,#82b8d7 53.2%,#82b8d7 55.3%,#7ab2d4 57.4%,#72abd0 59.6%,#77afd2 61.7%,#7fb6d6 63.8%,#7db4d5 66.0%,#80b7d6 68.1%,#97c9e0 70.2%,#addaea 72.3%,#b2dceb 74.5%,#aad8e9 76.6%,#a0d0e4 78.7%,#9fd0e4 80.9%,#a8d7e8 83.0%,#afdbea 85.1%,#aedaea 87.2%,#a9d7e8 89.4%,#a0d1e4 91.5%,#97c9e0 93.6%,#91c4dd 95.7%,#8fc3dd 97.9%,#90c3dd 100.0%)"></div><div style="height:7.43px;background:linear-gradient(90deg,#90c3dd 0.0%,#8fc3dd 2.1%,#90c3dd 4.3%,#92c5de 6.4%,#94c6df 8.5%,#94c7df 10.6%,#93c6de 12.8%,#90c4dd 14.9%,#8fc3dd 17.0%,#90c3dd 19.1%,#8fc2dd 21.3%,#8fc2dd 23.4%,#94c7df 25.5%,#92c5de 27.7%,#7ab1d3 29.8%,#689fca 31.9%,#77afd2 34.0%,#8dc1dc 36.2%,#88bdda 38.3%,#7cb4d5 40.4%,#7db4d5 42.6%,#82b8d7 44.7%,#85bad8 46.8%,#86bcd9 48.9%,#88bdda 51.1%,#8cc0db 53.2%,#8ec2dc 55.3%,#8bbfdb 57.4%,#87bcd9 59.6%,#8dc1dc 61.7%,#95c7df 63.8%,#94c7df 66.0%,#95c8e0 68.1%,#a3d2e5 70.2%,#abd9e9 72.3%,#a3d3e6 74.5%,#99cbe1 76.6%,#98c9e1 78.7%,#9acce2 80.9%,#9ecee3 83.0%,#a0d0e4 85.1%,#a0d0e4 87.2%,#9dcde3 89.4%,#97c9e0 91.5%,#90c4dd 93.6%,#8cc0db 95.7%,#8bbfdb 97.9%,#8bc0db 100.0%)"></div><div style="height:7.43px;background:linear-gradient(90deg,#90c3dd 0.0%,#8fc2dd 2.1%,#90c3dd 4.3%,#95c8df 6.4%,#9acce2 8.5%,#9bcce2 10.6%,#98c9e1 12.8%,#92c5de 14.9%,#8fc2dd 17.0%,#8fc3dd 19.1%,#8fc3dd 21.3%,#8fc3dd 23.4%,#94c6df 25.5%,#92c5de 27.7%,#7ab2d4 29.8%,#689fca 31.9%,#74add1 34.0%,#87bcd9 36.2%,#81b7d7 38.3%,#77afd2 40.4%,#7ab2d4 42.6%,#83b9d7 44.7%,#89beda 46.8%,#8ec2dc 48.9%,#93c6df 51.1%,#99cae1 53.2%,#9ecfe3 55.3%,#a1d1e5 57.4%,#a4d4e6 59.6%,#abd9e9 61.7%,#b2ddeb 63.8%,#b4ddeb 66.0%,#b3ddeb 68.1%,#b3ddeb 70.2%,#a8d6e8 72.3%,#8fc3dd 74.5%,#83b9d7 76.6%,#8cc1dc 78.7%,#94c7df 80.9%,#90c3dd 83.0%,#8cc0dc 85.1%,#8dc1dc 87.2%,#8dc1dc 89.4%,#8abfdb 91.5%,#87bcd9 93.6%,#86bbd9 95.7%,#85bbd8 97.9%,#85bbd9 100.0%)"></div><div style="height:7.43px;background:linear-gradient(90deg,#90c3dd 0.0%,#8ec2dc 2.1%,#90c3dd 4.3%,#98cae1 6.4%,#9fcfe4 8.5%,#a0d0e4 10.6%,#9bcce2 12.8%,#93c6de 14.9%,#8ec2dd 17.0%,#8fc3dd 19.1%,#8fc3dd 21.3%,#8ec2dd 23.4%,#93c6df 25.5%,#92c5de 27.7%,#7bb2d4 29.8%,#689fca 31.9%,#72aad0 34.0%,#82b8d7 36.2%,#7bb3d4 38.3%,#73acd1 40.4%,#7ab2d4 42.6%,#85bbd9 44.7%,#8cc1dc 46.8%,#93c6de 48.9%,#9bcce2 51.1%,#a3d2e5 53.2%,#aad8e9 55.3%,#b1dceb 57.4%,#b9e0ed 59.6%,#c1e4ef 61.7%,#c8e7f1 63.8%,#cae8f2 66.0%,#c8e7f1 68.1%,#bee2ee 70.2%,#a5d5e7 72.3%,#81b7d6 74.5%,#73abd0 76.6%,#85bbd8 78.7%,#90c4dd 80.9%,#86bbd9 83.0%,#7eb5d5 85.1%,#7fb6d6 87.2%,#81b8d7 89.4%,#81b7d7 91.5%,#81b7d7 93.6%,#81b8d7 95.7%,#81b8d7 97.9%,#81b8d7 100.0%)"></div><div style="height:7.43px;background:linear-gradient(90deg,#90c3dd 0.0%,#8ec2dc 2.1%,#90c3dd 4.3%,#98cae1 6.4%,#a0d0e4 8.5%,#a2d1e5 10.6%,#9ccde2 12.8%,#93c6de 14.9%,#8ec2dd 17.0%,#8fc3dd 19.1%,#8fc2dd 21.3%,#8dc1dc 23.4%,#92c5de 25.5%,#92c5de 27.7%,#7bb3d4 29.8%,#689fca 31.9%,#71a9cf 34.0%,#7fb6d6 36.2%,#79b1d3 38.3%,#73acd0 40.4%,#7eb5d5 42.6%,#8abfdb 44.7%,#8ec2dc 46.8%,#93c5de 48.9%,#9ccde2 51.1%,#a5d4e6 53.2%,#addaea 55.3%,#b5deec 57.4%,#bee2ee 59.6%,#c6e6f1 61.7%,#cce9f2 63.8%,#cfebf3 66.0%,#cde9f2 68.1%,#c1e4ef 70.2%,#a5d4e6 72.3%,#7db4d5 74.5%,#70a8cf 76.6%,#86bbd9 78.7%,#92c5de 80.9%,#84bad8 83.0%,#7ab2d4 85.1%,#7cb3d5 87.2%,#7fb6d6 89.4%,#7fb6d6 91.5%,#7fb6d6 93.6%,#80b7d6 95.7%,#81b7d6 97.9%,#80b7d6 100.0%)"></div><div style="height:7.43px;background:linear-gradient(90deg,#90c3dd 0.0%,#8ec2dc 2.1%,#90c3dd 4.3%,#98cae1 6.4%,#9fcfe4 8.5%,#a0d1e4 10.6%,#9bcce2 12.8%,#93c6de 14.9%,#8ec2dd 17.0%,#8fc3dd 19.1%,#8fc2dd 21.3%,#8ec1dc 23.4%,#93c5de 25.5%,#92c5de 27.7%,#7bb2d4 29.8%,#689fca 31.9%,#72aad0 34.0%,#80b7d6 36.2%,#79b1d3 38.3%,#74add1 40.4%,#83b9d8 42.6%,#90c3dd 44.7%,#8fc3dd 46.8%,#91c4de 48.9%,#9acbe2 51.1%,#a3d3e6 53.2%,#aad9e9 55.3%,#b1dceb 57.4%,#b9e0ed 59.6%,#c1e4ef 61.7%,#c8e7f1 63.8%,#cbe8f2 66.0%,#c8e7f1 68.1%,#bfe3ef 70.2%,#a5d4e6 72.3%,#7fb6d6 74.5%,#74add1 76.6%,#8dc1dc 78.7%,#99cae1 80.9%,#88bdda 83.0%,#7cb4d5 85.1%,#7fb6d6 87.2%,#81b8d7 89.4%,#81b7d7 91.5%,#81b7d7 93.6%,#81b8d7 95.7%,#81b8d7 97.9%,#81b8d7 100.0%)"></div><div style="height:7.43px;background:linear-gradient(90deg,#90c3dd 0.0%,#8ec2dc 2.1%,#90c3dd 4.3%,#97c9e0 6.4%,#9ecfe3 8.5%,#9fd0e4 10.6%,#9bcce2 12.8%,#93c5de 14.9%,#8ec2dc 17.0%,#8fc3dd 19.1%,#90c3dd 21.3%,#91c4dd 23.4%,#95c7df 25.5%,#92c5de 27.7%,#7ab2d4 29.8%,#699fca 31.9%,#74add1 34.0%,#84bad8 36.2%,#7cb3d4 38.3%,#75aed2 40.4%,#85bbd9 42.6%,#93c6df 44.7%,#93c5de 46.8%,#92c5de 48.9%,#99cbe1 51.1%,#a1d1e5 53.2%,#a8d7e8 55.3%,#aedbea 57.4%,#b5deec 59.6%,#bde2ee 61.7%,#c3e5f0 63.8%,#c5e6f0 66.0%,#c3e5f0 68.1%,#bce2ee 70.2%,#a5d5e7 72.3%,#81b7d7 74.5%,#78b0d3 76.6%,#96c8e0 78.7%,#a2d2e5 80.9%,#8dc1dc 83.0%,#7eb5d5 85.1%,#81b7d7 87.2%,#84bad8 89.4%,#83b9d7 91.5%,#82b8d7 93.6%,#82b8d7 95.7%,#82b8d7 97.9%,#82b8d7 100.0%)"></div><div style="height:7.43px;background:linear-gradient(90deg,#90c3dd 0.0%,#8ec2dc 2.1%,#90c3dd 4.3%,#97c9e0 6.4%,#9ecfe3 8.5%,#9fd0e4 10.6%,#9bcce2 12.8%,#93c6de 14.9%,#8ec2dc 17.0%,#8ec2dd 19.1%,#92c5de 21.3%,#96c8e0 23.4%,#9acbe1 25.5%,#93c5de 27.7%,#79b1d3 29.8%,#69a0ca 31.9%,#78b0d3 34.0%,#8abfdb 36.2%,#7fb6d6 38.3%,#75aed2 40.4%,#84bad8 42.6%,#94c7df 44.7%,#97c9e0 46.8%,#97c9e0 48.9%,#9acce2 51.1%,#a0d0e4 53.2%,#a8d6e8 55.3%,#afdbea 57.4%,#b5deec 59.6%,#bce2ee 61.7%,#c2e4f0 63.8%,#c4e5f0 66.0%,#c3e5f0 68.1%,#bce1ee 70.2%,#a5d4e6 72.3%,#7fb6d6 74.5%,#7ab2d4 76.6%,#a0d0e4 78.7%,#addaea 80.9%,#90c3dd 83.0%,#7cb4d5 85.1%,#80b7d6 87.2%,#84bad8 89.4%,#83b9d7 91.5%,#82b8d7 93.6%,#82b8d7 95.7%,#82b8d7 97.9%,#82b8d7 100.0%)"></div><div style="height:7.43px;background:linear-gradient(90deg,#90c3dd 0.0%,#8ec2dc 2.1%,#90c3dd 4.3%,#97c9e0 6.4%,#9ecfe3 8.5%,#a0d0e4 10.6%,#9bcce2 12.8%,#93c6df 14.9%,#8ec1dc 17.0%,#8ec2dc 19.1%,#94c6df 21.3%,#9bcce2 23.4%,#9ecee3 25.5%,#93c6df 27.7%,#77b0d2 29.8%,#689fca 31.9%,#7bb2d4 34.0%,#8fc3dd 36.2%,#81b8d7 38.3%,#74add1 40.4%,#82b8d7 42.6%,#94c7df 44.7%,#9ccde2 46.8%,#9ccde3 48.9%,#9ccde3 51.1%,#a0d0e4 53.2%,#a8d7e8 55.3%,#b0dbea 57.4%,#b7dfec 59.6%,#bee2ee 61.7%,#c5e6f0 63.8%,#c7e6f1 66.0%,#c5e6f0 68.1%,#bee2ee 70.2%,#a5d4e6 72.3%,#7db4d5 74.5%,#7ab2d4 76.6%,#a7d6e7 78.7%,#b5deec 80.9%,#92c5de 83.0%,#7ab2d4 85.1%,#7fb6d6 87.2%,#84bad8 89.4%,#82b8d7 91.5%,#81b8d7 93.6%,#82b8d7 95.7%,#82b8d7 97.9%,#82b8d7 100.0%)"></div><div style="height:7.43px;background:linear-gradient(90deg,#90c3dd 0.0%,#8ec2dc 2.1%,#90c3dd 4.3%,#98c9e1 6.4%,#9fcfe4 8.5%,#a0d0e4 10.6%,#9bcce2 12.8%,#93c6df 14.9%,#8dc1dc 17.0%,#8ec1dc 19.1%,#94c7df 21.3%,#9dcee3 23.4%,#9fd0e4 25.5%,#93c6df 27.7%,#76aed2 29.8%,#669dc9 31.9%,#7bb3d4 34.0%,#91c4de 36.2%,#81b7d7 38.3%,#72aad0 40.4%,#80b6d6 42.6%,#95c7df 44.7%,#9ecee3 46.8%,#9ecfe4 48.9%,#9dcee3 51.1%,#a0d0e4 53.2%,#a9d7e8 55.3%,#b0dbea 57.4%,#b7dfec 59.6%,#c1e4ef 61.7%,#c9e8f2 63.8%,#cce9f2 66.0%,#c9e8f2 68.1%,#c0e3ef 70.2%,#a5d4e6 72.3%,#7cb3d4 74.5%,#7bb2d4 76.6%,#aad8e8 78.7%,#b8dfed 80.9%,#93c5de 83.0%,#79b1d3 85.1%,#7eb5d5 87.2%,#84bad8 89.4%,#82b8d7 91.5%,#81b7d7 93.6%,#82b8d7 95.7%,#82b8d7 97.9%,#82b8d7 100.0%)"></div><div style="height:7.43px;background:linear-gradient(90deg,#90c3dd 0.0%,#8ec2dc 2.1%,#90c3dd 4.3%,#98c9e0 6.4%,#9ecfe4 8.5%,#a0d0e4 10.6%,#9bcce2 12.8%,#93c6df 14.9%,#8dc1dc 17.0%,#8ec1dc 19.1%,#94c7df 21.3%,#9ccde3 23.4%,#9fd0e4 25.5%,#93c6df 27.7%,#75aed2 29.8%,#669cc8 31.9%,#7ab2d4 34.0%,#91c4dd 36.2%,#80b7d6 38.3%,#71a9cf 40.4%,#80b6d6 42.6%,#95c7df 44.7%,#9dcee3 46.8%,#9ecee3 48.9%,#9dcee3 51.1%,#a0d1e4 53.2%,#a9d7e8 55.3%,#b0dbea 57.4%,#b7dfec 59.6%,#c3e5f0 61.7%,#cfebf3 63.8%,#d3ecf4 66.0%,#ceeaf3 68.1%,#c2e4f0 70.2%,#a5d4e6 72.3%,#7cb3d4 74.5%,#7bb2d4 76.6%,#a9d8e8 78.7%,#b8dfed 80.9%,#93c5de 83.0%,#79b1d3 85.1%,#7eb5d6 87.2%,#84bad8 89.4%,#82b8d7 91.5%,#81b7d7 93.6%,#82b8d7 95.7%,#82b8d7 97.9%,#82b8d7 100.0%)"></div><div style="height:7.43px;background:linear-gradient(90deg,#90c3dd 0.0%,#8ec2dc 2.1%,#90c3dd 4.3%,#97c9e0 6.4%,#9ecfe4 8.5%,#a0d0e4 10.6%,#9bcce2 12.8%,#93c6df 14.9%,#8ec1dc 17.0%,#8ec2dc 19.1%,#94c6df 21.3%,#9ccde2 23.4%,#9ecfe3 25.5%,#93c6df 27.7%,#78b0d3 29.8%,#69a0ca 31.9%,#7cb3d4 34.0%,#90c3dd 36.2%,#82b8d7 38.3%,#75aed1 40.4%,#82b8d7 42.6%,#94c7df 44.7%,#9ccde3 46.8%,#9dcee3 48.9%,#9ccde3 51.1%,#a0d1e4 53.2%,#a9d7e8 55.3%,#afdbea 57.4%,#b6deec 59.6%,#c4e5f0 61.7%,#d2ecf4 63.8%,#d8eff6 66.0%,#d3edf4 68.1%,#c4e5f0 70.2%,#a4d3e6 72.3%,#7bb3d4 74.5%,#7bb2d4 76.6%,#a7d6e7 78.7%,#b5deec 80.9%,#92c5de 83.0%,#7ab2d4 85.1%,#7fb6d6 87.2%,#84bad8 89.4%,#82b8d7 91.5%,#81b8d7 93.6%,#82b8d7 95.7%,#82b8d7 97.9%,#82b8d7 100.0%)"></div><div style="height:7.43px;background:linear-gradient(90deg,#90c3dd 0.0%,#8ec2dc 2.1%,#90c3dd 4.3%,#97c9e0 6.4%,#9ecfe3 8.5%,#a0d0e4 10.6%,#9bcce2 12.8%,#93c6df 14.9%,#8dc1dc 17.0%,#8ec2dc 19.1%,#94c7df 21.3%,#9ccde2 23.4%,#9dcde3 25.5%,#92c5de 27.7%,#7eb5d5 29.8%,#72abd0 31.9%,#80b7d6 34.0%,#8fc3dd 36.2%,#88bdda 38.3%,#7fb6d6 40.4%,#87bcd9 42.6%,#93c6df 44.7%,#9bcce2 46.8%,#9dcee3 48.9%,#9ccde3 51.1%,#a0d0e4 53.2%,#a8d7e8 55.3%,#afdbea 57.4%,#b6deec 59.6%,#c4e5f0 61.7%,#d3edf4 63.8%,#dbf0f7 66.0%,#d7eef5 68.1%,#c5e6f0 70.2%,#a3d2e5 72.3%,#7bb3d4 74.5%,#7ab2d4 76.6%,#a5d4e6 78.7%,#b2dceb 80.9%,#91c4de 83.0%,#7bb2d4 85.1%,#7fb6d6 87.2%,#84bad8 89.4%,#82b8d7 91.5%,#81b8d7 93.6%,#82b8d7 95.7%,#82b8d7 97.9%,#82b8d7 100.0%)"></div><div style="height:7.43px;background:linear-gradient(90deg,#90c3dd 0.0%,#8ec2dc 2.1%,#90c3dd 4.3%,#97c9e0 6.4%,#9ecfe4 8.5%,#a0d0e4 10.6%,#9bcce2 12.8%,#93c6df 14.9%,#8dc1dc 17.0%,#8ec1dc 19.1%,#94c7df 21.3%,#9ccde3 23.4%,#9bcde2 25.5%,#92c5de 27.7%,#84bad8 29.8%,#7eb5d5 31.9%,#86bbd9 34.0%,#90c3dd 36.2%,#8fc3dd 38.3%,#8bbfdb 40.4%,#8cc0db 42.6%,#92c5de 44.7%,#9acce2 46.8%,#9ecee3 48.9%,#9dcee3 51.1%,#a0d0e4 53.2%,#a8d7e8 55.3%,#afdbea 57.4%,#b6dfec 59.6%,#c3e5f0 61.7%,#d2ecf4 63.8%,#ddf2f7 66.0%,#dcf1f7 68.1%,#c7e7f1 70.2%,#a3d2e5 72.3%,#7bb3d4 74.5%,#7ab1d3 76.6%,#a0d0e4 78.7%,#addaea 80.9%,#8fc3dd 83.0%,#7bb3d4 85.1%,#7fb6d6 87.2%,#84b9d8 89.4%,#82b8d7 91.5%,#81b8d7 93.6%,#82b8d7 95.7%,#82b8d7 97.9%,#82b8d7 100.0%)"></div><div style="height:7.43px;background:linear-gradient(90deg,#90c3dd 0.0%,#8ec2dc 2.1%,#90c3dd 4.3%,#97c9e0 6.4%,#9ecfe4 8.5%,#a0d0e4 10.6%,#9bcce2 12.8%,#93c6df 14.9%,#8dc1dc 17.0%,#8dc1dc 19.1%,#95c7df 21.3%,#9dcde3 23.4%,#9bcce2 25.5%,#91c4de 27.7%,#88bdda 29.8%,#84bad8 31.9%,#89beda 34.0%,#90c3dd 36.2%,#93c6de 38.3%,#91c4de 40.4%,#8fc2dd 42.6%,#91c4de 44.7%,#9acbe2 46.8%,#9ecfe3 48.9%,#9dcee3 51.1%,#a0d0e4 53.2%,#a8d7e8 55.3%,#b0dbea 57.4%,#b7dfec 59.6%,#c2e4ef 61.7%,#d1ecf4 63.8%,#e1f3f6 66.0%,#e3f4f3 68.1%,#ceeaf3 70.2%,#a6d5e7 72.3%,#7db4d5 74.5%,#78b0d3 76.6%,#98cae1 78.7%,#a5d4e6 80.9%,#8dc1dc 83.0%,#7cb4d5 85.1%,#80b6d6 87.2%,#83b9d8 89.4%,#82b8d7 91.5%,#81b8d7 93.6%,#82b8d7 95.7%,#82b8d7 97.9%,#82b8d7 100.0%)"></div><div style="height:7.43px;background:linear-gradient(90deg,#90c3dd 0.0%,#8ec2dc 2.1%,#90c3dd 4.3%,#97c9e0 6.4%,#9ecfe4 8.5%,#a0d0e4 10.6%,#9bcce2 12.8%,#93c6df 14.9%,#8dc1dc 17.0%,#8dc1dc 19.1%,#95c7df 21.3%,#9dcde3 23.4%,#9bcce2 25.5%,#91c4de 27.7%,#88bdda 29.8%,#84bad8 31.9%,#89beda 34.0%,#90c3dd 36.2%,#93c6de 38.3%,#91c5de 40.4%,#8fc2dd 42.6%,#91c4de 44.7%,#9acbe2 46.8%,#9ecfe3 48.9%,#9dcee3 51.1%,#a0d0e4 53.2%,#a8d7e8 55.3%,#b0dbea 57.4%,#b7dfec 59.6%,#c0e4ef 61.7%,#d1ecf4 63.8%,#e4f5f0 66.0%,#e9f7e7 68.1%,#d7eff6 70.2%,#abd9e9 72.3%,#80b7d6 74.5%,#76afd2 76.6%,#8fc2dd 78.7%,#9acbe2 80.9%,#8abeda 83.0%,#7eb5d5 85.1%,#80b7d6 87.2%,#83b9d7 89.4%,#82b8d7 91.5%,#81b8d7 93.6%,#82b8d7 95.7%,#82b8d7 97.9%,#82b8d7 100.0%)"></div><div style="height:7.43px;background:linear-gradient(90deg,#90c3dd 0.0%,#8ec2dc 2.1%,#90c3dd 4.3%,#97c9e0 6.4%,#9ecfe4 8.5%,#a0d0e4 10.6%,#9bcce2 12.8%,#93c6df 14.9%,#8dc1dc 17.0%,#8dc1dc 19.1%,#94c7df 21.3%,#9ccde3 23.4%,#9bcce2 25.5%,#91c5de 27.7%,#87bcd9 29.8%,#82b8d7 31.9%,#88bdda 34.0%,#90c3dd 36.2%,#92c5de 38.3%,#8fc3dd 40.4%,#8ec2dc 42.6%,#92c5de 44.7%,#9acbe2 46.8%,#9ecfe3 48.9%,#9dcee3 51.1%,#a0d0e4 53.2%,#a8d7e8 55.3%,#b0dbea 57.4%,#b7dfec 59.6%,#c0e3ef 61.7%,#d1ecf4 63.8%,#e7f6ea 66.0%,#eff9dd 68.1%,#dff3f8 70.2%,#afdbea 72.3%,#83b9d7 74.5%,#74add1 76.6%,#87bcd9 78.7%,#92c5de 80.9%,#87bcd9 83.0%,#7fb6d6 85.1%,#81b7d7 87.2%,#82b9d7 89.4%,#82b8d7 91.5%,#82b8d7 93.6%,#82b8d7 95.7%,#82b8d7 97.9%,#82b8d7 100.0%)"></div><div style="height:7.43px;background:linear-gradient(90deg,#90c3dd 0.0%,#8ec2dc 2.1%,#90c3dd 4.3%,#97c9e0 6.4%,#9ecfe4 8.5%,#a0d0e4 10.6%,#9bcce2 12.8%,#93c6df 14.9%,#8dc1dc 17.0%,#8dc1dc 19.1%,#94c7df 21.3%,#9ccde3 23.4%,#9bcce2 25.5%,#91c5de 27.7%,#86bbd9 29.8%,#81b7d7 31.9%,#87bdd9 34.0%,#90c3dd 36.2%,#91c4de 38.3%,#8ec2dc 40.4%,#8dc1dc 42.6%,#92c5de 44.7%,#9acbe2 46.8%,#9ecfe3 48.9%,#9dcee3 51.1%,#a0d0e4 53.2%,#a8d7e8 55.3%,#b0dbea 57.4%,#b7dfec 59.6%,#bfe3ef 61.7%,#d1ecf4 63.8%,#e9f6e8 66.0%,#f1fad9 68.1%,#e1f3f6 70.2%,#b1dceb 72.3%,#84bad8 74.5%,#74add1 76.6%,#84bad8 78.7%,#8ec2dd 80.9%,#86bcd9 83.0%,#80b6d6 85.1%,#81b7d7 87.2%,#82b8d7 89.4%,#82b8d7 91.5%,#82b8d7 93.6%,#82b8d7 95.7%,#82b8d7 97.9%,#82b8d7 100.0%)"></div><div style="height:7.43px;background:linear-gradient(90deg,#90c3dd 0.0%,#8ec2dc 2.1%,#90c3dd 4.3%,#97c9e0 6.4%,#9ecfe4 8.5%,#a0d0e4 10.6%,#9bcce2 12.8%,#93c6df 14.9%,#8dc1dc 17.0%,#8dc1dc 19.1%,#94c7df 21.3%,#9ccde3 23.4%,#9bcce2 25.5%,#91c5de 27.7%,#86bcd9 29.8%,#81b8d7 31.9%,#88bdda 34.0%,#90c3dd 36.2%,#91c4de 38.3%,#8ec2dd 40.4%,#8dc1dc 42.6%,#92c5de 44.7%,#9acbe2 46.8%,#9ecfe3 48.9%,#9dcee3 51.1%,#a0d0e4 53.2%,#a8d7e8 55.3%,#b0dbea 57.4%,#b7dfec 59.6%,#bfe3ef 61.7%,#d1ecf4 63.8%,#e8f6e9 66.0%,#f0f9da 68.1%,#e1f3f7 70.2%,#b1dceb 72.3%,#83b9d8 74.5%,#74add1 76.6%,#84bad8 78.7%,#8fc3dd 80.9%,#86bcd9 83.0%,#7fb6d6 85.1%,#81b7d7 87.2%,#82b9d7 89.4%,#82b8d7 91.5%,#82b8d7 93.6%,#82b8d7 95.7%,#82b8d7 97.9%,#82b8d7 100.0%)"></div><div style="height:7.43px;background:linear-gradient(90deg,#90c3dd 0.0%,#8ec2dc 2.1%,#90c3dd 4.3%,#97c9e0 6.4%,#9ecfe4 8.5%,#a0d0e4 10.6%,#9bcce2 12.8%,#93c6df 14.9%,#8dc1dc 17.0%,#8dc1dc 19.1%,#94c7df 21.3%,#9ccde3 23.4%,#9bcce2 25.5%,#91c5de 27.7%,#87bcd9 29.8%,#82b8d7 31.9%,#88bdda 34.0%,#90c3dd 36.2%,#91c5de 38.3%,#8fc3dd 40.4%,#8ec2dc 42.6%,#92c5de 44.7%,#9acbe2 46.8%,#9ecfe3 48.9%,#9dcee3 51.1%,#a0d0e4 53.2%,#a8d7e8 55.3%,#b0dbea 57.4%,#b7dfec 59.6%,#c0e3ef 61.7%,#d1ecf4 63.8%,#e8f6ea 66.0%,#eff9dc 68.1%,#e0f3f8 70.2%,#b0dbea 72.3%,#83b9d7 74.5%,#74add1 76.6%,#86bbd9 78.7%,#91c4de 80.9%,#87bcd9 83.0%,#7fb6d6 85.1%,#81b7d7 87.2%,#82b9d7 89.4%,#82b8d7 91.5%,#82b8d7 93.6%,#82b8d7 95.7%,#82b8d7 97.9%,#82b8d7 100.0%)"></div><div style="height:7.43px;background:linear-gradient(90deg,#90c3dd 0.0%,#8ec2dc 2.1%,#90c3dd 4.3%,#97c9e0 6.4%,#9ecfe4 8.5%,#a0d0e4 10.6%,#9bcce2 12.8%,#93c6df 14.9%,#8dc1dc 17.0%,#8dc1dc 19.1%,#94c7df 21.3%,#9ccde3 23.4%,#9bcce2 25.5%,#91c5de 27.7%,#87bcd9 29.8%,#82b8d7 31.9%,#88bdda 34.0%,#90c3dd 36.2%,#91c5de 38.3%,#8fc3dd 40.4%,#8ec2dc 42.6%,#92c5de 44.7%,#9acbe2 46.8%,#9ecfe3 48.9%,#9dcee3 51.1%,#a0d0e4 53.2%,#a8d7e8 55.3%,#b0dbea 57.4%,#b7dfec 59.6%,#c0e3ef 61.7%,#d1ecf4 63.8%,#e8f6ea 66.0%,#eff9dc 68.1%,#dff3f8 70.2%,#b0dbea 72.3%,#83b9d7 74.5%,#74add1 76.6%,#86bcd9 78.7%,#91c4de 80.9%,#87bcd9 83.0%,#7fb6d6 85.1%,#81b7d7 87.2%,#82b9d7 89.4%,#82b8d7 91.5%,#82b8d7 93.6%,#82b8d7 95.7%,#82b8d7 97.9%,#82b8d7 100.0%)"></div><div style="height:7.43px;background:linear-gradient(90deg,#90c3dd 0.0%,#8ec2dc 2.1%,#90c3dd 4.3%,#97c9e0 6.4%,#9ecfe4 8.5%,#a0d0e4 10.6%,#9bcce2 12.8%,#93c6df 14.9%,#8dc1dc 17.0%,#8dc1dc 19.1%,#94c7df 21.3%,#9ccde3 23.4%,#9bcce2 25.5%,#91c5de 27.7%,#87bcd9 29.8%,#82b8d7 31.9%,#88bdda 34.0%,#90c3dd 36.2%,#91c5de 38.3%,#8fc3dd 40.4%,#8ec2dc 42.6%,#92c5de 44.7%,#9acbe2 46.8%,#9ecfe3 48.9%,#9dcee3 51.1%,#a0d0e4 53.2%,#a8d7e8 55.3%,#b0dbea 57.4%,#b7dfec 59.6%,#c0e3ef 61.7%,#d1ecf4 63.8%,#e8f6ea 66.0%,#eff9dc 68.1%,#e0f3f8 70.2%,#b0dbea 72.3%,#83b9d7 74.5%,#74add1 76.6%,#86bbd9 78.7%,#91c4de 80.9%,#87bcd9 83.0%,#7fb6d6 85.1%,#81b7d7 87.2%,#82b9d7 89.4%,#82b8d7 91.5%,#82b8d7 93.6%,#82b8d7 95.7%,#82b8d7 97.9%,#82b8d7 100.0%)"></div></div></div><svg width="1950" height="663" viewBox="0 0 1950 663"><defs><linearGradient id="cbg" x1="0" y1="1" x2="0" y2="0"><stop offset="0.00" stop-color="#313695"/><stop offset="0.10" stop-color="#4575b4"/><stop offset="0.20" stop-color="#74add1"/><stop offset="0.30" stop-color="#abd9e9"/><stop offset="0.40" stop-color="#e0f3f8"/><stop offset="0.50" stop-color="#ffffbf"/><stop offset="0.60" stop-color="#fee090"/><stop offset="0.70" stop-color="#fdae61"/><stop offset="0.80" stop-color="#f46d43"/><stop offset="0.90" stop-color="#d73027"/><stop offset="1.00" stop-color="#a50026"/></linearGradient><clipPath id="cpa"><rect x="85.0" y="10.3" width="473.7" height="277.4"/></clipPath><clipPath id="cpb"><rect x="736.7" y="10.5" width="472.6" height="276.9"/></clipPath><clipPath id="cpc"><rect x="1395.3" y="9.4" width="475.1" height="278.6"/></clipPath><clipPath id="cpd"><rect x="85.0" y="313.6" width="473.6" height="277.6"/></clipPath><clipPath id="cpe"><rect x="736.8" y="313.7" width="472.9" height="277.5"/></clipPath><clipPath id="cpf"><rect x="1395.8" y="313.0" width="473.9" height="277.3"/></clipPath><filter id="bl" x="-10%" y="-10%" width="120%" height="120%" color-interpolation-filters="sRGB"><feGaussianBlur stdDeviation="5"/></filter></defs><g clip-path="url(#cpa)"><path d="M84.0 288.7L85.0 264.1L85.8 264.1L85.8 265.6L86.6 264.6L87.4 265.6L87.5 265.2L88.2 264.8L89.0 267.3L89.6 264.1L89.8 264.5L90.6 265.2L90.7 266.3L91.4 264.2L92.2 266.3L92.3 261.4L93.0 263.8L93.4 265.2L93.8 265.4L94.6 257.5L95.1 254.3L95.4 258.2L96.1 263.0L96.2 262.6L97.0 264.6L97.8 256.5L97.8 256.5L98.6 257.1L98.9 261.9L99.4 258.2L100.2 260.0L100.5 250.0L101.0 254.9L101.6 260.8L101.8 255.6L102.6 258.1L103.2 256.5L103.4 258.9L104.2 256.0L104.3 255.9L105.0 257.7L105.4 261.9L105.8 258.9L106.6 261.9L107.0 250.0L107.4 249.4L108.1 248.3L108.2 250.3L109.0 249.3L109.7 250.0L109.8 250.4L110.6 245.7L111.3 242.4L111.4 248.1L112.2 233.7L112.6 229.9L113.0 237.1L113.7 240.2L113.8 240.1L114.6 242.4L115.4 238.8L115.7 238.6L116.2 240.5L116.8 241.3L117.0 240.3L117.8 243.7L117.9 235.8L118.6 239.2L118.9 240.7L119.4 239.9L120.2 237.8L120.6 236.9L121.0 240.9L121.8 232.0L122.2 230.4L122.6 233.4L123.4 227.2L123.8 226.1L124.2 228.1L125.0 220.7L125.5 218.5L125.8 221.6L126.6 221.1L127.1 222.3L127.4 222.5L128.2 223.4L128.7 223.9L129.0 226.3L129.8 228.4L130.3 230.4L130.6 229.4L131.4 233.2L132.0 234.8L132.2 235.5L133.0 236.1L133.6 236.9L133.8 238.5L134.6 237.6L135.2 238.0L135.4 239.2L136.2 239.9L136.9 241.3L137.0 242.1L137.8 242.5L138.5 243.4L138.6 243.2L139.4 244.0L140.1 244.5L140.2 244.7L141.0 245.1L141.7 245.6L141.8 246.2L142.6 247.9L143.4 250.0L143.4 250.5L144.2 253.1L144.5 254.3L145.0 254.9L145.5 241.8L145.8 246.4L146.6 258.6L146.6 247.8L147.4 259.6L148.2 261.9L148.3 260.8L149.0 256.2L149.3 254.3L149.8 258.1L150.6 260.1L151.0 261.9L151.4 261.5L152.2 262.7L152.6 263.0L153.0 265.6L153.8 261.3L154.2 260.8L154.6 263.9L155.4 262.4L155.9 263.0L156.2 263.6L156.9 266.3L157.0 266.0L157.8 268.2L158.0 263.0L158.6 263.8L159.4 265.9L159.7 265.2L160.2 264.9L161.0 268.0L161.3 264.1L161.8 262.0L162.2 260.3L162.6 264.7L163.4 260.8L163.5 260.8L164.2 262.1L164.4 273.9L165.0 274.7L165.8 278.1L166.0 276.0L166.6 274.5L167.4 275.4L168.2 270.6L168.2 270.6L169.0 272.4L169.8 270.2L170.3 270.1L170.6 273.0L171.4 273.2L172.0 274.9L172.2 274.2L173.0 273.6L173.6 272.8L173.8 275.6L174.6 274.5L175.4 275.1L175.8 276.6L176.2 277.0L177.0 279.5L177.4 278.2L177.8 278.5L178.6 281.3L179.0 279.3L179.4 279.4L180.2 281.6L180.7 279.8L181.0 278.3L181.8 281.4L182.3 271.7L182.6 274.1L183.4 275.5L183.4 280.4L184.2 280.4L185.0 281.7L185.0 280.4L185.8 279.3L186.6 281.6L186.6 278.2L187.4 272.3L188.2 274.5L188.5 264.1L189.0 269.1L189.8 271.0L189.9 278.2L190.6 279.6L191.4 282.7L191.5 281.5L192.2 278.9L193.0 282.2L193.7 273.3L193.8 273.8L194.6 275.8L194.8 279.3L195.4 279.9L196.2 282.4L196.9 281.5L197.0 281.5L197.8 281.9L198.6 282.3L199.1 282.5L199.4 283.6L200.2 284.0L200.7 284.7L201.0 285.2L201.8 283.1L202.6 284.8L202.9 281.5L203.4 282.8L204.2 284.3L204.5 285.8L205.0 286.0L205.8 286.7L206.6 286.8L206.7 286.9L207.4 287.7L208.2 286.9L209.0 287.7L209.8 286.9L210.0 286.9L210.6 287.2L211.4 283.1L211.6 282.5L212.2 284.0L212.7 274.4L213.0 276.3L213.8 277.3L213.8 281.5L214.6 281.1L215.4 281.5L215.9 280.4L216.2 280.0L217.0 280.7L217.8 278.1L218.1 277.7L218.6 280.9L219.4 280.8L219.7 281.5L220.2 281.2L221.0 280.2L221.8 281.4L221.9 279.3L222.6 278.8L223.4 280.5L223.5 278.2L224.2 277.5L225.0 280.7L225.2 276.6L225.8 276.1L226.6 276.9L227.3 274.9L227.4 274.4L228.2 276.3L228.4 269.5L229.0 269.9L229.8 272.0L230.1 270.6L230.6 271.6L231.4 274.8L231.7 273.9L232.2 270.9L232.8 267.3L233.0 273.9L233.8 270.0L234.4 271.7L234.6 273.1L235.4 267.6L236.0 265.2L236.2 269.0L237.0 259.2L237.1 258.6L237.8 260.9L238.2 264.1L238.6 261.9L239.4 263.5L239.5 257.0L240.2 265.2L240.2 265.2L240.9 265.2L241.0 268.4L241.8 268.3L241.9 268.6L242.6 271.6L243.4 245.5L243.6 242.4L244.2 246.4L244.9 256.8L245.0 257.1L245.8 258.1L246.6 262.2L247.0 263.5L247.4 263.4L248.2 265.1L249.0 266.3L249.5 266.9L249.8 265.6L250.6 267.5L251.4 258.6L252.2 260.8L252.4 254.2L253.0 260.8L253.7 268.6L253.8 262.1L254.6 268.6L255.4 269.1L255.4 268.6L256.2 248.3L256.6 238.2L257.0 250.1L257.6 275.4L257.8 274.8L258.6 276.4L259.4 270.1L259.6 269.5L260.2 272.3L261.0 265.4L261.8 268.8L262.2 261.9L262.6 260.6L263.4 263.2L263.8 256.8L264.2 258.8L265.0 260.8L265.5 265.2L265.8 265.0L266.6 267.4L267.4 264.0L268.1 263.5L268.2 266.5L269.0 261.7L269.8 262.4L270.6 258.5L270.6 258.5L271.4 261.7L272.0 242.4L272.2 245.9L273.0 248.8L273.1 261.9L273.8 263.3L274.6 266.4L274.8 265.2L275.4 258.5L276.0 251.7L276.2 261.3L277.0 256.6L277.4 258.5L277.8 258.2L278.6 256.1L279.1 255.1L279.4 257.8L280.2 248.2L280.7 245.0L281.0 249.0L281.8 237.3L282.4 233.1L282.6 239.7L283.4 231.3L283.8 230.6L284.2 232.0L285.0 245.0L285.0 245.0L285.8 245.7L286.6 252.9L286.7 253.4L287.4 254.0L288.2 257.5L289.0 258.5L289.2 260.2L289.8 256.7L290.5 252.6L290.6 258.2L291.4 259.6L291.7 261.9L292.2 260.2L293.0 260.6L293.4 260.2L293.8 261.1L294.6 202.7L294.6 202.7L295.4 203.7L295.6 191.7L296.2 194.6L296.8 197.6L297.0 195.5L297.8 200.4L298.0 201.0L298.6 202.0L299.3 253.4L299.4 254.1L300.2 254.7L301.0 265.2L301.0 265.2L301.8 268.3L302.6 262.1L302.7 261.9L303.4 264.4L304.2 270.8L304.4 272.0L305.0 271.8L305.8 273.4L306.6 274.7L306.9 274.5L307.4 274.0L308.2 275.6L309.0 272.5L309.5 272.0L309.8 274.1L310.6 260.4L311.1 255.1L311.4 261.2L312.2 249.1L312.8 245.8L313.0 252.1L313.8 264.8L314.0 268.6L314.6 268.3L315.4 274.0L316.2 275.9L316.2 277.1L317.0 278.2L317.8 280.1L318.2 277.9L318.2 279.8L318.6 278.4L319.4 279.1L320.2 280.2L320.4 280.4L321.0 281.0L321.8 281.1L322.5 281.5L322.6 281.9L323.4 278.0L324.2 279.3L324.2 274.9L325.0 275.4L325.8 278.4L325.8 276.0L326.6 278.7L327.4 279.7L327.4 281.5L328.2 277.9L329.0 278.5L329.1 273.9L329.8 272.9L330.6 276.3L330.7 271.7L331.4 269.3L331.8 267.9L332.2 271.4L333.0 268.3L333.4 268.4L333.8 269.2L334.6 268.7L335.4 270.9L335.6 269.0L336.2 269.1L337.0 269.7L337.7 269.5L337.8 269.6L338.6 271.7L339.4 270.7L339.9 271.1L340.2 274.2L341.0 271.9L341.5 272.2L341.8 274.9L342.6 272.0L343.4 274.5L343.7 271.7L344.2 270.7L345.0 272.0L345.3 268.4L345.8 266.4L346.4 264.1L346.6 268.0L347.4 264.1L348.1 264.1L348.2 265.1L349.0 267.5L349.1 267.9L349.8 270.3L350.6 265.5L350.8 265.2L351.4 267.6L352.2 264.5L352.9 264.1L353.0 267.3L353.8 261.2L354.6 262.7L354.6 258.6L355.4 262.6L355.7 264.1L356.2 263.8L357.0 265.9L357.3 266.3L357.8 268.8L358.6 268.9L358.9 269.5L359.4 272.4L360.0 271.7L360.2 272.9L361.0 275.9L361.1 278.2L361.8 276.3L362.6 279.2L362.7 273.9L363.4 273.2L363.8 272.8L364.2 276.2L364.9 278.2L365.0 277.9L365.8 280.7L366.5 273.9L366.6 274.2L367.4 275.3L368.1 278.2L368.2 278.0L369.0 280.1L369.8 274.9L369.8 274.9L370.6 276.5L370.9 272.8L371.4 275.5L371.9 278.2L372.2 276.1L373.0 279.2L373.6 279.8L373.8 279.8L374.6 279.8L375.2 279.8L375.4 281.1L376.2 278.1L377.0 279.4L377.4 276.0L377.8 275.9L378.6 278.5L379.0 275.5L379.4 275.4L380.2 278.7L380.6 274.9L381.0 274.7L381.8 276.5L382.3 273.9L382.6 273.7L383.4 277.0L383.9 272.8L384.2 273.5L385.0 277.0L385.0 275.5L385.8 278.3L386.1 279.3L386.6 281.6L387.4 280.2L387.7 280.4L388.2 281.8L389.0 281.3L389.3 281.5L389.8 281.9L390.6 282.3L390.9 282.5L391.4 282.9L392.2 282.2L393.0 282.7L393.1 282.0L393.8 282.5L394.6 283.1L395.3 283.6L395.4 283.5L396.2 282.5L396.2 284.7L397.0 280.2L397.3 279.3L397.8 283.4L398.4 283.6L398.6 283.3L399.4 284.8L400.2 280.9L400.5 280.4L401.0 281.8L401.6 283.1L401.8 283.0L402.6 284.2L403.4 282.2L403.8 282.0L404.2 283.6L404.9 283.6L405.0 283.5L405.8 283.9L406.6 282.7L407.1 282.5L407.4 284.0L408.2 280.8L409.0 282.4L409.2 279.3L409.8 281.6L410.3 283.6L410.6 283.1L411.4 283.0L412.2 284.4L412.5 282.5L413.0 282.8L413.8 283.7L414.6 283.6L414.7 283.6L415.4 284.1L416.2 284.1L417.0 285.5L417.8 284.7L417.9 284.7L418.6 285.4L419.4 284.7L420.2 286.2L421.0 284.7L421.2 284.7L421.8 286.4L422.6 284.4L423.3 284.2L423.4 285.2L424.2 284.8L425.0 285.3L425.0 285.6L425.8 284.4L426.6 283.6L426.6 286.1L427.4 280.6L428.2 277.7L428.2 282.0L429.0 282.0L429.3 283.6L429.8 282.5L430.6 281.0L430.9 280.4L431.4 281.4L432.2 282.8L432.6 283.6L433.0 283.3L433.8 282.4L434.6 284.0L434.7 281.5L435.4 282.6L436.2 284.1L436.4 284.2L437.0 283.9L437.8 284.4L438.5 283.1L438.6 283.1L439.4 284.6L440.2 282.6L440.7 282.5L441.0 284.4L441.8 279.5L442.3 278.2L442.6 282.0L443.4 280.4L443.4 280.4L444.2 281.2L444.5 276.6L445.0 279.3L445.6 282.5L445.8 281.4L446.6 283.2L447.2 283.6L447.4 283.6L448.2 283.9L449.0 284.1L449.4 284.2L449.8 284.1L450.6 285.8L451.4 283.7L451.6 283.6L452.2 284.9L453.0 284.0L453.7 284.2L453.8 285.0L454.6 284.0L455.4 285.7L456.2 283.7L456.5 283.6L457.0 284.6L457.8 282.9L458.6 282.5L458.6 284.5L459.4 281.1L460.2 282.6L460.8 278.7L461.0 279.7L461.8 280.8L461.9 284.2L462.6 283.7L463.4 284.3L464.1 282.5L464.2 282.4L465.0 283.1L465.7 280.9L465.8 281.0L466.6 281.6L467.3 282.5L467.4 282.5L468.2 283.7L469.0 283.2L469.8 283.8L470.0 283.6L470.6 284.2L471.4 285.1L472.2 285.8L472.2 285.8L473.0 286.2L473.8 285.6L474.2 285.5L474.4 285.8L474.6 287.2L475.4 285.7L476.2 286.5L477.0 285.6L477.6 285.5L477.8 286.5L478.6 285.5L479.4 286.6L480.2 285.5L481.0 285.5L481.0 287.1L481.8 284.7L482.6 285.6L483.4 283.0L484.2 284.7L484.3 282.1L485.0 281.1L485.8 282.1L486.0 279.6L486.6 281.1L487.4 282.1L487.7 283.8L488.2 283.8L489.0 284.8L489.8 283.8L490.6 284.1L491.1 283.8L491.4 283.3L492.2 284.3L493.0 280.9L493.8 281.5L494.5 278.7L494.6 279.0L495.4 279.5L496.2 283.8L496.2 283.8L497.0 285.2L497.8 283.8L498.6 284.3L499.4 283.8L499.5 283.8L500.2 284.8L500.9 269.5L501.0 269.7L501.8 272.4L502.1 272.0L502.6 272.7L503.4 274.9L503.8 274.5L504.2 274.9L505.0 276.4L505.8 276.6L506.3 277.1L506.6 278.6L507.4 278.1L508.0 278.7L508.2 280.3L509.0 278.1L509.8 280.9L510.5 277.1L510.6 277.0L511.4 277.9L512.2 276.0L513.0 278.2L513.1 275.4L513.8 276.8L514.6 278.0L515.4 280.0L515.6 280.4L516.2 281.3L517.0 279.4L517.8 282.3L518.1 278.7L518.6 278.5L519.4 280.5L520.2 277.7L521.0 279.9L521.5 277.1L521.8 276.9L522.6 279.7L523.4 275.6L524.2 278.9L524.9 274.5L525.0 274.4L525.8 276.3L526.6 273.2L527.4 275.6L528.2 272.1L528.3 272.0L529.0 274.1L529.8 271.5L530.6 273.5L530.8 271.1L531.4 270.7L532.2 273.3L533.0 269.7L533.3 269.5L533.8 271.5L534.6 270.8L535.4 272.8L535.9 272.0L536.2 271.8L537.0 273.7L537.8 270.7L538.4 270.3L538.6 274.0L539.4 271.3L540.2 273.9L541.0 272.9L541.8 273.7L541.8 276.0L542.6 273.2L543.4 276.5L544.2 272.1L544.3 272.0L545.0 273.3L545.5 256.8L545.8 258.0L546.6 260.2L546.8 261.9L547.4 240.5L548.2 212.0L548.2 243.8L549.0 241.6L549.0 241.6L549.8 244.6L550.2 261.9L550.6 260.7L551.4 261.6L551.9 256.8L552.2 254.7L553.0 255.6L553.6 245.0L553.8 244.3L554.6 246.1L555.3 239.0L555.4 239.4L556.2 240.1L557.0 245.0L557.0 245.0L557.8 246.2L558.6 251.3L558.7 251.7L559.4 252.0L560.3 251.7L559.7 251.7 L559.7 288.7Z" fill="#000"/></g><rect x="85.0" y="10.3" width="473.7" height="277.4" fill="none" stroke="#222" stroke-width="1.5"/><line x1="79.5" y1="24.6" x2="85.0" y2="24.6" stroke="#333" stroke-width="1.2"/><text x="77.5" y="25.2" font-size="20" fill="#1a1a1a" text-anchor="end" dominant-baseline="central">25</text><line x1="79.5" y1="49.0" x2="85.0" y2="49.0" stroke="#333" stroke-width="1.2"/><text x="77.5" y="49.6" font-size="20" fill="#1a1a1a" text-anchor="end" dominant-baseline="central">100</text><line x1="79.5" y1="81.1" x2="85.0" y2="81.1" stroke="#333" stroke-width="1.2"/><text x="77.5" y="81.7" font-size="20" fill="#1a1a1a" text-anchor="end" dominant-baseline="central">300</text><line x1="79.5" y1="114.3" x2="85.0" y2="114.3" stroke="#333" stroke-width="1.2"/><text x="77.5" y="114.9" font-size="20" fill="#1a1a1a" text-anchor="end" dominant-baseline="central">500</text><line x1="79.5" y1="154.5" x2="85.0" y2="154.5" stroke="#333" stroke-width="1.2"/><text x="77.5" y="155.1" font-size="20" fill="#1a1a1a" text-anchor="end" dominant-baseline="central">1000</text><line x1="79.5" y1="195.0" x2="85.0" y2="195.0" stroke="#333" stroke-width="1.2"/><text x="77.5" y="195.6" font-size="20" fill="#1a1a1a" text-anchor="end" dominant-baseline="central">2000</text><line x1="79.5" y1="235.6" x2="85.0" y2="235.6" stroke="#333" stroke-width="1.2"/><text x="77.5" y="236.2" font-size="20" fill="#1a1a1a" text-anchor="end" dominant-baseline="central">3000</text><line x1="79.5" y1="280.0" x2="85.0" y2="280.0" stroke="#333" stroke-width="1.2"/><text x="77.5" y="280.6" font-size="20" fill="#1a1a1a" text-anchor="end" dominant-baseline="central">5000</text><line x1="122.5" y1="287.7" x2="122.5" y2="293.2" stroke="#333" stroke-width="1.2"/><line x1="198.3" y1="287.7" x2="198.3" y2="293.2" stroke="#333" stroke-width="1.2"/><line x1="273.3" y1="287.7" x2="273.3" y2="293.2" stroke="#333" stroke-width="1.2"/><line x1="349.2" y1="287.7" x2="349.2" y2="293.2" stroke="#333" stroke-width="1.2"/><line x1="424.4" y1="287.7" x2="424.4" y2="293.2" stroke="#333" stroke-width="1.2"/><line x1="499.7" y1="287.7" x2="499.7" y2="293.2" stroke="#333" stroke-width="1.2"/><text transform="translate(16.9 151.0) rotate(-90)" font-size="23.3" fill="#000" text-anchor="middle">Depth (m)</text><rect x="566.1" y="9.3" width="16.1" height="277.4" fill="url(#cbg)" stroke="#222" stroke-width="1.2"/><line x1="582.2" y1="286.8" x2="585.5" y2="286.8" stroke="#333" stroke-width="1.2"/><text x="591.7" y="287.8" font-size="19.5" fill="#333" dominant-baseline="central">0.2</text><line x1="582.2" y1="231.3" x2="585.5" y2="231.3" stroke="#333" stroke-width="1.2"/><text x="591.7" y="232.3" font-size="19.5" fill="#333" dominant-baseline="central">0.3</text><line x1="582.2" y1="175.8" x2="585.5" y2="175.8" stroke="#333" stroke-width="1.2"/><text x="591.7" y="176.8" font-size="19.5" fill="#333" dominant-baseline="central">0.4</text><line x1="582.2" y1="120.3" x2="585.5" y2="120.3" stroke="#333" stroke-width="1.2"/><text x="591.7" y="121.3" font-size="19.5" fill="#333" dominant-baseline="central">0.5</text><line x1="582.2" y1="64.8" x2="585.5" y2="64.8" stroke="#333" stroke-width="1.2"/><text x="591.7" y="65.8" font-size="19.5" fill="#333" dominant-baseline="central">0.6</text><line x1="582.2" y1="9.4" x2="585.5" y2="9.4" stroke="#333" stroke-width="1.2"/><text x="591.7" y="10.4" font-size="19.5" fill="#333" dominant-baseline="central">0.7</text><g clip-path="url(#cpb)"><path d="M735.7 288.4L736.7 263.8L737.5 263.8L737.5 265.3L738.3 264.4L739.1 265.3L739.2 264.9L739.9 264.6L740.7 267.0L741.3 263.8L741.5 264.2L742.3 265.0L742.4 266.0L743.1 263.9L743.9 266.0L744.0 261.1L744.7 263.6L745.1 264.9L745.5 265.2L746.3 257.3L746.8 254.1L747.1 257.9L747.8 262.7L747.9 262.4L748.7 264.4L749.5 256.3L749.5 256.3L750.3 256.9L750.6 261.6L751.1 257.9L751.9 259.7L752.2 249.8L752.7 254.7L753.3 260.5L753.5 255.4L754.3 257.9L754.9 256.3L755.1 258.6L755.9 255.7L756.0 255.7L756.7 257.5L757.1 261.6L757.5 258.7L758.2 261.7L758.6 249.8L759.0 249.2L759.7 248.1L759.8 250.0L760.6 249.0L761.3 249.8L761.4 250.2L762.2 245.5L762.9 242.2L763.0 247.9L763.8 233.5L764.2 229.7L764.6 236.9L765.3 240.0L765.4 239.9L766.2 242.1L767.0 238.6L767.3 238.4L767.8 240.3L768.4 241.1L768.6 240.1L769.4 243.5L769.5 235.6L770.2 239.0L770.5 240.5L771.0 239.7L771.8 237.6L772.2 236.7L772.6 240.7L773.4 231.8L773.8 230.2L774.2 233.2L775.0 227.0L775.4 225.9L775.8 227.9L776.6 220.6L777.1 218.3L777.4 221.4L778.2 220.9L778.7 222.1L779.0 222.4L779.8 223.2L780.3 223.7L780.6 226.2L781.4 228.2L781.9 230.2L782.2 229.2L783.0 233.0L783.6 234.6L783.8 235.3L784.6 235.9L785.2 236.7L785.4 238.3L786.2 237.4L786.8 237.8L787.0 239.0L787.8 239.7L788.5 241.1L788.6 241.9L789.4 242.3L790.1 243.2L790.2 242.9L791.0 243.8L791.7 244.3L791.8 244.5L792.6 244.9L793.3 245.4L793.4 246.0L794.2 247.7L795.0 249.8L795.0 250.2L795.8 252.9L796.1 254.1L796.6 254.7L797.1 241.6L797.4 246.2L798.2 258.4L798.2 247.6L799.0 259.4L799.8 261.6L799.9 260.5L800.6 256.0L800.9 254.1L801.3 257.9L802.1 259.9L802.5 261.6L802.9 261.3L803.7 262.5L804.1 262.7L804.5 265.3L805.3 261.1L805.7 260.5L806.1 263.7L806.9 262.1L807.4 262.7L807.7 263.3L808.4 266.0L808.5 265.7L809.3 268.0L809.5 262.7L810.1 263.5L810.9 265.6L811.2 264.9L811.7 264.6L812.5 267.7L812.8 263.8L813.3 261.7L813.7 260.0L814.1 264.4L814.9 260.5L815.0 260.5L815.7 261.9L815.9 273.6L816.5 274.4L817.3 277.8L817.5 275.7L818.1 274.3L818.9 275.1L819.7 270.3L819.7 270.3L820.5 272.1L821.3 270.0L821.8 269.8L822.1 272.7L822.9 272.9L823.5 274.6L823.7 273.9L824.5 273.3L825.1 272.5L825.3 275.3L826.1 274.3L826.9 274.9L827.3 276.3L827.7 276.7L828.5 279.2L828.9 277.9L829.3 278.2L830.1 281.0L830.5 279.0L830.9 279.1L831.7 281.3L832.2 279.5L832.5 278.0L833.3 281.1L833.8 271.4L834.1 273.8L834.9 275.2L834.9 280.1L835.7 280.1L836.5 281.4L836.5 280.1L837.3 279.0L838.1 281.3L838.1 277.9L838.9 272.0L839.7 274.2L840.0 263.8L840.5 268.9L841.3 270.7L841.4 277.9L842.1 279.4L842.9 282.4L843.0 281.2L843.7 278.6L844.4 281.9L845.1 273.0L845.2 273.6L846.0 275.5L846.2 279.0L846.8 279.6L847.6 282.1L848.3 281.2L848.4 281.3L849.2 281.6L850.0 282.0L850.5 282.2L850.8 283.3L851.6 283.7L852.1 284.4L852.4 284.9L853.2 282.8L854.0 284.5L854.3 281.2L854.8 282.6L855.6 284.0L855.9 285.5L856.4 285.8L857.2 286.4L858.0 286.6L858.1 286.6L858.8 287.4L859.6 286.6L860.4 287.4L861.2 286.6L861.4 286.6L862.0 286.9L862.8 282.8L863.0 282.2L863.6 283.7L864.1 274.1L864.4 276.1L865.2 277.1L865.2 281.2L866.0 280.8L866.8 281.2L867.3 280.1L867.6 279.7L868.4 280.4L869.2 277.8L869.5 277.4L870.0 280.6L870.8 280.5L871.1 281.2L871.6 280.9L872.4 279.9L873.2 281.2L873.3 279.0L874.0 278.5L874.8 280.2L874.9 277.9L875.6 277.3L876.4 280.4L876.6 276.3L877.2 275.8L878.0 276.6L878.7 274.6L878.8 274.1L879.6 276.0L879.8 269.2L880.4 269.6L881.2 271.8L881.5 270.3L882.0 271.4L882.8 274.5L883.1 273.6L883.6 270.6L884.2 267.0L884.4 273.6L885.2 269.8L885.8 271.4L886.0 272.9L886.8 267.4L887.3 264.9L887.5 268.7L888.3 259.0L888.4 258.4L889.1 260.7L889.5 263.8L889.9 261.7L890.7 263.2L890.8 256.8L891.5 264.9L891.5 264.9L892.2 264.9L892.3 268.1L893.1 268.0L893.2 268.3L893.9 271.4L894.7 245.3L894.9 242.2L895.5 246.2L896.2 256.6L896.3 256.9L897.1 257.9L897.9 262.0L898.3 263.2L898.7 263.2L899.5 264.9L900.3 266.1L900.8 266.6L901.1 265.3L901.9 267.3L902.7 258.3L903.5 260.6L903.7 254.0L904.3 260.6L905.0 268.3L905.1 261.9L905.9 268.3L906.7 268.8L906.7 268.3L907.5 248.1L907.9 238.0L908.3 249.9L908.9 275.1L909.1 274.5L909.9 276.1L910.7 269.8L910.9 269.2L911.5 272.0L912.3 265.1L913.1 268.5L913.5 261.6L913.9 260.4L914.7 262.9L915.1 256.6L915.5 258.5L916.3 260.6L916.8 264.9L917.1 264.7L917.9 267.1L918.7 263.7L919.4 263.2L919.5 266.2L920.3 261.4L921.1 262.1L921.9 258.3L921.9 258.3L922.7 261.4L923.3 242.2L923.5 245.7L924.3 248.6L924.4 261.6L925.1 263.0L925.9 266.1L926.1 264.9L926.7 258.2L927.3 251.5L927.5 261.1L928.3 256.3L928.7 258.3L929.1 258.0L929.9 255.9L930.3 254.9L930.6 257.6L931.4 247.9L931.9 244.8L932.2 248.7L933.0 237.1L933.6 232.9L933.8 239.5L934.6 231.1L935.0 230.4L935.4 231.8L936.2 244.8L936.2 244.8L937.0 245.5L937.8 252.7L937.9 253.2L938.6 253.8L939.4 257.2L940.2 258.2L940.4 259.9L941.0 256.4L941.7 252.4L941.8 258.0L942.6 259.3L942.9 261.6L943.4 260.0L944.2 260.3L944.6 259.9L945.0 260.8L945.8 202.6L945.8 202.6L946.6 203.5L946.8 191.6L947.4 194.5L948.0 197.5L948.2 195.3L949.0 200.3L949.2 200.9L949.8 201.9L950.5 253.2L950.6 253.9L951.4 254.4L952.2 264.9L952.2 264.9L953.0 268.1L953.8 261.8L953.9 261.6L954.6 264.2L955.4 270.5L955.6 271.7L956.2 271.5L957.0 273.1L957.8 274.4L958.1 274.2L958.6 273.7L959.4 275.3L960.2 272.2L960.7 271.7L961.0 273.8L961.8 260.1L962.3 254.9L962.6 261.0L963.4 248.9L964.0 245.6L964.2 251.9L965.0 264.5L965.2 268.3L965.8 268.0L966.6 273.7L967.4 275.6L967.4 276.8L968.2 277.9L969.0 279.8L969.4 277.6L969.4 279.5L969.8 278.1L970.6 278.8L971.4 279.9L971.6 280.1L972.2 280.7L973.0 280.8L973.6 281.2L973.7 281.6L974.5 277.7L975.3 279.0L975.3 274.6L976.1 275.2L976.9 278.2L976.9 275.7L977.7 278.5L978.5 279.4L978.5 281.2L979.3 277.6L980.1 278.2L980.2 273.6L980.9 272.7L981.7 276.0L981.8 271.4L982.5 269.0L982.9 267.6L983.3 271.1L984.1 268.0L984.5 268.1L984.9 268.9L985.7 268.5L986.5 270.6L986.7 268.7L987.3 268.9L988.1 269.5L988.8 269.2L988.9 269.3L989.7 271.4L990.5 270.5L991.0 270.8L991.3 273.9L992.1 271.6L992.6 271.9L992.9 274.7L993.7 271.7L994.5 274.3L994.8 271.4L995.3 270.4L996.1 271.7L996.4 268.1L996.9 266.2L997.5 263.8L997.7 267.8L998.5 263.8L999.2 263.8L999.3 264.8L1000.1 267.3L1000.2 267.6L1000.9 270.1L1001.7 265.3L1001.9 264.9L1002.5 267.4L1003.3 264.2L1004.0 263.8L1004.1 267.0L1004.9 260.9L1005.7 262.4L1005.7 258.4L1006.5 262.3L1006.8 263.8L1007.3 263.5L1008.1 265.6L1008.4 266.0L1008.9 268.6L1009.7 268.6L1010.0 269.2L1010.5 272.1L1011.1 271.4L1011.3 272.6L1012.1 275.7L1012.2 277.9L1012.9 276.0L1013.7 279.0L1013.8 273.6L1014.5 272.9L1014.9 272.5L1015.3 275.9L1016.0 277.9L1016.0 277.6L1016.8 280.4L1017.5 273.6L1017.6 273.9L1018.4 275.1L1019.1 277.9L1019.2 277.7L1020.0 279.8L1020.8 274.6L1020.8 274.6L1021.6 276.2L1021.9 272.5L1022.4 275.2L1022.9 277.9L1023.2 275.8L1024.0 279.0L1024.6 279.5L1024.8 279.5L1025.6 279.5L1026.2 279.5L1026.4 280.9L1027.2 277.8L1028.0 279.1L1028.4 275.7L1028.8 275.6L1029.6 278.2L1030.0 275.2L1030.4 275.1L1031.2 278.4L1031.6 274.6L1032.0 274.4L1032.8 276.2L1033.3 273.6L1033.6 273.4L1034.4 276.7L1034.9 272.5L1035.2 273.3L1036.0 276.7L1036.0 275.2L1036.8 278.0L1037.1 279.0L1037.6 281.3L1038.4 279.9L1038.7 280.1L1039.2 281.5L1040.0 281.0L1040.3 281.2L1040.8 281.6L1041.6 282.0L1041.9 282.2L1042.4 282.6L1043.2 281.9L1044.0 282.5L1044.1 281.7L1044.8 282.2L1045.6 282.8L1046.3 283.3L1046.4 283.2L1047.2 282.2L1047.2 284.4L1048.0 279.9L1048.3 279.0L1048.8 283.1L1049.4 283.3L1049.6 283.0L1050.4 284.5L1051.2 280.6L1051.5 280.1L1052.0 281.5L1052.6 282.8L1052.8 282.7L1053.6 283.9L1054.4 281.9L1054.8 281.7L1055.2 283.4L1055.9 283.3L1056.0 283.3L1056.8 283.6L1057.6 282.5L1058.1 282.2L1058.4 283.7L1059.1 280.5L1059.9 282.1L1060.1 279.0L1060.7 281.4L1061.2 283.3L1061.5 282.8L1062.3 282.8L1063.1 284.1L1063.4 282.2L1063.9 282.5L1064.7 283.4L1065.5 283.3L1065.6 283.3L1066.3 283.8L1067.1 283.8L1067.9 285.3L1068.7 284.4L1068.8 284.4L1069.5 285.1L1070.3 284.4L1071.1 285.9L1071.9 284.4L1072.1 284.4L1072.7 286.1L1073.5 284.1L1074.2 283.9L1074.3 284.9L1075.1 284.5L1075.9 285.0L1075.9 285.3L1076.7 284.2L1077.5 283.3L1077.5 285.8L1078.3 280.4L1079.1 277.4L1079.1 281.7L1079.9 281.7L1080.2 283.3L1080.7 282.2L1081.5 280.7L1081.8 280.1L1082.3 281.2L1083.1 282.6L1083.5 283.3L1083.9 283.0L1084.7 282.1L1085.5 283.7L1085.6 281.2L1086.3 282.3L1087.1 283.8L1087.3 283.9L1087.9 283.6L1088.7 284.1L1089.4 282.8L1089.5 282.8L1090.3 284.3L1091.1 282.3L1091.6 282.2L1091.9 284.1L1092.7 279.3L1093.2 277.9L1093.5 281.7L1094.3 280.1L1094.3 280.1L1095.1 280.9L1095.4 276.3L1095.9 279.0L1096.5 282.2L1096.7 281.1L1097.5 282.9L1098.1 283.3L1098.3 283.3L1099.1 283.6L1099.9 283.9L1100.3 283.9L1100.7 283.8L1101.5 285.5L1102.2 283.4L1102.4 283.3L1103.0 284.6L1103.8 283.7L1104.5 283.9L1104.6 284.7L1105.4 283.7L1106.2 285.4L1107.0 283.4L1107.3 283.3L1107.8 284.3L1108.6 282.6L1109.4 282.2L1109.4 284.2L1110.2 280.8L1111.0 282.3L1111.6 278.4L1111.8 279.4L1112.6 280.5L1112.7 283.9L1113.4 283.4L1114.2 284.0L1114.9 282.2L1115.0 282.1L1115.8 282.8L1116.5 280.6L1116.6 280.7L1117.4 281.3L1118.1 282.2L1118.2 282.3L1119.0 283.4L1119.8 282.9L1120.6 283.5L1120.8 283.3L1121.4 283.9L1122.2 284.8L1123.0 285.5L1123.0 285.5L1123.8 285.9L1124.6 285.3L1125.0 285.2L1125.2 285.5L1125.4 286.9L1126.2 285.4L1127.0 286.2L1127.8 285.3L1128.4 285.2L1128.6 286.2L1129.4 285.2L1130.2 286.3L1131.0 285.2L1131.8 285.2L1131.8 286.8L1132.6 284.4L1133.4 285.3L1134.2 282.7L1135.0 284.4L1135.1 281.8L1135.8 280.8L1136.6 281.8L1136.8 279.3L1137.4 280.8L1138.2 281.8L1138.5 283.5L1139.0 283.5L1139.8 284.5L1140.6 283.5L1141.4 283.8L1141.9 283.5L1142.2 283.1L1143.0 284.0L1143.8 280.7L1144.6 281.2L1145.2 278.4L1145.3 278.7L1146.1 279.2L1146.9 283.5L1146.9 283.5L1147.7 285.0L1148.5 283.5L1149.3 284.0L1150.1 283.5L1150.2 283.5L1150.9 284.5L1151.6 269.2L1151.7 269.4L1152.5 272.1L1152.8 271.7L1153.3 272.5L1154.1 274.6L1154.5 274.2L1154.9 274.6L1155.7 276.1L1156.5 276.3L1157.0 276.8L1157.3 278.4L1158.1 277.9L1158.7 278.4L1158.9 280.0L1159.7 277.8L1160.5 280.6L1161.2 276.8L1161.3 276.8L1162.1 277.6L1162.9 275.7L1163.7 277.9L1163.8 275.1L1164.5 276.5L1165.3 277.8L1166.1 279.7L1166.3 280.1L1166.9 281.0L1167.7 279.2L1168.5 282.0L1168.8 278.4L1169.3 278.2L1170.1 280.2L1170.9 277.4L1171.7 279.6L1172.2 276.8L1172.5 276.6L1173.3 279.4L1174.1 275.4L1174.9 278.6L1175.6 274.2L1175.7 274.2L1176.5 276.0L1177.3 273.0L1178.1 275.3L1178.9 271.8L1179.0 271.7L1179.7 273.8L1180.5 271.2L1181.3 273.2L1181.5 270.8L1182.1 270.4L1182.9 273.0L1183.7 269.4L1184.0 269.2L1184.5 271.3L1185.3 270.5L1186.1 272.6L1186.6 271.7L1186.9 271.5L1187.7 273.5L1188.4 270.4L1189.0 270.0L1189.2 273.8L1190.0 271.0L1190.8 273.6L1191.6 272.6L1192.4 273.4L1192.4 275.8L1193.2 272.9L1194.0 276.2L1194.8 271.8L1194.9 271.7L1195.6 273.1L1196.1 256.6L1196.4 257.7L1197.2 259.9L1197.4 261.6L1198.0 240.3L1198.8 211.8L1198.8 243.6L1199.6 241.4L1199.6 241.4L1200.4 244.4L1200.8 261.6L1201.2 260.4L1202.0 261.4L1202.5 256.6L1202.8 254.5L1203.6 255.3L1204.2 244.8L1204.4 244.1L1205.2 245.9L1205.9 238.8L1206.0 239.1L1206.8 239.9L1207.6 244.8L1207.6 244.8L1208.4 246.0L1209.2 251.1L1209.3 251.5L1210.0 251.8L1210.9 251.5L1210.3 251.5 L1210.3 288.4Z" fill="#000"/></g><rect x="736.7" y="10.5" width="472.6" height="276.9" fill="none" stroke="#222" stroke-width="1.5"/><line x1="731.2" y1="24.8" x2="736.7" y2="24.8" stroke="#333" stroke-width="1.2"/><text x="729.2" y="25.4" font-size="20" fill="#1a1a1a" text-anchor="end" dominant-baseline="central">25</text><line x1="731.2" y1="49.1" x2="736.7" y2="49.1" stroke="#333" stroke-width="1.2"/><text x="729.2" y="49.7" font-size="20" fill="#1a1a1a" text-anchor="end" dominant-baseline="central">100</text><line x1="731.2" y1="81.2" x2="736.7" y2="81.2" stroke="#333" stroke-width="1.2"/><text x="729.2" y="81.8" font-size="20" fill="#1a1a1a" text-anchor="end" dominant-baseline="central">300</text><line x1="731.2" y1="114.3" x2="736.7" y2="114.3" stroke="#333" stroke-width="1.2"/><text x="729.2" y="114.9" font-size="20" fill="#1a1a1a" text-anchor="end" dominant-baseline="central">500</text><line x1="731.2" y1="154.4" x2="736.7" y2="154.4" stroke="#333" stroke-width="1.2"/><text x="729.2" y="155.0" font-size="20" fill="#1a1a1a" text-anchor="end" dominant-baseline="central">1000</text><line x1="731.2" y1="194.9" x2="736.7" y2="194.9" stroke="#333" stroke-width="1.2"/><text x="729.2" y="195.5" font-size="20" fill="#1a1a1a" text-anchor="end" dominant-baseline="central">2000</text><line x1="731.2" y1="235.4" x2="736.7" y2="235.4" stroke="#333" stroke-width="1.2"/><text x="729.2" y="236.0" font-size="20" fill="#1a1a1a" text-anchor="end" dominant-baseline="central">3000</text><line x1="731.2" y1="279.7" x2="736.7" y2="279.7" stroke="#333" stroke-width="1.2"/><text x="729.2" y="280.3" font-size="20" fill="#1a1a1a" text-anchor="end" dominant-baseline="central">5000</text><line x1="774.2" y1="287.4" x2="774.2" y2="292.9" stroke="#333" stroke-width="1.2"/><line x1="849.3" y1="287.4" x2="849.3" y2="292.9" stroke="#333" stroke-width="1.2"/><line x1="924.9" y1="287.4" x2="924.9" y2="292.9" stroke="#333" stroke-width="1.2"/><line x1="1000.5" y1="287.4" x2="1000.5" y2="292.9" stroke="#333" stroke-width="1.2"/><line x1="1075.2" y1="287.4" x2="1075.2" y2="292.9" stroke="#333" stroke-width="1.2"/><line x1="1151.2" y1="287.4" x2="1151.2" y2="292.9" stroke="#333" stroke-width="1.2"/><text transform="translate(668.6 150.9) rotate(-90)" font-size="23.3" fill="#000" text-anchor="middle">Depth (m)</text><rect x="1217.3" y="10.2" width="15.9" height="276.4" fill="url(#cbg)" stroke="#222" stroke-width="1.2"/><line x1="1233.2" y1="286.7" x2="1236.5" y2="286.7" stroke="#333" stroke-width="1.2"/><text x="1242.0" y="287.7" font-size="19.5" fill="#333" dominant-baseline="central">0</text><line x1="1233.2" y1="231.4" x2="1236.5" y2="231.4" stroke="#333" stroke-width="1.2"/><text x="1242.0" y="232.4" font-size="19.5" fill="#333" dominant-baseline="central">0.02</text><line x1="1233.2" y1="176.1" x2="1236.5" y2="176.1" stroke="#333" stroke-width="1.2"/><text x="1242.0" y="177.1" font-size="19.5" fill="#333" dominant-baseline="central">0.04</text><line x1="1233.2" y1="120.8" x2="1236.5" y2="120.8" stroke="#333" stroke-width="1.2"/><text x="1242.0" y="121.8" font-size="19.5" fill="#333" dominant-baseline="central">0.06</text><line x1="1233.2" y1="65.5" x2="1236.5" y2="65.5" stroke="#333" stroke-width="1.2"/><text x="1242.0" y="66.5" font-size="19.5" fill="#333" dominant-baseline="central">0.08</text><line x1="1233.2" y1="10.2" x2="1236.5" y2="10.2" stroke="#333" stroke-width="1.2"/><text x="1242.0" y="11.2" font-size="19.5" fill="#333" dominant-baseline="central">0.10</text><g clip-path="url(#cpc)"><path d="M1394.3 289.0L1395.3 264.3L1396.1 264.3L1396.1 265.8L1396.9 264.8L1397.7 265.8L1397.8 265.4L1398.5 265.0L1399.3 267.5L1399.9 264.3L1400.1 264.7L1400.9 265.4L1401.0 266.5L1401.7 264.4L1402.5 266.5L1402.6 261.6L1403.3 264.0L1403.7 265.4L1404.1 265.6L1404.9 257.7L1405.4 254.5L1405.7 258.4L1406.4 263.2L1406.5 262.8L1407.3 264.8L1408.1 256.7L1408.1 256.7L1408.9 257.3L1409.2 262.1L1409.7 258.4L1410.5 260.2L1410.8 250.1L1411.3 255.1L1411.9 261.0L1412.1 255.8L1413.0 258.3L1413.6 256.7L1413.8 259.1L1414.6 256.1L1414.7 256.1L1415.4 257.9L1415.8 262.1L1416.2 259.1L1417.0 262.1L1417.4 250.1L1417.8 249.5L1418.5 248.4L1418.6 250.4L1419.4 249.4L1420.1 250.1L1420.2 250.6L1421.0 245.8L1421.7 242.5L1421.8 248.2L1422.6 233.8L1423.0 229.9L1423.4 237.2L1424.1 240.3L1424.2 240.2L1425.0 242.5L1425.8 238.9L1426.1 238.7L1426.6 240.6L1427.2 241.4L1427.4 240.4L1428.2 243.8L1428.3 235.9L1429.0 239.3L1429.3 240.8L1429.8 240.0L1430.6 237.9L1431.0 237.0L1431.4 241.0L1432.2 232.1L1432.6 230.5L1433.0 233.5L1433.8 227.2L1434.2 226.1L1434.6 228.1L1435.4 220.7L1435.9 218.5L1436.2 221.6L1437.0 221.1L1437.5 222.3L1437.8 222.6L1438.6 223.4L1439.1 223.9L1439.4 226.4L1440.2 228.4L1440.7 230.5L1441.0 229.5L1441.8 233.3L1442.4 234.9L1442.6 235.6L1443.4 236.2L1444.0 237.0L1444.2 238.6L1445.0 237.7L1445.6 238.1L1445.8 239.3L1446.7 240.0L1447.4 241.4L1447.5 242.2L1448.3 242.6L1449.0 243.5L1449.1 243.3L1449.9 244.1L1450.6 244.6L1450.7 244.8L1451.5 245.2L1452.2 245.7L1452.3 246.4L1453.1 248.1L1453.9 250.1L1453.9 250.6L1454.7 253.3L1455.0 254.5L1455.5 255.1L1456.0 241.9L1456.3 246.5L1457.1 258.8L1457.1 248.0L1457.9 259.8L1458.7 262.1L1458.8 261.0L1459.5 256.4L1459.8 254.5L1460.3 258.3L1461.1 260.3L1461.5 262.1L1461.9 261.7L1462.7 262.9L1463.1 263.2L1463.5 265.8L1464.3 261.5L1464.7 261.0L1465.1 264.1L1465.9 262.5L1466.4 263.2L1466.7 263.8L1467.4 266.5L1467.5 266.2L1468.3 268.4L1468.5 263.2L1469.1 264.0L1469.9 266.1L1470.2 265.4L1470.7 265.1L1471.5 268.2L1471.8 264.3L1472.3 262.2L1472.7 260.5L1473.1 264.9L1473.9 260.9L1474.0 261.0L1474.7 262.3L1474.9 274.1L1475.5 274.9L1476.3 278.4L1476.5 276.2L1477.1 274.8L1477.9 275.6L1478.7 270.8L1478.7 270.8L1479.5 272.6L1480.4 270.4L1480.9 270.3L1481.2 273.2L1482.0 273.4L1482.6 275.1L1482.8 274.4L1483.6 273.8L1484.2 273.0L1484.4 275.8L1485.2 274.8L1486.0 275.4L1486.4 276.9L1486.8 277.3L1487.6 279.8L1488.0 278.5L1488.4 278.7L1489.2 281.5L1489.6 279.6L1490.0 279.7L1490.8 281.9L1491.3 280.1L1491.6 278.5L1492.4 281.7L1492.9 271.9L1493.2 274.3L1494.0 275.8L1494.0 280.7L1494.8 280.7L1495.6 282.0L1495.6 280.7L1496.4 279.6L1497.2 281.9L1497.2 278.5L1498.0 272.5L1498.8 274.7L1499.1 264.3L1499.6 269.4L1500.4 271.2L1500.5 278.5L1501.2 279.9L1502.0 282.9L1502.1 281.8L1502.8 279.2L1503.6 282.5L1504.3 273.5L1504.4 274.1L1505.2 276.0L1505.4 279.6L1506.0 280.2L1506.8 282.7L1507.5 281.8L1507.6 281.8L1508.4 282.2L1509.2 282.5L1509.7 282.8L1510.0 283.9L1510.8 284.3L1511.3 285.0L1511.6 285.5L1512.4 283.4L1513.2 285.1L1513.5 281.8L1514.0 283.1L1514.9 284.6L1515.2 286.1L1515.7 286.3L1516.5 287.0L1517.3 287.1L1517.4 287.2L1518.1 288.0L1518.9 287.2L1519.7 288.0L1520.5 287.2L1520.7 287.2L1521.3 287.5L1522.1 283.3L1522.3 282.8L1522.9 284.3L1523.4 274.6L1523.7 276.6L1524.5 277.6L1524.5 281.8L1525.3 281.4L1526.1 281.8L1526.6 280.7L1526.9 280.3L1527.7 281.0L1528.5 278.3L1528.8 278.0L1529.3 281.1L1530.1 281.1L1530.4 281.8L1530.9 281.5L1531.7 280.5L1532.5 281.7L1532.6 279.6L1533.3 279.1L1534.1 280.8L1534.2 278.5L1534.9 277.8L1535.7 280.9L1535.9 276.9L1536.5 276.4L1537.3 277.1L1538.0 275.1L1538.1 274.7L1538.9 276.5L1539.1 269.7L1539.7 270.1L1540.5 272.3L1540.8 270.8L1541.3 271.9L1542.1 275.0L1542.4 274.1L1542.9 271.1L1543.5 267.5L1543.7 274.1L1544.5 270.3L1545.1 271.9L1545.3 273.4L1546.1 267.9L1546.7 265.4L1546.9 269.2L1547.7 259.4L1547.8 258.8L1548.6 261.1L1549.0 264.3L1549.4 262.1L1550.2 263.7L1550.3 257.2L1551.0 265.4L1551.0 265.4L1551.7 265.4L1551.8 268.6L1552.6 268.5L1552.7 268.8L1553.4 271.9L1554.2 245.6L1554.4 242.5L1555.0 246.6L1555.7 257.0L1555.8 257.3L1556.6 258.3L1557.4 262.4L1557.8 263.7L1558.2 263.6L1559.0 265.3L1559.8 266.5L1560.3 267.1L1560.6 265.8L1561.4 267.8L1562.2 258.8L1563.0 261.0L1563.2 254.4L1563.8 261.0L1564.5 268.8L1564.6 262.3L1565.4 268.8L1566.2 269.3L1566.2 268.8L1567.0 248.5L1567.4 238.3L1567.8 250.2L1568.4 275.6L1568.6 275.1L1569.4 276.7L1570.2 270.3L1570.4 269.7L1571.0 272.5L1571.8 265.6L1572.6 269.0L1573.0 262.1L1573.4 260.8L1574.2 263.4L1574.6 257.0L1575.0 259.0L1575.8 261.0L1576.3 265.4L1576.6 265.2L1577.4 267.6L1578.2 264.2L1578.9 263.7L1579.0 266.7L1579.8 261.9L1580.6 262.6L1581.4 258.7L1581.4 258.7L1582.3 261.9L1582.9 242.5L1583.1 246.1L1583.9 248.9L1584.0 262.1L1584.7 263.5L1585.5 266.6L1585.7 265.4L1586.3 258.6L1586.9 251.8L1587.1 261.5L1587.9 256.7L1588.3 258.7L1588.7 258.4L1589.5 256.3L1590.0 255.3L1590.3 258.0L1591.1 248.3L1591.6 245.1L1591.9 249.1L1592.7 237.4L1593.3 233.2L1593.5 239.8L1594.3 231.4L1594.7 230.7L1595.1 232.1L1595.9 245.1L1595.9 245.1L1596.7 245.8L1597.5 253.1L1597.6 253.6L1598.3 254.2L1599.1 257.6L1599.9 258.6L1600.1 260.4L1600.7 256.9L1601.4 252.7L1601.5 258.4L1602.3 259.8L1602.6 262.1L1603.1 260.4L1603.9 260.8L1604.3 260.4L1604.7 261.3L1605.5 202.6L1605.5 202.6L1606.3 203.6L1606.5 191.6L1607.1 194.5L1607.7 197.5L1607.9 195.4L1608.7 200.4L1608.9 200.9L1609.5 202.0L1610.2 253.6L1610.3 254.2L1611.1 254.8L1611.9 265.4L1611.9 265.4L1612.7 268.5L1613.5 262.3L1613.6 262.1L1614.3 264.6L1615.1 271.0L1615.3 272.2L1616.0 272.0L1616.8 273.6L1617.6 274.9L1617.9 274.7L1618.4 274.3L1619.2 275.8L1620.0 272.7L1620.5 272.2L1620.8 274.3L1621.6 260.6L1622.1 255.3L1622.4 261.4L1623.2 249.2L1623.8 245.9L1624.0 252.3L1624.8 265.0L1625.0 268.8L1625.6 268.5L1626.4 274.2L1627.2 276.2L1627.2 277.4L1628.0 278.4L1628.8 280.4L1629.2 278.2L1629.2 280.1L1629.6 278.6L1630.4 279.4L1631.2 280.4L1631.4 280.7L1632.0 281.3L1632.8 281.4L1633.5 281.8L1633.6 282.2L1634.4 278.3L1635.2 279.6L1635.2 275.1L1636.0 275.7L1636.8 278.7L1636.8 276.2L1637.6 279.0L1638.4 280.0L1638.4 281.8L1639.2 278.2L1640.0 278.8L1640.1 274.1L1640.8 273.2L1641.6 276.5L1641.7 271.9L1642.4 269.5L1642.8 268.1L1643.2 271.6L1644.0 268.5L1644.4 268.6L1644.8 269.4L1645.6 268.9L1646.4 271.1L1646.6 269.2L1647.2 269.4L1648.0 269.9L1648.7 269.7L1648.8 269.8L1649.6 271.9L1650.5 271.0L1651.0 271.3L1651.3 274.4L1652.1 272.1L1652.6 272.4L1652.9 275.2L1653.7 272.2L1654.5 274.8L1654.8 271.9L1655.3 270.9L1656.1 272.2L1656.4 268.6L1656.9 266.7L1657.5 264.3L1657.7 268.3L1658.5 264.3L1659.2 264.3L1659.3 265.3L1660.1 267.7L1660.2 268.1L1660.9 270.6L1661.7 265.7L1661.9 265.4L1662.5 267.8L1663.3 264.7L1664.0 264.3L1664.1 267.5L1664.9 261.4L1665.7 262.9L1665.7 258.8L1666.5 262.8L1666.8 264.3L1667.3 264.0L1668.1 266.1L1668.4 266.5L1668.9 269.0L1669.7 269.1L1670.0 269.7L1670.5 272.6L1671.1 271.9L1671.3 273.1L1672.1 276.2L1672.2 278.5L1672.9 276.6L1673.7 279.5L1673.8 274.1L1674.5 273.4L1674.9 273.0L1675.3 276.4L1676.0 278.5L1676.1 278.2L1676.9 280.9L1677.6 274.1L1677.7 274.4L1678.5 275.6L1679.2 278.5L1679.3 278.3L1680.1 280.3L1680.9 275.1L1680.9 275.1L1681.7 276.7L1682.0 273.0L1682.5 275.7L1683.0 278.5L1683.3 276.3L1684.2 279.5L1684.8 280.1L1685.0 280.1L1685.8 280.1L1686.4 280.1L1686.6 281.4L1687.4 278.3L1688.2 279.6L1688.6 276.2L1689.0 276.1L1689.8 278.7L1690.2 275.7L1690.6 275.6L1691.4 279.0L1691.8 275.1L1692.2 274.9L1693.0 276.8L1693.5 274.1L1693.8 273.9L1694.6 277.3L1695.1 273.0L1695.4 273.8L1696.2 277.3L1696.2 275.7L1697.0 278.5L1697.3 279.6L1697.8 281.9L1698.6 280.5L1698.9 280.7L1699.4 282.1L1700.2 281.6L1700.5 281.8L1701.0 282.1L1701.8 282.6L1702.1 282.8L1702.6 283.2L1703.4 282.5L1704.2 283.0L1704.3 282.3L1705.0 282.8L1705.8 283.3L1706.5 283.9L1706.6 283.8L1707.4 282.8L1707.4 285.0L1708.2 280.4L1708.5 279.6L1709.0 283.7L1709.6 283.9L1709.8 283.6L1710.6 285.1L1711.4 281.1L1711.7 280.7L1712.2 282.1L1712.8 283.4L1713.0 283.3L1713.8 284.5L1714.6 282.5L1715.0 282.3L1715.4 283.9L1716.1 283.9L1716.2 283.8L1717.0 284.2L1717.9 283.0L1718.4 282.8L1718.7 284.3L1719.5 281.1L1720.3 282.7L1720.5 279.6L1721.1 281.9L1721.6 283.9L1721.9 283.3L1722.7 283.3L1723.5 284.7L1723.8 282.8L1724.3 283.0L1725.1 284.0L1725.9 283.8L1726.0 283.9L1726.7 284.4L1727.5 284.4L1728.3 285.8L1729.1 285.0L1729.2 285.0L1729.9 285.7L1730.7 285.0L1731.5 286.4L1732.3 285.0L1732.5 285.0L1733.1 286.7L1733.9 284.7L1734.6 284.5L1734.7 285.5L1735.5 285.1L1736.3 285.6L1736.3 285.9L1737.1 284.7L1737.9 283.9L1737.9 286.4L1738.7 280.9L1739.5 278.0L1739.5 282.3L1740.3 282.3L1740.6 283.9L1741.1 282.8L1741.9 281.3L1742.2 280.7L1742.7 281.7L1743.5 283.1L1743.9 283.9L1744.3 283.6L1745.1 282.7L1745.9 284.3L1746.0 281.8L1746.7 282.9L1747.5 284.4L1747.7 284.5L1748.3 284.2L1749.1 284.6L1749.8 283.4L1749.9 283.4L1750.7 284.8L1751.5 282.9L1752.1 282.8L1752.4 284.6L1753.2 279.8L1753.7 278.5L1754.0 282.3L1754.8 280.7L1754.8 280.7L1755.6 281.4L1755.9 276.9L1756.4 279.5L1757.0 282.8L1757.2 281.7L1758.0 283.5L1758.6 283.9L1758.8 283.9L1759.6 284.2L1760.4 284.4L1760.8 284.5L1761.2 284.4L1762.0 286.1L1762.8 283.9L1763.0 283.9L1763.6 285.2L1764.4 284.3L1765.1 284.5L1765.2 285.3L1766.0 284.3L1766.8 285.9L1767.6 283.9L1767.9 283.9L1768.4 284.9L1769.2 283.2L1770.0 282.8L1770.0 284.8L1770.8 281.4L1771.6 282.9L1772.2 279.0L1772.4 280.0L1773.2 281.1L1773.3 284.5L1774.0 283.9L1774.8 284.6L1775.5 282.8L1775.6 282.7L1776.4 283.4L1777.1 281.2L1777.2 281.3L1778.0 281.9L1778.7 282.8L1778.8 282.8L1779.6 284.0L1780.4 283.5L1781.2 284.1L1781.4 283.9L1782.0 284.5L1782.8 285.4L1783.6 286.1L1783.6 286.1L1784.4 286.5L1785.2 285.9L1785.7 285.8L1785.9 286.1L1786.1 287.5L1786.9 286.0L1787.7 286.8L1788.5 285.8L1789.1 285.8L1789.3 286.8L1790.1 285.8L1790.9 286.9L1791.7 285.8L1792.5 285.8L1792.5 287.4L1793.3 285.0L1794.1 285.8L1794.9 283.3L1795.7 284.9L1795.8 282.4L1796.5 281.3L1797.3 282.3L1797.5 279.9L1798.1 281.4L1798.9 282.4L1799.2 284.1L1799.7 284.1L1800.5 285.1L1801.3 284.1L1802.1 284.4L1802.6 284.1L1802.9 283.6L1803.7 284.5L1804.5 281.2L1805.3 281.7L1806.0 279.0L1806.1 279.3L1806.9 279.8L1807.7 284.1L1807.7 284.1L1808.5 285.5L1809.3 284.1L1810.1 284.6L1810.9 284.1L1811.0 284.1L1811.7 285.0L1812.4 269.7L1812.5 269.9L1813.3 272.6L1813.6 272.2L1814.1 273.0L1814.9 275.1L1815.3 274.7L1815.7 275.2L1816.5 276.6L1817.3 276.8L1817.8 277.4L1818.1 278.9L1818.9 278.4L1819.6 279.0L1819.8 280.6L1820.6 278.3L1821.4 281.2L1822.1 277.4L1822.2 277.3L1823.0 278.1L1823.8 276.2L1824.6 278.4L1824.7 275.6L1825.4 277.1L1826.2 278.3L1827.0 280.3L1827.2 280.7L1827.8 281.6L1828.6 279.7L1829.4 282.5L1829.7 279.0L1830.2 278.7L1831.0 280.8L1831.8 278.0L1832.6 280.2L1833.1 277.4L1833.4 277.1L1834.2 279.9L1835.0 275.9L1835.8 279.1L1836.5 274.7L1836.6 274.7L1837.4 276.5L1838.2 273.5L1839.0 275.8L1839.8 272.3L1839.9 272.2L1840.6 274.3L1841.4 271.7L1842.2 273.7L1842.4 271.3L1843.0 270.9L1843.8 273.5L1844.6 269.9L1844.9 269.7L1845.4 271.8L1846.2 271.0L1847.0 273.1L1847.5 272.2L1847.8 272.0L1848.6 274.0L1849.4 270.9L1850.0 270.5L1850.2 274.3L1851.0 271.5L1851.8 274.1L1852.6 273.1L1853.5 273.9L1853.5 276.3L1854.3 273.4L1855.1 276.7L1855.9 272.3L1856.0 272.2L1856.7 273.6L1857.2 257.0L1857.5 258.1L1858.3 260.3L1858.5 262.1L1859.1 240.6L1859.9 212.0L1859.9 244.0L1860.7 241.7L1860.7 241.7L1861.5 244.7L1861.9 262.1L1862.3 260.9L1863.1 261.8L1863.6 257.0L1863.9 254.9L1864.7 255.7L1865.3 245.1L1865.5 244.4L1866.3 246.2L1867.0 239.1L1867.1 239.4L1867.9 240.2L1868.7 245.1L1868.7 245.1L1869.5 246.3L1870.3 251.4L1870.4 251.8L1871.1 252.2L1872.0 251.8L1871.4 251.8 L1871.4 289.0Z" fill="#000"/></g><rect x="1395.3" y="9.4" width="475.1" height="278.6" fill="none" stroke="#222" stroke-width="1.5"/><line x1="1389.8" y1="23.8" x2="1395.3" y2="23.8" stroke="#333" stroke-width="1.2"/><text x="1387.8" y="24.4" font-size="20" fill="#1a1a1a" text-anchor="end" dominant-baseline="central">25</text><line x1="1389.8" y1="48.3" x2="1395.3" y2="48.3" stroke="#333" stroke-width="1.2"/><text x="1387.8" y="48.9" font-size="20" fill="#1a1a1a" text-anchor="end" dominant-baseline="central">100</text><line x1="1389.8" y1="80.5" x2="1395.3" y2="80.5" stroke="#333" stroke-width="1.2"/><text x="1387.8" y="81.1" font-size="20" fill="#1a1a1a" text-anchor="end" dominant-baseline="central">300</text><line x1="1389.8" y1="113.8" x2="1395.3" y2="113.8" stroke="#333" stroke-width="1.2"/><text x="1387.8" y="114.4" font-size="20" fill="#1a1a1a" text-anchor="end" dominant-baseline="central">500</text><line x1="1389.8" y1="154.2" x2="1395.3" y2="154.2" stroke="#333" stroke-width="1.2"/><text x="1387.8" y="154.8" font-size="20" fill="#1a1a1a" text-anchor="end" dominant-baseline="central">1000</text><line x1="1389.8" y1="194.9" x2="1395.3" y2="194.9" stroke="#333" stroke-width="1.2"/><text x="1387.8" y="195.5" font-size="20" fill="#1a1a1a" text-anchor="end" dominant-baseline="central">2000</text><line x1="1389.8" y1="235.7" x2="1395.3" y2="235.7" stroke="#333" stroke-width="1.2"/><text x="1387.8" y="236.3" font-size="20" fill="#1a1a1a" text-anchor="end" dominant-baseline="central">3000</text><line x1="1389.8" y1="280.3" x2="1395.3" y2="280.3" stroke="#333" stroke-width="1.2"/><text x="1387.8" y="280.9" font-size="20" fill="#1a1a1a" text-anchor="end" dominant-baseline="central">5000</text><line x1="1433.5" y1="288.0" x2="1433.5" y2="293.5" stroke="#333" stroke-width="1.2"/><line x1="1508.6" y1="288.0" x2="1508.6" y2="293.5" stroke="#333" stroke-width="1.2"/><line x1="1584.4" y1="288.0" x2="1584.4" y2="293.5" stroke="#333" stroke-width="1.2"/><line x1="1660.2" y1="288.0" x2="1660.2" y2="293.5" stroke="#333" stroke-width="1.2"/><line x1="1735.5" y1="288.0" x2="1735.5" y2="293.5" stroke="#333" stroke-width="1.2"/><line x1="1811.2" y1="288.0" x2="1811.2" y2="293.5" stroke="#333" stroke-width="1.2"/><text transform="translate(1327.2 150.7) rotate(-90)" font-size="23.3" fill="#000" text-anchor="middle">Depth (m)</text><rect x="1878.3" y="8.7" width="15.7" height="278.4" fill="url(#cbg)" stroke="#222" stroke-width="1.2"/><line x1="1894.0" y1="287.1" x2="1897.3" y2="287.1" stroke="#333" stroke-width="1.2"/><text x="1900.8" y="288.1" font-size="19.5" fill="#333" dominant-baseline="central">0</text><line x1="1894.0" y1="217.5" x2="1897.3" y2="217.5" stroke="#333" stroke-width="1.2"/><text x="1900.8" y="218.5" font-size="19.5" fill="#333" dominant-baseline="central">0.005</text><line x1="1894.0" y1="147.9" x2="1897.3" y2="147.9" stroke="#333" stroke-width="1.2"/><text x="1900.8" y="148.9" font-size="19.5" fill="#333" dominant-baseline="central">0.010</text><line x1="1894.0" y1="78.3" x2="1897.3" y2="78.3" stroke="#333" stroke-width="1.2"/><text x="1900.8" y="79.3" font-size="19.5" fill="#333" dominant-baseline="central">0.015</text><line x1="1894.0" y1="8.7" x2="1897.3" y2="8.7" stroke="#333" stroke-width="1.2"/><text x="1900.8" y="9.7" font-size="19.5" fill="#333" dominant-baseline="central">0.020</text><g clip-path="url(#cpd)"><path d="M84.0 592.2L85.0 567.6L85.8 567.6L85.8 569.1L86.6 568.1L87.4 569.1L87.5 568.7L88.2 568.3L89.0 570.8L89.6 567.6L89.8 568.0L90.6 568.7L90.7 569.8L91.4 567.6L92.2 569.7L92.3 564.9L93.0 567.3L93.4 568.7L93.8 568.9L94.6 561.0L95.1 557.8L95.4 561.7L96.1 566.5L96.2 566.1L97.0 568.1L97.8 560.0L97.8 560.0L98.6 560.6L98.9 565.4L99.4 561.7L100.2 563.5L100.5 553.5L101.0 558.4L101.6 564.3L101.8 559.1L102.6 561.6L103.2 560.0L103.4 562.4L104.2 559.4L104.3 559.4L105.0 561.2L105.4 565.4L105.8 562.4L106.6 565.4L107.0 553.5L107.4 552.9L108.1 551.8L108.2 553.7L109.0 552.7L109.7 553.5L109.8 553.9L110.6 549.2L111.3 545.9L111.4 551.6L112.2 537.2L112.6 533.4L113.0 540.6L113.7 543.7L113.8 543.6L114.6 545.8L115.4 542.3L115.7 542.1L116.2 544.0L116.8 544.8L117.0 543.8L117.8 547.2L117.9 539.3L118.6 542.7L118.9 544.2L119.4 543.3L120.2 541.3L120.6 540.4L121.0 544.3L121.8 535.5L122.2 533.9L122.6 536.9L123.4 530.6L123.8 529.6L124.2 531.6L125.0 524.2L125.5 522.0L125.8 525.0L126.6 524.6L127.1 525.8L127.4 526.0L128.2 526.9L128.7 527.4L129.0 529.8L129.8 531.8L130.3 533.9L130.6 532.9L131.4 536.7L132.0 538.3L132.2 539.0L133.0 539.6L133.6 540.4L133.8 542.0L134.6 541.1L135.2 541.5L135.4 542.7L136.2 543.4L136.9 544.8L137.0 545.6L137.8 545.9L138.5 546.9L138.6 546.6L139.4 547.5L140.1 548.0L140.2 548.2L141.0 548.6L141.7 549.1L141.8 549.7L142.6 551.4L143.4 553.5L143.4 553.9L144.2 556.6L144.5 557.8L145.0 558.4L145.5 545.3L145.8 549.9L146.6 562.1L146.6 551.3L147.4 563.1L148.2 565.4L148.3 564.3L149.0 559.7L149.3 557.8L149.8 561.6L150.6 563.6L151.0 565.4L151.4 565.0L152.2 566.2L152.6 566.5L153.0 569.1L153.8 564.8L154.2 564.3L154.6 567.4L155.4 565.8L155.9 566.5L156.2 567.1L156.9 569.8L157.0 569.5L157.8 571.7L158.0 566.5L158.6 567.3L159.4 569.3L159.7 568.7L160.2 568.3L161.0 571.5L161.3 567.6L161.8 565.5L162.2 563.8L162.6 568.2L163.4 564.2L163.5 564.3L164.2 565.6L164.4 577.4L165.0 578.2L165.8 581.6L166.0 579.5L166.6 578.0L167.4 578.9L168.2 574.1L168.2 574.1L169.0 575.8L169.8 573.7L170.3 573.6L170.6 576.5L171.4 576.7L172.0 578.4L172.2 577.7L173.0 577.1L173.6 576.3L173.8 579.0L174.6 578.0L175.4 578.6L175.8 580.1L176.2 580.5L177.0 583.0L177.4 581.7L177.8 582.0L178.6 584.8L179.0 582.8L179.4 582.9L180.2 585.1L180.7 583.3L181.0 581.8L181.8 584.9L182.3 575.2L182.6 577.6L183.4 579.0L183.4 583.9L184.2 583.9L185.0 585.2L185.0 583.9L185.8 582.8L186.6 585.1L186.6 581.7L187.4 575.8L188.2 578.0L188.5 567.6L189.0 572.6L189.8 574.5L189.9 581.7L190.6 583.1L191.4 586.2L191.5 585.0L192.2 582.4L193.0 585.7L193.7 576.8L193.8 577.3L194.6 579.3L194.8 582.8L195.4 583.4L196.2 585.9L196.9 585.0L197.0 585.0L197.8 585.4L198.6 585.8L199.1 586.0L199.4 587.1L200.2 587.5L200.7 588.2L201.0 588.7L201.8 586.6L202.6 588.3L202.9 585.0L203.4 586.3L204.2 587.8L204.5 589.3L205.0 589.5L205.8 590.2L206.6 590.3L206.7 590.4L207.4 591.2L208.2 590.4L209.0 591.2L209.8 590.4L210.0 590.4L210.6 590.7L211.4 586.5L211.6 586.0L212.2 587.5L212.7 577.9L213.0 579.8L213.8 580.8L213.8 585.0L214.6 584.6L215.4 585.0L215.9 583.9L216.2 583.5L217.0 584.2L217.8 581.6L218.1 581.2L218.6 584.4L219.4 584.3L219.7 585.0L220.2 584.7L221.0 583.7L221.8 584.9L221.9 582.8L222.6 582.3L223.4 584.0L223.5 581.7L224.2 581.0L225.0 584.2L225.2 580.1L225.8 579.6L226.6 580.3L227.3 578.4L227.4 577.9L228.2 579.7L228.4 573.0L229.0 573.4L229.8 575.5L230.1 574.1L230.6 575.1L231.4 578.3L231.7 577.4L232.2 574.4L232.8 570.8L233.0 577.3L233.8 573.5L234.4 575.2L234.6 576.6L235.4 571.1L236.0 568.7L236.2 572.5L237.0 562.7L237.1 562.1L237.8 564.4L238.2 567.6L238.6 565.4L239.4 567.0L239.5 560.5L240.2 568.7L240.2 568.7L240.9 568.7L241.0 571.8L241.8 571.7L241.9 572.1L242.6 575.1L243.4 549.0L243.6 545.9L244.2 549.9L244.9 560.3L245.0 560.6L245.8 561.6L246.6 565.7L247.0 567.0L247.4 566.9L248.2 568.6L249.0 569.8L249.5 570.4L249.8 569.1L250.6 571.0L251.4 562.1L252.2 564.3L252.4 557.7L253.0 564.3L253.7 572.1L253.8 565.6L254.6 572.1L255.4 572.6L255.4 572.1L256.2 551.8L256.6 541.7L257.0 553.6L257.6 578.9L257.8 578.3L258.6 579.9L259.4 573.6L259.6 573.0L260.2 575.8L261.0 568.9L261.8 572.3L262.2 565.4L262.6 564.1L263.4 566.7L263.8 560.3L264.2 562.3L265.0 564.3L265.5 568.7L265.8 568.5L266.6 570.8L267.4 567.4L268.1 567.0L268.2 570.0L269.0 565.2L269.8 565.8L270.6 562.0L270.6 562.0L271.4 565.2L272.0 545.9L272.2 549.4L273.0 552.3L273.1 565.4L273.8 566.7L274.6 569.9L274.8 568.7L275.4 561.9L276.0 555.2L276.2 564.8L277.0 560.0L277.4 562.0L277.8 561.7L278.6 559.6L279.1 558.6L279.4 561.3L280.2 551.6L280.7 548.5L281.0 552.4L281.8 540.8L282.4 536.6L282.6 543.2L283.4 534.8L283.8 534.1L284.2 535.5L285.0 548.5L285.0 548.5L285.8 549.2L286.6 556.4L286.7 556.9L287.4 557.5L288.2 561.0L289.0 561.9L289.2 563.7L289.8 560.2L290.5 556.1L290.6 561.7L291.4 563.1L291.7 565.4L292.2 563.7L293.0 564.1L293.4 563.7L293.8 564.6L294.6 506.1L294.6 506.1L295.4 507.1L295.6 495.1L296.2 498.1L296.8 501.0L297.0 498.9L297.8 503.9L298.0 504.4L298.6 505.5L299.3 556.9L299.4 557.6L300.2 558.1L301.0 568.7L301.0 568.7L301.8 571.8L302.6 565.6L302.7 565.4L303.4 567.9L304.2 574.3L304.4 575.5L305.0 575.2L305.8 576.9L306.6 578.1L306.9 578.0L307.4 577.5L308.2 579.1L309.0 576.0L309.5 575.5L309.8 577.6L310.6 563.9L311.1 558.6L311.4 564.7L312.2 552.6L312.8 549.3L313.0 555.6L313.8 568.3L314.0 572.1L314.6 571.8L315.4 577.5L316.2 579.4L316.2 580.6L317.0 581.7L317.8 583.6L318.2 581.4L318.2 583.3L318.6 581.8L319.4 582.6L320.2 583.7L320.4 583.9L321.0 584.5L321.8 584.6L322.4 585.0L322.5 585.4L323.3 581.5L324.1 582.8L324.1 578.4L324.9 578.9L325.7 581.9L325.7 579.5L326.5 582.2L327.3 583.2L327.3 585.0L328.1 581.4L328.9 582.0L329.0 577.4L329.7 576.4L330.5 579.8L330.6 575.2L331.3 572.8L331.7 571.4L332.1 574.9L332.9 571.8L333.3 571.9L333.7 572.7L334.5 572.2L335.3 574.3L335.5 572.5L336.1 572.6L336.9 573.2L337.6 573.0L337.7 573.1L338.5 575.1L339.3 574.2L339.8 574.6L340.1 577.7L340.9 575.3L341.4 575.7L341.7 578.4L342.5 575.4L343.3 578.0L343.6 575.2L344.1 574.2L344.9 575.4L345.2 571.9L345.7 569.9L346.3 567.6L346.5 571.5L347.3 567.6L348.0 567.6L348.1 568.6L348.9 571.0L349.0 571.4L349.7 573.8L350.5 569.0L350.7 568.7L351.3 571.1L352.1 567.9L352.8 567.6L352.9 570.8L353.7 564.7L354.5 566.2L354.5 562.1L355.3 566.1L355.6 567.6L356.1 567.3L356.9 569.4L357.2 569.8L357.7 572.3L358.5 572.4L358.8 573.0L359.3 575.8L359.9 575.2L360.1 576.4L360.9 579.4L361.0 581.7L361.7 579.8L362.5 582.7L362.6 577.4L363.3 576.7L363.7 576.3L364.1 579.6L364.8 581.7L364.9 581.4L365.7 584.1L366.4 577.4L366.5 577.7L367.3 578.8L368.0 581.7L368.1 581.5L368.9 583.6L369.7 578.4L369.7 578.4L370.5 580.0L370.8 576.3L371.3 579.0L371.8 581.7L372.1 579.6L372.9 582.7L373.5 583.3L373.7 583.3L374.5 583.3L375.1 583.3L375.3 584.6L376.1 581.6L376.9 582.8L377.3 579.5L377.7 579.4L378.5 581.9L378.9 579.0L379.3 578.8L380.1 582.2L380.5 578.4L380.9 578.2L381.7 580.0L382.2 577.4L382.5 577.2L383.3 580.5L383.8 576.3L384.1 577.0L384.9 580.5L384.9 579.0L385.7 581.8L386.0 582.8L386.5 585.1L387.3 583.7L387.6 583.9L388.1 585.3L388.9 584.8L389.2 585.0L389.7 585.4L390.5 585.8L390.8 586.0L391.3 586.4L392.1 585.7L392.9 586.2L393.0 585.5L393.7 586.0L394.5 586.6L395.2 587.1L395.3 587.0L396.1 586.0L396.1 588.2L396.9 583.7L397.2 582.8L397.7 586.9L398.3 587.1L398.5 586.8L399.3 588.3L400.1 584.4L400.4 583.9L400.9 585.3L401.5 586.6L401.7 586.5L402.5 587.7L403.3 585.7L403.7 585.5L404.1 587.1L404.8 587.1L404.9 587.0L405.7 587.4L406.5 586.2L407.0 586.0L407.3 587.5L408.1 584.3L408.9 585.9L409.1 582.8L409.7 585.1L410.2 587.1L410.5 586.6L411.3 586.5L412.1 587.9L412.4 586.0L412.9 586.2L413.7 587.2L414.5 587.0L414.6 587.1L415.3 587.6L416.1 587.6L416.9 589.0L417.7 588.2L417.8 588.2L418.5 588.9L419.3 588.2L420.1 589.7L420.9 588.2L421.1 588.2L421.7 589.9L422.5 587.9L423.2 587.7L423.3 588.7L424.1 588.3L424.9 588.8L424.9 589.1L425.7 587.9L426.5 587.1L426.5 589.6L427.3 584.1L428.1 581.2L428.1 585.5L428.9 585.5L429.2 587.1L429.7 586.0L430.5 584.5L430.8 583.9L431.3 584.9L432.1 586.3L432.5 587.1L432.9 586.8L433.7 585.9L434.5 587.5L434.6 585.0L435.3 586.1L436.1 587.6L436.3 587.7L436.9 587.4L437.7 587.9L438.4 586.6L438.5 586.6L439.3 588.1L440.1 586.1L440.6 586.0L440.9 587.9L441.7 583.0L442.2 581.7L442.5 585.5L443.3 583.9L443.3 583.9L444.1 584.7L444.4 580.1L444.9 582.8L445.5 586.0L445.7 584.9L446.5 586.7L447.1 587.1L447.3 587.1L448.1 587.4L448.9 587.6L449.3 587.7L449.7 587.6L450.5 589.3L451.3 587.2L451.5 587.1L452.1 588.4L452.9 587.5L453.6 587.7L453.7 588.5L454.5 587.5L455.3 589.2L456.1 587.2L456.4 587.1L456.9 588.1L457.7 586.4L458.5 586.0L458.5 588.0L459.3 584.6L460.1 586.1L460.7 582.2L460.9 583.2L461.7 584.3L461.8 587.7L462.5 587.2L463.3 587.8L464.0 586.0L464.1 585.9L464.9 586.6L465.6 584.4L465.7 584.5L466.5 585.1L467.2 586.0L467.3 586.0L468.1 587.2L468.9 586.7L469.7 587.3L469.9 587.1L470.5 587.7L471.3 588.6L472.1 589.3L472.1 589.3L472.9 589.7L473.7 589.1L474.1 589.0L474.3 589.3L474.5 590.7L475.3 589.2L476.1 590.0L476.9 589.1L477.5 589.0L477.7 590.0L478.5 589.0L479.3 590.1L480.1 589.0L480.9 589.0L480.9 590.6L481.7 588.2L482.5 589.1L483.3 586.5L484.1 588.2L484.2 585.6L484.9 584.6L485.7 585.6L485.9 583.1L486.5 584.6L487.3 585.6L487.6 587.3L488.1 587.3L488.9 588.3L489.7 587.3L490.5 587.6L491.0 587.3L491.3 586.8L492.1 587.8L492.9 584.4L493.7 585.0L494.4 582.2L494.5 582.5L495.3 583.0L496.1 587.3L496.1 587.3L496.9 588.7L497.7 587.3L498.5 587.8L499.3 587.3L499.4 587.3L500.1 588.3L500.8 573.0L500.9 573.2L501.7 575.9L502.0 575.5L502.5 576.2L503.3 578.4L503.7 578.0L504.1 578.4L504.9 579.9L505.7 580.1L506.2 580.6L506.5 582.1L507.3 581.6L507.9 582.2L508.1 583.8L508.9 581.6L509.7 584.4L510.4 580.6L510.5 580.5L511.3 581.3L512.1 579.5L512.9 581.7L513.0 578.9L513.7 580.3L514.5 581.5L515.3 583.5L515.5 583.9L516.1 584.8L516.9 582.9L517.7 585.8L518.0 582.2L518.5 582.0L519.3 584.0L520.1 581.2L520.9 583.4L521.4 580.6L521.7 580.4L522.5 583.1L523.3 579.1L524.1 582.4L524.8 578.0L524.9 577.9L525.7 579.7L526.5 576.7L527.3 579.1L528.1 575.6L528.2 575.5L528.9 577.6L529.7 574.9L530.5 577.0L530.7 574.6L531.3 574.2L532.1 576.8L532.9 573.2L533.2 573.0L533.7 575.0L534.5 574.2L535.3 576.3L535.8 575.5L536.1 575.3L536.9 577.2L537.7 574.2L538.3 573.8L538.5 577.5L539.3 574.8L540.1 577.4L540.9 576.4L541.7 577.2L541.7 579.5L542.5 576.6L543.3 580.0L544.1 575.6L544.2 575.5L544.9 576.8L545.4 560.3L545.7 561.5L546.5 563.6L546.7 565.4L547.3 544.0L548.1 515.4L548.1 547.3L548.9 545.1L548.9 545.1L549.7 548.1L550.1 565.4L550.5 564.2L551.3 565.1L551.8 560.3L552.1 558.2L552.9 559.1L553.5 548.5L553.7 547.8L554.5 549.6L555.2 542.5L555.3 542.8L556.1 543.5L556.9 548.5L556.9 548.5L557.7 549.7L558.5 554.8L558.6 555.2L559.3 555.5L560.2 555.2L559.6 555.2 L559.6 592.2Z" fill="#000"/></g><rect x="85.0" y="313.6" width="473.6" height="277.6" fill="none" stroke="#222" stroke-width="1.5"/><line x1="79.5" y1="327.9" x2="85.0" y2="327.9" stroke="#333" stroke-width="1.2"/><text x="77.5" y="328.5" font-size="20" fill="#1a1a1a" text-anchor="end" dominant-baseline="central">25</text><line x1="79.5" y1="352.3" x2="85.0" y2="352.3" stroke="#333" stroke-width="1.2"/><text x="77.5" y="352.9" font-size="20" fill="#1a1a1a" text-anchor="end" dominant-baseline="central">100</text><line x1="79.5" y1="384.5" x2="85.0" y2="384.5" stroke="#333" stroke-width="1.2"/><text x="77.5" y="385.1" font-size="20" fill="#1a1a1a" text-anchor="end" dominant-baseline="central">300</text><line x1="79.5" y1="417.7" x2="85.0" y2="417.7" stroke="#333" stroke-width="1.2"/><text x="77.5" y="418.3" font-size="20" fill="#1a1a1a" text-anchor="end" dominant-baseline="central">500</text><line x1="79.5" y1="457.9" x2="85.0" y2="457.9" stroke="#333" stroke-width="1.2"/><text x="77.5" y="458.5" font-size="20" fill="#1a1a1a" text-anchor="end" dominant-baseline="central">1000</text><line x1="79.5" y1="498.4" x2="85.0" y2="498.4" stroke="#333" stroke-width="1.2"/><text x="77.5" y="499.0" font-size="20" fill="#1a1a1a" text-anchor="end" dominant-baseline="central">2000</text><line x1="79.5" y1="539.1" x2="85.0" y2="539.1" stroke="#333" stroke-width="1.2"/><text x="77.5" y="539.7" font-size="20" fill="#1a1a1a" text-anchor="end" dominant-baseline="central">3000</text><line x1="79.5" y1="583.5" x2="85.0" y2="583.5" stroke="#333" stroke-width="1.2"/><text x="77.5" y="584.1" font-size="20" fill="#1a1a1a" text-anchor="end" dominant-baseline="central">5000</text><line x1="122.5" y1="591.2" x2="122.5" y2="596.7" stroke="#333" stroke-width="1.2"/><text x="122.2" y="622.0" font-size="20" fill="#1a1a1a" text-anchor="middle">60°S</text><line x1="198.3" y1="591.2" x2="198.3" y2="596.7" stroke="#333" stroke-width="1.2"/><text x="202.6" y="622.0" font-size="20" fill="#1a1a1a" text-anchor="middle">40°S</text><line x1="273.3" y1="591.2" x2="273.3" y2="596.7" stroke="#333" stroke-width="1.2"/><text x="278.7" y="622.0" font-size="20" fill="#1a1a1a" text-anchor="middle">20°S</text><line x1="349.2" y1="591.2" x2="349.2" y2="596.7" stroke="#333" stroke-width="1.2"/><text x="352.6" y="622.0" font-size="20" fill="#1a1a1a" text-anchor="middle">EQ</text><line x1="424.4" y1="591.2" x2="424.4" y2="596.7" stroke="#333" stroke-width="1.2"/><text x="426.9" y="622.0" font-size="20" fill="#1a1a1a" text-anchor="middle">20°N</text><line x1="499.7" y1="591.2" x2="499.7" y2="596.7" stroke="#333" stroke-width="1.2"/><text x="503.6" y="622.0" font-size="20" fill="#1a1a1a" text-anchor="middle">40°N</text><text transform="translate(16.9 454.4) rotate(-90)" font-size="23.3" fill="#000" text-anchor="middle">Depth (m)</text><text x="317.2" y="660.8" font-size="23.3" fill="#000" text-anchor="middle">Latitude</text><rect x="566.2" y="312.7" width="15.6" height="277.8" fill="url(#cbg)" stroke="#222" stroke-width="1.2"/><line x1="581.8" y1="590.5" x2="585.1" y2="590.5" stroke="#333" stroke-width="1.2"/><text x="591.9" y="591.5" font-size="19.5" fill="#333" dominant-baseline="central">0</text><line x1="581.8" y1="534.9" x2="585.1" y2="534.9" stroke="#333" stroke-width="1.2"/><text x="591.9" y="535.9" font-size="19.5" fill="#333" dominant-baseline="central">0.002</text><line x1="581.8" y1="479.4" x2="585.1" y2="479.4" stroke="#333" stroke-width="1.2"/><text x="591.9" y="480.4" font-size="19.5" fill="#333" dominant-baseline="central">0.004</text><line x1="581.8" y1="423.8" x2="585.1" y2="423.8" stroke="#333" stroke-width="1.2"/><text x="591.9" y="424.8" font-size="19.5" fill="#333" dominant-baseline="central">0.006</text><line x1="581.8" y1="368.3" x2="585.1" y2="368.3" stroke="#333" stroke-width="1.2"/><text x="591.9" y="369.3" font-size="19.5" fill="#333" dominant-baseline="central">0.008</text><line x1="581.8" y1="312.7" x2="585.1" y2="312.7" stroke="#333" stroke-width="1.2"/><text x="591.9" y="313.7" font-size="19.5" fill="#333" dominant-baseline="central">0.010</text><g clip-path="url(#cpe)"><path d="M735.8 592.2L736.8 567.6L737.6 567.6L737.6 569.1L738.4 568.1L739.2 569.1L739.3 568.7L740.0 568.3L740.8 570.8L741.4 567.6L741.6 568.0L742.4 568.7L742.5 569.8L743.2 567.6L744.0 569.8L744.1 564.9L744.8 567.3L745.2 568.7L745.6 568.9L746.4 561.0L746.9 557.8L747.2 561.7L747.9 566.5L748.0 566.1L748.8 568.1L749.6 560.0L749.6 560.0L750.4 560.6L750.7 565.4L751.2 561.7L752.0 563.5L752.3 553.5L752.8 558.4L753.4 564.3L753.6 559.1L754.4 561.6L755.0 560.0L755.2 562.4L756.0 559.4L756.1 559.4L756.8 561.2L757.2 565.4L757.6 562.4L758.4 565.4L758.8 553.5L759.2 552.9L759.9 551.8L760.0 553.7L760.8 552.7L761.5 553.5L761.6 553.9L762.4 549.2L763.1 545.9L763.2 551.6L764.0 537.2L764.4 533.4L764.8 540.6L765.5 543.7L765.6 543.6L766.4 545.8L767.1 542.3L767.4 542.1L767.9 544.0L768.5 544.8L768.7 543.8L769.5 547.2L769.6 539.3L770.3 542.7L770.6 544.2L771.1 543.4L771.9 541.3L772.3 540.4L772.7 544.4L773.5 535.5L773.9 533.9L774.3 536.9L775.1 530.7L775.5 529.6L775.9 531.6L776.7 524.2L777.2 522.0L777.5 525.1L778.3 524.6L778.8 525.8L779.1 526.0L779.9 526.9L780.4 527.4L780.7 529.8L781.5 531.8L782.0 533.9L782.3 532.9L783.1 536.7L783.7 538.3L783.9 539.0L784.7 539.6L785.3 540.4L785.5 542.0L786.3 541.1L786.9 541.5L787.1 542.7L787.9 543.4L788.6 544.8L788.7 545.6L789.5 546.0L790.2 546.9L790.3 546.7L791.1 547.5L791.8 548.0L791.9 548.2L792.7 548.6L793.4 549.1L793.5 549.7L794.3 551.4L795.1 553.5L795.1 554.0L795.9 556.6L796.2 557.8L796.7 558.4L797.2 545.3L797.5 549.9L798.3 562.1L798.3 551.3L799.1 563.1L799.9 565.4L800.0 564.3L800.7 559.7L801.0 557.8L801.5 561.6L802.3 563.6L802.7 565.4L803.1 565.0L803.9 566.2L804.3 566.5L804.7 569.1L805.5 564.8L805.9 564.3L806.3 567.4L807.1 565.8L807.6 566.5L807.9 567.1L808.6 569.8L808.7 569.5L809.5 571.7L809.7 566.5L810.3 567.3L811.1 569.3L811.4 568.7L811.9 568.3L812.7 571.5L813.0 567.6L813.5 565.5L813.9 563.8L814.3 568.2L815.1 564.3L815.2 564.3L815.9 565.6L816.1 577.4L816.7 578.2L817.5 581.6L817.7 579.5L818.3 578.0L819.1 578.9L819.9 574.1L819.9 574.1L820.7 575.8L821.5 573.7L822.0 573.6L822.3 576.5L823.1 576.7L823.7 578.4L823.9 577.7L824.7 577.1L825.3 576.3L825.5 579.1L826.2 578.0L827.0 578.6L827.4 580.1L827.8 580.5L828.6 583.0L829.0 581.7L829.4 582.0L830.2 584.8L830.6 582.8L831.0 582.9L831.8 585.1L832.3 583.3L832.6 581.8L833.4 584.9L833.9 575.2L834.2 577.6L835.0 579.0L835.0 583.9L835.8 583.9L836.6 585.2L836.6 583.9L837.4 582.8L838.2 585.1L838.2 581.7L839.0 575.8L839.8 578.0L840.1 567.6L840.6 572.6L841.4 574.5L841.5 581.7L842.2 583.1L843.0 586.2L843.1 585.0L843.8 582.4L844.6 585.7L845.3 576.8L845.4 577.3L846.2 579.3L846.4 582.8L847.0 583.4L847.8 585.9L848.5 585.0L848.6 585.0L849.4 585.4L850.2 585.8L850.7 586.0L851.0 587.1L851.8 587.5L852.3 588.2L852.6 588.7L853.4 586.6L854.2 588.3L854.5 585.0L855.0 586.3L855.8 587.8L856.1 589.3L856.6 589.5L857.4 590.2L858.2 590.3L858.3 590.4L859.0 591.2L859.8 590.4L860.6 591.2L861.4 590.4L861.6 590.4L862.2 590.7L863.0 586.5L863.2 586.0L863.8 587.5L864.3 577.9L864.6 579.8L865.4 580.8L865.4 585.0L866.2 584.6L867.0 585.0L867.5 583.9L867.8 583.5L868.6 584.2L869.4 581.6L869.7 581.2L870.2 584.4L871.0 584.3L871.3 585.0L871.8 584.7L872.6 583.7L873.4 584.9L873.5 582.8L874.2 582.3L875.0 584.0L875.1 581.7L875.8 581.0L876.6 584.2L876.8 580.1L877.4 579.6L878.2 580.4L878.9 578.4L879.0 577.9L879.8 579.8L880.0 573.0L880.6 573.4L881.4 575.5L881.7 574.1L882.2 575.1L883.0 578.3L883.3 577.4L883.8 574.4L884.4 570.8L884.6 577.4L885.3 573.5L885.9 575.2L886.1 576.6L886.9 571.1L887.5 568.7L887.7 572.5L888.5 562.7L888.6 562.1L889.3 564.4L889.7 567.6L890.1 565.4L890.9 567.0L891.0 560.5L891.7 568.7L891.7 568.7L892.4 568.7L892.5 571.8L893.3 571.8L893.4 572.1L894.1 575.1L894.9 549.0L895.1 545.9L895.7 549.9L896.4 560.3L896.5 560.6L897.3 561.6L898.1 565.7L898.5 567.0L898.9 566.9L899.7 568.6L900.5 569.8L901.0 570.4L901.3 569.1L902.1 571.0L902.9 562.1L903.7 564.3L903.9 557.7L904.5 564.3L905.2 572.1L905.3 565.6L906.1 572.1L906.9 572.6L906.9 572.1L907.7 551.8L908.1 541.7L908.5 553.6L909.1 578.9L909.3 578.3L910.1 579.9L910.9 573.6L911.1 573.0L911.7 575.8L912.5 568.9L913.3 572.3L913.7 565.4L914.1 564.1L914.9 566.7L915.3 560.3L915.7 562.3L916.5 564.3L917.0 568.7L917.3 568.5L918.1 570.8L918.9 567.4L919.6 567.0L919.7 570.0L920.5 565.2L921.3 565.9L922.1 562.0L922.1 562.0L922.9 565.2L923.5 545.9L923.7 549.4L924.5 552.3L924.6 565.4L925.3 566.8L926.1 569.9L926.3 568.7L926.9 561.9L927.5 555.2L927.7 564.8L928.5 560.0L928.9 562.0L929.3 561.7L930.1 559.6L930.6 558.6L930.9 561.3L931.7 551.6L932.2 548.5L932.5 552.5L933.3 540.8L933.9 536.6L934.1 543.2L934.9 534.8L935.3 534.1L935.7 535.5L936.5 548.5L936.5 548.5L937.3 549.2L938.1 556.4L938.2 556.9L938.9 557.5L939.7 561.0L940.5 562.0L940.7 563.7L941.3 560.2L942.0 556.1L942.1 561.7L942.9 563.1L943.2 565.4L943.7 563.7L944.4 564.1L944.8 563.7L945.2 564.6L946.0 506.2L946.0 506.2L946.8 507.1L947.0 495.2L947.6 498.1L948.2 501.1L948.4 498.9L949.2 503.9L949.4 504.5L950.0 505.5L950.7 556.9L950.8 557.6L951.6 558.2L952.4 568.7L952.4 568.7L953.2 571.8L954.0 565.6L954.1 565.4L954.8 567.9L955.6 574.3L955.8 575.5L956.4 575.3L957.2 576.9L958.0 578.2L958.3 578.0L958.8 577.5L959.6 579.1L960.4 576.0L960.9 575.5L961.2 577.6L962.0 563.9L962.5 558.6L962.8 564.7L963.6 552.6L964.2 549.3L964.4 555.6L965.2 568.3L965.4 572.1L966.0 571.8L966.8 577.5L967.6 579.4L967.6 580.6L968.4 581.7L969.2 583.6L969.6 581.4L969.6 583.3L970.0 581.9L970.8 582.6L971.6 583.7L971.8 583.9L972.4 584.5L973.2 584.6L973.9 585.0L974.0 585.4L974.8 581.5L975.6 582.8L975.6 578.4L976.4 578.9L977.2 581.9L977.2 579.5L978.0 582.2L978.8 583.2L978.8 585.0L979.6 581.4L980.4 582.0L980.5 577.4L981.2 576.4L982.0 579.8L982.1 575.2L982.8 572.8L983.2 571.4L983.6 574.9L984.4 571.8L984.8 571.9L985.2 572.7L986.0 572.2L986.8 574.4L987.0 572.5L987.6 572.6L988.4 573.2L989.1 573.0L989.2 573.1L990.0 575.2L990.8 574.2L991.3 574.6L991.6 577.7L992.4 575.4L992.9 575.7L993.2 578.4L994.0 575.4L994.8 578.0L995.1 575.2L995.6 574.2L996.4 575.4L996.7 571.9L997.2 569.9L997.8 567.6L998.0 571.5L998.8 567.6L999.5 567.6L999.6 568.6L1000.4 571.0L1000.5 571.4L1001.2 573.8L1002.0 569.0L1002.2 568.7L1002.8 571.1L1003.5 568.0L1004.2 567.6L1004.3 570.8L1005.1 564.7L1005.9 566.2L1005.9 562.1L1006.7 566.1L1007.0 567.6L1007.5 567.3L1008.3 569.4L1008.6 569.8L1009.1 572.3L1009.9 572.4L1010.2 573.0L1010.7 575.8L1011.3 575.2L1011.5 576.4L1012.3 579.4L1012.4 581.7L1013.1 579.8L1013.9 582.7L1014.0 577.4L1014.7 576.7L1015.1 576.3L1015.5 579.7L1016.2 581.7L1016.3 581.4L1017.1 584.1L1017.8 577.4L1017.9 577.7L1018.7 578.8L1019.4 581.7L1019.5 581.5L1020.3 583.6L1021.1 578.4L1021.1 578.4L1021.9 580.0L1022.2 576.3L1022.7 579.0L1023.2 581.7L1023.5 579.6L1024.3 582.7L1024.9 583.3L1025.1 583.3L1025.9 583.3L1026.5 583.3L1026.7 584.6L1027.5 581.6L1028.3 582.8L1028.7 579.5L1029.1 579.4L1029.9 581.9L1030.3 579.0L1030.7 578.8L1031.5 582.2L1031.9 578.4L1032.3 578.2L1033.1 580.0L1033.6 577.4L1033.9 577.2L1034.7 580.5L1035.2 576.3L1035.5 577.0L1036.3 580.5L1036.3 579.0L1037.1 581.8L1037.4 582.8L1037.9 585.1L1038.7 583.7L1039.0 583.9L1039.5 585.3L1040.3 584.8L1040.6 585.0L1041.1 585.4L1041.9 585.8L1042.2 586.0L1042.7 586.4L1043.5 585.7L1044.3 586.2L1044.4 585.5L1045.1 586.0L1045.9 586.6L1046.6 587.1L1046.7 587.0L1047.5 586.0L1047.5 588.2L1048.3 583.7L1048.6 582.8L1049.1 586.9L1049.7 587.1L1049.9 586.8L1050.7 588.3L1051.5 584.4L1051.8 583.9L1052.3 585.3L1052.9 586.6L1053.1 586.5L1053.9 587.7L1054.7 585.7L1055.1 585.5L1055.5 587.1L1056.2 587.1L1056.3 587.0L1057.1 587.4L1057.9 586.2L1058.4 586.0L1058.7 587.5L1059.5 584.3L1060.3 585.9L1060.5 582.8L1061.1 585.1L1061.6 587.1L1061.9 586.6L1062.6 586.5L1063.4 587.9L1063.7 586.0L1064.2 586.2L1065.0 587.2L1065.8 587.0L1065.9 587.1L1066.6 587.6L1067.4 587.6L1068.2 589.0L1069.0 588.2L1069.1 588.2L1069.8 588.9L1070.6 588.2L1071.4 589.7L1072.2 588.2L1072.4 588.2L1073.0 589.9L1073.8 587.9L1074.5 587.7L1074.6 588.7L1075.4 588.3L1076.2 588.8L1076.2 589.1L1077.0 587.9L1077.8 587.1L1077.8 589.6L1078.6 584.1L1079.4 581.2L1079.4 585.5L1080.2 585.5L1080.5 587.1L1081.0 586.0L1081.8 584.5L1082.1 583.9L1082.6 584.9L1083.4 586.3L1083.8 587.1L1084.2 586.8L1085.0 585.9L1085.8 587.5L1085.9 585.0L1086.6 586.1L1087.4 587.6L1087.6 587.7L1088.2 587.4L1089.0 587.9L1089.7 586.6L1089.8 586.6L1090.6 588.1L1091.4 586.1L1091.9 586.0L1092.2 587.9L1093.0 583.0L1093.5 581.7L1093.8 585.5L1094.6 583.9L1094.6 583.9L1095.4 584.7L1095.7 580.1L1096.2 582.8L1096.8 586.0L1097.0 584.9L1097.8 586.7L1098.4 587.1L1098.6 587.1L1099.4 587.4L1100.2 587.6L1100.6 587.7L1101.0 587.6L1101.8 589.3L1102.6 587.2L1102.8 587.1L1103.4 588.4L1104.2 587.5L1104.9 587.7L1105.0 588.5L1105.8 587.5L1106.6 589.2L1107.4 587.2L1107.7 587.1L1108.2 588.1L1109.0 586.4L1109.8 586.0L1109.8 588.0L1110.6 584.6L1111.4 586.1L1112.0 582.2L1112.2 583.2L1113.0 584.3L1113.1 587.7L1113.8 587.2L1114.6 587.8L1115.3 586.0L1115.4 585.9L1116.2 586.6L1116.9 584.4L1117.0 584.5L1117.8 585.1L1118.5 586.0L1118.6 586.0L1119.4 587.2L1120.2 586.7L1121.0 587.3L1121.1 587.1L1121.7 587.7L1122.5 588.6L1123.3 589.3L1123.3 589.3L1124.1 589.7L1124.9 589.1L1125.3 589.0L1125.5 589.3L1125.7 590.7L1126.5 589.2L1127.3 590.0L1128.1 589.1L1128.7 589.0L1128.9 590.0L1129.7 589.0L1130.5 590.1L1131.3 589.0L1132.1 589.0L1132.1 590.6L1132.9 588.2L1133.7 589.1L1134.5 586.5L1135.3 588.2L1135.4 585.6L1136.1 584.6L1136.9 585.6L1137.1 583.1L1137.7 584.6L1138.5 585.6L1138.8 587.3L1139.3 587.3L1140.1 588.3L1140.9 587.3L1141.7 587.6L1142.2 587.3L1142.5 586.8L1143.3 587.8L1144.1 584.4L1144.9 585.0L1145.6 582.2L1145.7 582.5L1146.5 583.0L1147.3 587.3L1147.3 587.3L1148.1 588.7L1148.9 587.3L1149.7 587.8L1150.5 587.3L1150.6 587.3L1151.3 588.3L1152.0 573.0L1152.1 573.2L1152.9 575.9L1153.2 575.5L1153.7 576.2L1154.5 578.4L1154.9 578.0L1155.3 578.4L1156.1 579.9L1156.9 580.1L1157.4 580.6L1157.7 582.1L1158.5 581.6L1159.1 582.2L1159.3 583.8L1160.1 581.6L1160.9 584.4L1161.6 580.6L1161.7 580.5L1162.5 581.3L1163.3 579.5L1164.1 581.7L1164.2 578.9L1164.9 580.3L1165.7 581.5L1166.5 583.5L1166.7 583.9L1167.3 584.8L1168.1 582.9L1168.9 585.8L1169.2 582.2L1169.7 582.0L1170.5 584.0L1171.3 581.2L1172.1 583.4L1172.6 580.6L1172.9 580.4L1173.7 583.1L1174.5 579.1L1175.3 582.4L1176.0 578.0L1176.1 577.9L1176.9 579.8L1177.7 576.7L1178.5 579.1L1179.3 575.6L1179.4 575.5L1180.1 577.6L1180.8 575.0L1181.6 577.0L1181.8 574.6L1182.4 574.2L1183.2 576.8L1184.0 573.2L1184.3 573.0L1184.8 575.0L1185.6 574.2L1186.4 576.3L1186.9 575.5L1187.2 575.3L1188.0 577.2L1188.8 574.2L1189.4 573.8L1189.6 577.5L1190.4 574.8L1191.2 577.4L1192.0 576.4L1192.8 577.2L1192.8 579.5L1193.6 576.7L1194.4 580.0L1195.2 575.6L1195.3 575.5L1196.0 576.8L1196.5 560.3L1196.8 561.5L1197.6 563.6L1197.8 565.4L1198.4 544.0L1199.2 515.5L1199.2 547.3L1200.0 545.1L1200.0 545.1L1200.8 548.1L1201.2 565.4L1201.6 564.2L1202.4 565.1L1202.9 560.3L1203.2 558.2L1204.0 559.1L1204.6 548.5L1204.8 547.8L1205.6 549.6L1206.3 542.5L1206.4 542.8L1207.2 543.6L1208.0 548.5L1208.0 548.5L1208.8 549.7L1209.6 554.8L1209.7 555.2L1210.4 555.5L1211.3 555.2L1210.7 555.2 L1210.7 592.2Z" fill="#000"/></g><rect x="736.8" y="313.7" width="472.9" height="277.5" fill="none" stroke="#222" stroke-width="1.5"/><line x1="731.3" y1="328.0" x2="736.8" y2="328.0" stroke="#333" stroke-width="1.2"/><text x="729.3" y="328.6" font-size="20" fill="#1a1a1a" text-anchor="end" dominant-baseline="central">25</text><line x1="731.3" y1="352.4" x2="736.8" y2="352.4" stroke="#333" stroke-width="1.2"/><text x="729.3" y="353.0" font-size="20" fill="#1a1a1a" text-anchor="end" dominant-baseline="central">100</text><line x1="731.3" y1="384.5" x2="736.8" y2="384.5" stroke="#333" stroke-width="1.2"/><text x="729.3" y="385.1" font-size="20" fill="#1a1a1a" text-anchor="end" dominant-baseline="central">300</text><line x1="731.3" y1="417.7" x2="736.8" y2="417.7" stroke="#333" stroke-width="1.2"/><text x="729.3" y="418.3" font-size="20" fill="#1a1a1a" text-anchor="end" dominant-baseline="central">500</text><line x1="731.3" y1="458.0" x2="736.8" y2="458.0" stroke="#333" stroke-width="1.2"/><text x="729.3" y="458.6" font-size="20" fill="#1a1a1a" text-anchor="end" dominant-baseline="central">1000</text><line x1="731.3" y1="498.5" x2="736.8" y2="498.5" stroke="#333" stroke-width="1.2"/><text x="729.3" y="499.1" font-size="20" fill="#1a1a1a" text-anchor="end" dominant-baseline="central">2000</text><line x1="731.3" y1="539.1" x2="736.8" y2="539.1" stroke="#333" stroke-width="1.2"/><text x="729.3" y="539.7" font-size="20" fill="#1a1a1a" text-anchor="end" dominant-baseline="central">3000</text><line x1="731.3" y1="583.5" x2="736.8" y2="583.5" stroke="#333" stroke-width="1.2"/><text x="729.3" y="584.1" font-size="20" fill="#1a1a1a" text-anchor="end" dominant-baseline="central">5000</text><line x1="774.2" y1="591.2" x2="774.2" y2="596.7" stroke="#333" stroke-width="1.2"/><text x="774.8" y="622.0" font-size="20" fill="#1a1a1a" text-anchor="middle">60°S</text><line x1="849.3" y1="591.2" x2="849.3" y2="596.7" stroke="#333" stroke-width="1.2"/><text x="855.3" y="622.0" font-size="20" fill="#1a1a1a" text-anchor="middle">40°S</text><line x1="924.9" y1="591.2" x2="924.9" y2="596.7" stroke="#333" stroke-width="1.2"/><text x="931.4" y="622.0" font-size="20" fill="#1a1a1a" text-anchor="middle">20°S</text><line x1="1000.5" y1="591.2" x2="1000.5" y2="596.7" stroke="#333" stroke-width="1.2"/><text x="1005.3" y="622.0" font-size="20" fill="#1a1a1a" text-anchor="middle">EQ</text><line x1="1075.2" y1="591.2" x2="1075.2" y2="596.7" stroke="#333" stroke-width="1.2"/><text x="1079.7" y="622.0" font-size="20" fill="#1a1a1a" text-anchor="middle">20°N</text><line x1="1151.2" y1="591.2" x2="1151.2" y2="596.7" stroke="#333" stroke-width="1.2"/><text x="1156.2" y="622.0" font-size="20" fill="#1a1a1a" text-anchor="middle">40°N</text><text transform="translate(668.7 454.5) rotate(-90)" font-size="23.3" fill="#000" text-anchor="middle">Depth (m)</text><text x="971.2" y="661.0" font-size="23.3" fill="#000" text-anchor="middle">Latitude</text><rect x="1217.3" y="313.4" width="16.3" height="277.1" fill="url(#cbg)" stroke="#222" stroke-width="1.2"/><line x1="1233.6" y1="590.5" x2="1236.9" y2="590.5" stroke="#333" stroke-width="1.2"/><text x="1242.0" y="591.5" font-size="19.5" fill="#333" dominant-baseline="central">0.01</text><line x1="1233.6" y1="550.9" x2="1236.9" y2="550.9" stroke="#333" stroke-width="1.2"/><text x="1242.0" y="551.9" font-size="19.5" fill="#333" dominant-baseline="central">0.02</text><line x1="1233.6" y1="511.3" x2="1236.9" y2="511.3" stroke="#333" stroke-width="1.2"/><text x="1242.0" y="512.3" font-size="19.5" fill="#333" dominant-baseline="central">0.03</text><line x1="1233.6" y1="471.7" x2="1236.9" y2="471.7" stroke="#333" stroke-width="1.2"/><text x="1242.0" y="472.7" font-size="19.5" fill="#333" dominant-baseline="central">0.04</text><line x1="1233.6" y1="432.2" x2="1236.9" y2="432.2" stroke="#333" stroke-width="1.2"/><text x="1242.0" y="433.2" font-size="19.5" fill="#333" dominant-baseline="central">0.05</text><line x1="1233.6" y1="392.6" x2="1236.9" y2="392.6" stroke="#333" stroke-width="1.2"/><text x="1242.0" y="393.6" font-size="19.5" fill="#333" dominant-baseline="central">0.06</text><line x1="1233.6" y1="353.0" x2="1236.9" y2="353.0" stroke="#333" stroke-width="1.2"/><text x="1242.0" y="354.0" font-size="19.5" fill="#333" dominant-baseline="central">0.07</text><line x1="1233.6" y1="313.4" x2="1236.9" y2="313.4" stroke="#333" stroke-width="1.2"/><text x="1242.0" y="314.4" font-size="19.5" fill="#333" dominant-baseline="central">0.08</text><g clip-path="url(#cpf)"><path d="M1394.8 591.3L1395.8 566.7L1396.6 566.7L1396.6 568.2L1397.4 567.2L1398.2 568.2L1398.3 567.8L1399.0 567.4L1399.8 569.9L1400.4 566.7L1400.6 567.1L1401.4 567.8L1401.5 568.9L1402.2 566.8L1403.0 568.9L1403.1 564.0L1403.8 566.4L1404.2 567.8L1404.6 568.0L1405.4 560.1L1405.9 556.9L1406.2 560.8L1406.9 565.6L1407.0 565.2L1407.8 567.2L1408.6 559.1L1408.6 559.1L1409.4 559.7L1409.7 564.5L1410.2 560.8L1411.0 562.6L1411.3 552.6L1411.8 557.5L1412.4 563.4L1412.6 558.2L1413.4 560.7L1414.0 559.1L1414.2 561.5L1415.0 558.6L1415.1 558.5L1415.8 560.3L1416.2 564.5L1416.6 561.5L1417.4 564.5L1417.8 552.6L1418.2 552.0L1418.9 550.9L1419.0 552.9L1419.8 551.9L1420.5 552.6L1420.6 553.0L1421.4 548.3L1422.1 545.0L1422.2 550.7L1423.0 536.4L1423.4 532.5L1423.8 539.7L1424.5 542.8L1424.6 542.7L1425.4 545.0L1426.2 541.5L1426.5 541.2L1427.0 543.1L1427.6 543.9L1427.8 542.9L1428.6 546.3L1428.7 538.4L1429.4 541.8L1429.7 543.3L1430.2 542.5L1431.0 540.4L1431.4 539.5L1431.8 543.5L1432.6 534.6L1433.0 533.0L1433.4 536.0L1434.2 529.8L1434.6 528.7L1435.0 530.7L1435.8 523.4L1436.3 521.1L1436.6 524.2L1437.4 523.7L1437.9 524.9L1438.2 525.2L1439.0 526.0L1439.5 526.5L1439.8 529.0L1440.6 531.0L1441.1 533.0L1441.4 532.0L1442.2 535.9L1442.8 537.4L1443.0 538.1L1443.8 538.7L1444.4 539.5L1444.6 541.1L1445.4 540.2L1446.0 540.6L1446.2 541.8L1447.0 542.6L1447.7 543.9L1447.8 544.7L1448.6 545.1L1449.3 546.0L1449.4 545.8L1450.2 546.6L1450.9 547.1L1451.0 547.3L1451.8 547.7L1452.5 548.2L1452.6 548.9L1453.4 550.5L1454.2 552.6L1454.2 553.1L1455.0 555.7L1455.3 556.9L1455.8 557.5L1456.3 544.4L1456.6 549.0L1457.4 561.2L1457.4 550.4L1458.2 562.2L1459.0 564.5L1459.1 563.4L1459.8 558.9L1460.1 556.9L1460.6 560.7L1461.4 562.7L1461.8 564.5L1462.2 564.1L1463.0 565.3L1463.4 565.6L1463.8 568.2L1464.6 564.0L1465.0 563.4L1465.4 566.6L1466.2 565.0L1466.7 565.6L1467.0 566.2L1467.7 568.9L1467.8 568.6L1468.6 570.8L1468.8 565.6L1469.4 566.4L1470.2 568.5L1470.5 567.8L1471.0 567.5L1471.8 570.6L1472.1 566.7L1472.6 564.6L1473.0 562.9L1473.4 567.3L1474.2 563.4L1474.3 563.4L1475.0 564.7L1475.2 576.5L1475.8 577.3L1476.6 580.7L1476.8 578.6L1477.4 577.1L1478.2 578.0L1479.0 573.2L1479.0 573.2L1479.8 575.0L1480.6 572.8L1481.1 572.7L1481.4 575.6L1482.2 575.8L1482.8 577.5L1483.0 576.8L1483.8 576.2L1484.4 575.4L1484.6 578.2L1485.4 577.1L1486.2 577.7L1486.6 579.2L1487.0 579.6L1487.8 582.1L1488.2 580.8L1488.6 581.1L1489.4 583.9L1489.8 581.9L1490.2 582.0L1491.0 584.2L1491.5 582.4L1491.8 580.9L1492.6 584.0L1493.1 574.3L1493.4 576.7L1494.2 578.1L1494.2 583.0L1495.0 583.0L1495.8 584.3L1495.8 583.0L1496.6 581.9L1497.4 584.2L1497.4 580.8L1498.2 574.9L1499.0 577.1L1499.3 566.7L1499.8 571.7L1500.6 573.6L1500.7 580.8L1501.4 582.2L1502.2 585.3L1502.3 584.1L1503.0 581.5L1503.8 584.8L1504.5 575.9L1504.6 576.5L1505.4 578.4L1505.6 581.9L1506.2 582.5L1507.0 585.0L1507.7 584.1L1507.8 584.1L1508.6 584.5L1509.4 584.9L1509.9 585.1L1510.2 586.2L1511.0 586.6L1511.5 587.3L1511.8 587.8L1512.6 585.7L1513.4 587.4L1513.7 584.1L1514.2 585.4L1515.1 586.9L1515.4 588.4L1515.9 588.7L1516.7 589.3L1517.5 589.5L1517.6 589.5L1518.3 590.3L1519.1 589.5L1519.9 590.3L1520.7 589.5L1520.9 589.5L1521.5 589.8L1522.3 585.7L1522.5 585.1L1523.1 586.6L1523.6 577.0L1523.9 578.9L1524.7 579.9L1524.7 584.1L1525.5 583.7L1526.3 584.1L1526.8 583.0L1527.1 582.6L1527.9 583.3L1528.7 580.7L1529.0 580.3L1529.5 583.5L1530.3 583.4L1530.6 584.1L1531.1 583.8L1531.9 582.8L1532.7 584.0L1532.8 581.9L1533.5 581.4L1534.3 583.1L1534.4 580.8L1535.1 580.1L1535.9 583.3L1536.1 579.2L1536.7 578.7L1537.5 579.5L1538.2 577.5L1538.3 577.0L1539.1 578.9L1539.3 572.1L1539.9 572.5L1540.7 574.6L1541.0 573.2L1541.5 574.2L1542.3 577.4L1542.6 576.5L1543.1 573.5L1543.7 569.9L1543.9 576.5L1544.7 572.7L1545.3 574.3L1545.5 575.7L1546.3 570.2L1546.9 567.8L1547.1 571.6L1547.9 561.8L1548.0 561.2L1548.7 563.6L1549.1 566.7L1549.5 564.5L1550.3 566.1L1550.4 559.6L1551.1 567.8L1551.1 567.8L1551.8 567.8L1551.9 571.0L1552.7 570.9L1552.8 571.2L1553.5 574.2L1554.3 548.1L1554.5 545.0L1555.1 549.0L1555.8 559.4L1555.9 559.7L1556.7 560.8L1557.5 564.8L1557.9 566.1L1558.3 566.0L1559.1 567.7L1559.9 568.9L1560.4 569.5L1560.7 568.2L1561.5 570.1L1562.3 561.2L1563.1 563.5L1563.3 556.8L1563.9 563.5L1564.6 571.2L1564.7 564.7L1565.5 571.2L1566.3 571.7L1566.3 571.2L1567.1 550.9L1567.5 540.8L1567.9 552.7L1568.5 578.0L1568.7 577.4L1569.5 579.0L1570.3 572.7L1570.5 572.1L1571.1 574.9L1571.9 568.0L1572.7 571.4L1573.1 564.5L1573.5 563.2L1574.3 565.8L1574.7 559.4L1575.1 561.4L1575.9 563.4L1576.4 567.8L1576.7 567.6L1577.5 570.0L1578.3 566.6L1579.0 566.1L1579.1 569.1L1579.9 564.3L1580.7 565.0L1581.5 561.1L1581.5 561.1L1582.3 564.3L1582.9 545.0L1583.1 548.6L1583.9 551.4L1584.0 564.5L1584.7 565.9L1585.5 569.0L1585.7 567.8L1586.3 561.1L1586.9 554.3L1587.1 564.0L1587.9 559.2L1588.3 561.1L1588.7 560.8L1589.5 558.7L1590.0 557.7L1590.3 560.4L1591.1 550.8L1591.6 547.6L1591.9 551.6L1592.7 539.9L1593.3 535.7L1593.5 542.3L1594.3 533.9L1594.7 533.2L1595.1 534.6L1595.9 547.6L1595.9 547.6L1596.7 548.3L1597.5 555.5L1597.6 556.0L1598.3 556.6L1599.1 560.1L1599.9 561.1L1600.1 562.8L1600.7 559.3L1601.4 555.2L1601.5 560.8L1602.3 562.2L1602.6 564.5L1603.1 562.8L1603.9 563.2L1604.3 562.8L1604.7 563.7L1605.5 505.3L1605.5 505.3L1606.3 506.3L1606.5 494.3L1607.1 497.3L1607.7 500.2L1607.9 498.1L1608.7 503.1L1608.9 503.6L1609.5 504.7L1610.2 556.0L1610.3 556.7L1611.1 557.3L1611.9 567.8L1611.9 567.8L1612.7 570.9L1613.5 564.7L1613.6 564.5L1614.3 567.0L1615.1 573.4L1615.3 574.6L1615.9 574.4L1616.7 576.0L1617.5 577.3L1617.8 577.1L1618.3 576.6L1619.1 578.2L1619.9 575.1L1620.4 574.6L1620.7 576.7L1621.5 563.0L1622.0 557.7L1622.3 563.9L1623.1 551.7L1623.7 548.4L1623.9 554.7L1624.7 567.4L1624.9 571.2L1625.5 570.9L1626.3 576.6L1627.1 578.5L1627.1 579.7L1627.9 580.8L1628.7 582.7L1629.1 580.5L1629.1 582.4L1629.5 581.0L1630.3 581.7L1631.1 582.8L1631.3 583.0L1631.9 583.6L1632.7 583.7L1633.4 584.1L1633.5 584.5L1634.3 580.6L1635.1 581.9L1635.1 577.5L1635.9 578.1L1636.7 581.0L1636.7 578.6L1637.5 581.4L1638.3 582.3L1638.3 584.1L1639.1 580.5L1639.9 581.1L1640.0 576.5L1640.7 575.5L1641.5 578.9L1641.6 574.3L1642.3 571.9L1642.7 570.5L1643.1 574.0L1643.9 570.9L1644.3 571.0L1644.7 571.8L1645.5 571.3L1646.3 573.5L1646.5 571.6L1647.1 571.7L1647.9 572.3L1648.6 572.1L1648.7 572.2L1649.5 574.3L1650.3 573.3L1650.8 573.7L1651.1 576.8L1651.9 574.5L1652.4 574.8L1652.7 577.6L1653.5 574.6L1654.3 577.1L1654.6 574.3L1655.1 573.3L1655.9 574.6L1656.2 571.0L1656.7 569.1L1657.3 566.7L1657.5 570.7L1658.3 566.7L1659.0 566.7L1659.1 567.7L1659.9 570.1L1660.0 570.5L1660.7 572.9L1661.5 568.1L1661.7 567.8L1662.3 570.2L1663.1 567.1L1663.8 566.7L1663.9 569.9L1664.7 563.8L1665.5 565.3L1665.5 561.2L1666.3 565.2L1666.6 566.7L1667.1 566.4L1667.9 568.5L1668.2 568.9L1668.7 571.4L1669.5 571.5L1669.8 572.1L1670.3 575.0L1670.9 574.3L1671.1 575.5L1671.9 578.5L1672.0 580.8L1672.7 578.9L1673.5 581.8L1673.6 576.5L1674.3 575.8L1674.7 575.4L1675.1 578.8L1675.8 580.8L1675.9 580.5L1676.7 583.3L1677.4 576.5L1677.5 576.8L1678.3 578.0L1679.0 580.8L1679.1 580.6L1679.9 582.7L1680.7 577.5L1680.7 577.5L1681.5 579.1L1681.8 575.4L1682.3 578.1L1682.8 580.8L1683.1 578.7L1683.9 581.8L1684.5 582.4L1684.7 582.4L1685.5 582.4L1686.1 582.4L1686.3 583.7L1687.1 580.7L1687.9 582.0L1688.3 578.6L1688.7 578.5L1689.5 581.1L1689.9 578.1L1690.3 578.0L1691.1 581.3L1691.5 577.5L1691.9 577.3L1692.7 579.1L1693.2 576.5L1693.5 576.3L1694.3 579.6L1694.8 575.4L1695.1 576.1L1695.9 579.6L1695.9 578.1L1696.7 580.9L1697.0 581.9L1697.5 584.2L1698.3 582.8L1698.6 583.0L1699.1 584.4L1699.9 583.9L1700.2 584.1L1700.7 584.5L1701.5 584.9L1701.8 585.1L1702.3 585.5L1703.1 584.8L1703.9 585.4L1704.0 584.6L1704.7 585.1L1705.5 585.7L1706.2 586.2L1706.3 586.1L1707.1 585.1L1707.1 587.3L1707.9 582.8L1708.2 581.9L1708.7 586.0L1709.3 586.2L1709.5 585.9L1710.3 587.4L1711.1 583.5L1711.4 583.0L1711.9 584.4L1712.5 585.7L1712.7 585.6L1713.5 586.8L1714.3 584.8L1714.7 584.6L1715.1 586.3L1715.8 586.2L1715.9 586.2L1716.7 586.5L1717.5 585.4L1718.0 585.1L1718.3 586.6L1719.1 583.4L1719.9 585.0L1720.1 581.9L1720.7 584.2L1721.2 586.2L1721.5 585.7L1722.3 585.7L1723.1 587.0L1723.4 585.1L1723.9 585.4L1724.7 586.3L1725.5 586.2L1725.6 586.2L1726.3 586.7L1727.1 586.7L1727.9 588.2L1728.7 587.3L1728.8 587.3L1729.5 588.0L1730.3 587.3L1731.1 588.8L1731.9 587.3L1732.1 587.3L1732.7 589.0L1733.5 587.0L1734.2 586.8L1734.3 587.8L1735.1 587.4L1735.9 587.9L1735.9 588.2L1736.7 587.1L1737.5 586.2L1737.5 588.7L1738.3 583.3L1739.1 580.3L1739.1 584.6L1739.9 584.6L1740.2 586.2L1740.7 585.1L1741.5 583.6L1741.8 583.0L1742.3 584.0L1743.1 585.4L1743.5 586.2L1743.9 585.9L1744.7 585.0L1745.5 586.6L1745.6 584.1L1746.3 585.2L1747.1 586.7L1747.3 586.8L1747.9 586.5L1748.7 587.0L1749.4 585.7L1749.5 585.7L1750.3 587.2L1751.1 585.2L1751.7 585.1L1752.0 587.0L1752.8 582.1L1753.3 580.8L1753.6 584.6L1754.4 583.0L1754.4 583.0L1755.2 583.8L1755.5 579.2L1756.0 581.9L1756.6 585.1L1756.8 584.0L1757.6 585.8L1758.2 586.2L1758.4 586.2L1759.2 586.5L1760.0 586.7L1760.4 586.8L1760.8 586.7L1761.6 588.4L1762.4 586.3L1762.6 586.2L1763.2 587.5L1764.0 586.6L1764.7 586.8L1764.8 587.6L1765.6 586.6L1766.4 588.3L1767.2 586.3L1767.5 586.2L1768.0 587.2L1768.8 585.5L1769.6 585.1L1769.6 587.1L1770.4 583.7L1771.2 585.2L1771.8 581.3L1772.0 582.3L1772.8 583.4L1772.9 586.8L1773.6 586.3L1774.4 586.9L1775.1 585.1L1775.2 585.0L1776.0 585.7L1776.7 583.5L1776.8 583.6L1777.6 584.2L1778.3 585.1L1778.4 585.1L1779.2 586.3L1780.0 585.8L1780.8 586.4L1781.0 586.2L1781.6 586.8L1782.4 587.7L1783.2 588.4L1783.2 588.4L1784.0 588.8L1784.8 588.2L1785.2 588.1L1785.4 588.4L1785.6 589.8L1786.4 588.3L1787.2 589.1L1788.0 588.2L1788.6 588.1L1788.8 589.1L1789.6 588.1L1790.4 589.2L1791.2 588.1L1792.0 588.1L1792.0 589.7L1792.8 587.3L1793.6 588.2L1794.4 585.6L1795.2 587.3L1795.3 584.7L1796.0 583.7L1796.8 584.7L1797.0 582.2L1797.6 583.7L1798.4 584.7L1798.7 586.4L1799.2 586.4L1800.0 587.4L1800.8 586.4L1801.6 586.7L1802.1 586.4L1802.4 586.0L1803.2 586.9L1804.0 583.6L1804.8 584.1L1805.5 581.3L1805.6 581.6L1806.4 582.1L1807.2 586.4L1807.2 586.4L1808.0 587.8L1808.8 586.4L1809.6 586.9L1810.4 586.4L1810.5 586.4L1811.2 587.4L1811.9 572.1L1812.0 572.3L1812.8 575.0L1813.1 574.6L1813.6 575.3L1814.4 577.5L1814.8 577.1L1815.2 577.5L1816.0 579.0L1816.8 579.2L1817.3 579.7L1817.6 581.2L1818.4 580.7L1819.0 581.3L1819.2 582.9L1820.0 580.7L1820.8 583.5L1821.5 579.7L1821.6 579.6L1822.4 580.5L1823.2 578.6L1824.0 580.8L1824.1 578.0L1824.8 579.4L1825.6 580.6L1826.4 582.6L1826.6 583.0L1827.2 583.9L1828.0 582.1L1828.8 584.9L1829.1 581.3L1829.6 581.1L1830.4 583.1L1831.2 580.3L1832.0 582.5L1832.5 579.7L1832.8 579.5L1833.6 582.3L1834.4 578.3L1835.2 581.5L1835.9 577.1L1836.0 577.0L1836.8 578.9L1837.6 575.9L1838.4 578.2L1839.2 574.7L1839.3 574.6L1840.0 576.7L1840.8 574.1L1841.6 576.1L1841.8 573.7L1842.4 573.3L1843.2 575.9L1844.0 572.3L1844.3 572.1L1844.8 574.2L1845.6 573.4L1846.4 575.5L1846.9 574.6L1847.2 574.4L1848.0 576.3L1848.8 573.3L1849.4 572.9L1849.6 576.6L1850.4 573.9L1851.2 576.5L1852.0 575.5L1852.8 576.3L1852.8 578.6L1853.6 575.8L1854.4 579.1L1855.2 574.7L1855.3 574.6L1856.0 576.0L1856.5 559.4L1856.8 560.6L1857.6 562.8L1857.8 564.5L1858.4 543.1L1859.2 514.6L1859.2 546.5L1860.0 544.2L1860.0 544.2L1860.8 547.2L1861.2 564.5L1861.6 563.3L1862.4 564.2L1862.9 559.4L1863.2 557.3L1864.0 558.2L1864.6 547.6L1864.8 546.9L1865.6 548.7L1866.3 541.6L1866.4 542.0L1867.2 542.7L1868.0 547.6L1868.0 547.6L1868.8 548.8L1869.6 553.9L1869.7 554.3L1870.4 554.6L1871.3 554.3L1870.7 554.3 L1870.7 591.3Z" fill="#000"/></g><rect x="1395.8" y="313.0" width="473.9" height="277.3" fill="none" stroke="#222" stroke-width="1.5"/><line x1="1390.3" y1="327.3" x2="1395.8" y2="327.3" stroke="#333" stroke-width="1.2"/><text x="1388.3" y="327.9" font-size="20" fill="#1a1a1a" text-anchor="end" dominant-baseline="central">25</text><line x1="1390.3" y1="351.7" x2="1395.8" y2="351.7" stroke="#333" stroke-width="1.2"/><text x="1388.3" y="352.3" font-size="20" fill="#1a1a1a" text-anchor="end" dominant-baseline="central">100</text><line x1="1390.3" y1="383.8" x2="1395.8" y2="383.8" stroke="#333" stroke-width="1.2"/><text x="1388.3" y="384.4" font-size="20" fill="#1a1a1a" text-anchor="end" dominant-baseline="central">300</text><line x1="1390.3" y1="417.0" x2="1395.8" y2="417.0" stroke="#333" stroke-width="1.2"/><text x="1388.3" y="417.6" font-size="20" fill="#1a1a1a" text-anchor="end" dominant-baseline="central">500</text><line x1="1390.3" y1="457.1" x2="1395.8" y2="457.1" stroke="#333" stroke-width="1.2"/><text x="1388.3" y="457.7" font-size="20" fill="#1a1a1a" text-anchor="end" dominant-baseline="central">1000</text><line x1="1390.3" y1="497.6" x2="1395.8" y2="497.6" stroke="#333" stroke-width="1.2"/><text x="1388.3" y="498.2" font-size="20" fill="#1a1a1a" text-anchor="end" dominant-baseline="central">2000</text><line x1="1390.3" y1="538.2" x2="1395.8" y2="538.2" stroke="#333" stroke-width="1.2"/><text x="1388.3" y="538.8" font-size="20" fill="#1a1a1a" text-anchor="end" dominant-baseline="central">3000</text><line x1="1390.3" y1="582.6" x2="1395.8" y2="582.6" stroke="#333" stroke-width="1.2"/><text x="1388.3" y="583.2" font-size="20" fill="#1a1a1a" text-anchor="end" dominant-baseline="central">5000</text><line x1="1433.5" y1="590.3" x2="1433.5" y2="595.8" stroke="#333" stroke-width="1.2"/><text x="1429.9" y="622.0" font-size="20" fill="#1a1a1a" text-anchor="middle">60°S</text><line x1="1508.6" y1="590.3" x2="1508.6" y2="595.8" stroke="#333" stroke-width="1.2"/><text x="1510.2" y="622.0" font-size="20" fill="#1a1a1a" text-anchor="middle">40°S</text><line x1="1584.4" y1="590.3" x2="1584.4" y2="595.8" stroke="#333" stroke-width="1.2"/><text x="1586.4" y="622.0" font-size="20" fill="#1a1a1a" text-anchor="middle">20°S</text><line x1="1660.2" y1="590.3" x2="1660.2" y2="595.8" stroke="#333" stroke-width="1.2"/><text x="1660.4" y="622.0" font-size="20" fill="#1a1a1a" text-anchor="middle">EQ</text><line x1="1735.5" y1="590.3" x2="1735.5" y2="595.8" stroke="#333" stroke-width="1.2"/><text x="1735.0" y="622.0" font-size="20" fill="#1a1a1a" text-anchor="middle">20°N</text><line x1="1811.2" y1="590.3" x2="1811.2" y2="595.8" stroke="#333" stroke-width="1.2"/><text x="1811.4" y="622.0" font-size="20" fill="#1a1a1a" text-anchor="middle">40°N</text><text transform="translate(1327.7 453.6) rotate(-90)" font-size="23.3" fill="#000" text-anchor="middle">Depth (m)</text><text x="1631.2" y="661.8" font-size="23.3" fill="#000" text-anchor="middle">Latitude</text><rect x="1878.0" y="311.8" width="15.9" height="277.6" fill="url(#cbg)" stroke="#222" stroke-width="1.2"/><line x1="1893.9" y1="589.4" x2="1897.2" y2="589.4" stroke="#333" stroke-width="1.2"/><text x="1901.2" y="590.4" font-size="19.5" fill="#333" dominant-baseline="central">0</text><line x1="1893.9" y1="533.9" x2="1897.2" y2="533.9" stroke="#333" stroke-width="1.2"/><text x="1901.2" y="534.9" font-size="19.5" fill="#333" dominant-baseline="central">0.01</text><line x1="1893.9" y1="478.4" x2="1897.2" y2="478.4" stroke="#333" stroke-width="1.2"/><text x="1901.2" y="479.4" font-size="19.5" fill="#333" dominant-baseline="central">0.02</text><line x1="1893.9" y1="422.8" x2="1897.2" y2="422.8" stroke="#333" stroke-width="1.2"/><text x="1901.2" y="423.8" font-size="19.5" fill="#333" dominant-baseline="central">0.03</text><line x1="1893.9" y1="367.3" x2="1897.2" y2="367.3" stroke="#333" stroke-width="1.2"/><text x="1901.2" y="368.3" font-size="19.5" fill="#333" dominant-baseline="central">0.04</text><line x1="1893.9" y1="311.8" x2="1897.2" y2="311.8" stroke="#333" stroke-width="1.2"/><text x="1901.2" y="312.8" font-size="19.5" fill="#333" dominant-baseline="central">0.05</text><filter id="bl2" filterUnits="userSpaceOnUse" x="1390" y="5" width="490" height="290" color-interpolation-filters="sRGB"><feGaussianBlur stdDeviation="0.9"/></filter><g clip-path="url(#cpc)" filter="url(#bl2)"><path d="M1591.2 120 L1591.2 187" stroke="#eef7f2" stroke-width="6.5" stroke-linecap="round" fill="none"/><path d="M1591.2 121 L1591.2 185" stroke="#5a86c2" stroke-width="2.2" stroke-linecap="round" fill="none"/></g><g clip-path="url(#cpc)"><path d="M1487.0 9.4L1487.0 10.0L1492.0 12.5L1524.3 14.5L1529.3 16.2L1564.1 17.4L1569.1 19.4L1599.0 20.4L1601.4 21.9L1633.8 22.9L1638.8 24.9L1673.6 26.1L1678.6 28.1L1713.4 29.1L1715.9 31.1L1750.7 31.9L1755.7 33.6L1788.0 34.9L1793.0 36.6L1827.8 37.3L1831.5 39.1L1855.2 39.1L1862.6 36.8L1870.1 38.6L1873.8 38.6L1872.4 9.4Z" fill="#fff"/><path d="M1487.0 10.0L1492.0 12.5L1524.3 14.5L1529.3 16.2L1564.1 17.4L1569.1 19.4L1599.0 20.4L1601.4 21.9L1633.8 22.9L1638.8 24.9L1673.6 26.1L1678.6 28.1L1713.4 29.1L1715.9 31.1L1750.7 31.9L1755.7 33.6L1788.0 34.9L1793.0 36.6L1827.8 37.3L1831.5 39.1L1855.2 39.1L1862.6 36.8L1870.1 38.6L1873.8 38.6" fill="none" stroke="#3a58a6" stroke-width="1" stroke-opacity="0.6"/></g><rect x="1395.3" y="9.4" width="475.1" height="278.6" fill="none" stroke="#222" stroke-width="1.5"/><text x="419.4" y="264.2" font-size="39" font-style="italic" fill="#000">a</text><text x="439.8" y="272.6" font-size="25.5" fill="#000">g</text><text x="455.1" y="263.6" font-size="39" fill="#000">(275)</text><text x="1062.8" y="264.7" font-size="39" font-style="italic" fill="#000">a</text><text x="1083.7" y="273.8" font-size="25.5" fill="#000">g</text><text x="1098.1" y="265.1" font-size="39" fill="#000">(380)</text><text x="1789.3" y="263.7" font-size="40.5" font-style="italic" fill="#000">B</text><text x="1814.0" y="273.5" font-size="26.3" fill="#000">1</text><text x="1830.2" y="265.5" font-size="44" fill="#000">’</text><text x="488.3" y="563.7" font-size="40.5" font-style="italic" fill="#000">B</text><text x="513.6" y="574.0" font-size="26.8" fill="#000">2</text><text x="527.8" y="563.1" font-size="34.7" fill="#000">’</text><text x="1060.6" y="565.6" font-size="40" font-style="italic" fill="#000">S</text><text x="1084.7" y="574.9" font-size="26.1" fill="#000">275-295</text><text x="1720.6" y="565.6" font-size="40" font-style="italic" fill="#000">S</text><text x="1745.0" y="574.7" font-size="26.1" fill="#000">380-443</text><text x="100.9" y="50.2" font-size="39.8" fill="#000">(a)</text><text x="749.0" y="50.2" font-size="39.8" fill="#000">(b)</text><text x="1408.8" y="49.8" font-size="39.8" fill="#000">(c)</text><text x="100.6" y="352.8" font-size="39.8" fill="#000">(d)</text><text x="751.7" y="352.8" font-size="39.8" fill="#000">(e)</text><text x="1407.1" y="352.8" font-size="39.8" fill="#000">(f)</text></svg></body></html>
